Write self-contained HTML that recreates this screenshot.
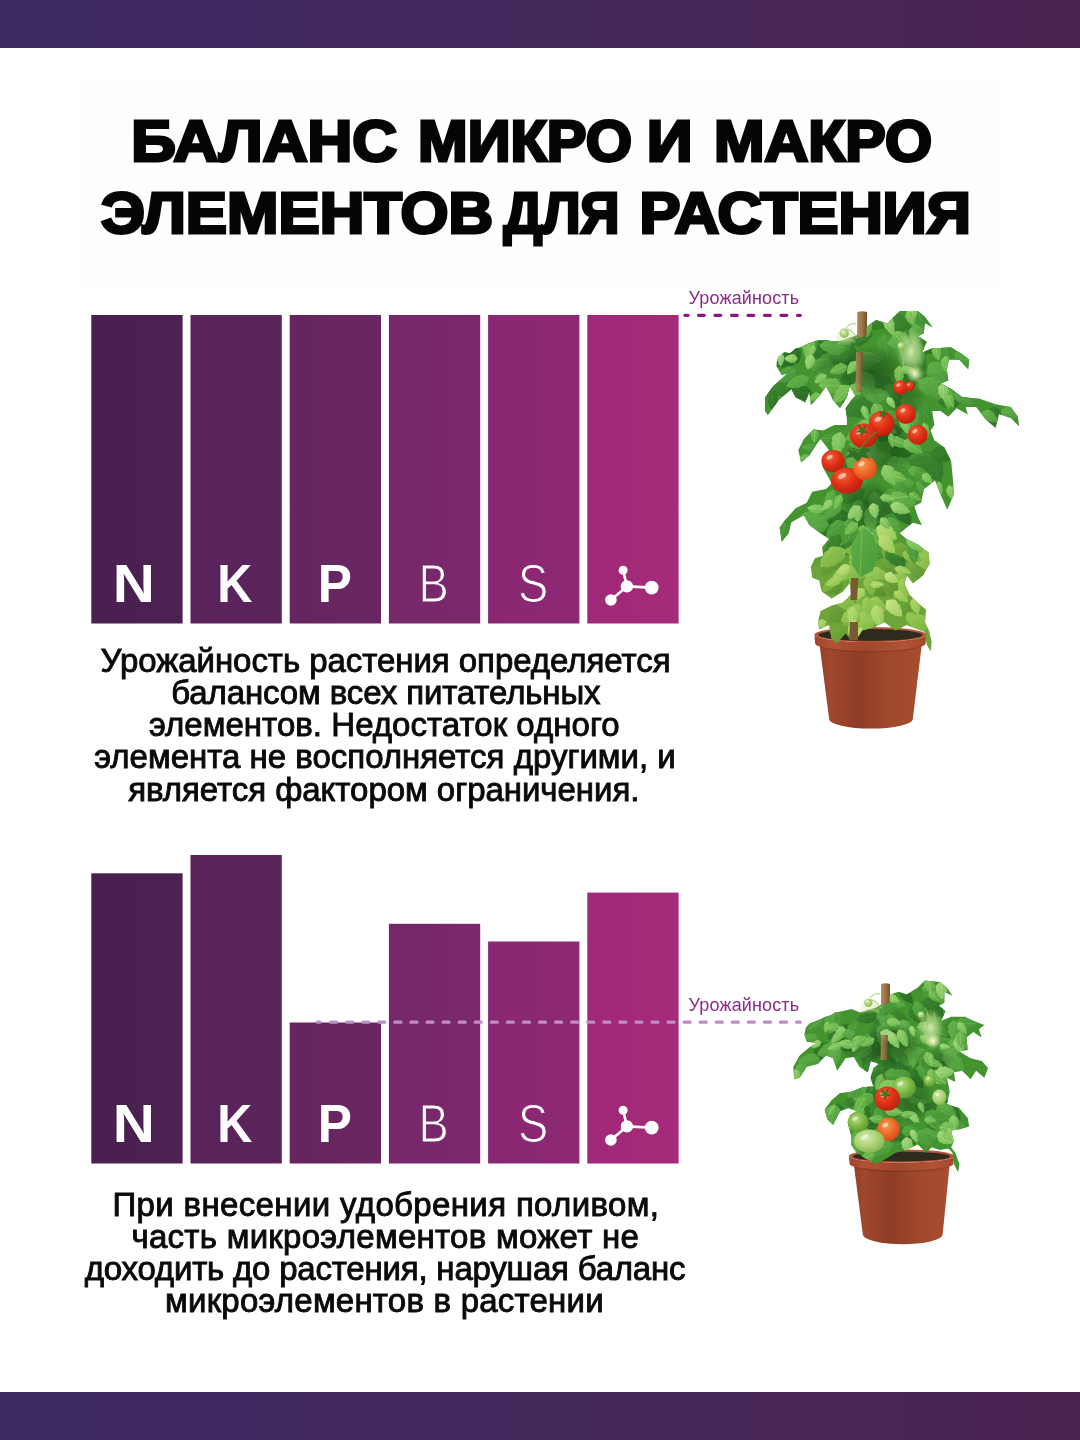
<!DOCTYPE html>
<html lang="ru"><head><meta charset="utf-8"><title>Баланс микро и макро элементов для растения</title>
<style>
html,body{margin:0;padding:0;background:#fff}
body{width:1080px;height:1440px;overflow:hidden;position:relative;font-family:"Liberation Sans",sans-serif}
svg{position:absolute;left:0;top:0;display:block}
text{font-family:"Liberation Sans",sans-serif}
.ttl{font-weight:700;font-size:57px;fill:#050505;stroke:#050505;stroke-width:3px;stroke-linejoin:miter}
.p{font-size:33px;fill:#0a0a0a;stroke:#0a0a0a;stroke-width:.9px;text-anchor:middle}
.lb{font-weight:700;font-size:54px;fill:#fff;text-anchor:middle}
.lt{font-size:54px;fill:#fff;text-anchor:middle;stroke-width:1.2px}
.cap{font-size:18px;fill:#8c2a8c}
</style></head>
<body>
<svg width="1080" height="1440" viewBox="0 0 1080 1440">
<defs>
<linearGradient id="hb" x1="0" x2="1" y1="0" y2="0"><stop offset="0" stop-color="#3d2a63"/><stop offset="0.5" stop-color="#44285c"/><stop offset="1" stop-color="#4a2350"/></linearGradient>
<linearGradient id="ag0" x1="0" x2="1" y1="0" y2="0"><stop offset="0" stop-color="#49204f"/><stop offset="1" stop-color="#4b2151"/></linearGradient><linearGradient id="ag1" x1="0" x2="1" y1="0" y2="0"><stop offset="0" stop-color="#59235a"/><stop offset="1" stop-color="#5c245c"/></linearGradient><linearGradient id="ag2" x1="0" x2="1" y1="0" y2="0"><stop offset="0" stop-color="#66255f"/><stop offset="1" stop-color="#6a2662"/></linearGradient><linearGradient id="ag3" x1="0" x2="1" y1="0" y2="0"><stop offset="0" stop-color="#76286a"/><stop offset="1" stop-color="#7a286b"/></linearGradient><linearGradient id="ag4" x1="0" x2="1" y1="0" y2="0"><stop offset="0" stop-color="#892872"/><stop offset="1" stop-color="#8e2874"/></linearGradient><linearGradient id="ag5" x1="0" x2="1" y1="0" y2="0"><stop offset="0" stop-color="#a02878"/><stop offset="1" stop-color="#a52a7a"/></linearGradient>
</defs>
<rect x="0" y="0" width="1080" height="48" fill="url(#hb)"/>
<rect x="0" y="1392" width="1080" height="48" fill="url(#hb)"/>
<rect x="80" y="78" width="920" height="208" fill="#fefefd"/>
<g id="title">
<text x="0" y="161.4" class="ttl" letter-spacing="0.06" transform="translate(131.2 0) scale(1.088 1)">БАЛАНС</text>
<text x="0" y="161.4" class="ttl" letter-spacing="0.03" transform="translate(418 0) scale(1.045 1)">МИКРО</text>
<text x="0" y="161.4" class="ttl" letter-spacing="0.0" transform="translate(646.7 0) scale(1.119 1)">И</text>
<text x="0" y="161.4" class="ttl" letter-spacing="-0.03" transform="translate(714.1 0) scale(1.064 1)">МАКРО</text>
<text x="0" y="233.4" class="ttl" letter-spacing="0.06" transform="translate(100.9 0) scale(1.082 1)">ЭЛЕМЕНТОВ</text>
<text x="0" y="233.4" class="ttl" letter-spacing="-0.15" transform="translate(503.5 0) scale(0.956 1)">ДЛЯ</text>
<text x="0" y="233.4" class="ttl" letter-spacing="-0.1" transform="translate(639.4 0) scale(1.077 1)">РАСТЕНИЯ</text>
</g>
<g id="chart1">
<rect x="91.3" y="315" width="91.3" height="308.5" fill="url(#ag0)"/>
<rect x="190.5" y="315" width="91.3" height="308.5" fill="url(#ag1)"/>
<rect x="289.7" y="315" width="91.3" height="308.5" fill="url(#ag2)"/>
<rect x="388.9" y="315" width="91.3" height="308.5" fill="url(#ag3)"/>
<rect x="488.1" y="315" width="91.3" height="308.5" fill="url(#ag4)"/>
<rect x="587.3" y="315" width="91.3" height="308.5" fill="url(#ag5)"/>
<text x="0" y="602" class="lb" transform="translate(133.8 0) scale(1.08 1)">N</text>
<text x="0" y="602" class="lb" transform="translate(234.8 0) scale(0.9 1)">K</text>
<text x="0" y="602" class="lb" transform="translate(334.9 0) scale(0.95 1)">P</text>
<text x="0" y="602" class="lt" stroke="#76286a" transform="translate(433.7 0) scale(.84 1)">B</text>
<text x="0" y="602" class="lt" stroke="#892872" transform="translate(533.0 0) scale(.84 1)">S</text>
<g transform="translate(0,0)" stroke="#fff" stroke-width="2.6" fill="#fff" stroke-linecap="round">
<line x1="623.1" y1="570.2" x2="626.9" y2="586.4"/><line x1="626.9" y1="586.4" x2="651.7" y2="587.6"/><line x1="626.9" y1="586.4" x2="610.9" y2="600"/>
<g stroke="none"><circle cx="623.1" cy="570.2" r="4.5"/><circle cx="626.9" cy="586.4" r="6.2"/><circle cx="651.7" cy="587.6" r="6.9"/><circle cx="610.9" cy="600" r="5.8"/></g></g>
<path d="M684.9 315.3h3.2M698.5 315.3H800.3" stroke="#8a168a" stroke-width="3.2" stroke-linecap="round" stroke-dasharray="5.8 10.7" fill="none"/>
<text x="688.6" y="304.4" class="cap" textLength="110.5" lengthAdjust="spacing">Урожайность</text>
</g>
<g id="para1">
<text x="385.5" y="672.3" class="p" letter-spacing="-0.044">Урожайность растения определяется</text>
<text x="385.9" y="704.2" class="p" letter-spacing="-0.112">балансом всех питательных</text>
<text x="384.3" y="736.4" class="p" letter-spacing="0.037">элементов. Недостаток одного</text>
<text x="385.0" y="768.4" class="p" letter-spacing="0.0">элемента не восполняется другими, и</text>
<text x="383.8" y="800.6" class="p" letter-spacing="-0.034">является фактором ограничения.</text>
</g>
<g id="chart2">
<rect x="91.3" y="873.3" width="91.3" height="290.2" fill="url(#ag0)"/>
<rect x="190.5" y="855" width="91.3" height="308.5" fill="url(#ag1)"/>
<rect x="289.7" y="1022.5" width="91.3" height="141.0" fill="url(#ag2)"/>
<rect x="388.9" y="923.8" width="91.3" height="239.7" fill="url(#ag3)"/>
<rect x="488.1" y="941.5" width="91.3" height="222.0" fill="url(#ag4)"/>
<rect x="587.3" y="892.6" width="91.3" height="270.9" fill="url(#ag5)"/>
<text x="0" y="1142" class="lb" transform="translate(133.8 0) scale(1.08 1)">N</text>
<text x="0" y="1142" class="lb" transform="translate(234.8 0) scale(0.9 1)">K</text>
<text x="0" y="1142" class="lb" transform="translate(334.9 0) scale(0.95 1)">P</text>
<text x="0" y="1142" class="lt" stroke="#76286a" transform="translate(433.7 0) scale(.84 1)">B</text>
<text x="0" y="1142" class="lt" stroke="#892872" transform="translate(533.0 0) scale(.84 1)">S</text>
<g transform="translate(0,540)" stroke="#fff" stroke-width="2.6" fill="#fff" stroke-linecap="round">
<line x1="623.1" y1="570.2" x2="626.9" y2="586.4"/><line x1="626.9" y1="586.4" x2="651.7" y2="587.6"/><line x1="626.9" y1="586.4" x2="610.9" y2="600"/>
<g stroke="none"><circle cx="623.1" cy="570.2" r="4.5"/><circle cx="626.9" cy="586.4" r="6.2"/><circle cx="651.7" cy="587.6" r="6.9"/><circle cx="610.9" cy="600" r="5.8"/></g></g>
<path d="M317.3 1022.2h2.6M330.6 1022.2H800.2" stroke="#be8dc5" stroke-width="3.3" stroke-linecap="round" stroke-dasharray="6 10.07" fill="none"/>
<text x="688.6" y="1011.2" class="cap" textLength="110.5" lengthAdjust="spacing">Урожайность</text>
</g>
<g id="para2">
<text x="385.9" y="1216" class="p" letter-spacing="0.357">При внесении удобрения поливом,</text>
<text x="385.3" y="1248.2" class="p" letter-spacing="0.286">часть микроэлементов может не</text>
<text x="385.0" y="1280.4" class="p" letter-spacing="-0.2">доходить до растения, нарушая баланс</text>
<text x="384.5" y="1312.4" class="p" letter-spacing="0.225">микроэлементов в растении</text>
</g>
<defs>
<radialGradient id="tr" cx=".38" cy=".32" r=".75"><stop offset="0" stop-color="#f4643a"/><stop offset=".45" stop-color="#e23418"/><stop offset="1" stop-color="#b81c0c"/></radialGradient>
<radialGradient id="to" cx=".4" cy=".35" r=".75"><stop offset="0" stop-color="#f59a52"/><stop offset=".5" stop-color="#ec6a28"/><stop offset="1" stop-color="#d4401a"/></radialGradient>
<radialGradient id="tg" cx=".4" cy=".35" r=".75"><stop offset="0" stop-color="#b8de7c"/><stop offset=".5" stop-color="#7cb844"/><stop offset="1" stop-color="#55902c"/></radialGradient>
<radialGradient id="tl" cx=".4" cy=".35" r=".75"><stop offset="0" stop-color="#d4ecae"/><stop offset=".55" stop-color="#a6cf72"/><stop offset="1" stop-color="#7cae48"/></radialGradient>
<linearGradient id="potb" x1="0" x2="1" y1="0" y2="0"><stop offset="0" stop-color="#93402a"/><stop offset=".1" stop-color="#a1472c"/><stop offset=".38" stop-color="#8f3d27"/><stop offset=".7" stop-color="#a1492d"/><stop offset="1" stop-color="#a84d2e"/></linearGradient>
<linearGradient id="potr" x1="0" x2="1" y1="0" y2="0"><stop offset="0" stop-color="#9c432a"/><stop offset=".15" stop-color="#b15236"/><stop offset=".45" stop-color="#a2462c"/><stop offset=".8" stop-color="#b05234"/><stop offset="1" stop-color="#a3482c"/></linearGradient>
<linearGradient id="stk" x1="0" x2="1" y1="0" y2="0"><stop offset="0" stop-color="#b08a58"/><stop offset=".5" stop-color="#9a7444"/><stop offset="1" stop-color="#6e4e2a"/></linearGradient>
<radialGradient id="shd"><stop offset="0" stop-color="#123c10" stop-opacity="1"/><stop offset=".6" stop-color="#123c10" stop-opacity=".6"/><stop offset="1" stop-color="#123c10" stop-opacity="0"/></radialGradient>
<radialGradient id="pale"><stop offset="0" stop-color="#e4f4c4" stop-opacity=".85"/><stop offset=".55" stop-color="#cfe8a4" stop-opacity=".5"/><stop offset="1" stop-color="#b8dc88" stop-opacity="0"/></radialGradient>
<radialGradient id="glow"><stop offset="0" stop-color="#ffffe8" stop-opacity=".95"/><stop offset=".5" stop-color="#e8f4b0" stop-opacity=".55"/><stop offset="1" stop-color="#cfe890" stop-opacity="0"/></radialGradient>
</defs>
<defs><linearGradient id="ld0" x1="0" y1="0" x2="1" y2="1"><stop offset="0" stop-color="#3a8630"/><stop offset="1" stop-color="#2c6e24"/></linearGradient><linearGradient id="ld1" x1="0" y1="0" x2="1" y2="1"><stop offset="0" stop-color="#34802a"/><stop offset="1" stop-color="#286822"/></linearGradient><linearGradient id="ld2" x1="0" y1="0" x2="1" y2="1"><stop offset="0" stop-color="#408c32"/><stop offset="1" stop-color="#30762a"/></linearGradient><linearGradient id="lm0" x1="0" y1="0" x2="1" y2="1"><stop offset="0" stop-color="#5aaa42"/><stop offset="1" stop-color="#43923a"/></linearGradient><linearGradient id="lm1" x1="0" y1="0" x2="1" y2="1"><stop offset="0" stop-color="#62b048"/><stop offset="1" stop-color="#48983c"/></linearGradient><linearGradient id="lm2" x1="0" y1="0" x2="1" y2="1"><stop offset="0" stop-color="#52a23c"/><stop offset="1" stop-color="#3c8a32"/></linearGradient><linearGradient id="lm3" x1="0" y1="0" x2="1" y2="1"><stop offset="0" stop-color="#6ab64c"/><stop offset="1" stop-color="#4c9c40"/></linearGradient><linearGradient id="ll0" x1="0" y1="0" x2="1" y2="1"><stop offset="0" stop-color="#88ca60"/><stop offset="1" stop-color="#5cac42"/></linearGradient><linearGradient id="ll1" x1="0" y1="0" x2="1" y2="1"><stop offset="0" stop-color="#7cc256"/><stop offset="1" stop-color="#54a43c"/></linearGradient><linearGradient id="ll2" x1="0" y1="0" x2="1" y2="1"><stop offset="0" stop-color="#98d26e"/><stop offset="1" stop-color="#66b44a"/></linearGradient><linearGradient id="ll3" x1="0" y1="0" x2="1" y2="1"><stop offset="0" stop-color="#acdc84"/><stop offset="1" stop-color="#70ba50"/></linearGradient><linearGradient id="lyd0" x1="0" y1="0" x2="1" y2="1"><stop offset="0" stop-color="#7fb244"/><stop offset="1" stop-color="#5a9430"/></linearGradient><linearGradient id="lyd1" x1="0" y1="0" x2="1" y2="1"><stop offset="0" stop-color="#74aa3e"/><stop offset="1" stop-color="#558e2e"/></linearGradient><linearGradient id="lym0" x1="0" y1="0" x2="1" y2="1"><stop offset="0" stop-color="#9ccb55"/><stop offset="1" stop-color="#74ad3e"/></linearGradient><linearGradient id="lym1" x1="0" y1="0" x2="1" y2="1"><stop offset="0" stop-color="#a8d35f"/><stop offset="1" stop-color="#7fb644"/></linearGradient><linearGradient id="lym2" x1="0" y1="0" x2="1" y2="1"><stop offset="0" stop-color="#90c34c"/><stop offset="1" stop-color="#6aa538"/></linearGradient><linearGradient id="lyl0" x1="0" y1="0" x2="1" y2="1"><stop offset="0" stop-color="#bfe07a"/><stop offset="1" stop-color="#92c650"/></linearGradient><linearGradient id="lyl1" x1="0" y1="0" x2="1" y2="1"><stop offset="0" stop-color="#b4d96c"/><stop offset="1" stop-color="#88bf48"/></linearGradient><linearGradient id="lyl2" x1="0" y1="0" x2="1" y2="1"><stop offset="0" stop-color="#cbe88c"/><stop offset="1" stop-color="#9ccc58"/></linearGradient></defs>
<g id="plant1">
<path d="M857.5 312L867 312L864 640L853 640z" fill="url(#stk)"/>
<path d="M819.4 643.5L829.2 719.3A41.8 9.3 0 0 0 912.8 719.3L921.9 643.5z" fill="url(#potb)"/><path d="M819.4 643.5A52.0 7.5 0 0 0 921.9 643.5L921.6 646.5A52.0 7.5 0 0 1 819.7 646.5z" fill="#6e2a14" opacity=".35"/><path d="M814.4 634.5L815.2 643.5A55.2 7.5 0 0 0 925.6 643.5L926.4 634.5A56.0 7.5 0 0 1 814.4 634.5z" fill="url(#potr)"/><ellipse cx="870.4" cy="634.5" rx="56.0" ry="7.5" fill="#b4553a"/><ellipse cx="870.4" cy="635.0" rx="52.0" ry="5.9" fill="#2e2a1d"/>
<clipPath id="c1"><path d="M862.2 334.7L866.9 326.4L876.1 320.0L887.2 323.6L899.7 311.1L917.8 311.1L924.7 316.7L933.1 327.8L924.7 322.8L923.9 333.3L917.8 336.1L926.7 341.7L921.9 352.8L931.7 348.6L951.1 347.2L962.2 354.2L969.2 359.7L968.3 369.4L959.4 359.7L948.9 359.7L946.9 369.4L948.3 380.6L940.6 383.3L951.1 388.9L962.2 397.2L978.9 398.6L995.6 404.2L1010.8 406.9L1017.8 416.7L1019.2 426.4L1010.8 418.1L998.9 413.9L995.6 427.8L985.8 419.4L976.1 406.9L965.6 406.9L967.8 414.4L956.7 408.3L948.3 416.7L940.6 411.1L932.2 411.1L934.4 425.0L930.6 430.6L934.4 440.3L944.2 447.2L951.1 461.1L952.8 477.8L953.9 494.4L947.2 509.7L940.6 494.4L935.0 480.6L923.9 488.9L921.1 502.8L914.4 506.1L917.8 516.7L921.9 525.0L912.8 522.8L899.7 533.3L906.7 538.9L917.8 544.4L928.9 552.8L929.4 563.9L923.3 575.0L912.8 583.3L907.2 575.6L904.4 583.3L909.4 594.4L917.8 602.8L926.1 609.7L925.0 622.2L928.9 630.6L931.7 641.7L930.6 651.4L926.7 644.4L924.7 631.9L917.8 629.2L906.7 625.0L895.6 630.6L884.4 622.2L873.3 627.8L862.2 630.6L856.7 638.9L849.7 638.9L845.6 633.3L837.2 643.1L831.7 638.9L828.9 625.0L819.2 629.2L817.8 622.2L820.6 611.1L831.7 605.6L842.8 602.8L851.1 594.4L849.7 583.3L842.8 591.7L831.7 598.6L821.9 591.7L819.2 580.6L812.2 577.8L810.8 566.7L815.0 558.3L823.3 555.6L821.9 547.2L828.9 538.9L820.6 533.3L809.4 525.0L803.9 515.3L791.4 522.2L788.6 533.3L781.7 541.7L779.7 527.8L784.4 520.8L795.6 508.3L806.7 502.8L812.2 491.7L826.1 488.9L831.7 483.3L822.5 466.7L823.3 455.6L828.9 450.0L820.6 438.9L816.4 444.4L809.4 455.6L801.1 462.5L798.3 450.0L803.9 438.9L813.6 429.2L823.3 430.6L834.4 425.0L846.9 425.0L846.9 419.4L845.6 408.3L851.1 400.0L855.3 395.8L849.7 386.1L846.9 397.2L840.0 408.3L833.1 400.0L826.1 386.1L820.6 394.4L810.8 405.6L809.4 391.7L805.3 402.8L795.6 397.2L791.4 388.9L778.9 400.0L767.8 415.3L765.0 411.1L765.0 397.2L773.3 386.1L787.2 373.6L781.7 375.0L776.7 366.7L776.7 361.7L778.1 356.9L784.4 352.2L790.0 353.3L795.6 348.6L801.7 346.7L807.2 343.9L818.3 340.3L826.7 340.3L835.0 341.7L843.3 340.3L850.3 337.5L857.2 335.6z"/></clipPath>
<g clip-path="url(#c1)">
<linearGradient id="c1bg" gradientUnits="userSpaceOnUse" x1="0" x2="0" y1="523" y2="573"><stop offset="0" stop-color="#43932f"/><stop offset="1" stop-color="#6da53a"/></linearGradient>
<rect x="763" y="309" width="258" height="344" fill="url(#c1bg)"/>
<path fill="url(#ld1)" d="M867.9 497.2Q869.4 495.2 872.6 493.1Q875.7 490.9 877.4 492.5Q879.1 494.0 880.9 493.4Q882.6 492.8 884.2 494.8Q885.8 496.8 887.2 496.9Q888.6 497.0 889.9 499.0Q891.2 500.9 892.4 502.5Q893.5 504.0 893.5 504.0Q893.5 504.0 891.9 505.0Q890.3 506.0 888.4 507.4Q886.5 508.8 885.2 508.5Q883.8 508.1 881.7 509.5Q879.5 510.8 878.0 509.6Q876.5 508.5 874.4 509.3Q872.3 510.1 870.1 507.1Q867.9 504.0 867.2 501.6Q866.5 499.2 866.5 499.2Q866.5 499.2 867.9 497.2z"/>
<path fill="url(#ld0)" d="M917.7 364.2Q919.8 364.2 922.8 365.2Q925.8 366.2 925.7 368.1Q925.6 370.0 926.9 370.8Q928.2 371.7 927.7 373.8Q927.2 375.9 927.8 376.9Q928.5 377.8 927.9 379.7Q927.3 381.6 926.9 383.1Q926.5 384.6 926.5 384.6Q926.5 384.6 925.0 384.1Q923.5 383.6 921.6 383.1Q919.7 382.5 919.3 381.4Q918.8 380.4 916.8 379.6Q914.8 378.8 914.8 377.3Q914.8 375.7 913.2 374.7Q911.5 373.8 912.4 370.7Q913.2 367.7 914.4 366.0Q915.6 364.3 915.6 364.3Q915.6 364.3 917.7 364.2z"/>
<path fill="url(#ld2)" d="M921.2 354.2Q922.7 354.8 924.6 356.8Q926.5 358.8 926.0 360.5Q925.6 362.2 926.3 363.5Q927.1 364.7 926.3 366.5Q925.5 368.2 925.8 369.3Q926.0 370.4 925.2 371.9Q924.4 373.5 923.8 374.7Q923.2 375.9 923.2 375.9Q923.2 375.9 922.3 374.9Q921.3 373.9 920.1 372.7Q918.9 371.6 918.8 370.4Q918.6 369.3 917.4 367.9Q916.1 366.5 916.5 365.0Q916.8 363.6 915.8 362.1Q914.9 360.7 916.1 358.2Q917.3 355.7 918.5 354.6Q919.7 353.5 919.7 353.5Q919.7 353.5 921.2 354.2z"/>
<path fill="url(#lyd0)" d="M909.2 565.6Q911.4 564.8 915.2 564.8Q919.0 564.8 919.7 567.0Q920.4 569.1 922.3 569.6Q924.1 570.1 924.5 572.7Q924.9 575.2 926.0 576.1Q927.1 576.9 927.3 579.3Q927.5 581.6 927.7 583.5Q927.9 585.3 927.9 585.3Q927.9 585.3 926.0 585.3Q924.1 585.3 921.8 585.3Q919.5 585.4 918.5 584.4Q917.5 583.4 914.9 583.3Q912.4 583.1 911.7 581.4Q911.0 579.6 908.8 579.1Q906.6 578.7 906.1 574.9Q905.7 571.1 906.3 568.8Q906.9 566.4 906.9 566.4Q906.9 566.4 909.2 565.6z"/>
<path fill="url(#ld2)" d="M928.8 451.5Q931.9 451.5 936.3 453.1Q940.8 454.7 940.5 457.5Q940.3 460.2 942.2 461.6Q944.1 462.9 943.3 466.0Q942.5 469.0 943.3 470.5Q944.2 471.9 943.2 474.7Q942.3 477.4 941.6 479.7Q941.0 481.9 941.0 481.9Q941.0 481.9 938.8 481.1Q936.6 480.3 933.8 479.4Q931.1 478.5 930.4 476.9Q929.8 475.4 926.8 474.2Q923.9 473.0 924.0 470.7Q924.1 468.4 921.7 466.9Q919.3 465.4 920.7 460.9Q922.1 456.4 923.9 454.0Q925.8 451.6 925.8 451.6Q925.8 451.6 928.8 451.5z"/>
<path fill="url(#ld0)" d="M848.6 376.4Q850.2 377.8 851.9 380.9Q853.6 384.0 852.4 385.9Q851.2 387.7 851.7 389.5Q852.1 391.4 850.6 393.2Q849.0 395.0 848.9 396.4Q848.7 397.9 847.2 399.4Q845.6 400.9 844.4 402.2Q843.2 403.5 843.2 403.5Q843.2 403.5 842.4 402.0Q841.6 400.4 840.5 398.5Q839.4 396.6 839.7 395.2Q839.9 393.8 838.9 391.6Q837.8 389.5 838.8 387.8Q839.7 386.2 839.0 384.1Q838.3 382.0 840.8 379.4Q843.2 376.8 845.1 375.9Q847.0 375.0 847.0 375.0Q847.0 375.0 848.6 376.4z"/>
<path fill="url(#ld0)" d="M930.7 452.0Q932.0 450.0 935.1 447.5Q938.2 445.0 940.4 446.1Q942.6 447.2 944.5 446.4Q946.3 445.5 948.6 447.0Q950.8 448.6 952.3 448.5Q953.9 448.4 955.8 449.9Q957.7 451.4 959.3 452.6Q960.8 453.8 960.8 453.8Q960.8 453.8 959.3 455.0Q957.7 456.2 955.9 457.8Q954.0 459.4 952.4 459.3Q950.9 459.2 948.7 460.8Q946.5 462.4 944.6 461.6Q942.7 460.8 940.6 461.9Q938.4 463.0 935.2 460.6Q932.1 458.2 930.8 456.2Q929.5 454.1 929.5 454.1Q929.5 454.1 930.7 452.0z"/>
<path fill="url(#ld1)" d="M836.4 338.5Q837.1 340.4 837.0 343.6Q836.9 346.8 835.1 347.4Q833.2 348.0 832.8 349.6Q832.3 351.1 830.2 351.5Q828.1 351.8 827.3 352.7Q826.5 353.7 824.6 353.8Q822.6 354.0 821.0 354.2Q819.5 354.4 819.5 354.4Q819.5 354.4 819.5 352.8Q819.6 351.2 819.6 349.2Q819.6 347.3 820.4 346.4Q821.3 345.6 821.5 343.4Q821.6 341.3 823.1 340.7Q824.6 340.1 825.1 338.2Q825.5 336.4 828.7 336.0Q831.9 335.6 833.8 336.1Q835.8 336.6 835.8 336.6Q835.8 336.6 836.4 338.5z"/>
<path fill="url(#lyd1)" d="M856.7 605.6Q857.0 608.4 855.8 612.8Q854.7 617.2 852.0 617.4Q849.2 617.6 848.1 619.6Q847.0 621.6 843.9 621.3Q840.9 621.1 839.6 622.1Q838.2 623.1 835.5 622.7Q832.7 622.2 830.5 622.0Q828.2 621.7 828.2 621.7Q828.2 621.7 828.8 619.6Q829.4 617.4 830.0 614.7Q830.6 611.9 832.1 611.1Q833.6 610.2 834.5 607.3Q835.4 604.4 837.6 604.1Q839.9 603.8 841.1 601.3Q842.3 598.9 846.8 599.4Q851.3 600.0 853.8 601.4Q856.4 602.7 856.4 602.7Q856.4 602.7 856.7 605.6z"/>
<path fill="url(#ld2)" d="M871.2 328.0Q872.2 329.9 872.6 333.2Q872.9 336.5 871.1 337.4Q869.3 338.2 869.1 339.9Q868.8 341.5 866.7 342.2Q864.5 342.8 863.9 343.9Q863.3 344.9 861.2 345.4Q859.2 345.8 857.6 346.2Q856.0 346.6 856.0 346.6Q856.0 346.6 855.9 345.0Q855.7 343.3 855.4 341.3Q855.1 339.3 855.9 338.3Q856.7 337.3 856.5 335.1Q856.3 332.9 857.8 332.1Q859.3 331.3 859.4 329.3Q859.6 327.3 862.8 326.5Q866.1 325.7 868.2 325.9Q870.3 326.2 870.3 326.2Q870.3 326.2 871.2 328.0z"/>
<path fill="url(#ld0)" d="M875.2 501.4Q876.9 499.8 880.3 498.3Q883.7 496.7 885.5 498.2Q887.2 499.8 889.1 499.4Q891.0 499.1 892.7 501.0Q894.3 503.0 895.8 503.2Q897.2 503.5 898.6 505.4Q900.0 507.3 901.1 508.7Q902.3 510.2 902.3 510.2Q902.3 510.2 900.6 510.9Q898.9 511.7 896.8 512.7Q894.7 513.7 893.3 513.3Q891.9 512.8 889.5 513.8Q887.1 514.7 885.6 513.6Q884.1 512.4 881.8 512.9Q879.6 513.4 877.3 510.4Q875.0 507.5 874.3 505.3Q873.6 503.1 873.6 503.1Q873.6 503.1 875.2 501.4z"/>
<path fill="url(#lyd0)" d="M910.9 547.4Q913.1 546.6 917.0 546.6Q920.9 546.7 921.8 548.9Q922.7 551.1 924.7 551.7Q926.6 552.2 927.2 554.8Q927.8 557.3 929.0 558.3Q930.2 559.2 930.6 561.5Q931.0 563.9 931.3 565.8Q931.7 567.7 931.7 567.7Q931.7 567.7 929.8 567.6Q927.8 567.6 925.4 567.6Q923.0 567.7 921.9 566.6Q920.8 565.6 918.2 565.4Q915.6 565.2 914.7 563.4Q913.9 561.6 911.5 561.1Q909.2 560.6 908.5 556.8Q907.8 552.9 908.2 550.6Q908.6 548.2 908.6 548.2Q908.6 548.2 910.9 547.4z"/>
<path fill="url(#lyd1)" d="M838.6 550.8Q840.1 553.0 841.2 557.1Q842.3 561.2 840.1 562.7Q838.0 564.1 838.0 566.2Q838.0 568.4 835.4 569.6Q832.8 570.7 832.1 572.2Q831.5 573.7 829.0 574.6Q826.6 575.5 824.6 576.3Q822.7 577.1 822.7 577.1Q822.7 577.1 822.2 575.1Q821.7 573.0 820.9 570.5Q820.2 568.0 821.0 566.6Q821.8 565.2 821.2 562.4Q820.6 559.6 822.3 558.3Q824.0 557.1 823.9 554.5Q823.8 551.9 827.7 550.3Q831.6 548.8 834.3 548.7Q837.0 548.6 837.0 548.6Q837.0 548.6 838.6 550.8z"/>
<path fill="url(#ld2)" d="M796.0 391.0Q794.7 392.9 791.8 395.2Q788.8 397.4 786.7 396.3Q784.7 395.3 782.9 396.0Q781.2 396.7 779.1 395.2Q777.1 393.7 775.6 393.8Q774.2 393.9 772.4 392.4Q770.7 390.9 769.2 389.7Q767.8 388.6 767.8 388.6Q767.8 388.6 769.3 387.5Q770.8 386.4 772.6 384.9Q774.4 383.5 775.8 383.6Q777.3 383.7 779.4 382.3Q781.5 380.9 783.2 381.7Q784.9 382.5 787.0 381.5Q789.1 380.5 792.0 382.8Q794.9 385.2 796.0 387.1Q797.2 389.1 797.2 389.1Q797.2 389.1 796.0 391.0z"/>
<path fill="url(#ld0)" d="M844.8 466.0Q843.6 467.7 840.8 469.6Q838.0 471.4 836.4 470.2Q834.7 469.1 833.1 469.6Q831.5 470.2 829.9 468.6Q828.3 467.0 827.0 466.9Q825.8 466.8 824.4 465.3Q823.1 463.7 822.0 462.5Q820.8 461.3 820.8 461.3Q820.8 461.3 822.2 460.4Q823.6 459.5 825.3 458.2Q826.9 457.0 828.2 457.3Q829.4 457.5 831.4 456.3Q833.3 455.1 834.7 456.1Q836.2 457.0 838.0 456.2Q839.9 455.4 842.2 457.9Q844.4 460.4 845.2 462.3Q846.0 464.3 846.0 464.3Q846.0 464.3 844.8 466.0z"/>
<path fill="url(#ld1)" d="M801.2 352.6Q801.5 355.2 800.4 359.1Q799.4 363.0 797.0 363.1Q794.6 363.2 793.6 365.0Q792.6 366.7 789.9 366.4Q787.2 366.1 786.0 367.0Q784.8 367.9 782.4 367.5Q779.9 367.0 777.9 366.7Q775.9 366.4 775.9 366.4Q775.9 366.4 776.5 364.5Q777.0 362.5 777.5 360.1Q778.1 357.7 779.4 356.9Q780.7 356.2 781.5 353.6Q782.3 351.0 784.3 350.8Q786.3 350.6 787.3 348.4Q788.4 346.2 792.4 346.8Q796.4 347.5 798.7 348.7Q800.9 350.0 800.9 350.0Q800.9 350.0 801.2 352.6z"/>
<path fill="url(#lyd0)" d="M884.9 549.4Q886.8 549.5 889.5 550.8Q892.3 552.1 892.1 554.0Q891.9 555.8 893.1 556.8Q894.2 557.8 893.7 559.8Q893.2 561.7 893.7 562.8Q894.2 563.8 893.6 565.5Q893.0 567.3 892.6 568.7Q892.1 570.2 892.1 570.2Q892.1 570.2 890.8 569.5Q889.5 568.9 887.7 568.1Q886.0 567.3 885.6 566.3Q885.3 565.2 883.5 564.2Q881.6 563.3 881.7 561.7Q881.8 560.2 880.3 559.1Q878.9 558.0 879.8 555.1Q880.6 552.2 881.8 550.7Q883.0 549.2 883.0 549.2Q883.0 549.2 884.9 549.4z"/>
<path fill="url(#ld0)" d="M867.6 500.2Q868.6 501.6 869.2 504.3Q869.9 507.1 868.5 508.3Q867.2 509.5 867.2 511.0Q867.2 512.5 865.6 513.6Q863.9 514.6 863.5 515.7Q863.1 516.8 861.6 517.7Q860.1 518.5 858.9 519.3Q857.7 520.0 857.7 520.0Q857.7 520.0 857.4 518.6Q857.1 517.2 856.6 515.5Q856.2 513.9 856.7 512.8Q857.2 511.8 856.8 509.9Q856.5 508.0 857.5 506.9Q858.6 505.9 858.5 504.1Q858.5 502.3 860.9 500.8Q863.3 499.3 865.0 499.1Q866.7 498.8 866.7 498.8Q866.7 498.8 867.6 500.2z"/>
<path fill="url(#ld2)" d="M869.8 410.0Q872.0 410.7 875.0 413.0Q878.0 415.2 877.4 417.5Q876.8 419.7 878.0 421.2Q879.2 422.7 878.1 425.0Q877.1 427.3 877.5 428.7Q877.9 430.1 876.8 432.2Q875.7 434.2 874.9 435.9Q874.1 437.6 874.1 437.6Q874.1 437.6 872.6 436.4Q871.1 435.3 869.2 433.9Q867.3 432.6 867.1 431.2Q866.9 429.7 864.9 428.1Q862.9 426.5 863.3 424.6Q863.7 422.7 862.2 421.0Q860.7 419.3 862.4 415.9Q864.1 412.5 865.8 410.9Q867.5 409.3 867.5 409.3Q867.5 409.3 869.8 410.0z"/>
<path fill="url(#ld1)" d="M877.8 378.2Q880.4 377.2 884.6 377.1Q888.8 377.0 889.6 379.4Q890.5 381.8 892.5 382.3Q894.6 382.8 895.1 385.6Q895.5 388.4 896.8 389.4Q898.1 390.3 898.3 392.9Q898.6 395.5 898.9 397.6Q899.2 399.6 899.2 399.6Q899.2 399.6 897.1 399.7Q895.0 399.7 892.4 399.9Q889.8 400.0 888.6 398.9Q887.5 397.8 884.7 397.8Q881.8 397.7 881.0 395.7Q880.2 393.8 877.7 393.3Q875.2 392.9 874.7 388.7Q874.1 384.5 874.7 381.9Q875.3 379.3 875.3 379.3Q875.3 379.3 877.8 378.2z"/>
<path fill="url(#lyd1)" d="M886.8 559.2Q888.7 558.3 892.3 557.9Q895.8 557.6 896.9 559.5Q898.0 561.3 899.9 561.6Q901.7 561.9 902.6 564.1Q903.5 566.3 904.7 567.0Q906.0 567.7 906.7 569.7Q907.4 571.8 908.0 573.4Q908.6 575.1 908.6 575.1Q908.6 575.1 906.9 575.2Q905.1 575.3 903.0 575.6Q900.8 575.9 899.7 575.1Q898.5 574.3 896.1 574.4Q893.7 574.5 892.7 573.0Q891.7 571.5 889.5 571.3Q887.3 571.0 886.1 567.7Q884.9 564.4 884.9 562.3Q884.9 560.2 884.9 560.2Q884.9 560.2 886.8 559.2z"/>
<path fill="url(#ld0)" d="M842.4 520.5Q842.6 523.1 841.3 527.1Q840.1 531.1 837.5 531.4Q834.9 531.6 833.8 533.5Q832.7 535.3 829.8 535.1Q827.0 535.0 825.7 535.9Q824.4 536.9 821.8 536.6Q819.2 536.2 817.2 536.1Q815.1 535.9 815.1 535.9Q815.1 535.9 815.7 533.9Q816.4 531.9 817.1 529.4Q817.8 526.9 819.2 526.1Q820.6 525.3 821.6 522.6Q822.6 520.0 824.7 519.6Q826.8 519.3 828.0 517.1Q829.3 514.8 833.5 515.2Q837.6 515.6 840.0 516.8Q842.3 517.9 842.3 517.9Q842.3 517.9 842.4 520.5z"/>
<path fill="url(#ld0)" d="M853.7 345.8Q855.5 348.0 857.0 352.0Q858.4 356.1 856.3 357.4Q854.1 358.8 854.3 360.9Q854.4 363.0 851.8 364.1Q849.1 365.2 848.6 366.7Q848.0 368.1 845.5 368.9Q843.0 369.8 841.0 370.5Q839.0 371.3 839.0 371.3Q839.0 371.3 838.3 369.3Q837.6 367.3 836.6 364.8Q835.6 362.3 836.4 361.0Q837.1 359.6 836.3 356.9Q835.4 354.1 837.1 352.9Q838.8 351.7 838.5 349.1Q838.1 346.6 842.2 345.1Q846.2 343.7 849.0 343.6Q851.9 343.6 851.9 343.6Q851.9 343.6 853.7 345.8z"/>
<path fill="url(#ld2)" d="M847.9 381.6Q847.6 384.0 845.8 387.4Q844.0 390.7 841.7 390.3Q839.5 389.9 838.2 391.3Q836.9 392.7 834.4 391.8Q832.0 390.9 830.7 391.5Q829.4 392.1 827.3 391.1Q825.1 390.1 823.4 389.4Q821.6 388.7 821.6 388.7Q821.6 388.7 822.6 387.1Q823.5 385.4 824.5 383.3Q825.5 381.2 826.9 380.8Q828.3 380.4 829.6 378.2Q830.9 376.0 832.8 376.2Q834.7 376.5 836.1 374.7Q837.6 373.0 841.1 374.4Q844.6 375.9 846.4 377.5Q848.2 379.2 848.2 379.2Q848.2 379.2 847.9 381.6z"/>
<path fill="url(#ld1)" d="M849.1 517.0Q848.3 519.1 846.0 521.9Q843.6 524.8 841.4 524.2Q839.3 523.6 837.7 524.7Q836.2 525.8 833.9 524.8Q831.6 523.8 830.2 524.2Q828.8 524.5 826.9 523.5Q824.9 522.4 823.2 521.6Q821.6 520.8 821.6 520.8Q821.6 520.8 822.8 519.4Q823.9 518.1 825.3 516.3Q826.7 514.5 828.2 514.3Q829.6 514.1 831.3 512.2Q832.9 510.4 834.8 510.8Q836.6 511.2 838.4 509.7Q840.2 508.3 843.5 509.9Q846.7 511.6 848.3 513.2Q849.8 514.9 849.8 514.9Q849.8 514.9 849.1 517.0z"/>
<path fill="url(#ld2)" d="M911.2 461.4Q912.3 459.3 915.2 456.8Q918.2 454.4 920.3 455.4Q922.4 456.4 924.1 455.6Q925.9 454.7 928.0 456.2Q930.1 457.7 931.6 457.5Q933.1 457.4 934.9 458.9Q936.7 460.4 938.2 461.5Q939.8 462.6 939.8 462.6Q939.8 462.6 938.3 463.9Q936.8 465.1 935.1 466.6Q933.4 468.2 931.9 468.2Q930.4 468.1 928.4 469.7Q926.3 471.3 924.5 470.5Q922.7 469.8 920.7 470.9Q918.6 472.1 915.6 469.7Q912.6 467.4 911.3 465.4Q910.1 463.4 910.1 463.4Q910.1 463.4 911.2 461.4z"/>
<path fill="url(#ld2)" d="M837.7 542.2Q838.9 544.1 839.7 547.8Q840.5 551.5 838.7 553.0Q836.9 554.6 836.8 556.6Q836.8 558.5 834.6 559.9Q832.3 561.2 831.8 562.6Q831.2 564.1 829.1 565.1Q827.0 566.2 825.4 567.1Q823.7 568.1 823.7 568.1Q823.7 568.1 823.3 566.2Q823.0 564.3 822.4 562.1Q821.8 559.8 822.5 558.4Q823.3 557.1 822.8 554.5Q822.4 552.0 823.8 550.6Q825.3 549.3 825.2 546.9Q825.2 544.5 828.5 542.7Q831.9 540.9 834.2 540.5Q836.4 540.2 836.4 540.2Q836.4 540.2 837.7 542.2z"/>
<path fill="url(#ld2)" d="M868.6 548.9Q867.5 551.1 864.4 554.0Q861.3 556.8 858.8 556.0Q856.3 555.1 854.4 556.1Q852.4 557.2 849.9 555.9Q847.4 554.5 845.7 554.8Q844.0 555.0 841.8 553.7Q839.6 552.3 837.8 551.2Q836.0 550.2 836.0 550.2Q836.0 550.2 837.5 548.8Q839.1 547.4 841.0 545.5Q842.8 543.7 844.5 543.6Q846.2 543.6 848.4 541.7Q850.6 539.9 852.7 540.5Q854.8 541.1 857.1 539.7Q859.3 538.4 863.0 540.5Q866.6 542.7 868.2 544.6Q869.8 546.6 869.8 546.6Q869.8 546.6 868.6 548.9z"/>
<path fill="url(#ld2)" d="M931.2 383.2Q932.6 381.5 935.6 379.8Q938.6 378.2 940.3 379.5Q941.9 380.8 943.6 380.4Q945.3 379.9 946.9 381.7Q948.5 383.4 949.8 383.6Q951.1 383.8 952.4 385.5Q953.7 387.2 954.9 388.5Q956.0 389.8 956.0 389.8Q956.0 389.8 954.4 390.6Q952.9 391.4 951.1 392.5Q949.3 393.6 948.0 393.3Q946.7 393.0 944.6 394.0Q942.5 395.1 941.0 394.0Q939.6 393.0 937.6 393.6Q935.6 394.3 933.4 391.6Q931.2 388.9 930.5 386.9Q929.8 384.8 929.8 384.8Q929.8 384.8 931.2 383.2z"/>
<path fill="url(#lyd1)" d="M888.7 576.7Q890.9 577.0 894.2 578.7Q897.5 580.5 897.5 582.8Q897.4 585.1 898.9 586.4Q900.3 587.7 899.9 590.2Q899.5 592.7 900.2 594.0Q900.9 595.3 900.4 597.6Q899.8 599.8 899.5 601.6Q899.1 603.4 899.1 603.4Q899.1 603.4 897.5 602.6Q895.8 601.7 893.8 600.7Q891.7 599.7 891.1 598.3Q890.6 596.9 888.4 595.6Q886.2 594.3 886.1 592.4Q886.1 590.5 884.3 589.0Q882.4 587.5 883.2 583.9Q884.0 580.2 885.2 578.3Q886.4 576.5 886.4 576.5Q886.4 576.5 888.7 576.7z"/>
<path fill="url(#ld2)" d="M866.0 341.3Q864.9 343.1 862.1 345.1Q859.4 347.2 857.5 346.2Q855.6 345.2 854.0 345.9Q852.3 346.5 850.5 345.2Q848.6 343.8 847.3 343.8Q845.9 343.9 844.3 342.5Q842.7 341.1 841.4 340.0Q840.1 339.0 840.1 339.0Q840.1 339.0 841.4 338.0Q842.8 337.0 844.5 335.7Q846.1 334.3 847.5 334.5Q848.8 334.6 850.7 333.3Q852.7 332.0 854.3 332.7Q855.9 333.5 857.8 332.6Q859.7 331.6 862.4 333.8Q865.0 336.0 866.1 337.8Q867.1 339.6 867.1 339.6Q867.1 339.6 866.0 341.3z"/>
<path fill="url(#ld2)" d="M859.8 319.7Q861.3 317.8 864.6 315.9Q868.0 313.9 870.1 315.1Q872.2 316.4 874.1 315.8Q876.1 315.2 878.1 316.9Q880.2 318.6 881.7 318.7Q883.3 318.7 885.0 320.4Q886.8 322.1 888.2 323.3Q889.7 324.6 889.7 324.6Q889.7 324.6 888.0 325.6Q886.3 326.6 884.3 327.9Q882.3 329.1 880.7 328.9Q879.1 328.6 876.8 329.9Q874.5 331.2 872.7 330.2Q870.9 329.2 868.6 330.0Q866.3 330.9 863.4 328.2Q860.5 325.6 859.4 323.6Q858.4 321.5 858.4 321.5Q858.4 321.5 859.8 319.7z"/>
<path fill="url(#ld2)" d="M890.0 546.3Q892.4 545.7 896.2 546.1Q899.9 546.5 900.2 548.7Q900.5 550.9 902.3 551.6Q904.0 552.3 903.9 554.8Q903.9 557.4 904.8 558.4Q905.8 559.4 905.5 561.7Q905.3 564.0 905.1 565.9Q905.0 567.8 905.0 567.8Q905.0 567.8 903.2 567.6Q901.3 567.4 898.9 567.2Q896.6 567.0 895.8 565.9Q895.0 564.8 892.5 564.4Q889.9 564.0 889.6 562.2Q889.2 560.4 887.1 559.7Q884.9 559.0 885.2 555.2Q885.5 551.4 886.5 549.1Q887.5 546.9 887.5 546.9Q887.5 546.9 890.0 546.3z"/>
<path fill="url(#ld2)" d="M875.8 487.5Q878.2 488.2 881.3 490.5Q884.4 492.8 883.8 495.1Q883.1 497.4 884.3 498.9Q885.5 500.5 884.4 502.9Q883.3 505.3 883.7 506.7Q884.1 508.1 882.9 510.2Q881.7 512.3 880.8 514.0Q879.9 515.7 879.9 515.7Q879.9 515.7 878.4 514.6Q876.8 513.4 874.9 512.0Q872.9 510.6 872.7 509.1Q872.4 507.7 870.4 506.0Q868.3 504.3 868.8 502.4Q869.3 500.5 867.7 498.7Q866.1 496.9 867.9 493.5Q869.8 490.0 871.6 488.4Q873.5 486.8 873.5 486.8Q873.5 486.8 875.8 487.5z"/>
<path fill="url(#ld2)" d="M909.4 405.9Q911.4 406.9 913.7 409.4Q916.0 411.8 915.0 413.5Q913.9 415.2 914.7 416.7Q915.5 418.2 914.0 419.9Q912.4 421.6 912.5 422.8Q912.6 424.1 911.1 425.5Q909.6 427.0 908.4 428.2Q907.3 429.4 907.3 429.4Q907.3 429.4 906.1 428.2Q905.0 427.0 903.5 425.5Q902.0 424.0 902.1 422.8Q902.2 421.6 900.7 419.8Q899.2 418.1 900.0 416.6Q900.8 415.2 899.7 413.5Q898.7 411.7 901.0 409.3Q903.4 406.9 905.4 405.9Q907.4 404.9 907.4 404.9Q907.4 404.9 909.4 405.9z"/>
<path fill="url(#ld2)" d="M889.5 499.6Q891.0 498.9 893.9 498.6Q896.7 498.4 897.7 499.8Q898.8 501.2 900.3 501.4Q901.8 501.7 902.7 503.4Q903.6 505.1 904.7 505.6Q905.7 506.1 906.5 507.7Q907.2 509.3 907.8 510.5Q908.4 511.8 908.4 511.8Q908.4 511.8 907.0 511.9Q905.6 512.0 903.9 512.3Q902.2 512.5 901.2 511.9Q900.2 511.2 898.2 511.3Q896.3 511.4 895.4 510.3Q894.4 509.1 892.6 508.9Q890.8 508.8 889.6 506.2Q888.3 503.7 888.2 502.0Q888.1 500.4 888.1 500.4Q888.1 500.4 889.5 499.6z"/>
<path fill="url(#ld2)" d="M892.4 314.8Q894.9 313.8 899.1 313.8Q903.2 313.8 904.1 316.2Q904.9 318.6 907.0 319.2Q909.0 319.7 909.5 322.5Q910.1 325.3 911.3 326.2Q912.6 327.2 912.9 329.8Q913.1 332.3 913.4 334.4Q913.7 336.5 913.7 336.5Q913.7 336.5 911.7 336.4Q909.6 336.4 907.0 336.5Q904.4 336.6 903.3 335.4Q902.2 334.3 899.3 334.2Q896.5 334.1 895.7 332.1Q894.9 330.2 892.4 329.7Q889.9 329.1 889.3 325.0Q888.8 320.9 889.3 318.3Q889.9 315.7 889.9 315.7Q889.9 315.7 892.4 314.8z"/>
<path fill="url(#ld1)" d="M890.4 449.4Q891.6 447.7 894.2 445.7Q896.9 443.8 898.6 444.8Q900.3 445.9 901.8 445.3Q903.4 444.6 905.1 446.1Q906.7 447.6 908.0 447.6Q909.3 447.6 910.7 449.0Q912.1 450.5 913.3 451.6Q914.5 452.7 914.5 452.7Q914.5 452.7 913.2 453.6Q911.9 454.6 910.3 455.9Q908.7 457.1 907.4 457.0Q906.2 456.8 904.3 458.1Q902.5 459.3 901.0 458.5Q899.5 457.7 897.7 458.5Q895.9 459.4 893.5 457.1Q891.1 454.8 890.2 453.0Q889.3 451.1 889.3 451.1Q889.3 451.1 890.4 449.4z"/>
<path fill="url(#lyd1)" d="M865.4 580.0Q867.3 579.2 870.8 579.1Q874.2 578.9 875.4 580.8Q876.5 582.7 878.3 583.0Q880.1 583.4 881.0 585.6Q882.0 587.8 883.2 588.5Q884.4 589.2 885.1 591.3Q885.8 593.3 886.4 594.9Q887.0 596.5 887.0 596.5Q887.0 596.5 885.3 596.6Q883.5 596.6 881.4 596.8Q879.2 596.9 878.1 596.1Q877.0 595.2 874.6 595.2Q872.2 595.2 871.2 593.7Q870.2 592.2 868.0 591.9Q865.8 591.5 864.6 588.3Q863.4 585.0 863.4 582.9Q863.5 580.8 863.5 580.8Q863.5 580.8 865.4 580.0z"/>
<path fill="url(#ld0)" d="M773.5 389.3Q774.9 390.1 776.6 392.3Q778.4 394.5 777.7 396.1Q777.0 397.7 777.6 399.0Q778.3 400.3 777.3 401.9Q776.3 403.5 776.4 404.7Q776.5 405.8 775.5 407.2Q774.5 408.6 773.7 409.7Q772.9 410.9 772.9 410.9Q772.9 410.9 772.1 409.8Q771.2 408.7 770.1 407.4Q769.0 406.1 769.0 405.0Q769.0 403.8 767.9 402.3Q766.8 400.8 767.3 399.4Q767.8 398.1 767.0 396.5Q766.2 395.0 767.7 392.7Q769.3 390.4 770.7 389.4Q772.0 388.5 772.0 388.5Q772.0 388.5 773.5 389.3z"/>
<path fill="url(#lyd1)" d="M840.7 547.1Q842.3 548.3 844.1 550.9Q845.8 553.5 844.6 555.0Q843.4 556.4 843.9 557.9Q844.4 559.4 842.8 560.8Q841.2 562.2 841.1 563.4Q841.0 564.5 839.4 565.7Q837.8 566.9 836.6 567.8Q835.4 568.8 835.4 568.8Q835.4 568.8 834.5 567.5Q833.7 566.2 832.5 564.6Q831.4 563.0 831.6 561.9Q831.9 560.7 830.8 558.9Q829.7 557.1 830.6 555.8Q831.6 554.6 830.9 552.8Q830.2 551.0 832.7 549.1Q835.2 547.1 837.1 546.5Q839.0 545.9 839.0 545.9Q839.0 545.9 840.7 547.1z"/>
<path fill="url(#ld2)" d="M887.9 382.9Q890.2 382.9 893.9 384.3Q897.6 385.7 898.1 388.2Q898.5 390.7 900.2 391.8Q902.0 393.0 902.1 395.7Q902.1 398.4 903.1 399.7Q904.1 401.0 904.0 403.4Q903.9 405.9 903.9 407.8Q903.9 409.8 903.9 409.8Q903.9 409.8 902.1 409.1Q900.2 408.4 897.9 407.6Q895.6 406.8 894.8 405.4Q893.9 404.0 891.5 402.9Q889.0 401.9 888.5 399.8Q888.0 397.8 885.9 396.5Q883.8 395.2 883.8 391.2Q883.9 387.2 884.7 385.1Q885.6 382.9 885.6 382.9Q885.6 382.9 887.9 382.9z"/>
<path fill="url(#lyd0)" d="M895.9 593.2Q898.4 592.7 902.3 593.4Q906.2 594.1 906.4 596.4Q906.5 598.7 908.3 599.5Q910.1 600.3 909.8 603.0Q909.6 605.6 910.5 606.7Q911.5 607.8 911.1 610.2Q910.7 612.6 910.4 614.5Q910.2 616.5 910.2 616.5Q910.2 616.5 908.3 616.1Q906.4 615.8 904.0 615.4Q901.6 615.1 900.8 613.9Q900.0 612.7 897.5 612.1Q894.9 611.6 894.6 609.7Q894.3 607.8 892.2 606.9Q890.0 606.0 890.5 602.1Q891.0 598.2 892.2 595.9Q893.4 593.7 893.4 593.7Q893.4 593.7 895.9 593.2z"/>
<path fill="url(#ld0)" d="M994.9 407.1Q997.1 407.8 999.9 409.9Q1002.7 412.0 1001.9 413.8Q1001.0 415.7 1002.0 417.0Q1003.1 418.4 1001.8 420.3Q1000.4 422.2 1000.7 423.4Q1000.9 424.6 999.6 426.3Q998.2 428.0 997.2 429.4Q996.2 430.8 996.2 430.8Q996.2 430.8 994.8 429.7Q993.4 428.7 991.6 427.4Q989.8 426.2 989.8 425.0Q989.7 423.7 987.9 422.3Q986.1 420.8 986.7 419.2Q987.3 417.6 986.0 416.1Q984.6 414.5 986.7 411.7Q988.8 408.9 990.8 407.7Q992.7 406.4 992.7 406.4Q992.7 406.4 994.9 407.1z"/>
<path fill="url(#ld1)" d="M811.2 395.2Q810.0 397.0 807.2 399.0Q804.4 401.1 802.6 399.9Q800.8 398.8 799.1 399.5Q797.5 400.1 795.7 398.6Q794.0 397.1 792.6 397.1Q791.3 397.1 789.8 395.6Q788.3 394.1 787.0 392.9Q785.7 391.7 785.7 391.7Q785.7 391.7 787.1 390.7Q788.5 389.7 790.2 388.4Q791.9 387.1 793.2 387.3Q794.5 387.4 796.5 386.1Q798.4 384.8 800.0 385.7Q801.5 386.5 803.5 385.7Q805.4 384.8 807.9 387.1Q810.4 389.5 811.4 391.4Q812.3 393.4 812.3 393.4Q812.3 393.4 811.2 395.2z"/>
<path fill="url(#lyd0)" d="M894.4 544.5Q896.0 543.5 899.0 542.7Q902.0 542.0 903.0 543.5Q904.0 545.1 905.6 545.1Q907.1 545.2 908.0 547.1Q908.8 548.9 909.9 549.4Q910.9 549.9 911.6 551.7Q912.2 553.4 912.8 554.9Q913.4 556.3 913.4 556.3Q913.4 556.3 911.9 556.6Q910.4 557.0 908.6 557.5Q906.8 558.0 905.8 557.4Q904.8 556.8 902.7 557.2Q900.7 557.6 899.8 556.3Q898.9 555.1 897.0 555.2Q895.1 555.2 894.0 552.4Q892.9 549.5 892.8 547.6Q892.8 545.6 892.8 545.6Q892.8 545.6 894.4 544.5z"/>
<path fill="url(#ld0)" d="M817.7 335.0Q820.4 336.7 823.3 340.4Q826.2 344.2 824.5 346.4Q822.7 348.5 823.6 350.7Q824.5 352.8 822.2 355.0Q819.8 357.1 819.7 358.8Q819.6 360.5 817.3 362.3Q815.0 364.1 813.1 365.6Q811.3 367.1 811.3 367.1Q811.3 367.1 809.9 365.2Q808.5 363.3 806.5 361.1Q804.6 358.8 805.0 357.2Q805.3 355.5 803.4 352.9Q801.5 350.3 802.9 348.4Q804.2 346.5 803.0 344.0Q801.7 341.5 805.4 338.5Q809.1 335.5 812.1 334.4Q815.0 333.4 815.0 333.4Q815.0 333.4 817.7 335.0z"/>
<path fill="url(#lyd1)" d="M870.6 566.9Q872.1 565.3 875.2 563.8Q878.3 562.2 879.9 563.6Q881.6 564.9 883.3 564.6Q885.1 564.2 886.6 565.9Q888.2 567.7 889.6 567.9Q890.9 568.1 892.2 569.8Q893.5 571.5 894.6 572.8Q895.7 574.2 895.7 574.2Q895.7 574.2 894.2 574.9Q892.6 575.7 890.7 576.7Q888.8 577.7 887.5 577.4Q886.2 577.0 884.1 578.0Q881.9 578.9 880.5 577.9Q879.1 576.8 877.0 577.4Q874.9 577.9 872.7 575.2Q870.5 572.6 869.9 570.5Q869.2 568.5 869.2 568.5Q869.2 568.5 870.6 566.9z"/>
<path fill="url(#ld0)" d="M871.0 525.2Q870.6 527.1 868.8 529.7Q867.1 532.4 865.3 532.0Q863.4 531.6 862.2 532.7Q861.0 533.8 859.0 533.1Q857.0 532.4 855.9 532.8Q854.7 533.2 853.0 532.4Q851.2 531.6 849.8 531.0Q848.3 530.4 848.3 530.4Q848.3 530.4 849.2 529.1Q850.0 527.8 851.0 526.2Q852.0 524.5 853.2 524.2Q854.4 523.9 855.6 522.2Q856.8 520.5 858.4 520.7Q860.0 520.9 861.4 519.5Q862.7 518.2 865.6 519.4Q868.5 520.6 870.0 521.9Q871.4 523.3 871.4 523.3Q871.4 523.3 871.0 525.2z"/>
<path fill="url(#ld2)" d="M853.5 375.6Q854.7 373.5 857.8 370.9Q860.9 368.4 863.2 369.5Q865.4 370.6 867.3 369.7Q869.1 368.8 871.4 370.4Q873.6 372.0 875.2 371.8Q876.8 371.7 878.7 373.3Q880.6 374.9 882.2 376.1Q883.8 377.3 883.8 377.3Q883.8 377.3 882.2 378.5Q880.7 379.8 878.8 381.4Q876.9 383.0 875.3 383.0Q873.8 382.9 871.6 384.5Q869.4 386.2 867.5 385.3Q865.6 384.5 863.4 385.7Q861.2 386.8 858.0 384.4Q854.8 381.9 853.6 379.8Q852.3 377.7 852.3 377.7Q852.3 377.7 853.5 375.6z"/>
<path fill="url(#ld1)" d="M910.4 361.4Q912.6 362.4 915.4 365.4Q918.1 368.3 917.2 370.6Q916.3 372.9 917.3 374.7Q918.4 376.5 917.0 378.9Q915.7 381.2 915.9 382.8Q916.2 384.4 914.8 386.4Q913.4 388.5 912.4 390.1Q911.3 391.8 911.3 391.8Q911.3 391.8 910.0 390.4Q908.6 388.9 906.9 387.2Q905.2 385.4 905.1 383.9Q905.0 382.3 903.3 380.2Q901.5 378.2 902.1 376.2Q902.8 374.2 901.4 372.1Q900.1 370.0 902.3 366.6Q904.4 363.3 906.3 361.8Q908.3 360.3 908.3 360.3Q908.3 360.3 910.4 361.4z"/>
<path fill="url(#ld1)" d="M855.1 455.1Q857.9 456.6 861.1 460.1Q864.3 463.5 862.7 465.9Q861.2 468.2 862.2 470.3Q863.3 472.3 861.1 474.6Q858.9 476.9 859.0 478.6Q859.1 480.3 856.9 482.3Q854.7 484.3 853.1 485.9Q851.4 487.6 851.4 487.6Q851.4 487.6 849.8 485.8Q848.2 484.1 846.2 482.0Q844.1 479.9 844.3 478.2Q844.5 476.5 842.4 474.1Q840.3 471.7 841.5 469.7Q842.7 467.7 841.3 465.3Q839.8 462.9 843.2 459.6Q846.6 456.3 849.5 455.0Q852.3 453.7 852.3 453.7Q852.3 453.7 855.1 455.1z"/>
<path fill="url(#lyd0)" d="M846.5 631.4Q847.0 633.9 846.2 637.8Q845.5 641.7 843.2 642.1Q840.8 642.5 839.9 644.3Q839.1 646.1 836.4 646.1Q833.7 646.1 832.6 647.1Q831.5 648.1 829.1 647.9Q826.6 647.7 824.7 647.7Q822.7 647.6 822.7 647.6Q822.7 647.6 823.1 645.7Q823.4 643.7 823.8 641.3Q824.2 638.9 825.4 638.0Q826.6 637.2 827.2 634.6Q827.8 631.9 829.8 631.5Q831.7 631.1 832.6 628.9Q833.5 626.6 837.5 626.8Q841.4 627.0 843.8 628.0Q846.1 628.9 846.1 628.9Q846.1 628.9 846.5 631.4z"/>
<path fill="url(#ld0)" d="M938.3 398.2Q939.1 395.7 941.8 392.5Q944.5 389.3 946.8 390.2Q949.2 391.1 950.9 389.9Q952.6 388.7 955.0 390.1Q957.4 391.6 958.9 391.2Q960.5 390.9 962.6 392.4Q964.7 393.9 966.4 395.0Q968.2 396.1 968.2 396.1Q968.2 396.1 966.8 397.7Q965.5 399.3 963.9 401.4Q962.3 403.4 960.8 403.5Q959.2 403.6 957.3 405.7Q955.4 407.8 953.4 407.2Q951.5 406.5 949.5 408.1Q947.5 409.6 944.0 407.3Q940.5 405.0 939.0 402.9Q937.4 400.7 937.4 400.7Q937.4 400.7 938.3 398.2z"/>
<path fill="url(#ld2)" d="M864.5 491.0Q864.6 493.7 863.4 497.7Q862.2 501.6 859.8 501.3Q857.4 501.1 856.4 502.8Q855.3 504.5 852.6 503.8Q850.0 503.1 848.8 503.8Q847.5 504.6 845.2 503.7Q842.8 502.9 840.8 502.3Q838.9 501.7 838.9 501.7Q838.9 501.7 839.5 499.8Q840.1 497.9 840.8 495.4Q841.4 493.0 842.8 492.4Q844.1 491.8 845.0 489.2Q845.9 486.7 847.9 486.7Q849.9 486.8 851.1 484.7Q852.3 482.6 856.2 483.8Q860.1 485.0 862.2 486.7Q864.4 488.3 864.4 488.3Q864.4 488.3 864.5 491.0z"/>
<path fill="url(#lyd0)" d="M916.7 557.0Q919.1 557.6 922.2 559.7Q925.4 561.8 924.5 563.9Q923.7 565.9 924.9 567.3Q926.1 568.7 924.8 570.9Q923.5 573.0 923.9 574.3Q924.2 575.6 922.9 577.5Q921.5 579.4 920.5 581.0Q919.5 582.5 919.5 582.5Q919.5 582.5 918.0 581.5Q916.4 580.4 914.4 579.2Q912.4 578.0 912.3 576.6Q912.1 575.3 910.1 573.8Q908.0 572.3 908.6 570.6Q909.2 568.8 907.6 567.2Q906.1 565.7 908.2 562.5Q910.3 559.4 912.3 557.9Q914.3 556.4 914.3 556.4Q914.3 556.4 916.7 557.0z"/>
<path fill="url(#ld1)" d="M896.7 503.1Q898.9 502.7 902.4 503.4Q905.8 504.1 906.2 506.3Q906.5 508.4 908.1 509.2Q909.8 510.0 909.7 512.4Q909.7 514.8 910.6 515.8Q911.5 516.9 911.4 519.1Q911.2 521.2 911.1 523.0Q911.1 524.8 911.1 524.8Q911.1 524.8 909.3 524.4Q907.6 524.0 905.4 523.7Q903.3 523.3 902.5 522.2Q901.7 521.1 899.4 520.5Q897.1 519.9 896.7 518.1Q896.3 516.4 894.3 515.5Q892.3 514.7 892.5 511.1Q892.7 507.6 893.5 505.5Q894.4 503.4 894.4 503.4Q894.4 503.4 896.7 503.1z"/>
<path fill="url(#ld2)" d="M873.3 406.5Q872.7 409.3 870.4 413.1Q868.0 416.9 865.4 416.2Q862.8 415.6 861.2 417.1Q859.6 418.7 856.8 417.5Q854.0 416.3 852.5 416.9Q850.9 417.5 848.5 416.2Q846.0 414.9 844.0 414.0Q842.0 413.0 842.0 413.0Q842.0 413.0 843.2 411.2Q844.4 409.3 845.7 406.9Q847.1 404.5 848.7 404.1Q850.3 403.8 852.0 401.3Q853.7 398.8 855.9 399.2Q858.1 399.6 859.9 397.7Q861.8 395.7 865.8 397.6Q869.8 399.5 871.8 401.6Q873.8 403.7 873.8 403.7Q873.8 403.7 873.3 406.5z"/>
<path fill="url(#lyd1)" d="M871.4 529.8Q873.2 531.1 875.2 534.3Q877.3 537.5 876.2 539.6Q875.1 541.8 875.8 543.6Q876.4 545.5 874.9 547.6Q873.4 549.7 873.5 551.3Q873.5 552.8 872.0 554.6Q870.5 556.4 869.4 557.9Q868.3 559.4 868.3 559.4Q868.3 559.4 867.3 557.9Q866.2 556.3 864.9 554.3Q863.6 552.4 863.7 550.9Q863.9 549.3 862.6 547.1Q861.3 544.9 862.1 543.1Q862.9 541.2 862.0 539.0Q861.1 536.8 863.4 533.8Q865.7 530.8 867.6 529.7Q869.6 528.5 869.6 528.5Q869.6 528.5 871.4 529.8z"/>
<path fill="url(#ld2)" d="M870.0 377.9Q871.1 376.3 873.7 374.6Q876.2 372.9 877.8 373.9Q879.4 374.9 880.9 374.4Q882.3 373.9 883.9 375.2Q885.5 376.6 886.6 376.6Q887.8 376.6 889.2 378.0Q890.5 379.3 891.6 380.4Q892.7 381.4 892.7 381.4Q892.7 381.4 891.4 382.3Q890.2 383.1 888.6 384.2Q887.1 385.3 885.9 385.1Q884.7 385.0 883.0 386.0Q881.2 387.1 879.8 386.4Q878.5 385.6 876.7 386.3Q875.0 387.0 872.8 384.9Q870.6 382.8 869.7 381.1Q868.9 379.4 868.9 379.4Q868.9 379.4 870.0 377.9z"/>
<path fill="url(#ld2)" d="M863.7 505.3Q866.0 504.6 869.7 504.7Q873.4 504.8 873.9 507.0Q874.5 509.1 876.2 509.7Q878.0 510.2 878.2 512.7Q878.3 515.2 879.4 516.1Q880.4 517.0 880.4 519.3Q880.4 521.6 880.4 523.4Q880.5 525.2 880.5 525.2Q880.5 525.2 878.7 525.1Q876.8 525.1 874.5 525.0Q872.3 525.0 871.4 524.0Q870.5 523.0 868.0 522.8Q865.5 522.6 865.0 520.8Q864.4 519.1 862.3 518.6Q860.1 518.0 860.0 514.3Q859.9 510.6 860.7 508.3Q861.4 506.1 861.4 506.1Q861.4 506.1 863.7 505.3z"/>
<path fill="url(#ld1)" d="M939.9 383.5Q942.1 382.0 946.2 380.9Q950.3 379.9 951.6 382.0Q953.0 384.2 955.1 384.2Q957.2 384.2 958.3 386.8Q959.5 389.4 960.9 390.1Q962.3 390.7 963.2 393.1Q964.0 395.6 964.8 397.5Q965.6 399.5 965.6 399.5Q965.6 399.5 963.5 400.0Q961.5 400.5 959.0 401.2Q956.5 401.9 955.2 401.1Q953.8 400.3 951.1 400.8Q948.3 401.4 947.0 399.7Q945.8 398.0 943.3 398.1Q940.7 398.2 939.2 394.3Q937.7 390.4 937.7 387.7Q937.7 385.0 937.7 385.0Q937.7 385.0 939.9 383.5z"/>
<path fill="url(#ld2)" d="M839.5 534.4Q840.7 535.9 841.6 538.8Q842.4 541.8 841.0 543.0Q839.6 544.3 839.7 545.9Q839.8 547.5 838.0 548.6Q836.3 549.8 835.9 550.9Q835.5 552.1 833.9 553.0Q832.2 553.9 830.9 554.7Q829.6 555.5 829.6 555.5Q829.6 555.5 829.2 554.1Q828.8 552.6 828.2 550.8Q827.6 549.0 828.1 547.9Q828.6 546.8 828.1 544.8Q827.5 542.8 828.7 541.6Q829.8 540.5 829.6 538.6Q829.4 536.7 832.1 535.1Q834.7 533.5 836.5 533.2Q838.4 532.9 838.4 532.9Q838.4 532.9 839.5 534.4z"/>
<path fill="url(#ld2)" d="M923.2 370.7Q924.8 369.9 927.6 369.8Q930.5 369.6 931.4 371.2Q932.2 372.7 933.7 373.0Q935.2 373.3 935.8 375.1Q936.5 376.9 937.5 377.5Q938.5 378.1 939.0 379.8Q939.4 381.5 939.9 382.8Q940.3 384.2 940.3 384.2Q940.3 384.2 938.9 384.3Q937.5 384.3 935.7 384.5Q934.0 384.7 933.1 384.0Q932.2 383.3 930.2 383.3Q928.3 383.4 927.5 382.1Q926.7 380.8 924.9 380.6Q923.2 380.4 922.3 377.6Q921.4 374.9 921.5 373.1Q921.6 371.4 921.6 371.4Q921.6 371.4 923.2 370.7z"/>
<path fill="url(#ld0)" d="M909.6 341.7Q911.1 339.3 914.6 336.6Q918.0 334.0 920.0 335.6Q922.0 337.2 924.0 336.4Q926.0 335.6 927.9 337.8Q929.8 340.1 931.4 340.1Q932.9 340.2 934.5 342.4Q936.1 344.5 937.5 346.2Q938.9 347.9 938.9 347.9Q938.9 347.9 937.1 349.2Q935.4 350.5 933.3 352.2Q931.2 353.9 929.7 353.6Q928.2 353.3 925.8 354.9Q923.4 356.6 921.7 355.4Q919.9 354.1 917.6 355.2Q915.3 356.3 912.6 352.9Q909.9 349.5 908.9 346.8Q908.0 344.1 908.0 344.1Q908.0 344.1 909.6 341.7z"/>
<path fill="url(#ld1)" d="M873.7 429.6Q874.9 427.0 877.9 424.0Q880.9 420.9 883.1 422.2Q885.3 423.4 887.1 422.4Q888.9 421.3 891.1 423.1Q893.4 425.0 894.9 424.8Q896.5 424.6 898.4 426.5Q900.3 428.3 901.9 429.7Q903.5 431.1 903.5 431.1Q903.5 431.1 902.0 432.6Q900.5 434.1 898.7 436.0Q896.9 438.0 895.4 437.9Q893.8 437.9 891.7 439.9Q889.6 441.8 887.7 440.9Q885.8 439.9 883.7 441.3Q881.6 442.8 878.4 439.9Q875.2 437.1 873.9 434.6Q872.6 432.1 872.6 432.1Q872.6 432.1 873.7 429.6z"/>
<path fill="url(#lyd1)" d="M842.5 587.0Q841.8 589.1 839.6 591.8Q837.4 594.6 835.5 593.8Q833.6 593.0 832.2 594.0Q830.8 595.0 828.8 593.7Q826.8 592.5 825.6 592.8Q824.3 593.0 822.6 591.8Q820.8 590.5 819.4 589.5Q818.0 588.5 818.0 588.5Q818.0 588.5 819.1 587.2Q820.2 585.9 821.5 584.1Q822.8 582.4 824.0 582.3Q825.3 582.2 826.8 580.5Q828.4 578.7 830.0 579.3Q831.6 579.8 833.3 578.5Q834.9 577.2 837.7 579.2Q840.6 581.2 841.9 583.0Q843.2 584.8 843.2 584.8Q843.2 584.8 842.5 587.0z"/>
<path fill="url(#ld2)" d="M905.6 460.2Q907.4 459.5 910.5 459.5Q913.5 459.4 914.1 461.2Q914.8 462.9 916.3 463.3Q917.8 463.6 918.2 465.7Q918.6 467.7 919.5 468.4Q920.4 469.1 920.6 470.9Q920.8 472.8 921.1 474.3Q921.3 475.8 921.3 475.8Q921.3 475.8 919.8 475.8Q918.3 475.8 916.4 475.9Q914.5 475.9 913.7 475.1Q912.9 474.3 910.8 474.3Q908.8 474.2 908.2 472.8Q907.5 471.4 905.7 471.0Q903.9 470.7 903.5 467.7Q903.0 464.6 903.4 462.8Q903.8 460.9 903.8 460.9Q903.8 460.9 905.6 460.2z"/>
<path fill="url(#ld2)" d="M844.7 350.5Q846.0 352.4 847.0 355.9Q847.9 359.4 846.0 360.4Q844.1 361.4 844.1 363.2Q844.0 365.0 841.7 365.8Q839.4 366.5 838.9 367.7Q838.3 368.9 836.1 369.4Q833.9 370.0 832.2 370.5Q830.5 371.0 830.5 371.0Q830.5 371.0 830.0 369.3Q829.6 367.5 829.0 365.4Q828.3 363.2 829.1 362.1Q829.8 361.0 829.3 358.7Q828.8 356.3 830.3 355.4Q831.8 354.4 831.7 352.3Q831.6 350.1 835.1 349.2Q838.6 348.2 840.9 348.3Q843.3 348.5 843.3 348.5Q843.3 348.5 844.7 350.5z"/>
<path fill="url(#ld2)" d="M874.9 498.3Q877.5 498.9 881.1 501.3Q884.7 503.6 884.1 506.2Q883.6 508.8 885.1 510.4Q886.5 512.0 885.5 514.7Q884.5 517.5 885.1 519.0Q885.7 520.6 884.6 523.0Q883.4 525.3 882.6 527.3Q881.8 529.3 881.8 529.3Q881.8 529.3 880.1 528.1Q878.3 526.9 876.1 525.5Q873.8 524.1 873.4 522.5Q873.1 520.9 870.7 519.2Q868.4 517.5 868.7 515.3Q869.0 513.2 867.2 511.3Q865.3 509.5 867.0 505.5Q868.7 501.6 870.5 499.6Q872.3 497.7 872.3 497.7Q872.3 497.7 874.9 498.3z"/>
<path d="M866.5 499.2L892.1 503.7M915.6 364.3L925.9 383.6M919.7 353.5L923.0 374.8M906.9 566.4L926.8 584.4M925.8 451.6L940.2 480.4M847.0 375.0L843.4 402.1M929.5 454.1L959.3 453.8M835.8 336.6L820.3 353.5M856.4 602.7L829.6 620.8M870.3 326.2L856.8 345.6M873.6 503.1L900.8 509.8M908.6 548.2L930.6 566.7M837.0 548.6L823.4 575.7M797.2 389.1L769.3 388.6M846.0 464.3L822.1 461.4M800.9 350.0L777.2 365.6M883.0 549.2L891.7 569.1M866.7 498.8L858.1 518.9M867.5 409.3L873.8 436.2M875.3 379.3L898.0 398.6M884.9 560.2L907.4 574.3M842.3 517.9L816.5 535.0M851.9 343.6L839.6 369.9M848.2 379.2L823.0 388.2M849.8 514.9L823.0 520.5M910.1 463.4L938.3 462.7M836.4 540.2L824.4 566.7M869.8 546.6L837.7 550.0M929.8 384.8L954.6 389.5M886.4 576.5L898.5 602.1M867.1 339.6L841.4 339.0M858.4 321.5L888.1 324.5M887.5 546.9L904.2 566.7M873.5 486.8L879.6 514.3M907.4 404.9L907.3 428.2M888.1 500.4L907.4 511.2M889.9 315.7L912.5 335.4M889.3 451.1L913.3 452.6M863.5 580.8L885.8 595.7M772.0 388.5L772.9 409.7M839.0 545.9L835.5 567.7M885.6 382.9L903.0 408.5M893.4 593.7L909.4 615.3M992.7 406.4L996.0 429.6M812.3 393.4L787.1 391.8M892.8 545.6L912.3 555.7M815.0 333.4L811.5 365.4M869.2 568.5L894.4 573.9M871.4 523.3L849.5 530.1M852.3 377.7L882.2 377.3M908.3 360.3L911.2 390.3M852.3 453.7L851.4 485.9M846.1 628.9L823.9 646.7M937.4 400.7L966.6 396.4M864.4 488.3L840.2 501.1M914.3 556.4L919.2 581.2M894.4 503.4L910.2 523.7M873.8 403.7L843.6 412.6M869.6 528.5L868.3 557.9M868.9 379.4L891.5 381.3M861.4 506.1L879.6 524.3M937.7 385.0L964.2 398.8M838.4 532.9L830.1 554.4M921.6 371.4L939.4 383.6M908.0 344.1L937.3 347.7M872.6 432.1L901.9 431.1M843.2 584.8L819.2 588.4M903.8 460.9L920.4 475.0M843.3 348.5L831.1 369.9M872.3 497.7L881.4 527.7" stroke="#4e9a3c" stroke-width=".6" opacity=".55" fill="none"/>
<path fill="url(#lm3)" d="M868.5 434.0Q868.2 436.2 866.5 439.2Q864.8 442.2 862.8 441.7Q860.8 441.2 859.6 442.4Q858.4 443.6 856.3 442.7Q854.2 441.8 853.0 442.2Q851.8 442.7 850.0 441.7Q848.1 440.7 846.5 440.0Q845.0 439.2 845.0 439.2Q845.0 439.2 845.8 437.8Q846.7 436.3 847.7 434.4Q848.7 432.5 849.9 432.2Q851.1 431.9 852.3 430.0Q853.5 428.0 855.2 428.3Q856.9 428.6 858.2 427.1Q859.6 425.5 862.7 427.0Q865.8 428.5 867.3 430.2Q868.9 431.8 868.9 431.8Q868.9 431.8 868.5 434.0z"/>
<path fill="url(#lm1)" d="M867.9 445.1Q867.2 446.7 865.3 448.6Q863.3 450.6 861.9 449.8Q860.5 449.0 859.3 449.7Q858.1 450.4 856.6 449.3Q855.2 448.2 854.2 448.3Q853.2 448.4 851.9 447.3Q850.6 446.1 849.6 445.2Q848.5 444.4 848.5 444.4Q848.5 444.4 849.5 443.4Q850.5 442.4 851.6 441.2Q852.8 439.9 853.8 440.0Q854.8 440.0 856.1 438.7Q857.5 437.5 858.7 438.0Q860.0 438.6 861.3 437.7Q862.7 436.8 864.8 438.6Q866.9 440.3 867.8 441.9Q868.6 443.4 868.6 443.4Q868.6 443.4 867.9 445.1z"/>
<path fill="url(#lm0)" d="M884.1 494.8Q885.0 492.7 887.5 490.1Q889.9 487.6 891.8 488.6Q893.6 489.6 895.1 488.7Q896.7 487.8 898.5 489.2Q900.4 490.7 901.7 490.5Q903.0 490.4 904.6 491.9Q906.2 493.3 907.6 494.5Q908.9 495.6 908.9 495.6Q908.9 495.6 907.7 496.9Q906.5 498.1 905.0 499.8Q903.6 501.4 902.3 501.4Q901.0 501.4 899.3 503.0Q897.5 504.7 895.9 503.9Q894.3 503.2 892.6 504.4Q890.9 505.6 888.2 503.3Q885.4 501.0 884.3 499.0Q883.2 496.9 883.2 496.9Q883.2 496.9 884.1 494.8z"/>
<path fill="url(#lym0)" d="M895.5 574.3Q896.8 573.4 899.3 572.8Q901.9 572.2 903.0 573.4Q904.1 574.7 905.5 574.7Q906.8 574.7 907.8 576.2Q908.8 577.7 909.8 578.0Q910.8 578.4 911.6 579.8Q912.4 581.2 913.1 582.3Q913.8 583.4 913.8 583.4Q913.8 583.4 912.5 583.7Q911.2 584.0 909.7 584.4Q908.1 584.8 907.2 584.3Q906.2 583.9 904.5 584.2Q902.7 584.5 901.7 583.5Q900.7 582.6 899.1 582.6Q897.5 582.7 896.1 580.5Q894.7 578.2 894.5 576.7Q894.2 575.2 894.2 575.2Q894.2 575.2 895.5 574.3z"/>
<path fill="url(#lym2)" d="M863.9 547.5Q865.4 546.5 868.2 545.9Q871.0 545.2 872.0 546.6Q873.0 548.1 874.5 548.1Q875.9 548.1 876.8 549.9Q877.6 551.6 878.6 552.1Q879.7 552.5 880.3 554.1Q881.0 555.8 881.6 557.1Q882.1 558.4 882.1 558.4Q882.1 558.4 880.7 558.7Q879.4 559.0 877.6 559.5Q875.9 559.9 875.0 559.4Q874.0 558.8 872.1 559.2Q870.2 559.6 869.3 558.4Q868.4 557.3 866.6 557.3Q864.9 557.4 863.7 554.7Q862.6 552.1 862.5 550.3Q862.4 548.5 862.4 548.5Q862.4 548.5 863.9 547.5z"/>
<path fill="url(#lm2)" d="M921.3 313.7Q923.7 314.3 927.0 316.4Q930.3 318.5 929.5 320.7Q928.8 322.9 930.1 324.3Q931.4 325.8 930.2 328.1Q929.0 330.4 929.4 331.8Q929.8 333.1 928.6 335.2Q927.3 337.2 926.4 338.9Q925.4 340.6 925.4 340.6Q925.4 340.6 923.8 339.5Q922.2 338.4 920.2 337.2Q918.1 336.0 917.9 334.6Q917.6 333.2 915.5 331.6Q913.4 330.1 913.9 328.3Q914.3 326.4 912.7 324.8Q911.1 323.1 913.0 319.8Q914.9 316.4 916.9 314.8Q918.8 313.1 918.8 313.1Q918.8 313.1 921.3 313.7z"/>
<path fill="url(#lm1)" d="M858.8 450.3Q860.3 448.4 863.6 446.4Q866.8 444.4 868.8 445.8Q870.7 447.2 872.6 446.6Q874.5 446.0 876.3 447.8Q878.2 449.7 879.7 449.8Q881.2 449.9 882.8 451.7Q884.3 453.4 885.6 454.8Q887.0 456.2 887.0 456.2Q887.0 456.2 885.3 457.2Q883.7 458.1 881.7 459.4Q879.7 460.7 878.3 460.4Q876.8 460.1 874.5 461.4Q872.2 462.7 870.6 461.6Q868.9 460.5 866.7 461.4Q864.4 462.2 861.8 459.4Q859.2 456.6 858.3 454.4Q857.3 452.2 857.3 452.2Q857.3 452.2 858.8 450.3z"/>
<path fill="url(#lym0)" d="M908.6 612.4Q910.2 612.1 912.8 612.7Q915.3 613.2 915.7 614.8Q916.0 616.4 917.2 617.0Q918.4 617.6 918.5 619.4Q918.5 621.1 919.2 621.9Q919.9 622.6 919.9 624.2Q919.8 625.9 919.8 627.2Q919.8 628.5 919.8 628.5Q919.8 628.5 918.6 628.2Q917.3 627.9 915.7 627.6Q914.1 627.3 913.6 626.5Q913.0 625.6 911.3 625.2Q909.5 624.7 909.2 623.4Q908.9 622.1 907.4 621.5Q905.9 620.8 905.9 618.2Q905.9 615.6 906.5 614.1Q907.1 612.6 907.1 612.6Q907.1 612.6 908.6 612.4z"/>
<path fill="url(#lm3)" d="M908.5 469.0Q909.5 467.8 911.7 466.6Q913.9 465.3 915.2 466.2Q916.5 467.1 917.8 466.8Q919.1 466.4 920.3 467.6Q921.6 468.8 922.6 468.9Q923.6 469.0 924.7 470.1Q925.7 471.3 926.6 472.2Q927.5 473.1 927.5 473.1Q927.5 473.1 926.4 473.8Q925.3 474.4 923.9 475.2Q922.6 476.0 921.6 475.8Q920.6 475.6 919.1 476.4Q917.5 477.2 916.4 476.5Q915.3 475.8 913.8 476.3Q912.3 476.8 910.5 475.0Q908.7 473.1 908.1 471.7Q907.5 470.2 907.5 470.2Q907.5 470.2 908.5 469.0z"/>
<path fill="url(#lym1)" d="M905.8 578.2Q907.5 579.1 909.5 581.4Q911.4 583.8 910.6 585.5Q909.7 587.2 910.4 588.6Q911.1 590.0 909.9 591.7Q908.7 593.4 908.8 594.6Q908.9 595.8 907.6 597.2Q906.4 598.7 905.5 599.9Q904.6 601.1 904.6 601.1Q904.6 601.1 903.6 599.9Q902.6 598.7 901.3 597.3Q900.1 595.9 900.1 594.7Q900.2 593.5 898.9 591.9Q897.6 590.2 898.2 588.8Q898.9 587.4 898.0 585.7Q897.1 584.1 899.0 581.6Q900.9 579.2 902.5 578.2Q904.1 577.3 904.1 577.3Q904.1 577.3 905.8 578.2z"/>
<path fill="url(#lm3)" d="M864.1 371.4Q866.8 371.7 870.4 373.6Q874.1 375.4 873.6 377.8Q873.1 380.2 874.6 381.6Q876.1 382.9 875.1 385.5Q874.1 388.1 874.7 389.4Q875.3 390.8 874.2 393.1Q873.1 395.4 872.3 397.2Q871.5 399.1 871.5 399.1Q871.5 399.1 869.7 398.1Q868.0 397.2 865.7 396.1Q863.4 395.1 863.0 393.6Q862.6 392.2 860.2 390.8Q857.8 389.5 858.1 387.5Q858.4 385.5 856.5 384.0Q854.6 382.4 856.2 378.7Q857.8 375.0 859.7 373.0Q861.5 371.1 861.5 371.1Q861.5 371.1 864.1 371.4z"/>
<path fill="url(#lm1)" d="M869.0 392.2Q870.1 390.5 872.6 388.6Q875.1 386.6 876.6 387.7Q878.1 388.9 879.5 388.3Q881.0 387.7 882.5 389.2Q883.9 390.7 885.1 390.7Q886.2 390.8 887.5 392.3Q888.7 393.8 889.8 394.9Q890.8 396.1 890.8 396.1Q890.8 396.1 889.6 397.0Q888.3 398.0 886.8 399.2Q885.3 400.5 884.2 400.3Q883.1 400.1 881.3 401.3Q879.6 402.5 878.3 401.7Q877.0 400.8 875.3 401.6Q873.6 402.4 871.5 400.1Q869.4 397.7 868.7 395.8Q867.9 393.9 867.9 393.9Q867.9 393.9 869.0 392.2z"/>
<path fill="url(#lm1)" d="M922.1 478.3Q923.7 478.7 925.7 480.1Q927.8 481.5 927.3 482.8Q926.8 484.2 927.6 485.2Q928.4 486.1 927.6 487.6Q926.8 489.0 927.1 489.9Q927.3 490.8 926.5 492.1Q925.6 493.4 925.0 494.4Q924.4 495.5 924.4 495.5Q924.4 495.5 923.4 494.8Q922.4 494.1 921.0 493.2Q919.7 492.4 919.6 491.5Q919.5 490.6 918.1 489.6Q916.8 488.6 917.1 487.5Q917.5 486.3 916.5 485.2Q915.4 484.2 916.7 482.0Q918.0 479.9 919.3 478.9Q920.5 477.9 920.5 477.9Q920.5 477.9 922.1 478.3z"/>
<path fill="url(#lym1)" d="M845.7 553.1Q845.1 554.9 843.1 557.4Q841.1 560.0 839.1 559.7Q837.1 559.4 835.8 560.4Q834.4 561.5 832.3 560.9Q830.2 560.2 829.0 560.7Q827.7 561.1 825.9 560.4Q824.0 559.7 822.5 559.1Q821.0 558.6 821.0 558.6Q821.0 558.6 822.0 557.4Q823.0 556.1 824.2 554.5Q825.3 552.9 826.6 552.6Q827.9 552.3 829.3 550.6Q830.8 549.0 832.4 549.1Q834.1 549.3 835.7 548.0Q837.2 546.6 840.3 547.7Q843.3 548.7 844.8 550.0Q846.2 551.2 846.2 551.2Q846.2 551.2 845.7 553.1z"/>
<path fill="url(#lm1)" d="M892.5 481.4Q893.4 479.5 895.7 477.2Q898.0 475.0 899.6 476.0Q901.3 477.0 902.6 476.2Q904.0 475.4 905.6 476.9Q907.2 478.3 908.4 478.2Q909.5 478.2 910.9 479.6Q912.3 481.0 913.5 482.1Q914.6 483.2 914.6 483.2Q914.6 483.2 913.5 484.4Q912.3 485.5 911.0 486.9Q909.6 488.4 908.4 488.3Q907.3 488.2 905.7 489.7Q904.1 491.1 902.7 490.3Q901.3 489.6 899.7 490.6Q898.1 491.6 895.8 489.4Q893.5 487.1 892.5 485.2Q891.6 483.3 891.6 483.3Q891.6 483.3 892.5 481.4z"/>
<path fill="url(#lm2)" d="M897.5 481.5Q899.2 481.2 902.0 481.6Q904.8 482.0 905.2 483.7Q905.6 485.4 907.0 485.9Q908.3 486.5 908.5 488.4Q908.6 490.3 909.4 491.0Q910.2 491.8 910.2 493.5Q910.3 495.3 910.3 496.7Q910.4 498.1 910.4 498.1Q910.4 498.1 909.0 497.8Q907.7 497.6 905.9 497.4Q904.2 497.2 903.5 496.4Q902.9 495.5 901.0 495.2Q899.1 494.8 898.7 493.4Q898.2 492.0 896.6 491.4Q895.0 490.9 894.9 488.0Q894.7 485.2 895.3 483.6Q895.8 481.9 895.8 481.9Q895.8 481.9 897.5 481.5z"/>
<path fill="url(#lym1)" d="M871.5 597.9Q873.1 597.2 875.9 597.1Q878.6 596.9 879.3 598.4Q880.0 600.0 881.3 600.3Q882.7 600.5 883.1 602.3Q883.6 604.2 884.4 604.7Q885.3 605.3 885.6 607.0Q885.9 608.7 886.2 610.0Q886.4 611.4 886.4 611.4Q886.4 611.4 885.1 611.4Q883.7 611.5 882.0 611.7Q880.3 611.8 879.5 611.1Q878.7 610.4 876.9 610.5Q875.0 610.5 874.4 609.2Q873.8 608.0 872.1 607.7Q870.5 607.5 869.9 604.8Q869.4 602.1 869.7 600.4Q869.9 598.6 869.9 598.6Q869.9 598.6 871.5 597.9z"/>
<path fill="url(#lm2)" d="M914.2 398.3Q916.7 397.6 920.7 398.0Q924.7 398.3 925.2 400.7Q925.7 403.0 927.5 403.7Q929.4 404.4 929.5 407.1Q929.6 409.8 930.6 410.8Q931.7 411.9 931.6 414.3Q931.5 416.8 931.5 418.8Q931.5 420.8 931.5 420.8Q931.5 420.8 929.5 420.6Q927.5 420.4 925.0 420.3Q922.5 420.2 921.6 419.0Q920.7 417.9 918.0 417.5Q915.3 417.2 914.8 415.3Q914.3 413.3 912.0 412.6Q909.7 411.9 909.8 407.9Q909.8 403.9 910.8 401.5Q911.7 399.0 911.7 399.0Q911.7 399.0 914.2 398.3z"/>
<path fill="url(#lm0)" d="M796.4 370.9Q796.7 373.0 796.2 376.0Q795.7 379.0 793.9 379.1Q792.0 379.2 791.4 380.6Q790.8 382.0 788.7 381.7Q786.6 381.5 785.8 382.2Q784.9 382.9 783.1 382.5Q781.2 382.1 779.7 381.9Q778.2 381.7 778.2 381.7Q778.2 381.7 778.4 380.2Q778.7 378.7 779.0 376.8Q779.2 374.9 780.2 374.3Q781.1 373.7 781.6 371.7Q782.0 369.7 783.5 369.5Q785.0 369.3 785.7 367.7Q786.4 366.0 789.4 366.5Q792.5 366.9 794.2 367.9Q796.0 368.9 796.0 368.9Q796.0 368.9 796.4 370.9z"/>
<path fill="url(#lm0)" d="M819.3 450.4Q818.4 451.4 816.3 452.5Q814.2 453.5 812.9 452.7Q811.7 451.9 810.5 452.2Q809.3 452.5 808.1 451.5Q806.9 450.4 805.9 450.3Q805.0 450.2 803.9 449.2Q802.9 448.2 802.1 447.4Q801.2 446.6 801.2 446.6Q801.2 446.6 802.3 446.1Q803.3 445.6 804.6 444.9Q805.8 444.2 806.8 444.4Q807.7 444.6 809.2 443.9Q810.6 443.3 811.7 443.9Q812.8 444.5 814.2 444.1Q815.6 443.7 817.3 445.3Q819.0 446.9 819.6 448.1Q820.2 449.4 820.2 449.4Q820.2 449.4 819.3 450.4z"/>
<path fill="url(#lym1)" d="M862.5 569.1Q864.0 567.5 867.3 566.0Q870.6 564.5 872.4 565.9Q874.2 567.2 876.0 566.9Q877.9 566.5 879.6 568.3Q881.3 570.0 882.8 570.2Q884.2 570.4 885.7 572.1Q887.1 573.8 888.3 575.1Q889.5 576.5 889.5 576.5Q889.5 576.5 887.9 577.2Q886.3 577.9 884.3 578.9Q882.3 579.9 880.9 579.5Q879.5 579.2 877.2 580.1Q874.9 581.0 873.3 580.0Q871.8 578.9 869.6 579.4Q867.4 580.0 865.0 577.3Q862.6 574.6 861.8 572.6Q861.0 570.6 861.0 570.6Q861.0 570.6 862.5 569.1z"/>
<path fill="url(#lym1)" d="M918.2 545.5Q920.9 545.3 924.8 546.4Q928.8 547.5 928.8 549.9Q928.8 552.4 930.5 553.4Q932.3 554.4 931.8 557.1Q931.4 559.8 932.2 561.1Q933.1 562.3 932.5 564.7Q931.9 567.2 931.5 569.2Q931.1 571.2 931.1 571.2Q931.1 571.2 929.2 570.6Q927.2 570.1 924.8 569.5Q922.3 568.9 921.6 567.6Q920.9 566.2 918.3 565.4Q915.7 564.6 915.6 562.5Q915.4 560.5 913.3 559.4Q911.1 558.3 911.9 554.3Q912.8 550.3 914.2 548.0Q915.6 545.8 915.6 545.8Q915.6 545.8 918.2 545.5z"/>
<path fill="url(#lm2)" d="M914.1 309.0Q915.8 308.6 918.6 309.0Q921.4 309.4 921.8 311.1Q922.2 312.8 923.6 313.3Q924.9 313.9 925.1 315.8Q925.2 317.7 926.0 318.4Q926.8 319.2 926.8 320.9Q926.8 322.7 926.9 324.1Q927.0 325.5 927.0 325.5Q927.0 325.5 925.6 325.2Q924.2 325.0 922.5 324.8Q920.7 324.7 920.1 323.8Q919.4 323.0 917.5 322.6Q915.6 322.2 915.2 320.9Q914.8 319.5 913.2 318.9Q911.6 318.3 911.4 315.5Q911.3 312.7 911.9 311.0Q912.4 309.4 912.4 309.4Q912.4 309.4 914.1 309.0z"/>
<path fill="url(#lm2)" d="M850.9 340.3Q851.4 342.8 850.9 346.5Q850.3 350.3 848.0 350.5Q845.8 350.7 845.0 352.4Q844.3 354.1 841.7 353.8Q839.2 353.6 838.2 354.5Q837.1 355.4 834.8 355.1Q832.5 354.7 830.6 354.5Q828.7 354.2 828.7 354.2Q828.7 354.2 829.0 352.4Q829.3 350.5 829.6 348.2Q829.9 345.8 831.0 345.1Q832.2 344.4 832.7 341.8Q833.2 339.3 835.0 339.1Q836.9 338.8 837.7 336.7Q838.5 334.6 842.2 335.1Q846.0 335.6 848.2 336.7Q850.5 337.9 850.5 337.9Q850.5 337.9 850.9 340.3z"/>
<path fill="url(#lm1)" d="M868.3 478.8Q867.9 481.2 865.9 484.6Q864.0 488.0 861.6 487.7Q859.3 487.3 857.9 488.7Q856.5 490.1 854.0 489.3Q851.4 488.5 850.1 489.0Q848.7 489.6 846.5 488.7Q844.2 487.8 842.4 487.1Q840.6 486.4 840.6 486.4Q840.6 486.4 841.5 484.8Q842.5 483.1 843.7 480.9Q844.8 478.8 846.2 478.4Q847.7 478.0 849.1 475.7Q850.5 473.5 852.5 473.7Q854.5 473.9 856.0 472.1Q857.6 470.3 861.3 471.7Q864.9 473.1 866.8 474.7Q868.7 476.3 868.7 476.3Q868.7 476.3 868.3 478.8z"/>
<path fill="url(#lm2)" d="M832.2 499.9Q833.3 501.2 834.2 503.7Q835.1 506.2 833.8 507.1Q832.5 508.0 832.6 509.3Q832.7 510.6 831.1 511.3Q829.5 512.1 829.1 513.0Q828.8 513.9 827.3 514.4Q825.7 515.0 824.5 515.5Q823.3 516.0 823.3 516.0Q823.3 516.0 822.9 514.8Q822.4 513.5 821.8 512.0Q821.2 510.5 821.6 509.6Q822.1 508.8 821.5 507.1Q821.0 505.4 822.0 504.6Q823.1 503.8 822.9 502.2Q822.6 500.7 825.1 499.7Q827.6 498.7 829.3 498.6Q831.0 498.5 831.0 498.5Q831.0 498.5 832.2 499.9z"/>
<path fill="url(#lm0)" d="M951.0 380.8Q952.7 381.7 954.8 383.9Q957.0 386.2 956.3 388.0Q955.6 389.8 956.4 391.2Q957.2 392.6 956.1 394.5Q955.1 396.3 955.3 397.5Q955.5 398.8 954.4 400.4Q953.4 402.0 952.5 403.3Q951.7 404.6 951.7 404.6Q951.7 404.6 950.7 403.5Q949.6 402.3 948.2 401.0Q946.9 399.6 946.8 398.4Q946.8 397.2 945.4 395.6Q944.0 394.0 944.5 392.4Q945.0 390.9 943.9 389.2Q942.9 387.6 944.6 385.0Q946.2 382.3 947.7 381.2Q949.2 380.0 949.2 380.0Q949.2 380.0 951.0 380.8z"/>
<path fill="url(#lm2)" d="M915.2 341.0Q917.2 341.3 920.1 343.0Q923.0 344.6 922.8 346.7Q922.6 348.7 923.8 350.0Q925.1 351.2 924.5 353.4Q923.9 355.6 924.5 356.8Q925.0 357.9 924.3 359.9Q923.6 361.9 923.1 363.5Q922.7 365.1 922.7 365.1Q922.7 365.1 921.2 364.2Q919.8 363.4 917.9 362.4Q916.1 361.4 915.7 360.2Q915.3 358.9 913.4 357.7Q911.4 356.5 911.5 354.8Q911.6 353.0 910.1 351.7Q908.5 350.3 909.5 347.1Q910.5 343.9 911.8 342.3Q913.1 340.6 913.1 340.6Q913.1 340.6 915.2 341.0z"/>
<path fill="url(#lm0)" d="M868.2 366.7Q867.6 368.5 865.8 370.9Q863.9 373.3 862.1 372.8Q860.3 372.4 859.1 373.3Q857.9 374.3 856.0 373.4Q854.1 372.6 853.0 372.9Q851.8 373.2 850.2 372.4Q848.6 371.5 847.2 370.8Q845.9 370.2 845.9 370.2Q845.9 370.2 846.8 369.0Q847.7 367.8 848.8 366.3Q849.9 364.8 851.1 364.6Q852.2 364.4 853.6 362.8Q854.9 361.3 856.4 361.6Q857.9 361.9 859.3 360.7Q860.7 359.5 863.5 360.8Q866.2 362.2 867.4 363.6Q868.7 365.0 868.7 365.0Q868.7 365.0 868.2 366.7z"/>
<path fill="url(#lm2)" d="M893.1 341.9Q894.9 341.6 897.9 342.2Q900.9 342.8 901.4 344.6Q901.8 346.5 903.3 347.1Q904.7 347.8 904.9 349.9Q905.1 352.0 906.0 352.8Q906.8 353.7 906.9 355.6Q906.9 357.5 907.0 359.0Q907.1 360.5 907.1 360.5Q907.1 360.5 905.6 360.2Q904.1 359.9 902.3 359.6Q900.4 359.3 899.7 358.3Q898.9 357.3 896.9 356.8Q894.9 356.4 894.4 354.8Q893.9 353.3 892.2 352.6Q890.4 351.9 890.3 348.8Q890.1 345.8 890.6 344.0Q891.2 342.2 891.2 342.2Q891.2 342.2 893.1 341.9z"/>
<path fill="url(#lm1)" d="M852.3 519.2Q853.8 520.4 855.5 522.9Q857.1 525.4 856.1 526.8Q855.0 528.3 855.5 529.8Q856.0 531.2 854.5 532.6Q853.1 534.1 853.0 535.2Q853.0 536.4 851.6 537.6Q850.2 538.8 849.1 539.8Q848.0 540.8 848.0 540.8Q848.0 540.8 847.2 539.6Q846.4 538.3 845.3 536.8Q844.3 535.3 844.5 534.2Q844.7 533.0 843.7 531.3Q842.6 529.6 843.4 528.3Q844.3 527.0 843.6 525.3Q842.9 523.6 845.1 521.6Q847.3 519.5 849.1 518.8Q850.8 518.1 850.8 518.1Q850.8 518.1 852.3 519.2z"/>
<path fill="url(#lym2)" d="M863.3 609.2Q864.0 611.5 863.8 615.2Q863.5 618.9 861.4 619.4Q859.2 619.8 858.6 621.6Q858.0 623.3 855.5 623.5Q853.0 623.6 852.1 624.6Q851.2 625.6 848.9 625.5Q846.6 625.5 844.8 625.5Q843.0 625.6 843.0 625.6Q843.0 625.6 843.1 623.7Q843.2 621.9 843.3 619.6Q843.4 617.3 844.4 616.5Q845.5 615.6 845.7 613.1Q846.0 610.6 847.8 610.1Q849.5 609.6 850.1 607.5Q850.7 605.4 854.4 605.3Q858.1 605.3 860.4 606.1Q862.6 606.9 862.6 606.9Q862.6 606.9 863.3 609.2z"/>
<path fill="url(#lm2)" d="M875.8 492.4Q877.6 493.2 879.8 495.4Q882.1 497.6 881.4 499.4Q880.7 501.1 881.5 502.5Q882.3 503.9 881.2 505.7Q880.1 507.6 880.4 508.8Q880.6 510.0 879.4 511.6Q878.3 513.1 877.5 514.5Q876.6 515.8 876.6 515.8Q876.6 515.8 875.5 514.7Q874.4 513.6 873.0 512.3Q871.5 511.0 871.5 509.7Q871.4 508.5 869.9 507.0Q868.5 505.4 869.0 503.9Q869.5 502.4 868.4 500.8Q867.3 499.2 869.1 496.6Q870.8 493.9 872.4 492.8Q874.0 491.6 874.0 491.6Q874.0 491.6 875.8 492.4z"/>
<path fill="url(#lm3)" d="M917.7 325.3Q919.4 326.1 921.4 328.2Q923.4 330.4 922.4 331.8Q921.5 333.3 922.2 334.5Q922.8 335.8 921.5 337.2Q920.2 338.7 920.3 339.7Q920.3 340.8 919.0 342.0Q917.7 343.3 916.7 344.3Q915.7 345.3 915.7 345.3Q915.7 345.3 914.7 344.3Q913.7 343.2 912.5 341.9Q911.2 340.7 911.3 339.6Q911.4 338.6 910.1 337.1Q908.8 335.6 909.5 334.4Q910.2 333.1 909.3 331.6Q908.4 330.2 910.5 328.1Q912.5 326.0 914.2 325.2Q916.0 324.4 916.0 324.4Q916.0 324.4 917.7 325.3z"/>
<path fill="url(#lm2)" d="M886.2 334.9Q888.5 335.6 891.5 337.7Q894.4 339.9 893.5 341.9Q892.6 343.8 893.7 345.2Q894.8 346.6 893.5 348.7Q892.2 350.7 892.5 352.0Q892.7 353.2 891.4 355.0Q890.0 356.8 888.9 358.3Q887.9 359.8 887.9 359.8Q887.9 359.8 886.5 358.7Q885.0 357.6 883.2 356.3Q881.3 355.0 881.2 353.7Q881.1 352.4 879.2 350.9Q877.3 349.4 877.9 347.7Q878.5 346.0 877.1 344.4Q875.7 342.8 877.8 339.8Q879.9 336.9 881.9 335.5Q883.9 334.2 883.9 334.2Q883.9 334.2 886.2 334.9z"/>
<path fill="url(#lm3)" d="M892.4 500.8Q893.4 498.8 895.9 496.4Q898.5 494.0 900.2 495.1Q901.9 496.2 903.4 495.4Q904.9 494.6 906.6 496.2Q908.3 497.8 909.6 497.7Q910.8 497.6 912.3 499.2Q913.8 500.7 915.0 501.9Q916.2 503.1 916.2 503.1Q916.2 503.1 915.0 504.3Q913.7 505.5 912.2 507.0Q910.7 508.6 909.5 508.5Q908.2 508.4 906.5 509.9Q904.7 511.4 903.2 510.6Q901.8 509.8 900.0 510.8Q898.3 511.9 895.8 509.5Q893.4 507.0 892.4 505.0Q891.4 502.9 891.4 502.9Q891.4 502.9 892.4 500.8z"/>
<path fill="url(#lm0)" d="M862.4 501.8Q863.2 503.4 863.7 506.3Q864.1 509.3 862.6 510.3Q861.0 511.3 860.9 512.8Q860.7 514.4 858.9 515.2Q857.0 516.0 856.5 517.1Q856.0 518.1 854.2 518.8Q852.5 519.4 851.1 520.0Q849.8 520.5 849.8 520.5Q849.8 520.5 849.6 519.0Q849.4 517.6 849.0 515.8Q848.7 514.0 849.3 513.0Q850.0 512.0 849.8 510.0Q849.6 508.0 850.8 507.1Q852.1 506.1 852.2 504.3Q852.3 502.5 855.0 501.4Q857.8 500.2 859.6 500.2Q861.5 500.2 861.5 500.2Q861.5 500.2 862.4 501.8z"/>
<path fill="url(#lym0)" d="M854.1 606.6Q853.1 608.1 850.8 609.7Q848.5 611.3 847.3 610.2Q846.0 609.1 844.7 609.5Q843.4 610.0 842.2 608.6Q841.0 607.1 840.0 607.0Q839.0 606.9 838.1 605.5Q837.1 604.1 836.2 603.0Q835.4 601.9 835.4 601.9Q835.4 601.9 836.5 601.1Q837.7 600.3 839.0 599.3Q840.4 598.2 841.4 598.5Q842.4 598.7 844.0 597.7Q845.6 596.7 846.6 597.5Q847.7 598.4 849.3 597.7Q850.8 597.1 852.5 599.3Q854.1 601.5 854.7 603.3Q855.2 605.1 855.2 605.1Q855.2 605.1 854.1 606.6z"/>
<path fill="url(#lm0)" d="M828.3 526.1Q827.6 528.0 825.4 530.4Q823.1 532.8 821.2 532.2Q819.3 531.6 817.9 532.5Q816.5 533.4 814.5 532.4Q812.5 531.4 811.2 531.7Q809.9 532.0 808.2 531.0Q806.5 529.9 805.0 529.1Q803.6 528.4 803.6 528.4Q803.6 528.4 804.7 527.2Q805.8 526.0 807.2 524.5Q808.5 522.9 809.8 522.8Q811.0 522.7 812.6 521.1Q814.2 519.5 815.8 519.9Q817.5 520.4 819.1 519.2Q820.7 518.0 823.6 519.6Q826.5 521.2 827.8 522.7Q829.1 524.2 829.1 524.2Q829.1 524.2 828.3 526.1z"/>
<path fill="url(#lym1)" d="M871.3 599.6Q872.9 600.2 875.0 602.1Q877.1 604.1 876.6 605.8Q876.2 607.5 877.0 608.8Q877.8 610.0 877.1 611.8Q876.3 613.6 876.6 614.7Q876.8 615.8 876.0 617.4Q875.2 618.9 874.6 620.2Q874.0 621.5 874.0 621.5Q874.0 621.5 872.9 620.5Q871.9 619.6 870.6 618.4Q869.2 617.3 869.1 616.1Q868.9 615.0 867.6 613.6Q866.2 612.2 866.5 610.8Q866.8 609.3 865.8 607.9Q864.7 606.4 865.9 603.8Q867.2 601.3 868.4 600.1Q869.7 598.9 869.7 598.9Q869.7 598.9 871.3 599.6z"/>
<path fill="url(#lym1)" d="M845.6 552.5Q845.4 554.6 843.9 557.8Q842.3 561.0 840.2 560.9Q838.0 560.8 836.8 562.2Q835.7 563.6 833.3 563.1Q831.0 562.7 829.8 563.3Q828.5 564.0 826.4 563.4Q824.3 562.8 822.6 562.4Q820.9 562.0 820.9 562.0Q820.9 562.0 821.7 560.5Q822.5 558.9 823.4 556.9Q824.3 554.9 825.5 554.4Q826.8 553.9 827.9 551.8Q829.1 549.7 830.9 549.6Q832.7 549.6 834.0 547.9Q835.3 546.2 838.8 547.0Q842.2 547.8 844.0 549.1Q845.8 550.3 845.8 550.3Q845.8 550.3 845.6 552.5z"/>
<path fill="url(#lm0)" d="M844.8 523.5Q845.1 525.4 844.5 528.4Q844.0 531.4 842.1 531.7Q840.3 532.0 839.6 533.4Q839.0 534.8 836.9 534.9Q834.8 534.9 834.0 535.7Q833.1 536.5 831.2 536.3Q829.3 536.2 827.8 536.2Q826.3 536.2 826.3 536.2Q826.3 536.2 826.6 534.7Q826.9 533.2 827.2 531.3Q827.5 529.4 828.4 528.8Q829.4 528.1 829.8 526.1Q830.3 524.1 831.8 523.7Q833.3 523.4 834.0 521.6Q834.7 519.9 837.8 520.0Q840.9 520.1 842.6 520.8Q844.4 521.6 844.4 521.6Q844.4 521.6 844.8 523.5z"/>
<path fill="url(#lm0)" d="M841.5 388.1Q842.9 389.4 844.3 391.8Q845.7 394.3 844.4 395.4Q843.1 396.5 843.5 397.8Q843.8 399.2 842.2 400.2Q840.5 401.2 840.3 402.1Q840.1 403.1 838.6 403.9Q837.0 404.7 835.8 405.4Q834.6 406.1 834.6 406.1Q834.6 406.1 833.9 404.9Q833.2 403.6 832.3 402.1Q831.4 400.6 831.8 399.7Q832.1 398.7 831.3 397.0Q830.4 395.3 831.4 394.4Q832.4 393.4 831.9 391.8Q831.4 390.2 833.9 388.9Q836.4 387.5 838.2 387.2Q840.1 386.9 840.1 386.9Q840.1 386.9 841.5 388.1z"/>
<path fill="url(#lym0)" d="M910.2 618.8Q911.6 616.9 914.9 614.9Q918.2 612.9 920.0 614.3Q921.8 615.8 923.7 615.2Q925.6 614.7 927.3 616.5Q929.1 618.4 930.6 618.6Q932.0 618.7 933.5 620.5Q935.0 622.4 936.2 623.8Q937.5 625.2 937.5 625.2Q937.5 625.2 935.8 626.2Q934.2 627.2 932.2 628.5Q930.3 629.7 928.8 629.4Q927.4 629.1 925.1 630.4Q922.9 631.6 921.3 630.5Q919.7 629.4 917.5 630.2Q915.3 631.0 912.8 628.1Q910.3 625.2 909.5 622.9Q908.7 620.7 908.7 620.7Q908.7 620.7 910.2 618.8z"/>
<path fill="url(#lm2)" d="M867.4 532.6Q867.2 534.8 865.9 537.8Q864.6 540.9 862.6 540.6Q860.7 540.3 859.7 541.6Q858.6 542.8 856.5 542.1Q854.4 541.4 853.3 542.0Q852.2 542.5 850.3 541.7Q848.4 540.9 846.9 540.4Q845.3 539.8 845.3 539.8Q845.3 539.8 846.0 538.3Q846.7 536.8 847.4 534.9Q848.2 532.9 849.3 532.5Q850.4 532.2 851.4 530.1Q852.4 528.1 854.0 528.3Q855.7 528.4 856.8 526.8Q857.9 525.2 861.1 526.4Q864.2 527.6 865.8 529.0Q867.5 530.4 867.5 530.4Q867.5 530.4 867.4 532.6z"/>
<path fill="url(#lm3)" d="M818.2 515.7Q817.8 517.6 816.1 520.2Q814.4 522.8 812.5 522.6Q810.6 522.3 809.4 523.4Q808.3 524.5 806.2 524.0Q804.2 523.4 803.1 523.9Q801.9 524.4 800.2 523.7Q798.4 523.1 796.9 522.6Q795.4 522.2 795.4 522.2Q795.4 522.2 796.3 520.9Q797.1 519.6 798.1 518.0Q799.1 516.3 800.2 516.0Q801.4 515.6 802.6 513.9Q803.8 512.2 805.4 512.3Q807.1 512.4 808.4 511.0Q809.7 509.6 812.7 510.6Q815.6 511.5 817.1 512.7Q818.5 513.9 818.5 513.9Q818.5 513.9 818.2 515.7z"/>
<path fill="url(#lm3)" d="M949.8 389.8Q951.2 390.6 952.8 392.8Q954.3 394.9 953.6 396.4Q952.9 397.8 953.4 399.1Q953.9 400.4 952.9 401.8Q951.8 403.3 951.9 404.4Q952.0 405.4 950.9 406.7Q949.9 407.9 949.1 409.0Q948.3 410.0 948.3 410.0Q948.3 410.0 947.5 409.0Q946.8 407.9 945.8 406.6Q944.7 405.4 944.8 404.3Q944.9 403.2 943.9 401.8Q942.9 400.3 943.4 399.0Q944.0 397.7 943.3 396.3Q942.6 394.8 944.2 392.7Q945.8 390.6 947.1 389.7Q948.5 388.9 948.5 388.9Q948.5 388.9 949.8 389.8z"/>
<path fill="url(#lym0)" d="M903.6 551.8Q904.9 550.9 907.5 550.4Q910.1 549.8 911.2 551.0Q912.3 552.3 913.7 552.3Q915.1 552.3 916.2 553.8Q917.2 555.3 918.2 555.7Q919.2 556.0 920.1 557.4Q920.9 558.9 921.6 560.0Q922.3 561.1 922.3 561.1Q922.3 561.1 921.0 561.3Q919.7 561.6 918.1 562.0Q916.6 562.4 915.6 561.9Q914.6 561.5 912.8 561.8Q911.0 562.1 910.0 561.1Q909.0 560.1 907.4 560.2Q905.7 560.2 904.3 558.0Q902.9 555.7 902.6 554.2Q902.3 552.6 902.3 552.6Q902.3 552.6 903.6 551.8z"/>
<path fill="url(#lm1)" d="M840.9 505.5Q841.3 507.2 840.8 510.0Q840.3 512.8 838.6 513.3Q836.9 513.8 836.3 515.1Q835.7 516.5 833.7 516.7Q831.8 517.0 831.0 517.8Q830.3 518.6 828.5 518.7Q826.8 518.8 825.4 518.9Q823.9 519.0 823.9 519.0Q823.9 519.0 824.2 517.6Q824.5 516.2 824.7 514.5Q825.0 512.8 825.9 512.1Q826.7 511.4 827.2 509.5Q827.6 507.6 829.0 507.1Q830.4 506.6 831.0 505.0Q831.6 503.4 834.5 503.1Q837.3 502.9 839.0 503.4Q840.6 503.8 840.6 503.8Q840.6 503.8 840.9 505.5z"/>
<path fill="url(#lm1)" d="M868.5 415.6Q869.7 413.4 872.5 411.0Q875.3 408.5 877.1 409.8Q878.9 411.1 880.5 410.3Q882.2 409.5 883.9 411.3Q885.6 413.1 887.0 413.1Q888.3 413.1 889.8 414.9Q891.2 416.7 892.5 418.0Q893.7 419.4 893.7 419.4Q893.7 419.4 892.3 420.6Q890.9 421.8 889.2 423.4Q887.5 425.0 886.2 424.8Q884.9 424.6 883.0 426.2Q881.0 427.7 879.5 426.7Q877.9 425.8 876.0 426.8Q874.1 427.9 871.6 425.1Q869.2 422.3 868.2 420.0Q867.3 417.7 867.3 417.7Q867.3 417.7 868.5 415.6z"/>
<path fill="url(#lm3)" d="M887.9 341.9Q888.6 340.5 890.8 338.6Q892.9 336.7 894.6 337.3Q896.3 337.8 897.6 337.1Q898.9 336.4 900.6 337.3Q902.3 338.2 903.5 338.0Q904.6 337.8 906.1 338.7Q907.6 339.6 908.8 340.3Q910.1 341.0 910.1 341.0Q910.1 341.0 909.0 341.9Q907.9 342.9 906.7 344.1Q905.4 345.2 904.3 345.3Q903.1 345.4 901.6 346.6Q900.1 347.8 898.7 347.4Q897.2 347.0 895.7 347.9Q894.2 348.8 891.7 347.4Q889.2 346.0 888.2 344.7Q887.1 343.4 887.1 343.4Q887.1 343.4 887.9 341.9z"/>
<path fill="url(#lm3)" d="M834.6 491.8Q835.3 493.0 835.7 495.4Q836.1 497.8 834.9 498.6Q833.6 499.5 833.5 500.7Q833.4 502.0 832.0 502.7Q830.5 503.4 830.1 504.3Q829.7 505.2 828.4 505.7Q827.0 506.3 825.9 506.8Q824.8 507.3 824.8 507.3Q824.8 507.3 824.7 506.1Q824.5 504.9 824.2 503.5Q823.9 502.0 824.4 501.2Q824.9 500.4 824.8 498.8Q824.6 497.2 825.5 496.4Q826.5 495.6 826.6 494.2Q826.6 492.7 828.8 491.7Q831.0 490.7 832.4 490.6Q833.9 490.5 833.9 490.5Q833.9 490.5 834.6 491.8z"/>
<path fill="url(#lm0)" d="M832.8 367.8Q831.7 369.8 829.0 372.1Q826.3 374.4 824.5 373.3Q822.6 372.2 821.0 373.0Q819.3 373.8 817.5 372.3Q815.6 370.8 814.3 370.8Q812.9 370.9 811.3 369.4Q809.7 367.9 808.4 366.7Q807.1 365.6 807.1 365.6Q807.1 365.6 808.4 364.4Q809.8 363.3 811.4 361.8Q813.0 360.3 814.4 360.4Q815.7 360.5 817.6 359.1Q819.5 357.6 821.1 358.4Q822.7 359.2 824.6 358.2Q826.5 357.1 829.1 359.5Q831.8 361.8 832.9 363.8Q833.9 365.8 833.9 365.8Q833.9 365.8 832.8 367.8z"/>
<path fill="url(#lm1)" d="M865.9 385.4Q867.8 385.1 870.7 385.8Q873.7 386.4 874.1 388.3Q874.4 390.1 875.8 390.8Q877.2 391.6 877.3 393.6Q877.3 395.7 878.1 396.6Q878.9 397.5 878.8 399.4Q878.7 401.3 878.7 402.8Q878.7 404.3 878.7 404.3Q878.7 404.3 877.2 404.0Q875.8 403.6 873.9 403.3Q872.0 402.9 871.4 402.0Q870.7 401.0 868.7 400.4Q866.7 399.9 866.3 398.4Q865.9 396.9 864.2 396.1Q862.5 395.3 862.5 392.3Q862.6 389.2 863.3 387.4Q864.0 385.7 864.0 385.7Q864.0 385.7 865.9 385.4z"/>
<path fill="url(#lm3)" d="M880.1 523.3Q880.9 521.8 882.9 520.1Q884.9 518.4 886.3 519.1Q887.8 519.8 889.0 519.2Q890.2 518.6 891.7 519.6Q893.1 520.6 894.2 520.5Q895.2 520.4 896.4 521.4Q897.7 522.4 898.8 523.2Q899.8 524.0 899.8 524.0Q899.8 524.0 898.8 524.8Q897.8 525.7 896.6 526.8Q895.5 527.9 894.4 527.9Q893.4 527.8 892.0 529.0Q890.6 530.1 889.4 529.6Q888.1 529.0 886.7 529.8Q885.3 530.6 883.2 529.1Q881.1 527.5 880.2 526.1Q879.4 524.7 879.4 524.7Q879.4 524.7 880.1 523.3z"/>
<path fill="url(#lym1)" d="M873.6 623.7Q873.3 625.0 871.9 626.9Q870.5 628.8 869.0 628.7Q867.5 628.5 866.6 629.3Q865.6 630.1 864.1 629.7Q862.5 629.3 861.6 629.7Q860.7 630.0 859.4 629.5Q858.0 629.1 856.9 628.8Q855.8 628.4 855.8 628.4Q855.8 628.4 856.5 627.5Q857.2 626.6 858.0 625.4Q858.8 624.2 859.7 623.9Q860.6 623.7 861.6 622.4Q862.7 621.1 863.9 621.2Q865.1 621.3 866.2 620.3Q867.3 619.3 869.6 619.9Q871.8 620.6 872.9 621.5Q874.0 622.3 874.0 622.3Q874.0 622.3 873.6 623.7z"/>
<path fill="url(#lm0)" d="M955.8 352.5Q957.0 351.8 959.4 351.5Q961.7 351.1 962.4 352.3Q963.2 353.5 964.4 353.7Q965.6 353.8 966.2 355.2Q966.9 356.7 967.7 357.1Q968.5 357.5 969.0 358.8Q969.5 360.2 969.9 361.3Q970.3 362.3 970.3 362.3Q970.3 362.3 969.2 362.5Q968.1 362.6 966.6 362.9Q965.2 363.1 964.5 362.6Q963.7 362.1 962.1 362.3Q960.6 362.5 959.9 361.5Q959.2 360.5 957.7 360.4Q956.3 360.4 955.4 358.2Q954.6 356.0 954.6 354.6Q954.6 353.2 954.6 353.2Q954.6 353.2 955.8 352.5z"/>
<path fill="url(#lym0)" d="M856.0 567.7Q856.5 569.5 856.2 572.4Q856.0 575.3 854.3 575.7Q852.6 576.1 852.1 577.4Q851.6 578.8 849.6 578.9Q847.7 579.1 846.9 579.9Q846.2 580.7 844.4 580.7Q842.6 580.7 841.2 580.7Q839.8 580.8 839.8 580.8Q839.8 580.8 839.9 579.3Q840.1 577.9 840.2 576.1Q840.3 574.4 841.1 573.7Q842.0 573.0 842.2 571.1Q842.5 569.1 843.9 568.7Q845.3 568.3 845.8 566.6Q846.3 565.0 849.2 564.9Q852.1 564.8 853.8 565.4Q855.6 566.0 855.6 566.0Q855.6 566.0 856.0 567.7z"/>
<path fill="url(#lm3)" d="M808.5 379.5Q808.2 381.3 806.5 383.8Q804.8 386.4 802.9 386.2Q801.0 386.1 799.9 387.2Q798.7 388.2 796.7 387.8Q794.7 387.3 793.6 387.8Q792.5 388.3 790.7 387.7Q788.9 387.2 787.4 386.8Q786.0 386.4 786.0 386.4Q786.0 386.4 786.8 385.1Q787.6 383.9 788.6 382.3Q789.6 380.7 790.8 380.3Q791.9 379.9 793.1 378.3Q794.3 376.6 795.9 376.6Q797.5 376.7 798.8 375.3Q800.1 373.9 803.1 374.8Q806.0 375.6 807.5 376.7Q808.9 377.7 808.9 377.7Q808.9 377.7 808.5 379.5z"/>
<path fill="url(#lym0)" d="M842.9 551.6Q843.5 554.2 842.9 558.1Q842.4 562.0 840.0 562.3Q837.7 562.5 836.9 564.3Q836.2 566.1 833.5 566.0Q830.9 565.8 829.8 566.8Q828.7 567.8 826.3 567.5Q823.9 567.2 821.9 567.0Q820.0 566.8 820.0 566.8Q820.0 566.8 820.3 564.9Q820.6 563.0 820.8 560.5Q821.1 558.1 822.3 557.3Q823.4 556.5 823.9 553.9Q824.4 551.3 826.3 550.9Q828.2 550.6 829.0 548.4Q829.8 546.2 833.8 546.5Q837.7 546.9 840.0 548.0Q842.4 549.1 842.4 549.1Q842.4 549.1 842.9 551.6z"/>
<path fill="url(#lm2)" d="M871.3 352.2Q872.6 351.3 875.2 350.8Q877.7 350.2 878.7 351.5Q879.7 352.8 881.1 352.9Q882.4 352.9 883.3 354.5Q884.1 356.1 885.1 356.5Q886.0 356.9 886.7 358.3Q887.4 359.8 887.9 361.0Q888.5 362.2 888.5 362.2Q888.5 362.2 887.2 362.4Q886.0 362.7 884.4 363.1Q882.8 363.5 881.9 363.0Q881.0 362.4 879.3 362.7Q877.5 363.0 876.6 362.0Q875.7 361.0 874.1 361.0Q872.5 361.0 871.3 358.6Q870.2 356.3 870.0 354.7Q869.9 353.1 869.9 353.1Q869.9 353.1 871.3 352.2z"/>
<path fill="url(#lm1)" d="M1001.7 410.3Q1002.8 408.6 1005.4 406.8Q1007.9 405.0 1009.6 405.9Q1011.3 406.9 1012.8 406.3Q1014.3 405.7 1016.0 407.1Q1017.6 408.5 1018.9 408.4Q1020.1 408.4 1021.5 409.8Q1022.9 411.1 1024.1 412.2Q1025.3 413.2 1025.3 413.2Q1025.3 413.2 1024.0 414.1Q1022.7 415.0 1021.2 416.2Q1019.6 417.4 1018.4 417.2Q1017.2 417.1 1015.4 418.3Q1013.6 419.5 1012.1 418.7Q1010.7 418.0 1008.9 418.8Q1007.2 419.6 1004.8 417.5Q1002.4 415.4 1001.5 413.6Q1000.6 411.9 1000.6 411.9Q1000.6 411.9 1001.7 410.3z"/>
<path fill="url(#lm0)" d="M955.7 393.0Q957.2 392.3 960.0 392.1Q962.7 391.8 963.7 393.2Q964.8 394.6 966.2 394.9Q967.7 395.1 968.5 396.7Q969.4 398.4 970.4 398.9Q971.4 399.5 972.1 401.0Q972.7 402.6 973.3 403.9Q973.9 405.1 973.9 405.1Q973.9 405.1 972.6 405.2Q971.2 405.3 969.5 405.6Q967.8 405.8 966.8 405.2Q965.9 404.5 964.0 404.6Q962.1 404.7 961.2 403.6Q960.3 402.4 958.5 402.3Q956.8 402.1 955.6 399.6Q954.5 397.0 954.4 395.4Q954.3 393.8 954.3 393.8Q954.3 393.8 955.7 393.0z"/>
<path fill="url(#lm1)" d="M861.8 478.8Q861.2 480.9 858.9 483.7Q856.6 486.5 854.4 486.1Q852.2 485.6 850.7 486.8Q849.2 487.9 846.8 487.1Q844.5 486.2 843.1 486.7Q841.7 487.1 839.7 486.2Q837.7 485.2 836.0 484.5Q834.3 483.9 834.3 483.9Q834.3 483.9 835.5 482.5Q836.6 481.1 837.9 479.3Q839.3 477.5 840.7 477.2Q842.2 476.9 843.8 475.0Q845.4 473.2 847.3 473.5Q849.2 473.8 850.9 472.3Q852.6 470.8 856.0 472.2Q859.3 473.6 860.9 475.2Q862.5 476.7 862.5 476.7Q862.5 476.7 861.8 478.8z"/>
<path fill="url(#lym2)" d="M857.8 543.9Q859.1 545.1 860.4 547.6Q861.7 550.1 860.6 551.5Q859.5 552.8 859.8 554.2Q860.1 555.7 858.7 556.9Q857.2 558.2 857.0 559.3Q856.9 560.4 855.5 561.5Q854.0 562.5 852.9 563.4Q851.8 564.3 851.8 564.3Q851.8 564.3 851.2 563.0Q850.6 561.8 849.7 560.2Q848.8 558.7 849.1 557.6Q849.4 556.6 848.6 554.8Q847.8 553.0 848.7 551.9Q849.5 550.7 849.1 549.0Q848.6 547.3 850.8 545.6Q853.0 543.8 854.7 543.2Q856.4 542.7 856.4 542.7Q856.4 542.7 857.8 543.9z"/>
<path fill="url(#lm0)" d="M913.5 536.4Q915.4 537.4 917.8 540.0Q920.2 542.7 919.4 544.8Q918.7 546.9 919.6 548.5Q920.4 550.2 919.3 552.3Q918.2 554.5 918.4 555.9Q918.6 557.3 917.5 559.2Q916.3 561.0 915.4 562.6Q914.5 564.1 914.5 564.1Q914.5 564.1 913.4 562.8Q912.2 561.5 910.7 559.9Q909.2 558.3 909.1 556.8Q909.0 555.4 907.5 553.5Q906.0 551.7 906.5 549.9Q907.0 548.1 905.9 546.2Q904.7 544.2 906.5 541.2Q908.3 538.1 910.0 536.8Q911.6 535.4 911.6 535.4Q911.6 535.4 913.5 536.4z"/>
<path fill="url(#lym2)" d="M862.1 589.2Q863.5 590.0 865.3 592.2Q867.0 594.3 866.3 595.9Q865.5 597.4 866.1 598.7Q866.7 600.0 865.7 601.6Q864.6 603.1 864.7 604.2Q864.8 605.3 863.7 606.6Q862.7 608.0 861.9 609.1Q861.1 610.2 861.1 610.2Q861.1 610.2 860.2 609.1Q859.4 608.1 858.3 606.8Q857.2 605.5 857.2 604.4Q857.3 603.3 856.1 601.8Q855.0 600.2 855.6 598.9Q856.1 597.6 855.3 596.1Q854.5 594.6 856.2 592.3Q857.8 590.1 859.2 589.2Q860.7 588.3 860.7 588.3Q860.7 588.3 862.1 589.2z"/>
<path fill="url(#lym1)" d="M865.6 610.7Q865.7 613.3 864.5 616.9Q863.2 620.6 860.9 620.4Q858.6 620.2 857.6 621.8Q856.5 623.4 854.0 622.7Q851.5 622.1 850.3 622.8Q849.1 623.6 846.8 622.8Q844.6 622.0 842.7 621.5Q840.9 620.9 840.9 620.9Q840.9 620.9 841.5 619.1Q842.1 617.3 842.8 615.0Q843.5 612.7 844.8 612.2Q846.1 611.6 847.0 609.2Q847.9 606.7 849.8 606.8Q851.7 606.8 852.9 604.9Q854.1 602.9 857.8 604.0Q861.5 605.1 863.5 606.7Q865.6 608.2 865.6 608.2Q865.6 608.2 865.6 610.7z"/>
<path fill="url(#lm0)" d="M874.3 426.6Q873.9 428.8 872.0 431.8Q870.2 434.8 868.3 434.1Q866.3 433.5 865.1 434.7Q863.8 435.8 861.7 434.7Q859.7 433.6 858.5 434.0Q857.3 434.4 855.5 433.2Q853.6 432.0 852.1 431.2Q850.6 430.3 850.6 430.3Q850.6 430.3 851.5 428.8Q852.5 427.4 853.5 425.5Q854.6 423.6 855.8 423.4Q857.1 423.1 858.4 421.2Q859.7 419.2 861.3 419.7Q863.0 420.1 864.4 418.6Q865.8 417.1 868.8 418.9Q871.8 420.7 873.3 422.5Q874.8 424.3 874.8 424.3Q874.8 424.3 874.3 426.6z"/>
<path fill="url(#lm3)" d="M870.1 439.3Q872.2 440.2 874.7 442.8Q877.3 445.4 876.5 447.5Q875.7 449.6 876.6 451.2Q877.6 452.8 876.3 455.0Q875.0 457.1 875.2 458.5Q875.5 459.9 874.2 461.8Q872.9 463.7 871.9 465.2Q870.9 466.7 870.9 466.7Q870.9 466.7 869.6 465.4Q868.3 464.1 866.7 462.6Q865.0 461.0 865.0 459.6Q864.9 458.1 863.3 456.3Q861.6 454.5 862.2 452.7Q862.8 450.9 861.5 449.0Q860.3 447.1 862.3 444.1Q864.3 441.0 866.2 439.6Q868.0 438.3 868.0 438.3Q868.0 438.3 870.1 439.3z"/>
<path fill="url(#lm0)" d="M885.3 412.7Q886.4 411.7 888.7 410.7Q891.0 409.7 892.2 410.7Q893.3 411.7 894.6 411.5Q895.9 411.3 897.0 412.6Q898.1 413.8 899.1 414.0Q900.1 414.2 901.0 415.4Q901.9 416.6 902.7 417.6Q903.5 418.5 903.5 418.5Q903.5 418.5 902.4 419.0Q901.2 419.5 899.8 420.1Q898.4 420.7 897.5 420.4Q896.6 420.1 895.0 420.7Q893.4 421.3 892.4 420.5Q891.3 419.8 889.8 420.1Q888.3 420.4 886.8 418.5Q885.2 416.6 884.7 415.1Q884.3 413.7 884.3 413.7Q884.3 413.7 885.3 412.7z"/>
<path fill="url(#lm3)" d="M937.4 382.5Q938.9 383.0 940.8 384.4Q942.7 385.8 942.3 387.2Q941.8 388.6 942.6 389.6Q943.3 390.5 942.6 391.9Q941.9 393.4 942.1 394.3Q942.4 395.1 941.6 396.4Q940.9 397.7 940.3 398.7Q939.8 399.7 939.8 399.7Q939.8 399.7 938.8 399.0Q937.9 398.3 936.7 397.4Q935.5 396.6 935.4 395.7Q935.2 394.8 934.0 393.8Q932.7 392.8 933.0 391.6Q933.3 390.4 932.4 389.3Q931.4 388.2 932.6 386.2Q933.7 384.1 934.9 383.1Q936.0 382.1 936.0 382.1Q936.0 382.1 937.4 382.5z"/>
<path fill="url(#lm1)" d="M844.0 349.7Q842.7 351.6 839.8 353.7Q837.0 355.8 835.3 354.6Q833.5 353.3 831.9 354.0Q830.2 354.6 828.5 352.9Q826.9 351.2 825.5 351.1Q824.2 351.1 822.8 349.4Q821.4 347.7 820.2 346.4Q819.0 345.1 819.0 345.1Q819.0 345.1 820.4 344.1Q821.9 343.1 823.6 341.7Q825.3 340.3 826.6 340.6Q827.9 340.8 829.9 339.4Q831.9 338.1 833.4 339.1Q834.9 340.0 836.8 339.2Q838.8 338.3 841.2 340.9Q843.5 343.6 844.4 345.7Q845.2 347.8 845.2 347.8Q845.2 347.8 844.0 349.7z"/>
<path fill="url(#lm2)" d="M919.0 468.2Q920.8 468.2 923.5 469.2Q926.3 470.2 926.4 472.0Q926.5 473.9 927.7 474.7Q929.0 475.6 928.8 477.6Q928.6 479.6 929.2 480.5Q929.9 481.5 929.6 483.3Q929.2 485.0 929.1 486.5Q928.9 488.0 928.9 488.0Q928.9 488.0 927.5 487.4Q926.1 486.9 924.4 486.3Q922.7 485.7 922.1 484.7Q921.6 483.7 919.8 482.9Q917.9 482.1 917.8 480.6Q917.6 479.1 916.1 478.2Q914.5 477.2 914.9 474.3Q915.4 471.4 916.2 469.8Q917.1 468.2 917.1 468.2Q917.1 468.2 919.0 468.2z"/>
<path fill="url(#lm1)" d="M891.8 517.5Q894.2 518.3 897.3 520.7Q900.4 523.2 899.6 525.3Q898.7 527.5 899.9 529.1Q901.0 530.7 899.7 533.0Q898.3 535.2 898.6 536.7Q898.9 538.1 897.5 540.1Q896.1 542.1 895.0 543.7Q894.0 545.3 894.0 545.3Q894.0 545.3 892.4 544.1Q890.9 542.9 888.9 541.4Q887.0 540.0 886.8 538.5Q886.7 537.1 884.7 535.4Q882.7 533.6 883.3 531.8Q883.9 529.9 882.4 528.1Q880.9 526.3 883.1 523.0Q885.3 519.7 887.3 518.2Q889.4 516.7 889.4 516.7Q889.4 516.7 891.8 517.5z"/>
<path fill="url(#lm3)" d="M983.7 410.9Q985.1 410.1 987.5 409.7Q990.0 409.4 990.7 410.7Q991.3 412.0 992.6 412.1Q993.8 412.3 994.3 413.9Q994.8 415.5 995.6 415.9Q996.5 416.4 996.8 417.8Q997.2 419.3 997.5 420.5Q997.8 421.7 997.8 421.7Q997.8 421.7 996.6 421.9Q995.4 422.0 993.9 422.3Q992.4 422.6 991.7 422.0Q990.9 421.5 989.3 421.7Q987.6 421.8 987.0 420.8Q986.4 419.7 984.9 419.6Q983.4 419.5 982.7 417.1Q982.1 414.8 982.2 413.2Q982.3 411.6 982.3 411.6Q982.3 411.6 983.7 410.9z"/>
<path fill="url(#lm3)" d="M879.7 422.4Q881.2 421.4 884.0 420.7Q886.7 420.1 887.6 421.5Q888.5 423.0 889.9 423.0Q891.3 423.1 892.1 424.8Q892.8 426.6 893.7 427.0Q894.7 427.4 895.2 429.1Q895.8 430.8 896.3 432.1Q896.8 433.4 896.8 433.4Q896.8 433.4 895.4 433.7Q894.0 434.0 892.4 434.5Q890.7 434.9 889.8 434.4Q888.9 433.8 887.0 434.2Q885.2 434.5 884.3 433.4Q883.5 432.2 881.8 432.2Q880.1 432.3 879.2 429.6Q878.2 427.0 878.2 425.2Q878.2 423.4 878.2 423.4Q878.2 423.4 879.7 422.4z"/>
<path fill="url(#lm1)" d="M931.8 362.3Q934.2 361.7 938.1 362.1Q942.0 362.4 942.3 364.7Q942.7 367.0 944.5 367.6Q946.3 368.3 946.3 370.9Q946.3 373.5 947.3 374.5Q948.3 375.5 948.1 377.9Q947.9 380.3 947.9 382.3Q947.8 384.2 947.8 384.2Q947.8 384.2 945.9 384.0Q944.0 383.8 941.6 383.6Q939.2 383.5 938.3 382.4Q937.5 381.2 934.9 380.9Q932.3 380.5 931.9 378.7Q931.4 376.8 929.2 376.1Q927.0 375.4 927.2 371.5Q927.4 367.7 928.3 365.3Q929.3 363.0 929.3 363.0Q929.3 363.0 931.8 362.3z"/>
<path fill="url(#lm2)" d="M861.7 544.0Q863.5 543.0 866.9 542.6Q870.2 542.2 871.5 543.9Q872.7 545.7 874.5 545.9Q876.3 546.1 877.3 548.2Q878.4 550.3 879.6 550.9Q880.9 551.5 881.7 553.4Q882.5 555.3 883.2 556.9Q883.9 558.4 883.9 558.4Q883.9 558.4 882.3 558.6Q880.6 558.8 878.5 559.1Q876.4 559.4 875.2 558.7Q874.1 557.9 871.8 558.1Q869.4 558.3 868.3 556.9Q867.2 555.5 865.1 555.3Q863.0 555.2 861.5 552.1Q860.1 549.0 860.0 546.9Q859.9 544.9 859.9 544.9Q859.9 544.9 861.7 544.0z"/>
<path fill="url(#lm0)" d="M933.5 378.8Q935.5 379.1 938.3 380.7Q941.1 382.3 940.7 384.2Q940.3 386.1 941.4 387.2Q942.5 388.3 941.7 390.3Q940.9 392.3 941.4 393.4Q941.8 394.5 940.9 396.3Q940.1 398.1 939.4 399.5Q938.8 401.0 938.8 401.0Q938.8 401.0 937.4 400.2Q936.0 399.4 934.3 398.5Q932.5 397.5 932.3 396.4Q932.0 395.2 930.1 394.1Q928.3 392.9 928.6 391.4Q928.8 389.8 927.4 388.5Q925.9 387.2 927.3 384.3Q928.6 381.4 930.0 379.9Q931.5 378.5 931.5 378.5Q931.5 378.5 933.5 378.8z"/>
<path fill="url(#lm3)" d="M836.7 383.5Q839.2 384.7 842.0 387.7Q844.9 390.7 843.5 392.7Q842.1 394.7 843.1 396.5Q844.0 398.3 842.1 400.3Q840.2 402.3 840.3 403.7Q840.3 405.2 838.4 406.9Q836.5 408.6 835.0 410.0Q833.5 411.4 833.5 411.4Q833.5 411.4 832.1 410.0Q830.7 408.5 828.9 406.7Q827.1 404.9 827.2 403.4Q827.4 401.9 825.5 399.9Q823.7 397.8 824.7 396.0Q825.8 394.3 824.5 392.2Q823.2 390.2 826.2 387.3Q829.2 384.5 831.8 383.4Q834.3 382.3 834.3 382.3Q834.3 382.3 836.7 383.5z"/>
<path fill="url(#lm2)" d="M944.9 341.1Q946.7 341.5 949.2 343.1Q951.6 344.6 951.3 346.4Q950.9 348.1 951.9 349.2Q952.9 350.3 952.2 352.2Q951.5 354.0 951.9 355.1Q952.3 356.1 951.5 357.7Q950.7 359.4 950.1 360.7Q949.5 362.1 949.5 362.1Q949.5 362.1 948.3 361.3Q947.1 360.5 945.5 359.5Q944.0 358.6 943.7 357.5Q943.4 356.5 941.8 355.3Q940.2 354.2 940.4 352.7Q940.6 351.2 939.4 350.0Q938.1 348.8 939.3 346.1Q940.5 343.4 941.8 342.1Q943.0 340.7 943.0 340.7Q943.0 340.7 944.9 341.1z"/>
<path fill="url(#lym1)" d="M861.0 612.6Q862.4 612.1 864.9 612.1Q867.3 612.1 868.1 613.5Q868.8 614.8 870.1 615.1Q871.4 615.4 872.0 617.0Q872.6 618.5 873.4 619.1Q874.3 619.6 874.7 621.1Q875.2 622.5 875.6 623.7Q876.0 624.8 876.0 624.8Q876.0 624.8 874.8 624.8Q873.5 624.8 872.0 624.8Q870.5 624.9 869.7 624.2Q868.9 623.6 867.3 623.5Q865.6 623.5 864.9 622.4Q864.2 621.3 862.7 621.0Q861.2 620.7 860.4 618.4Q859.6 616.0 859.6 614.6Q859.7 613.1 859.7 613.1Q859.7 613.1 861.0 612.6z"/>
<path fill="url(#lm1)" d="M857.7 356.4Q858.9 354.5 861.5 352.4Q864.2 350.4 865.8 351.6Q867.4 352.8 869.0 352.2Q870.5 351.5 872.1 353.2Q873.6 354.8 874.9 354.8Q876.1 354.9 877.4 356.5Q878.7 358.1 879.9 359.4Q881.0 360.6 881.0 360.6Q881.0 360.6 879.6 361.6Q878.3 362.6 876.7 364.0Q875.1 365.3 873.9 365.1Q872.7 364.9 870.8 366.2Q868.9 367.5 867.6 366.6Q866.2 365.7 864.4 366.6Q862.5 367.4 860.3 364.9Q858.1 362.3 857.3 360.3Q856.5 358.2 856.5 358.2Q856.5 358.2 857.7 356.4z"/>
<path fill="url(#lm2)" d="M814.2 335.1Q815.9 336.7 817.6 340.0Q819.4 343.2 817.9 345.0Q816.4 346.7 816.9 348.6Q817.3 350.4 815.4 352.0Q813.5 353.7 813.3 355.1Q813.0 356.5 811.2 357.9Q809.4 359.2 807.9 360.4Q806.5 361.5 806.5 361.5Q806.5 361.5 805.7 359.9Q804.8 358.2 803.7 356.3Q802.6 354.3 803.0 352.9Q803.4 351.5 802.3 349.2Q801.2 347.0 802.4 345.5Q803.5 343.9 802.9 341.8Q802.3 339.6 805.2 337.3Q808.1 335.0 810.3 334.3Q812.5 333.6 812.5 333.6Q812.5 333.6 814.2 335.1z"/>
<path fill="url(#lm2)" d="M901.9 398.5Q903.3 397.5 906.0 397.0Q908.6 396.4 909.5 397.8Q910.4 399.2 911.8 399.3Q913.2 399.3 913.9 401.0Q914.7 402.7 915.6 403.1Q916.6 403.5 917.1 405.1Q917.7 406.7 918.2 407.9Q918.7 409.2 918.7 409.2Q918.7 409.2 917.4 409.4Q916.1 409.7 914.5 410.1Q912.8 410.5 911.9 409.9Q911.1 409.4 909.3 409.7Q907.4 410.0 906.6 408.9Q905.8 407.8 904.2 407.8Q902.5 407.8 901.5 405.3Q900.5 402.8 900.5 401.1Q900.4 399.4 900.4 399.4Q900.4 399.4 901.9 398.5z"/>
<path fill="url(#lym0)" d="M869.5 576.2Q871.2 576.6 873.5 578.1Q875.8 579.7 875.3 581.3Q874.9 582.9 875.8 583.9Q876.7 585.0 875.9 586.6Q875.1 588.3 875.5 589.3Q875.8 590.3 875.0 591.8Q874.1 593.3 873.5 594.5Q872.9 595.7 872.9 595.7Q872.9 595.7 871.8 594.9Q870.7 594.1 869.2 593.2Q867.8 592.3 867.6 591.3Q867.4 590.3 865.9 589.2Q864.4 588.1 864.7 586.7Q865.0 585.4 863.9 584.2Q862.7 583.0 864.0 580.5Q865.2 578.1 866.5 576.9Q867.8 575.7 867.8 575.7Q867.8 575.7 869.5 576.2z"/>
<path fill="url(#lm1)" d="M843.1 375.6Q842.2 377.8 839.5 380.7Q836.9 383.5 834.7 382.7Q832.4 381.9 830.8 382.9Q829.1 384.0 826.8 382.7Q824.5 381.4 823.1 381.7Q821.6 382.0 819.6 380.6Q817.6 379.3 816.0 378.3Q814.3 377.3 814.3 377.3Q814.3 377.3 815.6 375.9Q817.0 374.5 818.5 372.6Q820.1 370.8 821.6 370.7Q823.1 370.6 825.0 368.8Q826.8 366.9 828.7 367.5Q830.6 368.1 832.5 366.7Q834.5 365.3 837.8 367.4Q841.1 369.5 842.5 371.4Q844.0 373.3 844.0 373.3Q844.0 373.3 843.1 375.6z"/>
<path fill="url(#lym2)" d="M858.7 556.8Q860.6 557.8 862.8 560.3Q865.0 562.8 863.8 564.4Q862.7 566.0 863.4 567.4Q864.1 568.9 862.6 570.5Q861.0 572.0 861.0 573.2Q861.1 574.4 859.5 575.7Q858.0 577.1 856.8 578.2Q855.6 579.3 855.6 579.3Q855.6 579.3 854.5 578.1Q853.5 576.8 852.1 575.3Q850.7 573.9 850.8 572.7Q851.0 571.5 849.6 569.8Q848.2 568.1 849.1 566.7Q849.9 565.3 849.0 563.6Q848.0 561.9 850.5 559.7Q852.9 557.4 854.9 556.6Q856.8 555.8 856.8 555.8Q856.8 555.8 858.7 556.8z"/>
<path fill="url(#lym0)" d="M867.1 563.4Q868.1 565.5 868.4 569.3Q868.8 573.0 866.7 573.8Q864.6 574.6 864.3 576.5Q864.0 578.3 861.5 578.8Q859.0 579.4 858.3 580.5Q857.5 581.7 855.2 582.0Q852.9 582.3 851.1 582.6Q849.3 582.9 849.3 582.9Q849.3 582.9 849.1 581.1Q849.0 579.3 848.7 576.9Q848.4 574.6 849.3 573.6Q850.2 572.6 850.1 570.1Q850.0 567.5 851.7 566.8Q853.4 566.0 853.6 563.8Q853.9 561.5 857.6 560.9Q861.3 560.3 863.7 560.7Q866.0 561.2 866.0 561.2Q866.0 561.2 867.1 563.4z"/>
<path fill="url(#lym2)" d="M859.4 547.8Q860.4 546.6 862.6 545.5Q864.7 544.4 865.8 545.4Q866.9 546.4 868.1 546.2Q869.3 545.9 870.3 547.2Q871.3 548.5 872.2 548.7Q873.1 548.8 873.9 550.1Q874.7 551.3 875.4 552.3Q876.1 553.3 876.1 553.3Q876.1 553.3 875.0 553.8Q874.0 554.4 872.7 555.1Q871.3 555.8 870.5 555.6Q869.6 555.3 868.1 556.0Q866.6 556.6 865.7 555.9Q864.8 555.1 863.3 555.5Q861.9 555.9 860.5 553.9Q859.1 551.9 858.8 550.4Q858.4 548.9 858.4 548.9Q858.4 548.9 859.4 547.8z"/>
<path fill="url(#lm2)" d="M870.9 427.3Q872.0 429.1 872.7 432.4Q873.3 435.6 871.6 436.7Q869.9 437.8 869.8 439.5Q869.7 441.2 867.6 442.1Q865.6 443.0 865.1 444.2Q864.5 445.4 862.6 446.0Q860.7 446.7 859.1 447.4Q857.6 448.0 857.6 448.0Q857.6 448.0 857.3 446.4Q857.0 444.7 856.5 442.7Q856.1 440.7 856.8 439.7Q857.4 438.6 857.1 436.4Q856.8 434.1 858.1 433.1Q859.5 432.1 859.5 430.1Q859.5 428.1 862.6 426.9Q865.7 425.6 867.8 425.6Q869.8 425.6 869.8 425.6Q869.8 425.6 870.9 427.3z"/>
<path fill="url(#lm2)" d="M786.8 524.3Q788.1 525.7 789.4 528.5Q790.6 531.2 789.3 532.4Q787.9 533.5 788.1 535.0Q788.4 536.5 786.7 537.5Q784.9 538.6 784.7 539.7Q784.4 540.7 782.7 541.6Q781.1 542.4 779.8 543.1Q778.5 543.9 778.5 543.9Q778.5 543.9 777.9 542.5Q777.3 541.2 776.5 539.5Q775.6 537.8 776.1 536.8Q776.5 535.8 775.7 533.9Q775.0 532.0 776.0 531.0Q777.1 530.0 776.7 528.2Q776.3 526.5 778.9 525.0Q781.6 523.6 783.5 523.3Q785.4 523.0 785.4 523.0Q785.4 523.0 786.8 524.3z"/>
<path fill="url(#lm1)" d="M927.5 371.3Q928.2 369.8 930.2 367.9Q932.2 365.9 933.9 366.5Q935.5 367.0 936.8 366.3Q938.0 365.5 939.7 366.4Q941.4 367.3 942.5 367.1Q943.6 366.9 945.1 367.8Q946.6 368.7 947.8 369.3Q949.0 370.0 949.0 370.0Q949.0 370.0 948.0 371.0Q947.0 371.9 945.8 373.2Q944.6 374.4 943.5 374.5Q942.4 374.6 940.9 375.8Q939.5 377.1 938.1 376.7Q936.7 376.3 935.2 377.3Q933.8 378.2 931.3 376.8Q928.9 375.5 927.8 374.2Q926.7 372.9 926.7 372.9Q926.7 372.9 927.5 371.3z"/>
<path fill="url(#lm1)" d="M912.5 409.3Q914.5 410.0 917.0 412.1Q919.6 414.1 918.8 415.9Q918.1 417.7 919.0 419.1Q920.0 420.4 918.8 422.2Q917.6 424.1 917.8 425.3Q918.1 426.5 916.9 428.1Q915.6 429.7 914.7 431.1Q913.8 432.4 913.8 432.4Q913.8 432.4 912.5 431.4Q911.3 430.3 909.6 429.1Q908.0 427.9 907.9 426.7Q907.8 425.5 906.2 424.0Q904.5 422.6 905.1 421.0Q905.6 419.5 904.4 418.0Q903.1 416.5 905.0 413.8Q906.9 411.1 908.7 409.9Q910.4 408.6 910.4 408.6Q910.4 408.6 912.5 409.3z"/>
<path fill="url(#lym1)" d="M875.2 622.3Q874.7 624.0 873.0 626.3Q871.2 628.7 869.3 628.5Q867.5 628.3 866.3 629.3Q865.1 630.3 863.1 629.8Q861.2 629.3 860.0 629.8Q858.9 630.2 857.2 629.6Q855.4 629.1 854.0 628.7Q852.6 628.3 852.6 628.3Q852.6 628.3 853.5 627.1Q854.4 625.9 855.5 624.5Q856.5 623.0 857.7 622.7Q858.8 622.3 860.1 620.8Q861.4 619.2 863.0 619.3Q864.5 619.4 865.9 618.1Q867.3 616.9 870.1 617.7Q873.0 618.6 874.3 619.6Q875.7 620.7 875.7 620.7Q875.7 620.7 875.2 622.3z"/>
<path fill="url(#lm3)" d="M855.9 450.0Q857.5 451.2 859.3 453.8Q861.0 456.5 859.8 458.0Q858.6 459.6 859.1 461.1Q859.6 462.6 858.1 464.1Q856.5 465.6 856.4 466.8Q856.3 468.0 854.8 469.2Q853.2 470.5 852.1 471.5Q850.9 472.6 850.9 472.6Q850.9 472.6 850.0 471.2Q849.2 469.9 848.1 468.3Q846.9 466.6 847.2 465.5Q847.4 464.3 846.3 462.4Q845.3 460.6 846.2 459.2Q847.1 457.9 846.4 456.1Q845.7 454.3 848.1 452.2Q850.5 450.1 852.4 449.4Q854.3 448.7 854.3 448.7Q854.3 448.7 855.9 450.0z"/>
<path fill="url(#lm3)" d="M873.7 528.4Q875.6 528.0 878.7 528.4Q881.7 528.8 882.3 530.6Q882.8 532.4 884.3 533.0Q885.7 533.6 886.0 535.7Q886.3 537.7 887.1 538.5Q888.0 539.4 888.1 541.3Q888.2 543.2 888.4 544.7Q888.5 546.2 888.5 546.2Q888.5 546.2 887.0 546.0Q885.5 545.8 883.6 545.6Q881.7 545.4 880.9 544.5Q880.1 543.6 878.1 543.3Q876.0 542.9 875.5 541.4Q874.9 539.9 873.1 539.3Q871.4 538.7 871.1 535.6Q870.8 532.5 871.4 530.7Q871.9 528.9 871.9 528.9Q871.9 528.9 873.7 528.4z"/>
<path fill="url(#lm0)" d="M888.0 461.5Q889.2 459.5 892.0 457.3Q894.7 455.1 896.4 456.4Q898.0 457.7 899.6 457.0Q901.2 456.4 902.7 458.1Q904.3 459.9 905.6 459.9Q906.8 460.0 908.2 461.7Q909.5 463.5 910.6 464.8Q911.8 466.1 911.8 466.1Q911.8 466.1 910.4 467.2Q909.0 468.3 907.3 469.7Q905.7 471.1 904.4 470.9Q903.2 470.7 901.3 472.1Q899.3 473.5 897.9 472.5Q896.5 471.5 894.7 472.4Q892.8 473.3 890.5 470.6Q888.3 467.9 887.5 465.7Q886.8 463.5 886.8 463.5Q886.8 463.5 888.0 461.5z"/>
<path fill="url(#lym1)" d="M867.8 597.3Q869.0 598.0 870.6 599.8Q872.2 601.7 871.7 603.0Q871.1 604.4 871.7 605.6Q872.3 606.7 871.4 608.1Q870.6 609.5 870.7 610.5Q870.9 611.4 870.0 612.7Q869.2 613.9 868.6 614.9Q867.9 615.9 867.9 615.9Q867.9 615.9 867.1 615.0Q866.4 614.1 865.4 613.0Q864.3 611.9 864.3 611.0Q864.3 610.0 863.3 608.7Q862.2 607.4 862.7 606.2Q863.1 605.1 862.3 603.8Q861.5 602.5 862.8 600.4Q864.1 598.4 865.3 597.5Q866.5 596.7 866.5 596.7Q866.5 596.7 867.8 597.3z"/>
<path fill="url(#lm0)" d="M954.6 358.1Q955.4 355.9 957.7 353.4Q960.0 350.9 961.8 351.9Q963.5 352.9 964.9 352.0Q966.3 351.1 968.1 352.6Q969.8 354.0 971.0 353.9Q972.2 353.7 973.8 355.2Q975.3 356.7 976.6 357.8Q977.8 358.9 977.8 358.9Q977.8 358.9 976.7 360.2Q975.5 361.4 974.2 363.1Q972.8 364.7 971.6 364.7Q970.4 364.6 968.8 366.3Q967.2 367.9 965.7 367.2Q964.2 366.4 962.6 367.6Q960.9 368.8 958.4 366.5Q955.9 364.2 954.8 362.2Q953.7 360.2 953.7 360.2Q953.7 360.2 954.6 358.1z"/>
<path fill="url(#lym2)" d="M835.7 581.0Q836.0 582.4 835.7 584.8Q835.4 587.1 834.0 587.5Q832.6 587.8 832.2 589.0Q831.7 590.1 830.2 590.2Q828.6 590.4 828.0 591.1Q827.3 591.7 825.9 591.8Q824.4 591.8 823.3 591.9Q822.1 592.0 822.1 592.0Q822.1 592.0 822.3 590.8Q822.4 589.7 822.5 588.2Q822.7 586.8 823.4 586.2Q824.1 585.6 824.4 584.0Q824.6 582.5 825.8 582.1Q826.9 581.7 827.4 580.4Q827.9 579.0 830.2 578.8Q832.6 578.7 834.0 579.1Q835.4 579.6 835.4 579.6Q835.4 579.6 835.7 581.0z"/>
<path fill="url(#lm3)" d="M873.0 507.0Q874.7 508.2 876.6 511.2Q878.6 514.1 877.6 516.1Q876.6 518.1 877.2 519.9Q877.8 521.6 876.4 523.6Q875.0 525.5 875.0 527.0Q875.1 528.4 873.7 530.1Q872.3 531.8 871.2 533.2Q870.2 534.6 870.2 534.6Q870.2 534.6 869.2 533.1Q868.3 531.6 867.0 529.8Q865.8 528.0 865.9 526.6Q866.0 525.2 864.8 523.1Q863.6 521.0 864.3 519.3Q865.1 517.6 864.3 515.6Q863.4 513.5 865.6 510.7Q867.7 507.9 869.5 506.9Q871.3 505.8 871.3 505.8Q871.3 505.8 873.0 507.0z"/>
<path fill="url(#lm1)" d="M825.9 517.2Q827.0 519.2 827.6 522.7Q828.2 526.1 826.3 526.9Q824.3 527.6 824.2 529.3Q824.0 531.0 821.7 531.5Q819.4 532.0 818.8 533.1Q818.1 534.1 816.0 534.4Q813.8 534.7 812.1 535.0Q810.4 535.3 810.4 535.3Q810.4 535.3 810.1 533.6Q809.8 531.9 809.4 529.7Q808.9 527.6 809.7 526.6Q810.5 525.7 810.2 523.4Q809.9 521.0 811.5 520.3Q813.0 519.6 813.1 517.5Q813.2 515.5 816.7 514.9Q820.1 514.3 822.4 514.7Q824.7 515.1 824.7 515.1Q824.7 515.1 825.9 517.2z"/>
<path fill="url(#lm1)" d="M923.0 381.5Q923.6 379.9 925.5 378.0Q927.3 376.0 928.8 376.7Q930.3 377.4 931.4 376.7Q932.5 376.0 934.1 376.9Q935.6 377.9 936.5 377.8Q937.5 377.6 938.8 378.6Q940.1 379.6 941.2 380.4Q942.3 381.2 942.3 381.2Q942.3 381.2 941.4 382.1Q940.5 383.1 939.4 384.3Q938.3 385.5 937.3 385.5Q936.3 385.6 935.0 386.8Q933.7 388.1 932.4 387.6Q931.2 387.1 929.8 388.0Q928.5 388.9 926.4 387.4Q924.2 385.8 923.3 384.4Q922.3 383.0 922.3 383.0Q922.3 383.0 923.0 381.5z"/>
<path fill="url(#lm2)" d="M837.6 389.2Q838.8 390.2 840.2 392.4Q841.6 394.7 840.8 396.2Q840.0 397.6 840.4 399.0Q840.9 400.3 839.8 401.7Q838.8 403.2 838.7 404.3Q838.7 405.4 837.7 406.6Q836.6 407.9 835.8 408.9Q835.0 409.9 835.0 409.9Q835.0 409.9 834.4 408.8Q833.7 407.7 832.8 406.3Q832.0 405.0 832.1 403.9Q832.2 402.8 831.3 401.2Q830.5 399.6 831.1 398.4Q831.6 397.1 831.1 395.6Q830.5 394.0 832.1 391.9Q833.7 389.9 835.1 389.1Q836.4 388.3 836.4 388.3Q836.4 388.3 837.6 389.2z"/>
<path fill="url(#lm2)" d="M843.2 440.9Q842.2 442.6 839.7 444.4Q837.3 446.3 835.7 445.3Q834.1 444.3 832.6 444.9Q831.2 445.4 829.6 444.1Q828.1 442.7 826.9 442.7Q825.7 442.7 824.4 441.3Q823.1 440.0 822.0 438.9Q820.8 437.9 820.8 437.9Q820.8 437.9 822.1 437.0Q823.3 436.0 824.8 434.9Q826.3 433.7 827.5 433.8Q828.6 434.0 830.3 432.8Q832.1 431.6 833.4 432.4Q834.8 433.1 836.5 432.3Q838.2 431.5 840.4 433.7Q842.6 435.8 843.5 437.6Q844.3 439.3 844.3 439.3Q844.3 439.3 843.2 440.9z"/>
<path fill="url(#lym2)" d="M862.0 551.2Q861.3 552.5 859.4 554.0Q857.6 555.5 856.2 555.0Q854.8 554.4 853.7 554.9Q852.5 555.5 851.1 554.6Q849.7 553.8 848.7 553.9Q847.8 554.0 846.6 553.2Q845.4 552.3 844.3 551.7Q843.3 551.1 843.3 551.1Q843.3 551.1 844.3 550.3Q845.2 549.6 846.3 548.6Q847.4 547.6 848.4 547.6Q849.4 547.6 850.7 546.7Q852.0 545.7 853.2 546.1Q854.4 546.5 855.7 545.8Q857.0 545.1 859.0 546.4Q861.0 547.7 861.9 548.9Q862.7 550.0 862.7 550.0Q862.7 550.0 862.0 551.2z"/>
<path fill="url(#lm1)" d="M921.1 378.9Q923.1 377.9 926.7 377.6Q930.3 377.3 931.1 379.3Q932.0 381.3 933.8 381.6Q935.6 381.9 936.2 384.3Q936.8 386.6 937.9 387.4Q939.0 388.1 939.4 390.3Q939.8 392.5 940.2 394.2Q940.6 395.9 940.6 395.9Q940.6 395.9 938.8 396.1Q937.0 396.2 934.8 396.4Q932.6 396.7 931.6 395.8Q930.6 394.9 928.2 395.0Q925.7 395.1 924.9 393.5Q924.1 391.9 922.0 391.6Q919.8 391.4 919.1 387.9Q918.3 384.4 918.7 382.1Q919.0 379.9 919.0 379.9Q919.0 379.9 921.1 378.9z"/>
<path fill="url(#lm2)" d="M847.5 456.4Q847.4 458.2 846.1 461.1Q844.8 464.0 842.8 464.2Q840.8 464.4 839.8 465.7Q838.8 467.0 836.6 467.0Q834.5 466.9 833.4 467.6Q832.3 468.3 830.4 468.1Q828.5 467.9 826.9 467.8Q825.3 467.7 825.3 467.7Q825.3 467.7 826.0 466.3Q826.7 464.9 827.4 463.1Q828.2 461.3 829.3 460.7Q830.5 460.1 831.5 458.2Q832.4 456.3 834.1 456.0Q835.7 455.8 836.9 454.1Q838.0 452.5 841.2 452.7Q844.3 453.0 846.0 453.8Q847.7 454.5 847.7 454.5Q847.7 454.5 847.5 456.4z"/>
<path d="M868.9 431.8L846.2 438.9M868.6 443.4L849.6 444.3M883.2 496.9L907.7 495.7M894.2 575.2L912.8 583.0M862.4 548.5L881.1 557.9M918.8 313.1L925.1 339.2M857.3 452.2L885.5 456.0M907.1 612.6L919.2 627.7M907.5 470.2L926.5 473.0M904.1 577.3L904.5 599.9M861.5 371.1L871.0 397.7M867.9 393.9L889.7 396.0M920.5 477.9L924.2 494.6M846.2 551.2L822.2 558.3M891.6 483.3L913.5 483.2M895.8 481.9L909.7 497.3M869.9 598.6L885.6 610.7M911.7 399.0L930.5 419.7M796.0 368.9L779.1 381.0M820.2 449.4L802.2 446.8M861.0 570.6L888.1 576.2M915.6 545.8L930.4 569.9M912.4 309.4L926.2 324.7M850.5 337.9L829.8 353.4M868.7 476.3L842.0 485.9M831.0 498.5L823.7 515.1M949.2 380.0L951.6 403.4M913.1 340.6L922.2 363.8M868.7 365.0L847.0 369.9M891.2 342.2L906.3 359.6M850.8 518.1L848.2 539.7M862.6 606.9L843.9 624.6M874.0 491.6L876.5 514.6M916.0 324.4L915.7 344.3M883.9 334.2L887.7 358.5M891.4 502.9L915.0 503.1M861.5 500.2L850.3 519.5M855.2 605.1L836.4 602.0M829.1 524.2L804.9 528.2M869.7 598.9L873.8 620.4M845.8 550.3L822.2 561.4M844.4 521.6L827.2 535.4M840.1 386.9L834.8 405.1M908.7 620.7L936.0 625.0M867.5 530.4L846.4 539.3M818.5 513.9L796.6 521.8M948.5 388.9L948.3 409.0M902.3 552.6L921.3 560.7M840.6 503.8L824.8 518.3M867.3 417.7L892.4 419.3M887.1 343.4L908.9 341.1M833.9 490.5L825.3 506.4M833.9 365.8L808.4 365.6M864.0 385.7L878.0 403.4M879.4 524.7L898.8 524.0M874.0 622.3L856.7 628.1M954.6 353.2L969.6 361.9M855.6 566.0L840.6 580.0M808.9 377.7L787.1 386.0M842.4 549.1L821.1 566.0M869.9 353.1L887.6 361.7M1000.6 411.9L1024.1 413.1M954.3 393.8L972.9 404.5M862.5 476.7L835.7 483.5M856.4 542.7L852.1 563.2M911.6 535.4L914.4 562.7M860.7 588.3L861.1 609.1M865.6 608.2L842.1 620.3M874.8 424.3L851.8 430.0M868.0 438.3L870.7 465.3M884.3 413.7L902.5 418.3M936.0 382.1L939.6 398.9M845.2 347.8L820.3 345.3M917.1 468.2L928.3 487.0M889.4 516.7L893.7 543.9M982.3 411.6L997.1 421.2M878.2 423.4L895.8 432.9M929.3 363.0L946.9 383.1M859.9 544.9L882.7 557.7M931.5 378.5L938.4 399.9M834.3 382.3L833.6 410.0M943.0 340.7L949.2 361.0M859.7 613.1L875.2 624.2M856.5 358.2L879.7 360.5M812.5 333.6L806.8 360.1M900.4 399.4L917.8 408.7M867.8 575.7L872.7 594.7M844.0 373.3L815.8 377.1M856.8 555.8L855.7 578.1M866.0 561.2L850.1 581.9M858.4 548.9L875.2 553.1M869.8 425.6L858.2 446.9M785.4 523.0L778.8 542.8M926.7 372.9L947.9 370.2M910.4 408.6L913.6 431.2M875.7 620.7L853.8 627.9M854.3 448.7L851.0 471.4M871.9 528.9L887.7 545.4M886.8 463.5L910.5 466.0M866.5 596.7L867.9 615.0M953.7 360.2L976.6 359.0M835.4 579.6L822.8 591.4M871.3 505.8L870.2 533.1M824.7 515.1L811.1 534.3M922.3 383.0L941.3 381.3M836.4 388.3L835.1 408.8M844.3 439.3L822.0 437.9M862.7 550.0L844.3 551.0M919.0 379.9L939.5 395.1M847.7 454.5L826.4 467.1" stroke="#7cc05c" stroke-width=".6" opacity=".55" fill="none"/>
<ellipse cx="872" cy="372" rx="34" ry="26" fill="url(#shd)" opacity="0.6"/>
<ellipse cx="885" cy="445" rx="30" ry="34" fill="url(#shd)" opacity="0.5"/>
<ellipse cx="868" cy="505" rx="28" ry="26" fill="url(#shd)" opacity="0.4"/>
<ellipse cx="905" cy="400" rx="22" ry="18" fill="url(#shd)" opacity="0.4"/>
<ellipse cx="835" cy="370" rx="22" ry="14" fill="url(#shd)" opacity="0.35"/>
<path fill="url(#lyl1)" d="M915.5 598.0Q917.0 598.4 918.9 599.7Q920.8 601.1 920.3 602.3Q919.9 603.6 920.6 604.5Q921.3 605.4 920.6 606.7Q919.8 608.1 920.1 608.9Q920.3 609.7 919.5 610.9Q918.7 612.1 918.1 613.1Q917.5 614.1 917.5 614.1Q917.5 614.1 916.6 613.4Q915.6 612.8 914.4 612.0Q913.2 611.2 913.1 610.4Q913.0 609.5 911.8 608.6Q910.5 607.7 910.8 606.6Q911.2 605.5 910.2 604.5Q909.3 603.5 910.5 601.5Q911.7 599.5 912.9 598.6Q914.1 597.7 914.1 597.7Q914.1 597.7 915.5 598.0z"/>
<path fill="url(#ll1)" d="M910.0 492.9Q910.9 492.4 912.7 492.1Q914.5 491.8 915.1 492.7Q915.7 493.6 916.6 493.7Q917.5 493.7 918.0 494.8Q918.5 495.9 919.2 496.2Q919.8 496.6 920.2 497.6Q920.6 498.6 920.9 499.4Q921.2 500.3 921.2 500.3Q921.2 500.3 920.4 500.4Q919.5 500.6 918.4 500.8Q917.3 501.0 916.7 500.6Q916.1 500.2 914.9 500.4Q913.7 500.6 913.2 499.8Q912.6 499.1 911.5 499.0Q910.4 499.0 909.8 497.4Q909.1 495.7 909.1 494.6Q909.0 493.5 909.0 493.5Q909.0 493.5 910.0 492.9z"/>
<path fill="url(#lyl0)" d="M854.3 607.4Q855.5 608.3 856.9 610.4Q858.3 612.6 857.5 613.9Q856.7 615.3 857.1 616.6Q857.5 617.8 856.5 619.2Q855.4 620.5 855.4 621.5Q855.4 622.6 854.4 623.7Q853.3 624.9 852.5 625.8Q851.7 626.8 851.7 626.8Q851.7 626.8 851.0 625.7Q850.4 624.7 849.5 623.4Q848.6 622.1 848.7 621.1Q848.9 620.1 848.0 618.6Q847.1 617.1 847.7 615.9Q848.3 614.7 847.7 613.3Q847.2 611.8 848.8 609.9Q850.4 607.9 851.8 607.2Q853.1 606.5 853.1 606.5Q853.1 606.5 854.3 607.4z"/>
<path fill="url(#lyl0)" d="M878.6 525.6Q880.5 524.3 883.7 523.5Q887.0 522.7 887.9 524.5Q888.7 526.3 890.4 526.3Q892.0 526.4 892.6 528.5Q893.3 530.7 894.3 531.2Q895.4 531.8 895.8 533.8Q896.2 535.9 896.7 537.5Q897.1 539.1 897.1 539.1Q897.1 539.1 895.4 539.5Q893.8 539.9 891.8 540.4Q889.8 541.0 888.8 540.3Q887.9 539.6 885.6 540.1Q883.4 540.5 882.6 539.1Q881.8 537.7 879.9 537.7Q877.9 537.8 877.1 534.5Q876.3 531.2 876.5 529.0Q876.8 526.8 876.8 526.8Q876.8 526.8 878.6 525.6z"/>
<path fill="url(#ll1)" d="M861.9 527.4Q863.4 526.8 866.0 526.8Q868.5 526.8 868.9 528.3Q869.3 529.8 870.5 530.1Q871.7 530.4 871.9 532.1Q872.1 533.9 872.8 534.4Q873.5 535.0 873.5 536.6Q873.5 538.2 873.6 539.5Q873.7 540.7 873.7 540.7Q873.7 540.7 872.4 540.7Q871.2 540.7 869.6 540.8Q868.0 540.8 867.4 540.1Q866.7 539.4 865.0 539.4Q863.3 539.3 862.9 538.1Q862.5 536.9 861.0 536.6Q859.6 536.3 859.4 533.7Q859.3 531.2 859.8 529.6Q860.3 528.0 860.3 528.0Q860.3 528.0 861.9 527.4z"/>
<path fill="url(#lyl0)" d="M864.9 590.5Q865.1 591.8 864.7 594.0Q864.3 596.2 863.0 596.4Q861.6 596.6 861.2 597.7Q860.7 598.7 859.2 598.7Q857.7 598.7 857.0 599.3Q856.4 599.8 855.0 599.7Q853.7 599.6 852.6 599.6Q851.5 599.6 851.5 599.6Q851.5 599.6 851.7 598.5Q851.9 597.4 852.1 596.0Q852.3 594.7 853.0 594.2Q853.7 593.7 854.1 592.3Q854.4 590.8 855.5 590.6Q856.6 590.3 857.1 589.1Q857.6 587.8 859.9 587.9Q862.1 588.0 863.4 588.5Q864.7 589.1 864.7 589.1Q864.7 589.1 864.9 590.5z"/>
<path fill="url(#ll1)" d="M847.2 480.1Q847.4 481.1 847.0 482.8Q846.5 484.6 845.5 484.9Q844.4 485.2 844.0 486.0Q843.6 486.8 842.4 487.0Q841.2 487.2 840.6 487.7Q840.1 488.2 839.0 488.2Q837.9 488.3 837.1 488.4Q836.2 488.4 836.2 488.4Q836.2 488.4 836.4 487.6Q836.6 486.7 836.8 485.7Q837.1 484.6 837.6 484.2Q838.2 483.7 838.5 482.6Q838.9 481.4 839.8 481.1Q840.6 480.8 841.1 479.8Q841.6 478.8 843.3 478.6Q845.1 478.5 846.1 478.7Q847.1 479.0 847.1 479.0Q847.1 479.0 847.2 480.1z"/>
<path fill="url(#lyl1)" d="M847.6 572.4Q847.8 574.1 847.3 576.7Q846.7 579.2 845.2 579.2Q843.7 579.2 843.1 580.3Q842.5 581.4 840.8 581.1Q839.1 580.8 838.4 581.3Q837.7 581.9 836.1 581.5Q834.6 581.1 833.3 580.8Q832.1 580.6 832.1 580.6Q832.1 580.6 832.4 579.3Q832.7 578.1 832.9 576.5Q833.2 575.0 834.0 574.5Q834.8 574.1 835.3 572.4Q835.7 570.8 836.9 570.7Q838.2 570.6 838.8 569.2Q839.4 567.9 841.9 568.4Q844.4 568.9 845.9 569.9Q847.3 570.8 847.3 570.8Q847.3 570.8 847.6 572.4z"/>
<path fill="url(#ll0)" d="M811.8 337.1Q813.2 338.3 814.6 340.8Q815.9 343.3 814.8 344.6Q813.7 346.0 814.1 347.4Q814.4 348.8 812.9 350.1Q811.5 351.3 811.3 352.4Q811.2 353.5 809.8 354.6Q808.3 355.6 807.2 356.5Q806.1 357.4 806.1 357.4Q806.1 357.4 805.4 356.2Q804.8 354.9 803.8 353.4Q802.9 351.9 803.2 350.8Q803.5 349.7 802.6 348.0Q801.8 346.3 802.6 345.1Q803.5 343.9 803.0 342.3Q802.5 340.6 804.7 338.8Q807.0 337.0 808.7 336.5Q810.4 335.9 810.4 335.9Q810.4 335.9 811.8 337.1z"/>
<path fill="url(#ll0)" d="M900.5 368.3Q901.3 367.3 903.2 366.3Q905.1 365.3 906.3 366.0Q907.4 366.7 908.5 366.4Q909.6 366.1 910.7 367.0Q911.9 367.9 912.7 367.9Q913.6 368.0 914.6 368.9Q915.5 369.8 916.3 370.5Q917.2 371.2 917.2 371.2Q917.2 371.2 916.2 371.7Q915.3 372.1 914.2 372.8Q913.0 373.5 912.2 373.3Q911.3 373.2 910.0 373.8Q908.7 374.5 907.7 373.9Q906.7 373.4 905.4 373.8Q904.1 374.2 902.5 372.8Q900.9 371.4 900.3 370.3Q899.7 369.2 899.7 369.2Q899.7 369.2 900.5 368.3z"/>
<path fill="url(#ll0)" d="M946.6 356.3Q947.9 356.8 949.6 358.4Q951.2 360.0 950.6 361.3Q950.1 362.6 950.7 363.6Q951.3 364.6 950.5 365.9Q949.6 367.2 949.8 368.1Q949.9 368.9 949.1 370.1Q948.2 371.2 947.6 372.1Q947.0 373.1 947.0 373.1Q947.0 373.1 946.2 372.3Q945.4 371.5 944.3 370.5Q943.3 369.6 943.2 368.7Q943.2 367.8 942.1 366.7Q941.1 365.6 941.5 364.5Q941.9 363.4 941.1 362.2Q940.3 361.1 941.6 359.2Q942.9 357.3 944.1 356.5Q945.3 355.7 945.3 355.7Q945.3 355.7 946.6 356.3z"/>
<path fill="url(#lyl1)" d="M895.7 567.2Q896.6 566.3 898.7 565.7Q900.7 565.0 901.8 565.9Q902.8 566.8 903.9 566.7Q905.0 566.6 906.0 567.8Q906.9 568.9 907.8 569.1Q908.6 569.3 909.4 570.4Q910.1 571.5 910.8 572.3Q911.4 573.2 911.4 573.2Q911.4 573.2 910.4 573.5Q909.4 573.8 908.2 574.3Q906.9 574.8 906.1 574.4Q905.3 574.1 903.8 574.5Q902.4 574.9 901.6 574.2Q900.7 573.5 899.3 573.7Q898.0 573.9 896.7 572.1Q895.4 570.4 895.0 569.2Q894.7 568.0 894.7 568.0Q894.7 568.0 895.7 567.2z"/>
<path fill="url(#ll1)" d="M857.4 478.8Q856.7 480.2 854.8 481.9Q852.8 483.5 851.5 482.8Q850.1 482.1 849.0 482.6Q847.8 483.2 846.5 482.1Q845.1 481.1 844.2 481.2Q843.2 481.2 842.0 480.2Q840.9 479.2 839.9 478.4Q838.9 477.6 838.9 477.6Q838.9 477.6 839.9 476.8Q840.9 475.9 842.0 474.9Q843.2 473.8 844.1 473.9Q845.1 474.0 846.4 472.9Q847.8 471.8 848.9 472.4Q850.1 472.9 851.4 472.2Q852.8 471.4 854.7 473.1Q856.6 474.7 857.4 476.1Q858.2 477.4 858.2 477.4Q858.2 477.4 857.4 478.8z"/>
<path fill="url(#ll2)" d="M864.0 405.9Q865.0 406.2 866.6 407.4Q868.1 408.5 868.0 409.7Q867.8 410.8 868.4 411.6Q869.1 412.4 868.8 413.6Q868.4 414.9 868.7 415.6Q869.0 416.3 868.6 417.4Q868.2 418.5 867.9 419.4Q867.6 420.3 867.6 420.3Q867.6 420.3 866.9 419.7Q866.1 419.2 865.2 418.5Q864.2 417.9 864.0 417.1Q863.8 416.4 862.8 415.5Q861.8 414.7 861.9 413.7Q861.9 412.7 861.1 411.9Q860.3 411.0 860.9 409.2Q861.5 407.4 862.2 406.5Q862.9 405.6 862.9 405.6Q862.9 405.6 864.0 405.9z"/>
<path fill="url(#ll0)" d="M864.2 525.7Q865.2 526.3 866.5 527.7Q867.7 529.1 867.1 530.0Q866.4 531.0 866.8 531.8Q867.2 532.6 866.3 533.5Q865.5 534.4 865.5 535.1Q865.5 535.8 864.6 536.6Q863.8 537.3 863.1 538.0Q862.4 538.6 862.4 538.6Q862.4 538.6 861.8 537.9Q861.2 537.2 860.4 536.4Q859.7 535.5 859.7 534.8Q859.8 534.2 859.0 533.2Q858.3 532.2 858.7 531.4Q859.2 530.6 858.7 529.6Q858.1 528.6 859.5 527.4Q860.9 526.1 862.0 525.6Q863.1 525.1 863.1 525.1Q863.1 525.1 864.2 525.7z"/>
<path fill="url(#ll1)" d="M889.7 496.9Q890.3 495.2 892.1 493.1Q893.9 491.0 895.5 491.7Q897.0 492.4 898.1 491.6Q899.3 490.9 900.8 491.9Q902.4 493.0 903.4 492.8Q904.4 492.6 905.7 493.7Q907.1 494.7 908.2 495.5Q909.3 496.3 909.3 496.3Q909.3 496.3 908.4 497.3Q907.5 498.4 906.4 499.7Q905.3 501.0 904.3 501.1Q903.3 501.1 902.0 502.4Q900.7 503.8 899.4 503.3Q898.1 502.8 896.8 503.8Q895.5 504.8 893.2 503.2Q891.0 501.5 890.0 500.0Q889.0 498.5 889.0 498.5Q889.0 498.5 889.7 496.9z"/>
<path fill="url(#lyl2)" d="M862.5 628.8Q862.9 630.0 862.7 632.2Q862.6 634.5 861.3 635.1Q860.1 635.8 859.7 636.9Q859.4 638.0 858.0 638.5Q856.5 639.0 856.0 639.8Q855.5 640.5 854.1 640.9Q852.8 641.2 851.8 641.6Q850.7 641.9 850.7 641.9Q850.7 641.9 850.8 640.8Q850.9 639.7 850.9 638.3Q851.0 637.0 851.6 636.3Q852.2 635.6 852.3 634.1Q852.5 632.5 853.5 631.9Q854.5 631.4 854.9 630.0Q855.2 628.6 857.4 628.0Q859.5 627.3 860.8 627.4Q862.1 627.5 862.1 627.5Q862.1 627.5 862.5 628.8z"/>
<path fill="url(#ll2)" d="M859.4 507.6Q860.6 508.3 862.0 509.9Q863.3 511.5 862.6 512.5Q862.0 513.5 862.4 514.5Q862.9 515.4 861.9 516.5Q860.9 517.5 861.0 518.3Q861.0 519.0 860.0 519.9Q859.1 520.8 858.4 521.5Q857.6 522.3 857.6 522.3Q857.6 522.3 857.0 521.5Q856.3 520.7 855.4 519.7Q854.5 518.8 854.6 518.0Q854.7 517.2 853.8 516.1Q853.0 515.0 853.5 514.1Q854.0 513.2 853.4 512.1Q852.8 511.0 854.3 509.6Q855.8 508.1 857.0 507.5Q858.2 507.0 858.2 507.0Q858.2 507.0 859.4 507.6z"/>
<path fill="url(#ll2)" d="M814.8 345.8Q815.4 346.6 815.8 348.2Q816.2 349.8 815.4 350.6Q814.6 351.3 814.6 352.1Q814.6 353.0 813.7 353.7Q812.7 354.3 812.5 354.9Q812.3 355.6 811.4 356.1Q810.5 356.6 809.8 357.1Q809.1 357.5 809.1 357.5Q809.1 357.5 808.9 356.7Q808.7 355.9 808.5 354.9Q808.2 353.9 808.5 353.3Q808.8 352.7 808.6 351.6Q808.4 350.4 809.0 349.8Q809.6 349.2 809.5 348.1Q809.5 347.1 810.9 346.2Q812.3 345.3 813.3 345.1Q814.3 345.0 814.3 345.0Q814.3 345.0 814.8 345.8z"/>
<path fill="url(#lyl1)" d="M841.5 579.7Q841.3 581.1 840.2 583.0Q839.2 584.9 837.8 584.9Q836.4 584.8 835.7 585.6Q834.9 586.5 833.4 586.1Q832.0 585.8 831.2 586.2Q830.4 586.6 829.1 586.2Q827.8 585.8 826.7 585.6Q825.7 585.3 825.7 585.3Q825.7 585.3 826.2 584.4Q826.7 583.4 827.3 582.2Q828.0 581.0 828.8 580.7Q829.6 580.4 830.4 579.1Q831.1 577.8 832.3 577.8Q833.4 577.8 834.3 576.8Q835.2 575.7 837.3 576.3Q839.5 576.8 840.6 577.6Q841.6 578.4 841.6 578.4Q841.6 578.4 841.5 579.7z"/>
<path fill="url(#ll3)" d="M912.9 305.2Q914.2 305.8 915.9 307.3Q917.5 308.8 916.9 310.1Q916.4 311.3 917.0 312.2Q917.6 313.2 916.7 314.4Q915.9 315.7 916.0 316.5Q916.2 317.3 915.3 318.4Q914.4 319.5 913.8 320.4Q913.2 321.3 913.2 321.3Q913.2 321.3 912.4 320.6Q911.6 319.8 910.5 318.9Q909.5 318.0 909.4 317.1Q909.4 316.3 908.4 315.2Q907.3 314.2 907.7 313.1Q908.1 312.1 907.4 311.0Q906.6 309.9 907.9 308.1Q909.2 306.3 910.4 305.5Q911.6 304.7 911.6 304.7Q911.6 304.7 912.9 305.2z"/>
<path fill="url(#lyl0)" d="M877.1 605.5Q878.9 606.1 881.3 607.9Q883.6 609.7 883.2 611.5Q882.8 613.4 883.7 614.6Q884.7 615.8 883.9 617.7Q883.1 619.6 883.5 620.7Q883.8 621.8 883.0 623.5Q882.1 625.1 881.5 626.5Q880.9 627.9 880.9 627.9Q880.9 627.9 879.7 626.9Q878.6 626.0 877.0 624.9Q875.5 623.9 875.3 622.7Q875.1 621.5 873.5 620.2Q872.0 618.9 872.3 617.4Q872.5 615.9 871.3 614.5Q870.1 613.1 871.4 610.3Q872.6 607.6 874.0 606.3Q875.3 605.0 875.3 605.0Q875.3 605.0 877.1 605.5z"/>
<path fill="url(#ll0)" d="M857.9 539.1Q859.4 538.4 862.3 538.2Q865.2 538.0 866.2 539.6Q867.1 541.1 868.6 541.4Q870.0 541.6 870.8 543.5Q871.5 545.3 872.5 545.9Q873.5 546.5 874.1 548.2Q874.6 549.9 875.1 551.2Q875.6 552.6 875.6 552.6Q875.6 552.6 874.2 552.6Q872.8 552.7 871.0 552.9Q869.2 553.1 868.3 552.4Q867.3 551.7 865.4 551.8Q863.4 551.8 862.6 550.6Q861.7 549.3 859.9 549.1Q858.1 548.8 857.2 546.1Q856.2 543.4 856.2 541.6Q856.3 539.9 856.3 539.9Q856.3 539.9 857.9 539.1z"/>
<path fill="url(#lyl1)" d="M895.1 591.0Q896.3 590.5 898.5 590.5Q900.7 590.5 901.4 591.7Q902.2 592.9 903.3 593.2Q904.4 593.5 905.0 594.9Q905.6 596.3 906.4 596.8Q907.1 597.3 907.6 598.5Q908.0 599.8 908.4 600.9Q908.8 601.9 908.8 601.9Q908.8 601.9 907.7 601.9Q906.6 601.9 905.2 601.9Q903.8 602.0 903.1 601.4Q902.4 600.9 900.9 600.8Q899.4 600.7 898.7 599.7Q898.1 598.8 896.7 598.5Q895.3 598.3 894.6 596.2Q893.8 594.1 893.8 592.8Q893.9 591.5 893.9 591.5Q893.9 591.5 895.1 591.0z"/>
<path fill="url(#ll3)" d="M868.1 536.3Q868.5 537.9 868.2 540.3Q868.0 542.7 866.5 543.0Q865.1 543.2 864.7 544.3Q864.2 545.5 862.6 545.5Q860.9 545.5 860.3 546.1Q859.7 546.7 858.2 546.6Q856.6 546.5 855.4 546.4Q854.2 546.4 854.2 546.4Q854.2 546.4 854.4 545.2Q854.5 544.0 854.6 542.5Q854.7 541.0 855.4 540.4Q856.1 539.9 856.4 538.3Q856.6 536.6 857.8 536.4Q859.0 536.1 859.4 534.7Q859.9 533.3 862.3 533.4Q864.8 533.5 866.2 534.2Q867.7 534.8 867.7 534.8Q867.7 534.8 868.1 536.3z"/>
<path fill="url(#ll2)" d="M880.6 496.2Q881.4 495.2 883.0 494.2Q884.7 493.2 885.7 493.9Q886.7 494.6 887.6 494.3Q888.6 494.0 889.5 494.9Q890.5 495.8 891.3 495.9Q892.0 495.9 892.8 496.8Q893.6 497.7 894.3 498.4Q895.0 499.1 895.0 499.1Q895.0 499.1 894.2 499.6Q893.3 500.1 892.3 500.7Q891.3 501.4 890.6 501.2Q889.8 501.1 888.7 501.7Q887.5 502.4 886.6 501.8Q885.8 501.3 884.7 501.7Q883.5 502.1 882.2 500.7Q880.8 499.3 880.4 498.2Q879.9 497.1 879.9 497.1Q879.9 497.1 880.6 496.2z"/>
<path fill="url(#ll3)" d="M860.6 507.3Q861.1 508.8 861.0 511.2Q860.8 513.6 859.4 514.0Q858.1 514.4 857.7 515.5Q857.3 516.7 855.7 516.9Q854.1 517.1 853.5 517.8Q853.0 518.5 851.5 518.5Q850.0 518.6 848.8 518.7Q847.6 518.8 847.6 518.8Q847.6 518.8 847.7 517.6Q847.8 516.4 847.8 515.0Q847.8 513.5 848.5 512.9Q849.2 512.3 849.3 510.7Q849.5 509.1 850.6 508.7Q851.7 508.3 852.1 506.9Q852.5 505.5 854.8 505.3Q857.2 505.1 858.7 505.5Q860.2 505.9 860.2 505.9Q860.2 505.9 860.6 507.3z"/>
<path fill="url(#ll0)" d="M924.8 423.2Q925.9 423.6 927.4 424.8Q928.9 426.1 928.7 427.3Q928.4 428.5 929.1 429.3Q929.7 430.1 929.2 431.4Q928.8 432.7 929.1 433.4Q929.3 434.2 928.8 435.3Q928.4 436.4 928.0 437.3Q927.7 438.2 927.7 438.2Q927.7 438.2 927.0 437.5Q926.3 436.9 925.3 436.2Q924.4 435.4 924.2 434.7Q924.1 433.9 923.1 433.0Q922.1 432.1 922.2 431.1Q922.4 430.1 921.6 429.1Q920.8 428.2 921.5 426.4Q922.2 424.6 923.0 423.7Q923.7 422.8 923.7 422.8Q923.7 422.8 924.8 423.2z"/>
<path fill="url(#lyl2)" d="M865.6 550.6Q865.9 551.5 865.9 553.2Q865.8 555.0 864.8 555.4Q863.9 555.9 863.6 556.7Q863.4 557.6 862.3 557.9Q861.1 558.2 860.7 558.8Q860.3 559.4 859.3 559.6Q858.3 559.8 857.5 560.0Q856.6 560.2 856.6 560.2Q856.6 560.2 856.7 559.4Q856.7 558.5 856.7 557.5Q856.7 556.4 857.2 555.9Q857.7 555.4 857.8 554.3Q857.9 553.1 858.7 552.7Q859.4 552.3 859.7 551.2Q859.9 550.2 861.6 549.8Q863.3 549.3 864.3 549.5Q865.3 549.6 865.3 549.6Q865.3 549.6 865.6 550.6z"/>
<path fill="url(#ll1)" d="M891.4 437.8Q892.7 436.9 895.2 436.3Q897.8 435.7 898.9 436.9Q900.0 438.1 901.4 438.1Q902.8 438.1 903.8 439.6Q904.8 441.0 905.8 441.4Q906.8 441.7 907.6 443.1Q908.4 444.5 909.1 445.6Q909.8 446.7 909.8 446.7Q909.8 446.7 908.6 447.0Q907.3 447.3 905.7 447.7Q904.2 448.2 903.2 447.7Q902.3 447.3 900.5 447.6Q898.8 448.0 897.8 447.0Q896.8 446.0 895.1 446.1Q893.5 446.2 892.1 444.0Q890.7 441.8 890.4 440.2Q890.1 438.7 890.1 438.7Q890.1 438.7 891.4 437.8z"/>
<path fill="url(#ll2)" d="M903.2 414.5Q904.8 414.9 907.0 416.4Q909.1 418.0 909.0 419.7Q908.8 421.4 909.7 422.4Q910.6 423.5 910.2 425.3Q909.7 427.1 910.1 428.1Q910.5 429.1 910.0 430.7Q909.4 432.2 909.1 433.5Q908.7 434.8 908.7 434.8Q908.7 434.8 907.6 434.0Q906.5 433.2 905.1 432.3Q903.8 431.4 903.5 430.3Q903.2 429.3 901.7 428.1Q900.3 427.0 900.4 425.6Q900.4 424.2 899.3 423.0Q898.1 421.7 898.9 419.2Q899.7 416.6 900.7 415.3Q901.7 414.1 901.7 414.1Q901.7 414.1 903.2 414.5z"/>
<path fill="url(#ll2)" d="M826.7 376.2Q826.8 377.5 826.3 379.4Q825.9 381.3 824.7 381.3Q823.5 381.4 823.1 382.2Q822.6 383.1 821.3 382.9Q820.0 382.8 819.4 383.2Q818.9 383.7 817.7 383.4Q816.5 383.2 815.5 383.0Q814.6 382.9 814.6 382.9Q814.6 382.9 814.8 381.9Q815.0 381.0 815.3 379.8Q815.5 378.6 816.1 378.3Q816.8 377.9 817.1 376.6Q817.5 375.4 818.5 375.3Q819.4 375.2 819.9 374.1Q820.4 373.1 822.4 373.4Q824.3 373.7 825.4 374.3Q826.5 375.0 826.5 375.0Q826.5 375.0 826.7 376.2z"/>
<path fill="url(#ll0)" d="M947.3 394.7Q948.7 394.6 950.7 395.1Q952.7 395.6 952.6 396.9Q952.6 398.1 953.5 398.6Q954.4 399.1 954.1 400.5Q953.8 401.9 954.3 402.5Q954.7 403.1 954.4 404.3Q954.0 405.6 953.8 406.6Q953.6 407.6 953.6 407.6Q953.6 407.6 952.6 407.3Q951.6 407.0 950.3 406.7Q949.1 406.4 948.7 405.8Q948.4 405.1 947.1 404.7Q945.7 404.3 945.7 403.2Q945.7 402.2 944.6 401.7Q943.5 401.1 944.0 399.1Q944.4 397.1 945.2 395.9Q945.9 394.8 945.9 394.8Q945.9 394.8 947.3 394.7z"/>
<path fill="url(#ll0)" d="M841.9 495.7Q842.6 496.7 843.0 498.7Q843.5 500.7 842.5 501.5Q841.5 502.3 841.5 503.3Q841.5 504.4 840.3 505.0Q839.1 505.7 838.8 506.4Q838.5 507.2 837.3 507.7Q836.2 508.3 835.3 508.7Q834.4 509.2 834.4 509.2Q834.4 509.2 834.2 508.2Q834.0 507.2 833.7 506.0Q833.4 504.8 833.7 504.1Q834.1 503.4 833.9 502.0Q833.6 500.7 834.4 500.0Q835.2 499.3 835.2 498.0Q835.1 496.8 836.9 495.9Q838.7 495.0 840.0 494.8Q841.2 494.7 841.2 494.7Q841.2 494.7 841.9 495.7z"/>
<path fill="url(#lyl2)" d="M888.5 599.8Q890.4 599.3 893.4 599.6Q896.3 599.8 896.8 601.6Q897.2 603.3 898.6 603.9Q900.0 604.4 900.2 606.4Q900.3 608.4 901.2 609.2Q902.0 609.9 902.0 611.8Q902.0 613.6 902.1 615.1Q902.1 616.6 902.1 616.6Q902.1 616.6 900.7 616.4Q899.2 616.3 897.3 616.2Q895.5 616.1 894.8 615.2Q894.1 614.4 892.1 614.1Q890.1 613.8 889.6 612.4Q889.2 611.0 887.5 610.4Q885.7 609.9 885.6 606.9Q885.5 603.9 886.1 602.1Q886.7 600.3 886.7 600.3Q886.7 600.3 888.5 599.8z"/>
<path fill="url(#ll2)" d="M950.2 485.5Q951.4 485.8 953.3 486.9Q955.1 488.0 954.9 489.3Q954.7 490.5 955.4 491.3Q956.2 492.1 955.7 493.5Q955.3 494.8 955.6 495.6Q955.9 496.3 955.4 497.5Q954.9 498.8 954.6 499.8Q954.2 500.7 954.2 500.7Q954.2 500.7 953.3 500.2Q952.4 499.6 951.3 499.0Q950.2 498.3 949.9 497.6Q949.7 496.8 948.5 496.0Q947.3 495.2 947.4 494.1Q947.5 493.0 946.6 492.1Q945.6 491.2 946.4 489.3Q947.1 487.3 948.0 486.3Q948.9 485.3 948.9 485.3Q948.9 485.3 950.2 485.5z"/>
<path fill="url(#lyl0)" d="M881.4 535.4Q883.3 535.0 886.4 535.5Q889.4 535.9 889.8 537.7Q890.2 539.5 891.6 540.2Q893.1 540.8 893.2 542.8Q893.3 544.9 894.1 545.7Q895.0 546.6 894.9 548.5Q894.9 550.4 894.9 551.9Q895.0 553.4 895.0 553.4Q895.0 553.4 893.5 553.2Q892.0 552.9 890.1 552.7Q888.2 552.5 887.5 551.6Q886.8 550.6 884.7 550.3Q882.7 549.9 882.3 548.4Q881.9 546.9 880.1 546.2Q878.3 545.6 878.3 542.5Q878.3 539.4 878.9 537.6Q879.6 535.8 879.6 535.8Q879.6 535.8 881.4 535.4z"/>
<path fill="url(#ll0)" d="M862.6 389.1Q862.3 390.8 861.1 393.2Q859.8 395.6 858.2 395.2Q856.7 394.7 855.7 395.7Q854.8 396.7 853.2 395.9Q851.5 395.1 850.6 395.5Q849.7 395.8 848.3 395.0Q846.8 394.2 845.6 393.5Q844.4 392.9 844.4 392.9Q844.4 392.9 845.1 391.8Q845.7 390.6 846.5 389.1Q847.2 387.6 848.2 387.4Q849.1 387.2 850.0 385.6Q851.0 384.0 852.3 384.3Q853.6 384.6 854.6 383.4Q855.7 382.2 858.1 383.4Q860.5 384.7 861.7 386.0Q862.9 387.3 862.9 387.3Q862.9 387.3 862.6 389.1z"/>
<path fill="url(#ll1)" d="M816.1 429.9Q817.1 430.5 818.2 432.0Q819.4 433.4 818.8 434.3Q818.1 435.3 818.5 436.1Q818.9 436.9 818.0 437.8Q817.2 438.8 817.2 439.4Q817.2 440.1 816.4 440.9Q815.5 441.7 814.9 442.3Q814.2 443.0 814.2 443.0Q814.2 443.0 813.7 442.2Q813.1 441.5 812.4 440.7Q811.6 439.8 811.7 439.1Q811.8 438.4 811.1 437.4Q810.3 436.4 810.8 435.6Q811.3 434.8 810.8 433.8Q810.3 432.9 811.6 431.6Q812.9 430.3 814.0 429.8Q815.0 429.3 815.0 429.3Q815.0 429.3 816.1 429.9z"/>
<path fill="url(#ll1)" d="M894.5 331.6Q895.7 331.4 897.6 331.8Q899.4 332.1 899.5 333.3Q899.7 334.4 900.5 334.8Q901.3 335.2 901.3 336.5Q901.2 337.8 901.6 338.3Q902.1 338.8 901.9 340.0Q901.8 341.1 901.7 342.1Q901.6 343.0 901.6 343.0Q901.6 343.0 900.7 342.8Q899.8 342.6 898.6 342.4Q897.5 342.2 897.1 341.6Q896.7 341.0 895.5 340.7Q894.3 340.4 894.1 339.5Q894.0 338.6 892.9 338.1Q891.9 337.7 892.1 335.8Q892.3 333.9 892.8 332.9Q893.3 331.8 893.3 331.8Q893.3 331.8 894.5 331.6z"/>
<path fill="url(#ll3)" d="M797.0 359.6Q796.5 360.7 795.2 362.1Q793.9 363.4 792.9 362.8Q792.0 362.2 791.2 362.7Q790.4 363.2 789.5 362.3Q788.5 361.5 787.8 361.6Q787.2 361.6 786.4 360.8Q785.5 360.0 784.9 359.3Q784.2 358.7 784.2 358.7Q784.2 358.7 784.9 358.0Q785.5 357.4 786.3 356.5Q787.1 355.7 787.7 355.7Q788.4 355.7 789.3 354.9Q790.3 354.0 791.1 354.5Q791.9 354.9 792.8 354.3Q793.7 353.7 795.1 355.0Q796.4 356.3 797.0 357.4Q797.5 358.5 797.5 358.5Q797.5 358.5 797.0 359.6z"/>
<path fill="url(#ll1)" d="M840.9 388.1Q839.9 390.1 837.5 392.4Q835.0 394.6 833.4 393.5Q831.8 392.4 830.3 393.2Q828.9 393.9 827.3 392.3Q825.6 390.8 824.5 390.8Q823.3 390.9 821.9 389.3Q820.5 387.8 819.4 386.6Q818.2 385.4 818.2 385.4Q818.2 385.4 819.4 384.3Q820.7 383.2 822.1 381.7Q823.6 380.2 824.8 380.4Q826.0 380.5 827.7 379.0Q829.4 377.6 830.8 378.4Q832.2 379.3 833.9 378.3Q835.6 377.2 837.9 379.7Q840.2 382.1 841.1 384.1Q841.9 386.2 841.9 386.2Q841.9 386.2 840.9 388.1z"/>
<path fill="url(#ll2)" d="M908.4 536.0Q910.1 535.6 912.9 536.0Q915.7 536.5 916.4 538.1Q917.0 539.8 918.4 540.4Q919.8 540.9 920.2 542.8Q920.7 544.7 921.6 545.5Q922.4 546.3 922.7 548.0Q923.0 549.7 923.2 551.1Q923.5 552.5 923.5 552.5Q923.5 552.5 922.1 552.3Q920.7 552.1 918.9 551.9Q917.2 551.7 916.4 550.8Q915.6 550.0 913.7 549.6Q911.8 549.3 911.2 547.9Q910.6 546.5 908.9 545.9Q907.2 545.3 906.6 542.5Q906.1 539.7 906.4 538.0Q906.8 536.4 906.8 536.4Q906.8 536.4 908.4 536.0z"/>
<path fill="url(#ll0)" d="M938.9 482.0Q939.8 482.3 941.1 483.3Q942.4 484.2 942.3 485.2Q942.1 486.2 942.7 486.8Q943.2 487.5 942.9 488.5Q942.6 489.6 942.9 490.2Q943.1 490.8 942.8 491.7Q942.4 492.7 942.2 493.4Q942.0 494.2 942.0 494.2Q942.0 494.2 941.3 493.7Q940.7 493.2 939.9 492.6Q939.1 492.1 938.9 491.5Q938.8 490.8 937.9 490.1Q937.1 489.4 937.1 488.6Q937.2 487.8 936.5 487.0Q935.9 486.3 936.3 484.8Q936.8 483.2 937.4 482.5Q938.0 481.8 938.0 481.8Q938.0 481.8 938.9 482.0z"/>
<path fill="url(#ll0)" d="M858.0 424.7Q858.8 423.1 860.9 421.2Q863.1 419.2 864.7 419.9Q866.4 420.6 867.7 419.9Q869.0 419.1 870.7 420.1Q872.4 421.1 873.5 421.0Q874.7 420.8 876.1 421.8Q877.6 422.8 878.8 423.6Q880.0 424.4 880.0 424.4Q880.0 424.4 878.9 425.3Q877.9 426.3 876.6 427.5Q875.3 428.7 874.2 428.8Q873.0 428.8 871.5 430.0Q870.0 431.3 868.6 430.8Q867.2 430.3 865.6 431.2Q864.1 432.2 861.7 430.6Q859.3 429.0 858.2 427.6Q857.2 426.2 857.2 426.2Q857.2 426.2 858.0 424.7z"/>
<path fill="url(#lyl1)" d="M867.3 557.9Q866.6 559.1 864.9 560.5Q863.2 562.0 861.9 561.4Q860.6 560.9 859.5 561.4Q858.5 561.9 857.2 561.1Q855.9 560.2 855.0 560.3Q854.1 560.4 852.9 559.6Q851.8 558.8 850.9 558.1Q850.0 557.5 850.0 557.5Q850.0 557.5 850.8 556.8Q851.7 556.1 852.7 555.1Q853.8 554.2 854.7 554.2Q855.6 554.2 856.8 553.3Q858.0 552.4 859.1 552.8Q860.2 553.2 861.5 552.5Q862.7 551.8 864.6 553.1Q866.4 554.4 867.2 555.5Q868.0 556.7 868.0 556.7Q868.0 556.7 867.3 557.9z"/>
<path fill="url(#ll3)" d="M812.8 355.6Q813.9 356.6 814.9 358.5Q816.0 360.4 815.0 361.2Q814.1 362.1 814.3 363.1Q814.6 364.1 813.3 364.9Q812.1 365.7 812.0 366.5Q811.8 367.2 810.6 367.9Q809.4 368.5 808.5 369.0Q807.6 369.6 807.6 369.6Q807.6 369.6 807.1 368.6Q806.6 367.7 805.9 366.5Q805.2 365.4 805.5 364.7Q805.7 363.9 805.1 362.6Q804.4 361.3 805.2 360.6Q805.9 359.8 805.5 358.6Q805.2 357.4 807.0 356.3Q808.9 355.2 810.3 355.0Q811.7 354.7 811.7 354.7Q811.7 354.7 812.8 355.6z"/>
<path fill="url(#ll0)" d="M908.6 311.4Q909.9 311.6 911.7 312.5Q913.6 313.5 913.5 314.7Q913.5 316.0 914.3 316.7Q915.1 317.4 914.8 318.8Q914.5 320.2 914.9 320.9Q915.3 321.6 915.0 322.9Q914.6 324.1 914.4 325.1Q914.1 326.1 914.1 326.1Q914.1 326.1 913.2 325.7Q912.3 325.2 911.1 324.6Q910.0 324.1 909.7 323.3Q909.4 322.6 908.2 321.9Q906.9 321.2 906.9 320.1Q906.9 319.0 905.9 318.2Q904.9 317.5 905.4 315.4Q905.9 313.4 906.6 312.4Q907.3 311.3 907.3 311.3Q907.3 311.3 908.6 311.4z"/>
<path fill="url(#ll1)" d="M897.6 331.0Q898.8 330.9 901.0 331.3Q903.1 331.8 903.5 333.1Q903.9 334.4 904.9 334.9Q906.0 335.5 906.2 336.9Q906.5 338.4 907.1 339.0Q907.7 339.6 907.9 341.0Q908.0 342.3 908.1 343.4Q908.3 344.5 908.3 344.5Q908.3 344.5 907.2 344.2Q906.1 344.0 904.8 343.7Q903.5 343.5 903.0 342.8Q902.4 342.1 901.0 341.7Q899.5 341.3 899.1 340.2Q898.7 339.1 897.5 338.6Q896.2 338.0 895.9 335.9Q895.7 333.7 896.0 332.5Q896.3 331.2 896.3 331.2Q896.3 331.2 897.6 331.0z"/>
<path fill="url(#lyl0)" d="M867.5 532.4Q868.8 532.2 870.9 532.7Q873.1 533.2 873.3 534.5Q873.6 535.9 874.6 536.4Q875.6 536.9 875.7 538.4Q875.7 539.9 876.3 540.5Q876.9 541.1 876.9 542.5Q876.8 543.8 876.8 544.9Q876.9 546.0 876.9 546.0Q876.9 546.0 875.8 545.7Q874.8 545.5 873.4 545.2Q872.1 544.9 871.6 544.2Q871.1 543.5 869.7 543.1Q868.3 542.7 868.0 541.6Q867.7 540.5 866.5 539.9Q865.3 539.4 865.3 537.2Q865.3 535.0 865.7 533.8Q866.2 532.5 866.2 532.5Q866.2 532.5 867.5 532.4z"/>
<path fill="url(#ll1)" d="M891.7 433.8Q892.7 434.2 894.0 435.5Q895.3 436.7 895.0 437.8Q894.7 438.9 895.2 439.7Q895.7 440.5 895.1 441.6Q894.6 442.8 894.8 443.5Q894.9 444.2 894.4 445.2Q893.8 446.1 893.4 446.9Q893.0 447.8 893.0 447.8Q893.0 447.8 892.3 447.1Q891.7 446.5 890.8 445.7Q890.0 445.0 889.9 444.2Q889.9 443.5 889.0 442.6Q888.1 441.7 888.4 440.8Q888.6 439.9 888.0 439.0Q887.3 438.0 888.2 436.4Q889.0 434.8 889.8 434.1Q890.7 433.4 890.7 433.4Q890.7 433.4 891.7 433.8z"/>
<path fill="url(#lyl2)" d="M855.5 621.1Q856.2 622.0 856.7 624.0Q857.2 626.0 856.3 626.8Q855.4 627.7 855.4 628.8Q855.4 629.9 854.3 630.7Q853.2 631.5 853.0 632.3Q852.7 633.1 851.7 633.7Q850.6 634.4 849.8 635.0Q849.0 635.5 849.0 635.5Q849.0 635.5 848.7 634.6Q848.5 633.6 848.1 632.4Q847.8 631.2 848.1 630.4Q848.5 629.7 848.2 628.3Q847.9 627.0 848.6 626.2Q849.3 625.4 849.3 624.2Q849.2 622.9 850.9 621.8Q852.5 620.6 853.7 620.4Q854.9 620.1 854.9 620.1Q854.9 620.1 855.5 621.1z"/>
<path fill="url(#ll3)" d="M944.1 383.8Q945.5 384.4 947.1 386.0Q948.8 387.6 948.2 388.8Q947.6 390.1 948.2 391.0Q948.8 392.0 947.9 393.3Q947.0 394.6 947.1 395.4Q947.2 396.2 946.3 397.3Q945.4 398.4 944.7 399.3Q944.0 400.2 944.0 400.2Q944.0 400.2 943.1 399.5Q942.3 398.7 941.2 397.7Q940.2 396.8 940.1 395.9Q940.1 395.1 939.0 394.0Q938.0 392.8 938.4 391.8Q938.9 390.7 938.1 389.6Q937.3 388.4 938.7 386.6Q940.1 384.8 941.4 384.0Q942.7 383.3 942.7 383.3Q942.7 383.3 944.1 383.8z"/>
<path fill="url(#ll0)" d="M936.1 345.6Q937.4 345.9 939.1 347.1Q940.8 348.3 940.5 349.5Q940.3 350.8 941.0 351.6Q941.7 352.4 941.1 353.7Q940.6 355.0 940.8 355.8Q941.1 356.5 940.5 357.7Q939.9 358.8 939.5 359.8Q939.0 360.7 939.0 360.7Q939.0 360.7 938.2 360.1Q937.3 359.5 936.2 358.8Q935.1 358.2 934.9 357.4Q934.8 356.6 933.6 355.7Q932.5 354.9 932.7 353.8Q932.9 352.8 932.0 351.9Q931.1 351.0 932.0 349.1Q932.9 347.1 933.8 346.2Q934.8 345.3 934.8 345.3Q934.8 345.3 936.1 345.6z"/>
<path fill="url(#lyl0)" d="M871.0 583.8Q871.6 582.9 872.9 581.8Q874.3 580.7 875.3 581.2Q876.3 581.6 877.1 581.2Q877.9 580.8 878.9 581.5Q879.9 582.1 880.6 582.1Q881.3 582.0 882.1 582.7Q883.0 583.3 883.7 583.8Q884.4 584.3 884.4 584.3Q884.4 584.3 883.7 584.9Q883.0 585.4 882.2 586.1Q881.4 586.8 880.7 586.8Q880.0 586.8 879.1 587.5Q878.1 588.2 877.3 587.8Q876.4 587.5 875.5 588.0Q874.5 588.5 873.1 587.5Q871.7 586.5 871.1 585.6Q870.5 584.7 870.5 584.7Q870.5 584.7 871.0 583.8z"/>
<path fill="url(#lyl2)" d="M850.4 567.9Q850.4 569.3 849.8 571.3Q849.1 573.3 847.9 573.2Q846.7 573.1 846.1 574.0Q845.5 574.8 844.1 574.5Q842.8 574.1 842.1 574.5Q841.5 574.9 840.2 574.5Q839.0 574.1 838.0 573.8Q837.0 573.5 837.0 573.5Q837.0 573.5 837.3 572.5Q837.6 571.5 838.0 570.2Q838.3 568.9 839.0 568.6Q839.7 568.3 840.2 567.0Q840.7 565.6 841.7 565.7Q842.8 565.7 843.4 564.6Q844.0 563.5 846.0 564.1Q848.1 564.8 849.2 565.6Q850.3 566.5 850.3 566.5Q850.3 566.5 850.4 567.9z"/>
<path fill="url(#ll3)" d="M886.6 313.7Q888.2 314.1 890.6 315.7Q893.0 317.3 892.9 319.1Q892.8 321.0 893.8 322.1Q894.9 323.2 894.5 325.2Q894.1 327.1 894.5 328.2Q895.0 329.3 894.5 331.0Q894.1 332.7 893.7 334.1Q893.4 335.5 893.4 335.5Q893.4 335.5 892.2 334.7Q891.0 333.8 889.5 332.9Q888.0 331.9 887.7 330.8Q887.3 329.7 885.7 328.5Q884.1 327.3 884.1 325.8Q884.2 324.3 882.9 323.0Q881.6 321.7 882.3 318.9Q883.0 316.1 883.9 314.7Q884.9 313.3 884.9 313.3Q884.9 313.3 886.6 313.7z"/>
<path fill="url(#ll1)" d="M868.1 320.7Q869.6 321.4 871.2 323.2Q872.9 324.9 872.2 326.1Q871.4 327.3 872.0 328.4Q872.6 329.4 871.5 330.6Q870.4 331.9 870.5 332.7Q870.6 333.6 869.5 334.7Q868.5 335.7 867.7 336.6Q866.9 337.5 866.9 337.5Q866.9 337.5 866.1 336.6Q865.2 335.7 864.2 334.7Q863.1 333.7 863.1 332.8Q863.2 331.9 862.1 330.7Q861.1 329.5 861.6 328.5Q862.2 327.4 861.4 326.2Q860.7 325.0 862.3 323.2Q863.9 321.5 865.3 320.8Q866.7 320.1 866.7 320.1Q866.7 320.1 868.1 320.7z"/>
<path fill="url(#ll2)" d="M857.1 362.4Q857.7 363.6 857.9 365.7Q858.2 367.8 857.0 368.3Q855.9 368.9 855.7 369.9Q855.6 371.0 854.2 371.4Q852.8 371.8 852.4 372.5Q852.0 373.2 850.7 373.4Q849.5 373.7 848.4 374.0Q847.4 374.2 847.4 374.2Q847.4 374.2 847.3 373.2Q847.2 372.2 847.0 370.9Q846.8 369.6 847.3 368.9Q847.8 368.3 847.7 366.9Q847.6 365.5 848.5 365.0Q849.4 364.4 849.5 363.2Q849.6 361.9 851.7 361.4Q853.7 360.9 855.1 361.0Q856.4 361.2 856.4 361.2Q856.4 361.2 857.1 362.4z"/>
<path fill="url(#ll2)" d="M882.1 517.4Q883.3 517.2 885.2 517.6Q887.1 518.0 887.2 519.2Q887.4 520.4 888.2 520.8Q889.1 521.3 889.1 522.6Q889.0 523.9 889.5 524.4Q889.9 525.0 889.8 526.2Q889.7 527.4 889.6 528.3Q889.5 529.3 889.5 529.3Q889.5 529.3 888.6 529.1Q887.7 528.8 886.5 528.6Q885.3 528.4 884.9 527.8Q884.5 527.2 883.3 526.8Q882.0 526.5 881.8 525.5Q881.7 524.6 880.6 524.1Q879.5 523.6 879.7 521.7Q879.8 519.8 880.4 518.7Q880.9 517.5 880.9 517.5Q880.9 517.5 882.1 517.4z"/>
<path fill="url(#ll3)" d="M874.0 503.5Q875.4 503.9 877.3 505.1Q879.1 506.3 878.6 507.5Q878.1 508.7 878.8 509.5Q879.5 510.4 878.8 511.6Q878.1 512.9 878.3 513.6Q878.5 514.4 877.7 515.5Q876.9 516.6 876.3 517.5Q875.8 518.4 875.8 518.4Q875.8 518.4 874.9 517.8Q874.0 517.2 872.8 516.5Q871.7 515.8 871.6 515.0Q871.5 514.2 870.3 513.4Q869.1 512.5 869.4 511.5Q869.7 510.5 868.8 509.5Q867.9 508.6 869.1 506.8Q870.3 504.9 871.5 504.1Q872.6 503.2 872.6 503.2Q872.6 503.2 874.0 503.5z"/>
<path fill="url(#ll1)" d="M847.0 367.4Q846.8 368.9 845.6 371.0Q844.4 373.2 842.9 373.0Q841.4 372.8 840.5 373.7Q839.6 374.6 838.0 374.2Q836.4 373.7 835.5 374.1Q834.7 374.5 833.2 374.0Q831.8 373.5 830.6 373.1Q829.5 372.7 829.5 372.7Q829.5 372.7 830.1 371.7Q830.7 370.6 831.4 369.3Q832.1 367.9 833.0 367.6Q833.9 367.3 834.8 365.9Q835.7 364.5 837.0 364.6Q838.2 364.7 839.2 363.5Q840.2 362.4 842.5 363.2Q844.9 363.9 846.1 364.9Q847.3 365.8 847.3 365.8Q847.3 365.8 847.0 367.4z"/>
<path fill="url(#ll0)" d="M857.9 524.2Q858.2 525.6 858.0 527.8Q857.7 530.0 856.4 530.3Q855.1 530.6 854.7 531.7Q854.3 532.7 852.8 532.8Q851.3 532.9 850.7 533.5Q850.1 534.1 848.7 534.1Q847.3 534.1 846.2 534.1Q845.1 534.2 845.1 534.2Q845.1 534.2 845.3 533.1Q845.4 532.0 845.5 530.6Q845.6 529.2 846.3 528.7Q847.0 528.2 847.2 526.7Q847.4 525.2 848.5 524.9Q849.6 524.6 850.0 523.3Q850.5 522.0 852.7 522.0Q854.9 521.9 856.2 522.4Q857.6 522.9 857.6 522.9Q857.6 522.9 857.9 524.2z"/>
<path fill="url(#ll3)" d="M888.5 397.0Q889.5 396.9 891.2 397.4Q892.8 398.0 893.0 399.0Q893.1 400.1 893.8 400.6Q894.6 401.1 894.6 402.2Q894.5 403.4 894.9 404.0Q895.3 404.5 895.2 405.6Q895.1 406.6 895.0 407.5Q895.0 408.3 895.0 408.3Q895.0 408.3 894.2 408.1Q893.3 407.8 892.3 407.5Q891.3 407.2 890.9 406.6Q890.6 406.0 889.5 405.6Q888.4 405.2 888.2 404.3Q888.1 403.4 887.2 402.9Q886.2 402.4 886.4 400.7Q886.5 398.9 887.0 398.0Q887.4 397.0 887.4 397.0Q887.4 397.0 888.5 397.0z"/>
<path fill="url(#ll3)" d="M781.8 353.6Q782.6 354.1 783.7 355.5Q784.7 356.9 784.2 357.8Q783.7 358.8 784.0 359.6Q784.3 360.4 783.6 361.4Q782.9 362.3 783.0 363.0Q783.0 363.6 782.3 364.4Q781.6 365.2 781.0 365.9Q780.5 366.6 780.5 366.6Q780.5 366.6 780.0 365.9Q779.5 365.2 778.8 364.3Q778.2 363.5 778.3 362.8Q778.3 362.2 777.7 361.2Q777.0 360.2 777.4 359.4Q777.8 358.6 777.3 357.6Q776.9 356.7 778.0 355.4Q779.1 354.0 780.0 353.5Q780.9 353.0 780.9 353.0Q780.9 353.0 781.8 353.6z"/>
<path fill="url(#ll1)" d="M905.5 439.4Q907.2 438.6 910.1 438.3Q913.1 438.0 914.0 439.6Q914.8 441.2 916.3 441.5Q917.8 441.7 918.4 443.6Q919.1 445.6 920.0 446.1Q921.0 446.7 921.5 448.5Q921.9 450.3 922.3 451.8Q922.7 453.2 922.7 453.2Q922.7 453.2 921.2 453.4Q919.7 453.5 917.9 453.8Q916.0 454.0 915.1 453.3Q914.2 452.6 912.2 452.7Q910.2 452.8 909.4 451.5Q908.7 450.2 906.8 450.0Q905.0 449.8 904.2 446.9Q903.4 444.0 903.6 442.2Q903.8 440.3 903.8 440.3Q903.8 440.3 905.5 439.4z"/>
<path fill="url(#ll2)" d="M886.0 465.0Q888.0 465.0 890.9 466.0Q893.8 467.1 893.8 468.9Q893.7 470.8 895.0 471.7Q896.3 472.6 895.9 474.6Q895.5 476.7 896.1 477.7Q896.7 478.7 896.2 480.5Q895.7 482.4 895.4 483.9Q895.0 485.4 895.0 485.4Q895.0 485.4 893.6 484.9Q892.1 484.3 890.3 483.7Q888.5 483.1 888.0 482.1Q887.5 481.0 885.6 480.2Q883.6 479.4 883.6 477.9Q883.5 476.3 881.9 475.3Q880.3 474.4 881.1 471.3Q881.8 468.3 882.9 466.7Q884.0 465.0 884.0 465.0Q884.0 465.0 886.0 465.0z"/>
<path fill="url(#ll1)" d="M875.7 403.6Q877.5 403.6 880.2 404.6Q882.8 405.6 882.7 407.2Q882.5 408.9 883.6 409.7Q884.8 410.6 884.3 412.4Q883.8 414.2 884.3 415.1Q884.9 416.0 884.3 417.7Q883.7 419.3 883.3 420.7Q882.9 422.0 882.9 422.0Q882.9 422.0 881.6 421.5Q880.3 421.0 878.6 420.4Q877.0 419.9 876.6 418.9Q876.2 418.0 874.5 417.2Q872.7 416.5 872.8 415.1Q872.8 413.7 871.4 412.8Q870.0 411.9 870.8 409.2Q871.6 406.5 872.7 405.0Q873.9 403.6 873.9 403.6Q873.9 403.6 875.7 403.6z"/>
<path fill="url(#ll0)" d="M851.0 387.8Q851.6 389.7 851.4 392.9Q851.3 396.0 849.4 396.5Q847.6 397.0 847.1 398.5Q846.6 400.0 844.5 400.2Q842.4 400.4 841.6 401.3Q840.8 402.2 838.9 402.2Q836.9 402.3 835.3 402.4Q833.8 402.5 833.8 402.5Q833.8 402.5 833.9 400.9Q834.0 399.4 834.0 397.4Q834.0 395.4 834.9 394.7Q835.8 393.9 836.0 391.8Q836.2 389.6 837.7 389.2Q839.2 388.7 839.7 386.8Q840.2 385.0 843.4 384.8Q846.5 384.6 848.5 385.3Q850.4 385.9 850.4 385.9Q850.4 385.9 851.0 387.8z"/>
<path fill="url(#ll2)" d="M841.8 433.3Q843.4 434.5 845.1 437.2Q846.8 439.9 845.6 441.4Q844.3 442.9 844.8 444.4Q845.3 445.9 843.7 447.4Q842.1 448.8 842.0 450.0Q841.9 451.2 840.3 452.4Q838.7 453.5 837.5 454.6Q836.3 455.6 836.3 455.6Q836.3 455.6 835.4 454.2Q834.6 452.9 833.5 451.2Q832.4 449.6 832.7 448.4Q832.9 447.3 831.9 445.4Q830.8 443.5 831.8 442.3Q832.7 441.0 832.0 439.2Q831.4 437.4 833.8 435.3Q836.3 433.3 838.2 432.7Q840.2 432.0 840.2 432.0Q840.2 432.0 841.8 433.3z"/>
<path fill="url(#ll2)" d="M923.6 473.5Q924.7 473.1 926.6 473.0Q928.5 472.9 928.8 474.0Q929.1 475.1 930.0 475.3Q930.9 475.5 931.0 476.8Q931.1 478.0 931.7 478.4Q932.2 478.8 932.3 480.0Q932.3 481.1 932.4 482.1Q932.4 483.0 932.4 483.0Q932.4 483.0 931.5 483.0Q930.6 483.0 929.4 483.1Q928.3 483.2 927.8 482.7Q927.3 482.2 926.1 482.2Q924.8 482.2 924.5 481.4Q924.2 480.5 923.1 480.3Q922.0 480.1 921.9 478.2Q921.8 476.4 922.1 475.2Q922.5 474.0 922.5 474.0Q922.5 474.0 923.6 473.5z"/>
<path fill="url(#ll1)" d="M810.1 457.2Q809.8 458.2 808.8 459.5Q807.7 460.9 806.7 460.6Q805.7 460.4 805.0 460.9Q804.3 461.5 803.2 461.1Q802.2 460.6 801.5 460.8Q800.9 461.0 800.0 460.6Q799.0 460.1 798.3 459.8Q797.5 459.5 797.5 459.5Q797.5 459.5 798.0 458.8Q798.6 458.2 799.2 457.3Q799.8 456.5 800.4 456.4Q801.1 456.3 801.8 455.4Q802.6 454.5 803.4 454.7Q804.3 454.8 805.1 454.2Q805.9 453.5 807.4 454.2Q809.0 454.8 809.7 455.5Q810.4 456.3 810.4 456.3Q810.4 456.3 810.1 457.2z"/>
<path fill="url(#ll3)" d="M891.6 504.1Q892.9 503.0 895.5 502.1Q898.0 501.2 899.2 502.4Q900.4 503.6 901.8 503.5Q903.2 503.4 904.3 504.9Q905.3 506.4 906.4 506.7Q907.4 507.0 908.3 508.5Q909.1 510.0 909.9 511.1Q910.6 512.2 910.6 512.2Q910.6 512.2 909.3 512.7Q908.0 513.1 906.4 513.7Q904.8 514.3 903.9 513.9Q902.9 513.5 901.1 514.1Q899.3 514.6 898.3 513.6Q897.2 512.6 895.6 512.9Q893.9 513.1 892.4 510.8Q890.9 508.5 890.6 506.8Q890.3 505.2 890.3 505.2Q890.3 505.2 891.6 504.1z"/>
<path fill="url(#ll0)" d="M890.2 473.4Q891.3 472.2 893.5 471.1Q895.7 470.0 896.7 471.1Q897.7 472.2 898.9 471.9Q900.1 471.7 901.1 473.1Q902.0 474.5 902.9 474.7Q903.8 474.9 904.5 476.2Q905.3 477.6 905.9 478.6Q906.6 479.7 906.6 479.7Q906.6 479.7 905.5 480.2Q904.3 480.7 903.0 481.5Q901.6 482.2 900.8 481.9Q899.9 481.6 898.4 482.3Q896.9 482.9 896.0 482.1Q895.1 481.2 893.7 481.6Q892.2 482.0 891.0 479.9Q889.7 477.7 889.4 476.2Q889.1 474.6 889.1 474.6Q889.1 474.6 890.2 473.4z"/>
<path fill="url(#ll2)" d="M823.5 510.7Q822.7 511.8 820.8 513.0Q819.0 514.2 817.8 513.5Q816.7 512.7 815.6 513.1Q814.5 513.5 813.4 512.5Q812.2 511.5 811.4 511.4Q810.5 511.4 809.5 510.4Q808.6 509.4 807.8 508.7Q807.0 507.9 807.0 507.9Q807.0 507.9 807.9 507.3Q808.8 506.7 810.0 506.0Q811.1 505.2 811.9 505.3Q812.8 505.4 814.1 504.7Q815.4 503.9 816.4 504.5Q817.4 505.0 818.7 504.5Q819.9 504.0 821.5 505.5Q823.1 507.1 823.7 508.3Q824.3 509.5 824.3 509.5Q824.3 509.5 823.5 510.7z"/>
<path fill="url(#lyl0)" d="M826.2 622.6Q826.1 623.7 825.2 625.4Q824.4 627.0 823.2 626.9Q822.1 626.8 821.5 627.5Q820.8 628.2 819.6 627.9Q818.4 627.6 817.7 627.9Q817.1 628.2 816.0 627.9Q814.9 627.5 814.0 627.2Q813.2 627.0 813.2 627.0Q813.2 627.0 813.6 626.2Q814.0 625.4 814.5 624.3Q815.0 623.3 815.7 623.1Q816.4 622.8 817.0 621.7Q817.6 620.6 818.6 620.7Q819.5 620.7 820.3 619.8Q821.0 618.9 822.8 619.5Q824.5 620.0 825.5 620.7Q826.4 621.4 826.4 621.4Q826.4 621.4 826.2 622.6z"/>
<path fill="url(#ll0)" d="M900.4 366.5Q901.7 367.3 903.2 369.2Q904.6 371.2 903.9 372.6Q903.3 374.0 903.8 375.2Q904.3 376.4 903.3 377.8Q902.3 379.1 902.4 380.1Q902.4 381.1 901.5 382.3Q900.5 383.5 899.8 384.4Q899.1 385.4 899.1 385.4Q899.1 385.4 898.3 384.4Q897.6 383.4 896.7 382.3Q895.8 381.1 895.8 380.1Q895.9 379.1 894.9 377.7Q894.0 376.3 894.5 375.1Q895.0 373.9 894.4 372.6Q893.7 371.2 895.2 369.2Q896.7 367.2 897.9 366.4Q899.2 365.7 899.2 365.7Q899.2 365.7 900.4 366.5z"/>
<path fill="url(#ll0)" d="M819.9 394.9Q819.9 395.9 819.3 397.5Q818.8 399.1 817.7 399.2Q816.7 399.2 816.2 399.9Q815.7 400.6 814.6 400.5Q813.4 400.3 812.9 400.7Q812.4 401.0 811.3 400.8Q810.3 400.6 809.5 400.5Q808.6 400.3 808.6 400.3Q808.6 400.3 808.9 399.6Q809.2 398.8 809.6 397.8Q809.9 396.8 810.5 396.5Q811.0 396.2 811.5 395.1Q811.9 394.1 812.8 394.0Q813.6 393.9 814.2 393.0Q814.7 392.2 816.4 392.4Q818.1 392.7 819.0 393.3Q819.9 393.8 819.9 393.8Q819.9 393.8 819.9 394.9z"/>
<path fill="url(#lyl2)" d="M886.3 573.2Q887.5 572.4 889.6 572.0Q891.7 571.6 892.3 572.7Q892.8 573.9 893.9 574.0Q895.0 574.1 895.4 575.5Q895.8 576.9 896.5 577.2Q897.2 577.6 897.4 578.9Q897.7 580.3 898.0 581.3Q898.2 582.3 898.2 582.3Q898.2 582.3 897.2 582.5Q896.1 582.7 894.8 583.1Q893.5 583.4 892.9 582.9Q892.2 582.4 890.8 582.6Q889.3 582.9 888.8 581.9Q888.3 581.0 887.0 581.0Q885.7 581.0 885.2 578.9Q884.7 576.7 884.9 575.3Q885.0 573.9 885.0 573.9Q885.0 573.9 886.3 573.2z"/>
<path fill="url(#ll3)" d="M832.5 501.3Q832.8 502.4 832.6 504.2Q832.4 505.9 831.4 506.3Q830.3 506.6 830.0 507.5Q829.7 508.3 828.5 508.5Q827.3 508.7 826.9 509.2Q826.4 509.7 825.3 509.8Q824.2 509.9 823.3 510.0Q822.5 510.1 822.5 510.1Q822.5 510.1 822.6 509.2Q822.7 508.3 822.7 507.2Q822.8 506.1 823.3 505.7Q823.8 505.2 824.0 504.0Q824.2 502.8 825.0 502.5Q825.9 502.2 826.2 501.1Q826.5 500.1 828.3 499.9Q830.1 499.7 831.1 500.0Q832.2 500.3 832.2 500.3Q832.2 500.3 832.5 501.3z"/>
<path d="M914.1 597.7L917.4 613.2M909.0 493.5L920.6 499.9M853.1 606.5L851.8 625.8M876.8 526.8L896.0 538.5M860.3 528.0L873.0 540.1M864.7 589.1L852.1 599.0M847.1 479.0L836.7 488.0M847.3 570.8L832.9 580.1M810.4 335.9L806.3 356.3M899.7 369.2L916.3 371.1M945.3 355.7L946.9 372.2M894.7 568.0L910.6 572.9M858.2 477.4L839.9 477.6M862.9 405.6L867.4 419.6M863.1 525.1L862.5 537.9M889.0 498.5L908.3 496.4M862.1 627.5L851.3 641.2M858.2 507.0L857.7 521.5M814.3 345.0L809.4 356.9M841.6 578.4L826.5 585.0M911.6 304.7L913.1 320.5M875.3 605.0L880.6 626.7M856.3 539.9L874.7 551.9M893.9 591.5L908.0 601.4M867.7 534.8L854.9 545.8M879.9 497.1L894.2 499.0M860.2 505.9L848.3 518.2M923.7 422.8L927.5 437.4M865.3 549.6L857.1 559.7M890.1 438.7L908.8 446.3M901.7 414.1L908.3 433.8M826.5 375.0L815.2 382.5M945.9 394.8L953.2 407.0M841.2 494.7L834.8 508.5M886.7 600.3L901.4 615.8M948.9 485.3L954.0 500.0M879.6 535.8L894.2 552.5M862.9 387.3L845.3 392.7M815.0 429.3L814.3 442.3M893.3 331.8L901.2 342.4M797.5 358.5L784.9 358.7M841.9 386.2L819.4 385.4M906.8 536.4L922.7 551.7M938.0 481.8L941.8 493.6M857.2 426.2L878.9 424.5M868.0 556.7L850.9 557.5M811.7 354.7L807.8 368.8M907.3 311.3L913.8 325.4M896.3 331.2L907.7 343.8M866.2 532.5L876.3 545.3M890.7 433.4L892.9 447.0M854.9 620.1L849.2 634.8M942.7 383.3L943.9 399.4M934.8 345.3L938.8 360.0M870.5 584.7L883.7 584.3M850.3 566.5L837.6 573.1M884.9 313.3L893.0 334.4M866.7 320.1L866.9 336.6M856.4 361.2L847.9 373.6M880.9 517.5L889.1 528.7M872.6 503.2L875.6 517.7M847.3 365.8L830.3 372.4M857.6 522.9L845.7 533.6M887.4 397.0L894.6 407.8M780.9 353.0L780.5 365.9M903.8 440.3L921.8 452.6M884.0 465.0L894.5 484.4M873.9 403.6L882.5 421.1M850.4 385.9L834.6 401.7M840.2 432.0L836.5 454.4M922.5 474.0L931.9 482.5M810.4 456.3L798.2 459.3M890.3 505.2L909.6 511.9M889.1 474.6L905.7 479.4M824.3 509.5L807.9 508.0M826.4 621.4L813.8 626.7M899.2 365.7L899.1 384.4M819.9 393.8L809.2 400.0M885.0 573.9L897.6 581.9M832.2 500.3L823.0 509.6" stroke="#c4e8a0" stroke-width=".6" opacity=".55" fill="none"/>
</g>
<path d="M857.5 312Q862 310.5 867 312L866.5 336L858 338z" fill="url(#stk)"/>
<path d="M856 352L863 352L862 392L855.5 392z" fill="url(#stk)" opacity=".85"/>
<path d="M851 578L858.5 578L857 600L850.5 600z" fill="#7a5a30"/>
<path d="M850 622L858 622L858 640L849 640z" fill="#7a5a30"/>
<ellipse cx="911" cy="352" rx="15" ry="24" fill="url(#pale)"/>
<ellipse cx="846" cy="337" rx="12" ry="9" fill="url(#pale)" opacity=".8"/>
<path d="M857 338Q850 326 843 330M855 342Q846 336 838 344M846 328Q850 322 856 324M904 332Q910 340 906 352M914 338Q918 350 912 362M900 350Q906 360 902 372" fill="none" stroke="#9fcb6a" stroke-width="1" stroke-linecap="round"/>
<path d="M862.2 526.4L873.9 535.6L879.4 552.8L872.8 570.8L860.0 577.2L852.2 564.4L850.6 545.8z" fill="url(#lm1)"/>
<path d="M862.2 526.4L860.0 577.2" stroke="#7fc052" stroke-width=".8" fill="none"/>
<circle cx="915" cy="374" r="9" fill="url(#glow)"/>
<ellipse cx="900.6" cy="387.5" rx="7.5" ry="7.2" fill="url(#tr)"/><ellipse cx="898.3" cy="385.0" rx="2.1" ry="1.3" fill="#fff" opacity=".55" transform="rotate(-30 898.3 385.0)"/>
<ellipse cx="910.0" cy="386.1" rx="4.7" ry="4.7" fill="url(#tr)"/><ellipse cx="908.6" cy="384.5" rx="1.3" ry="0.8" fill="#fff" opacity=".55" transform="rotate(-30 908.6 384.5)"/>
<ellipse cx="905.8" cy="413.9" rx="10.3" ry="10.0" fill="url(#tr)"/><ellipse cx="902.8" cy="410.4" rx="2.9" ry="1.8" fill="#fff" opacity=".55" transform="rotate(-30 902.8 410.4)"/>
<ellipse cx="917.8" cy="434.7" rx="10.0" ry="10.0" fill="url(#tr)"/><ellipse cx="914.8" cy="431.2" rx="2.8" ry="1.8" fill="#fff" opacity=".55" transform="rotate(-30 914.8 431.2)"/>
<ellipse cx="881.7" cy="423.6" rx="12.8" ry="12.5" fill="url(#tr)"/><ellipse cx="877.8" cy="419.2" rx="3.6" ry="2.2" fill="#fff" opacity=".55" transform="rotate(-30 877.8 419.2)"/>
<ellipse cx="863.6" cy="435.6" rx="13.9" ry="12.2" fill="url(#tr)"/><ellipse cx="859.4" cy="431.3" rx="3.9" ry="2.2" fill="#fff" opacity=".55" transform="rotate(-30 859.4 431.3)"/>
<ellipse cx="833.1" cy="461.1" rx="11.7" ry="11.1" fill="url(#tr)"/><ellipse cx="829.6" cy="457.2" rx="3.3" ry="2.0" fill="#fff" opacity=".55" transform="rotate(-30 829.6 457.2)"/>
<ellipse cx="846.9" cy="480.6" rx="16.1" ry="12.8" fill="url(#tr)"/><ellipse cx="842.1" cy="476.1" rx="4.5" ry="2.3" fill="#fff" opacity=".55" transform="rotate(-30 842.1 476.1)"/>
<ellipse cx="865.0" cy="468.1" rx="11.9" ry="11.9" fill="url(#to)"/><ellipse cx="861.4" cy="463.9" rx="3.3" ry="2.1" fill="#fff" opacity=".55" transform="rotate(-30 861.4 463.9)"/>
<ellipse cx="844.2" cy="333.3" rx="4.7" ry="4.7" fill="url(#tl)"/><ellipse cx="842.8" cy="331.7" rx="1.3" ry="0.8" fill="#fff" opacity=".55" transform="rotate(-30 842.8 331.7)"/>
<ellipse cx="901.1" cy="345.8" rx="3.6" ry="3.6" fill="url(#tl)"/><ellipse cx="900.0" cy="344.6" rx="1.0" ry="0.7" fill="#fff" opacity=".55" transform="rotate(-30 900.0 344.6)"/>
<path d="M868.1 432.7L863.2 432.2L861.8 437.0L860.7 432.1L855.8 432.3L860.0 429.8L858.4 425.1L862.1 428.4L866.0 425.4L864.0 429.9z" fill="#3d7a28" stroke="#2c5e1e" stroke-width=".5"/>
<path d="M887.5 414.0L884.2 414.8L884.4 418.3L882.6 415.4L879.4 416.6L881.6 414.0L879.4 411.4L882.6 412.6L884.4 409.7L884.2 413.2z" fill="#3d7a28" stroke="#2c5e1e" stroke-width=".5"/>
<path d="M846 449Q852 446 858 450Q864 446 871 449L866 454L870 459L862 457L858 462L853 457L845 458L850 453z" fill="#356e26"/>
<path d="M858 452Q866 440 876 432M858 452Q850 446 842 452" stroke="#4d8a32" stroke-width="1.3" fill="none"/>
</g>
<g id="plant2">
<path d="M881.2 984L890 984L888 1160L880 1160z" fill="url(#stk)"/>
<path d="M853.8 1163.9L862.9 1235.0A39.9 9.7 0 0 0 942.6 1235.0L949.7 1163.9z" fill="url(#potb)"/><path d="M853.8 1163.9A48.6 6.6 0 0 0 949.7 1163.9L949.4 1166.9A48.6 6.6 0 0 1 854.1 1166.9z" fill="#6e2a14" opacity=".35"/><path d="M848.9 1156.0L849.7 1163.9A51.8 6.6 0 0 0 953.3 1163.9L954.1 1156.0A52.6 6.6 0 0 1 848.9 1156.0z" fill="url(#potr)"/><ellipse cx="901.5" cy="1156.0" rx="52.6" ry="6.6" fill="#b4553a"/><ellipse cx="901.5" cy="1156.5" rx="48.6" ry="5.0" fill="#2e2a1d"/>
<clipPath id="c2"><path d="M885.6 1005.0L890.0 994.4L898.3 991.7L906.7 994.4L917.8 987.5L924.7 980.6L940.0 981.9L946.9 987.5L952.5 995.8L944.2 991.7L944.2 1002.8L938.6 1005.6L945.6 1011.1L941.4 1020.8L951.1 1016.7L965.0 1016.7L973.3 1020.8L984.4 1025.0L978.9 1029.2L981.7 1037.5L973.3 1031.9L966.4 1037.5L967.8 1050.0L959.4 1051.4L970.6 1058.3L981.7 1061.1L988.1 1068.1L984.4 1077.8L976.1 1070.8L970.6 1079.2L962.2 1070.8L953.9 1072.2L955.3 1081.9L946.9 1077.8L949.7 1091.7L946.9 1104.2L959.4 1108.3L967.8 1118.1L969.2 1126.4L959.4 1129.2L951.1 1130.6L953.9 1141.7L951.1 1147.2L955.3 1152.8L959.4 1163.9L958.1 1172.2L953.9 1163.9L952.5 1152.8L948.3 1148.6L940.0 1150.0L931.7 1147.2L926.1 1152.8L917.8 1144.4L906.7 1150.0L895.6 1152.8L884.4 1159.7L876.1 1163.9L865.0 1158.3L856.7 1152.8L851.1 1144.4L851.1 1136.1L848.3 1125.0L849.7 1115.3L856.7 1111.1L848.3 1108.3L840.0 1111.1L833.1 1125.0L827.5 1119.4L824.7 1109.7L831.7 1100.0L840.0 1093.1L851.1 1091.7L862.2 1087.5L873.3 1086.1L870.6 1077.8L873.3 1068.1L878.9 1063.9L870.6 1061.1L867.8 1072.2L859.4 1066.7L853.9 1056.9L845.6 1058.3L837.2 1070.8L833.1 1058.3L826.1 1055.6L817.8 1063.9L806.7 1066.7L799.7 1077.8L794.2 1079.2L793.3 1066.7L799.7 1055.6L809.4 1047.2L816.4 1043.1L806.7 1041.7L804.4 1034.7L805.8 1027.8L809.4 1023.6L814.2 1021.7L819.7 1019.4L825.3 1016.7L830.8 1015.3L835.0 1012.5L843.3 1011.1L851.7 1008.9L860.0 1012.5L868.3 1009.7L875.3 1007.8L880.8 1005.0z"/></clipPath>
<g clip-path="url(#c2)">
<rect x="791" y="979" width="199" height="196" fill="#43932f"/>
<path fill="url(#ld2)" d="M899.4 1056.9Q900.8 1055.6 903.5 1054.3Q906.3 1053.0 907.5 1054.4Q908.7 1055.8 910.2 1055.5Q911.7 1055.3 912.8 1057.0Q913.8 1058.7 914.9 1059.0Q916.0 1059.3 916.9 1060.9Q917.7 1062.6 918.5 1063.9Q919.2 1065.2 919.2 1065.2Q919.2 1065.2 917.9 1065.8Q916.5 1066.5 914.8 1067.3Q913.1 1068.1 912.1 1067.7Q911.1 1067.3 909.2 1068.1Q907.3 1068.8 906.2 1067.8Q905.1 1066.7 903.4 1067.1Q901.6 1067.5 900.1 1064.8Q898.6 1062.2 898.3 1060.3Q898.0 1058.3 898.0 1058.3Q898.0 1058.3 899.4 1056.9z"/>
<path fill="url(#ld0)" d="M889.2 1124.8Q889.1 1127.0 887.7 1130.3Q886.4 1133.5 884.2 1133.4Q882.1 1133.2 881.0 1134.7Q879.9 1136.1 877.5 1135.5Q875.2 1135.0 874.0 1135.6Q872.9 1136.3 870.8 1135.6Q868.7 1135.0 867.0 1134.5Q865.3 1134.1 865.3 1134.1Q865.3 1134.1 866.0 1132.5Q866.7 1130.8 867.5 1128.8Q868.3 1126.8 869.5 1126.3Q870.8 1125.8 871.8 1123.6Q872.8 1121.4 874.6 1121.5Q876.4 1121.5 877.6 1119.7Q878.9 1117.9 882.3 1118.9Q885.7 1119.8 887.5 1121.2Q889.3 1122.5 889.3 1122.5Q889.3 1122.5 889.2 1124.8z"/>
<path fill="url(#ld1)" d="M876.8 1129.6Q875.4 1131.4 872.3 1133.2Q869.2 1135.1 867.4 1133.9Q865.5 1132.6 863.7 1133.2Q861.9 1133.7 860.1 1132.1Q858.3 1130.4 856.9 1130.3Q855.4 1130.2 853.9 1128.6Q852.4 1127.0 851.1 1125.7Q849.8 1124.4 849.8 1124.4Q849.8 1124.4 851.3 1123.5Q852.9 1122.6 854.8 1121.4Q856.6 1120.2 858.1 1120.5Q859.5 1120.7 861.6 1119.6Q863.8 1118.4 865.4 1119.3Q867.0 1120.3 869.1 1119.5Q871.2 1118.8 873.8 1121.3Q876.3 1123.9 877.3 1125.9Q878.2 1127.9 878.2 1127.9Q878.2 1127.9 876.8 1129.6z"/>
<path fill="url(#ld0)" d="M896.4 1127.9Q898.4 1127.0 901.9 1126.7Q905.3 1126.4 906.2 1128.4Q907.0 1130.3 908.7 1130.6Q910.5 1130.9 911.1 1133.1Q911.6 1135.4 912.7 1136.1Q913.8 1136.8 914.2 1138.9Q914.6 1141.0 915.0 1142.7Q915.4 1144.4 915.4 1144.4Q915.4 1144.4 913.6 1144.5Q911.9 1144.6 909.8 1144.9Q907.7 1145.1 906.7 1144.3Q905.7 1143.4 903.4 1143.5Q901.0 1143.6 900.2 1142.1Q899.4 1140.5 897.4 1140.2Q895.3 1140.0 894.6 1136.6Q893.8 1133.2 894.1 1131.0Q894.5 1128.9 894.5 1128.9Q894.5 1128.9 896.4 1127.9z"/>
<path fill="url(#ld0)" d="M911.7 1006.4Q913.7 1005.7 917.0 1005.8Q920.2 1006.0 920.7 1007.8Q921.3 1009.7 922.8 1010.2Q924.4 1010.7 924.6 1012.9Q924.9 1015.0 925.8 1015.8Q926.7 1016.6 926.8 1018.6Q926.8 1020.6 927.0 1022.2Q927.1 1023.8 927.1 1023.8Q927.1 1023.8 925.5 1023.8Q923.9 1023.7 921.9 1023.7Q919.8 1023.7 919.0 1022.8Q918.2 1021.9 916.0 1021.7Q913.8 1021.6 913.3 1020.0Q912.8 1018.5 910.9 1018.0Q909.0 1017.5 908.8 1014.3Q908.6 1011.1 909.2 1009.1Q909.7 1007.1 909.7 1007.1Q909.7 1007.1 911.7 1006.4z"/>
<path fill="url(#ld1)" d="M902.0 988.8Q903.4 988.6 905.8 989.1Q908.2 989.6 908.5 991.0Q908.9 992.5 910.0 993.0Q911.1 993.6 911.3 995.2Q911.4 996.8 912.1 997.5Q912.7 998.2 912.8 999.7Q912.8 1001.2 912.9 1002.4Q912.9 1003.6 912.9 1003.6Q912.9 1003.6 911.7 1003.3Q910.6 1003.1 909.1 1002.8Q907.6 1002.6 907.1 1001.8Q906.5 1001.1 904.9 1000.7Q903.3 1000.3 902.9 999.1Q902.6 997.9 901.2 997.3Q899.8 996.7 899.7 994.3Q899.6 991.9 900.1 990.5Q900.5 989.1 900.5 989.1Q900.5 989.1 902.0 988.8z"/>
<path fill="url(#ld1)" d="M953.5 1031.0Q955.7 1031.8 958.4 1034.3Q961.2 1036.7 960.3 1038.8Q959.5 1040.9 960.5 1042.4Q961.5 1044.0 960.3 1046.1Q959.0 1048.3 959.3 1049.6Q959.5 1051.0 958.2 1052.9Q956.9 1054.7 955.9 1056.3Q954.9 1057.8 954.9 1057.8Q954.9 1057.8 953.6 1056.6Q952.2 1055.3 950.5 1053.9Q948.7 1052.4 948.6 1051.0Q948.6 1049.6 946.8 1047.9Q945.0 1046.1 945.6 1044.4Q946.2 1042.6 944.9 1040.8Q943.5 1039.0 945.6 1035.9Q947.6 1032.9 949.5 1031.5Q951.4 1030.1 951.4 1030.1Q951.4 1030.1 953.5 1031.0z"/>
<path fill="url(#ld0)" d="M891.0 1020.7Q890.8 1022.4 889.6 1024.9Q888.4 1027.3 886.8 1027.0Q885.2 1026.7 884.3 1027.7Q883.4 1028.7 881.7 1028.1Q880.0 1027.5 879.1 1027.9Q878.2 1028.3 876.6 1027.6Q875.1 1026.9 873.9 1026.4Q872.6 1025.9 872.6 1025.9Q872.6 1025.9 873.2 1024.7Q873.8 1023.5 874.5 1021.9Q875.2 1020.4 876.2 1020.1Q877.1 1019.8 878.0 1018.2Q878.9 1016.6 880.2 1016.8Q881.5 1017.0 882.5 1015.7Q883.5 1014.4 886.0 1015.5Q888.5 1016.5 889.8 1017.7Q891.1 1018.9 891.1 1018.9Q891.1 1018.9 891.0 1020.7z"/>
<path fill="url(#ld2)" d="M945.4 1024.5Q946.3 1022.9 948.3 1021.1Q950.3 1019.2 951.7 1020.1Q953.1 1020.9 954.3 1020.3Q955.6 1019.7 957.0 1020.9Q958.4 1022.1 959.4 1022.1Q960.4 1022.0 961.6 1023.2Q962.8 1024.5 963.8 1025.4Q964.7 1026.3 964.7 1026.3Q964.7 1026.3 963.7 1027.2Q962.7 1028.1 961.5 1029.3Q960.3 1030.5 959.3 1030.4Q958.2 1030.3 956.8 1031.5Q955.4 1032.7 954.2 1032.0Q953.0 1031.4 951.6 1032.2Q950.1 1033.0 948.2 1031.1Q946.2 1029.2 945.4 1027.6Q944.6 1026.0 944.6 1026.0Q944.6 1026.0 945.4 1024.5z"/>
<path fill="url(#ld0)" d="M869.1 1057.8Q870.4 1058.5 872.1 1060.4Q873.7 1062.3 873.0 1063.7Q872.3 1065.0 872.9 1066.2Q873.4 1067.3 872.4 1068.7Q871.5 1070.1 871.5 1071.0Q871.6 1072.0 870.6 1073.2Q869.6 1074.3 868.9 1075.3Q868.1 1076.3 868.1 1076.3Q868.1 1076.3 867.3 1075.4Q866.5 1074.4 865.5 1073.3Q864.4 1072.1 864.5 1071.2Q864.5 1070.2 863.5 1068.9Q862.4 1067.6 863.0 1066.4Q863.5 1065.2 862.7 1063.9Q862.0 1062.6 863.5 1060.6Q865.1 1058.6 866.4 1057.8Q867.7 1057.0 867.7 1057.0Q867.7 1057.0 869.1 1057.8z"/>
<path fill="url(#ld0)" d="M944.0 1101.8Q946.4 1101.0 950.2 1101.1Q953.9 1101.2 954.4 1103.4Q954.8 1105.5 956.6 1106.1Q958.4 1106.6 958.5 1109.2Q958.5 1111.7 959.5 1112.6Q960.6 1113.5 960.4 1115.8Q960.3 1118.2 960.3 1120.1Q960.3 1121.9 960.3 1121.9Q960.3 1121.9 958.5 1121.9Q956.6 1121.8 954.2 1121.9Q951.9 1121.9 951.0 1120.8Q950.1 1119.8 947.6 1119.6Q945.1 1119.5 944.6 1117.7Q944.1 1115.9 941.9 1115.4Q939.8 1114.9 939.8 1111.1Q939.9 1107.3 940.7 1104.9Q941.6 1102.6 941.6 1102.6Q941.6 1102.6 944.0 1101.8z"/>
<path fill="url(#ld0)" d="M876.6 1016.5Q876.2 1018.2 874.7 1020.6Q873.1 1022.9 871.5 1022.5Q869.8 1022.1 868.7 1023.1Q867.7 1024.0 865.9 1023.3Q864.1 1022.5 863.1 1022.9Q862.1 1023.3 860.6 1022.5Q859.0 1021.7 857.7 1021.1Q856.4 1020.5 856.4 1020.5Q856.4 1020.5 857.2 1019.3Q858.0 1018.2 858.9 1016.7Q859.8 1015.2 860.9 1015.0Q861.9 1014.8 863.1 1013.2Q864.2 1011.7 865.6 1011.9Q867.0 1012.2 868.2 1011.0Q869.4 1009.8 872.0 1011.0Q874.5 1012.2 875.8 1013.4Q877.0 1014.7 877.0 1014.7Q877.0 1014.7 876.6 1016.5z"/>
<path fill="url(#ld0)" d="M886.3 1028.7Q887.5 1029.9 888.7 1032.2Q889.8 1034.5 888.8 1035.7Q887.7 1036.8 888.0 1038.1Q888.2 1039.4 886.8 1040.5Q885.4 1041.6 885.3 1042.5Q885.1 1043.5 883.8 1044.4Q882.4 1045.3 881.4 1046.0Q880.3 1046.8 880.3 1046.8Q880.3 1046.8 879.8 1045.6Q879.2 1044.5 878.4 1043.1Q877.7 1041.7 878.0 1040.7Q878.3 1039.8 877.5 1038.2Q876.8 1036.6 877.7 1035.6Q878.5 1034.5 878.1 1033.0Q877.7 1031.5 879.8 1030.0Q881.9 1028.5 883.5 1028.1Q885.1 1027.6 885.1 1027.6Q885.1 1027.6 886.3 1028.7z"/>
<path fill="url(#ld1)" d="M890.0 1136.4Q890.6 1135.1 892.4 1133.4Q894.1 1131.6 895.6 1132.1Q897.0 1132.5 898.1 1131.9Q899.2 1131.2 900.7 1131.9Q902.2 1132.7 903.2 1132.5Q904.2 1132.3 905.5 1133.0Q906.8 1133.8 907.9 1134.3Q908.9 1134.9 908.9 1134.9Q908.9 1134.9 908.1 1135.8Q907.2 1136.6 906.2 1137.7Q905.1 1138.8 904.2 1138.9Q903.2 1139.0 901.9 1140.1Q900.7 1141.3 899.5 1140.9Q898.2 1140.6 897.0 1141.5Q895.7 1142.3 893.5 1141.2Q891.4 1140.0 890.4 1138.9Q889.4 1137.8 889.4 1137.8Q889.4 1137.8 890.0 1136.4z"/>
<path fill="url(#ld1)" d="M937.7 1094.4Q940.2 1094.3 943.8 1095.4Q947.4 1096.5 947.2 1098.8Q947.1 1101.0 948.7 1102.0Q950.2 1103.0 949.7 1105.4Q949.1 1107.9 949.8 1109.0Q950.5 1110.2 949.8 1112.4Q949.1 1114.6 948.7 1116.4Q948.2 1118.2 948.2 1118.2Q948.2 1118.2 946.4 1117.7Q944.6 1117.1 942.4 1116.5Q940.1 1115.9 939.5 1114.7Q939.0 1113.4 936.6 1112.6Q934.2 1111.7 934.2 1109.9Q934.2 1108.0 932.3 1106.9Q930.3 1105.9 931.3 1102.2Q932.3 1098.6 933.8 1096.6Q935.2 1094.6 935.2 1094.6Q935.2 1094.6 937.7 1094.4z"/>
<path fill="url(#ld2)" d="M883.0 1105.4Q883.8 1107.4 883.8 1110.9Q883.8 1114.4 881.8 1115.1Q879.9 1115.9 879.4 1117.6Q879.0 1119.3 876.7 1119.7Q874.4 1120.2 873.6 1121.3Q872.8 1122.3 870.7 1122.6Q868.6 1122.9 866.9 1123.1Q865.2 1123.4 865.2 1123.4Q865.2 1123.4 865.2 1121.7Q865.2 1120.0 865.1 1117.8Q865.0 1115.7 865.9 1114.7Q866.8 1113.8 866.9 1111.4Q867.0 1109.1 868.6 1108.4Q870.2 1107.7 870.6 1105.6Q871.0 1103.5 874.5 1103.0Q877.9 1102.5 880.0 1102.9Q882.2 1103.4 882.2 1103.4Q882.2 1103.4 883.0 1105.4z"/>
<path fill="url(#ld0)" d="M927.8 1052.1Q929.9 1051.9 933.3 1052.6Q936.7 1053.4 937.3 1055.5Q938.0 1057.6 939.6 1058.4Q941.3 1059.2 941.6 1061.6Q941.9 1063.9 943.0 1064.9Q944.0 1066.0 944.1 1068.1Q944.3 1070.2 944.5 1072.0Q944.7 1073.7 944.7 1073.7Q944.7 1073.7 943.0 1073.3Q941.3 1072.9 939.2 1072.5Q937.1 1072.1 936.2 1070.9Q935.3 1069.8 933.0 1069.2Q930.7 1068.6 930.1 1066.9Q929.5 1065.1 927.5 1064.2Q925.5 1063.4 925.1 1059.9Q924.7 1056.4 925.3 1054.4Q925.8 1052.4 925.8 1052.4Q925.8 1052.4 927.8 1052.1z"/>
<path fill="url(#ld2)" d="M901.7 1012.6Q903.9 1013.9 906.4 1016.8Q909.0 1019.8 907.7 1021.7Q906.4 1023.6 907.3 1025.4Q908.1 1027.1 906.3 1029.1Q904.5 1031.0 904.5 1032.4Q904.6 1033.8 902.8 1035.5Q901.0 1037.1 899.6 1038.5Q898.3 1039.8 898.3 1039.8Q898.3 1039.8 897.0 1038.4Q895.7 1036.9 894.1 1035.1Q892.4 1033.3 892.6 1031.9Q892.8 1030.5 891.1 1028.4Q889.5 1026.4 890.5 1024.7Q891.4 1023.0 890.3 1021.0Q889.2 1018.9 892.0 1016.2Q894.8 1013.5 897.1 1012.4Q899.4 1011.4 899.4 1011.4Q899.4 1011.4 901.7 1012.6z"/>
<path fill="url(#ld0)" d="M858.7 1046.2Q857.7 1047.9 855.2 1050.0Q852.7 1052.2 850.8 1051.4Q848.8 1050.7 847.3 1051.5Q845.7 1052.2 843.8 1051.1Q841.8 1050.0 840.5 1050.2Q839.2 1050.3 837.5 1049.2Q835.8 1048.1 834.4 1047.2Q833.0 1046.3 833.0 1046.3Q833.0 1046.3 834.3 1045.3Q835.5 1044.2 837.0 1042.8Q838.5 1041.5 839.9 1041.5Q841.2 1041.4 843.0 1040.0Q844.8 1038.7 846.4 1039.2Q848.1 1039.8 849.9 1038.7Q851.7 1037.7 854.5 1039.5Q857.3 1041.2 858.5 1042.8Q859.6 1044.4 859.6 1044.4Q859.6 1044.4 858.7 1046.2z"/>
<path fill="url(#ld0)" d="M844.4 1114.1Q843.3 1116.0 840.5 1118.1Q837.8 1120.2 836.1 1119.0Q834.4 1117.8 832.9 1118.5Q831.3 1119.1 829.6 1117.5Q828.0 1115.8 826.7 1115.8Q825.4 1115.8 824.1 1114.2Q822.7 1112.5 821.5 1111.3Q820.3 1110.0 820.3 1110.0Q820.3 1110.0 821.7 1109.0Q823.1 1107.9 824.7 1106.6Q826.4 1105.2 827.6 1105.4Q828.9 1105.6 830.8 1104.2Q832.7 1102.9 834.1 1103.8Q835.6 1104.7 837.4 1103.8Q839.3 1102.9 841.6 1105.5Q843.9 1108.0 844.8 1110.1Q845.6 1112.2 845.6 1112.2Q845.6 1112.2 844.4 1114.1z"/>
<path fill="url(#ld2)" d="M885.8 1028.2Q886.0 1030.3 885.3 1033.7Q884.5 1037.0 882.5 1037.2Q880.4 1037.5 879.6 1039.0Q878.8 1040.5 876.5 1040.4Q874.2 1040.3 873.2 1041.2Q872.3 1042.0 870.2 1041.8Q868.1 1041.5 866.4 1041.4Q864.7 1041.3 864.7 1041.3Q864.7 1041.3 865.1 1039.7Q865.5 1038.0 865.9 1036.0Q866.3 1033.9 867.4 1033.2Q868.5 1032.5 869.1 1030.3Q869.7 1028.1 871.4 1027.8Q873.1 1027.5 874.0 1025.6Q874.8 1023.7 878.2 1024.0Q881.6 1024.3 883.5 1025.2Q885.5 1026.1 885.5 1026.1Q885.5 1026.1 885.8 1028.2z"/>
<path fill="url(#ld0)" d="M895.7 1027.9Q897.1 1028.5 898.9 1030.4Q900.6 1032.3 900.1 1033.9Q899.7 1035.4 900.3 1036.6Q901.0 1037.8 900.3 1039.4Q899.5 1040.9 899.7 1042.0Q899.9 1043.0 899.1 1044.4Q898.4 1045.8 897.8 1046.9Q897.2 1048.0 897.2 1048.0Q897.2 1048.0 896.3 1047.1Q895.5 1046.2 894.4 1045.0Q893.2 1043.9 893.2 1042.9Q893.1 1041.8 891.9 1040.5Q890.8 1039.2 891.1 1037.8Q891.4 1036.5 890.6 1035.2Q889.7 1033.8 890.9 1031.5Q892.1 1029.2 893.2 1028.2Q894.4 1027.2 894.4 1027.2Q894.4 1027.2 895.7 1027.9z"/>
<path fill="url(#ld2)" d="M888.3 1051.2Q889.2 1052.7 889.7 1055.5Q890.3 1058.2 888.9 1059.2Q887.5 1060.2 887.4 1061.7Q887.3 1063.1 885.6 1063.9Q883.9 1064.8 883.4 1065.8Q883.0 1066.8 881.4 1067.4Q879.7 1068.1 878.5 1068.7Q877.2 1069.2 877.2 1069.2Q877.2 1069.2 876.9 1067.9Q876.7 1066.5 876.3 1064.8Q875.9 1063.1 876.5 1062.2Q877.0 1061.2 876.8 1059.3Q876.5 1057.4 877.6 1056.6Q878.8 1055.7 878.8 1053.9Q878.8 1052.2 881.3 1051.1Q883.9 1049.9 885.6 1049.9Q887.4 1049.8 887.4 1049.8Q887.4 1049.8 888.3 1051.2z"/>
<path fill="url(#ld2)" d="M874.6 1051.6Q875.8 1053.2 876.8 1056.1Q877.8 1059.1 876.3 1060.3Q874.8 1061.4 874.9 1063.0Q875.0 1064.6 873.1 1065.6Q871.3 1066.6 870.9 1067.7Q870.5 1068.8 868.7 1069.6Q867.0 1070.4 865.6 1071.1Q864.2 1071.8 864.2 1071.8Q864.2 1071.8 863.8 1070.4Q863.3 1068.9 862.6 1067.1Q862.0 1065.3 862.5 1064.2Q863.0 1063.2 862.5 1061.1Q861.9 1059.1 863.1 1058.1Q864.3 1057.0 864.1 1055.1Q863.9 1053.3 866.6 1051.9Q869.4 1050.5 871.4 1050.3Q873.4 1050.1 873.4 1050.1Q873.4 1050.1 874.6 1051.6z"/>
<path fill="url(#ld0)" d="M844.3 1024.3Q844.7 1026.0 844.3 1028.9Q843.9 1031.8 842.1 1032.5Q840.4 1033.1 839.8 1034.6Q839.3 1036.0 837.3 1036.4Q835.4 1036.8 834.6 1037.7Q833.8 1038.6 832.0 1038.9Q830.2 1039.1 828.8 1039.4Q827.3 1039.7 827.3 1039.7Q827.3 1039.7 827.6 1038.2Q827.8 1036.8 828.0 1035.0Q828.2 1033.2 829.1 1032.4Q829.9 1031.6 830.3 1029.6Q830.7 1027.6 832.1 1027.0Q833.5 1026.4 834.1 1024.7Q834.7 1022.9 837.6 1022.4Q840.5 1021.9 842.2 1022.3Q843.9 1022.6 843.9 1022.6Q843.9 1022.6 844.3 1024.3z"/>
<path fill="url(#ld1)" d="M891.7 1143.5Q891.1 1145.3 889.0 1147.9Q886.9 1150.5 884.9 1150.1Q882.9 1149.7 881.5 1150.8Q880.1 1151.8 878.0 1151.1Q875.9 1150.4 874.6 1150.8Q873.3 1151.2 871.5 1150.4Q869.6 1149.6 868.1 1149.1Q866.5 1148.5 866.5 1148.5Q866.5 1148.5 867.6 1147.2Q868.6 1146.0 869.9 1144.4Q871.1 1142.8 872.4 1142.5Q873.7 1142.2 875.2 1140.5Q876.7 1138.9 878.4 1139.1Q880.1 1139.3 881.7 1138.0Q883.3 1136.6 886.3 1137.8Q889.4 1139.0 890.9 1140.3Q892.3 1141.6 892.3 1141.6Q892.3 1141.6 891.7 1143.5z"/>
<path fill="url(#ld1)" d="M893.0 1063.2Q894.8 1062.1 898.1 1061.5Q901.5 1060.9 902.7 1062.7Q904.0 1064.4 905.7 1064.5Q907.5 1064.6 908.5 1066.7Q909.6 1068.7 910.8 1069.3Q912.0 1069.9 912.8 1071.8Q913.6 1073.7 914.3 1075.3Q915.1 1076.8 915.1 1076.8Q915.1 1076.8 913.4 1077.1Q911.7 1077.4 909.7 1077.8Q907.6 1078.2 906.4 1077.5Q905.3 1076.9 903.0 1077.2Q900.7 1077.5 899.6 1076.1Q898.5 1074.7 896.4 1074.7Q894.3 1074.6 892.9 1071.5Q891.5 1068.4 891.3 1066.3Q891.2 1064.3 891.2 1064.3Q891.2 1064.3 893.0 1063.2z"/>
<path fill="url(#ld1)" d="M883.5 1107.9Q883.2 1110.3 881.5 1113.8Q879.8 1117.2 877.5 1116.9Q875.2 1116.6 873.9 1118.0Q872.6 1119.4 870.1 1118.7Q867.6 1117.9 866.3 1118.5Q865.0 1119.1 862.8 1118.3Q860.6 1117.4 858.8 1116.7Q857.0 1116.1 857.0 1116.1Q857.0 1116.1 857.9 1114.4Q858.8 1112.7 859.8 1110.6Q860.8 1108.4 862.1 1108.0Q863.5 1107.5 864.8 1105.2Q866.0 1103.0 868.0 1103.1Q869.9 1103.3 871.3 1101.5Q872.8 1099.7 876.4 1101.0Q880.0 1102.3 881.9 1103.9Q883.7 1105.5 883.7 1105.5Q883.7 1105.5 883.5 1107.9z"/>
<path fill="url(#ld0)" d="M940.7 990.9Q942.1 991.4 943.9 993.1Q945.7 994.8 945.3 996.3Q944.9 997.8 945.6 998.9Q946.4 1000.0 945.7 1001.6Q945.1 1003.1 945.3 1004.1Q945.6 1005.1 944.9 1006.4Q944.2 1007.8 943.7 1008.9Q943.2 1010.0 943.2 1010.0Q943.2 1010.0 942.4 1009.2Q941.5 1008.3 940.3 1007.3Q939.2 1006.3 939.0 1005.3Q938.9 1004.3 937.7 1003.1Q936.5 1001.9 936.8 1000.7Q937.0 999.4 936.1 998.1Q935.2 996.9 936.2 994.6Q937.3 992.4 938.3 991.4Q939.3 990.3 939.3 990.3Q939.3 990.3 940.7 990.9z"/>
<path fill="url(#ld2)" d="M866.2 1096.4Q866.2 1098.7 865.0 1101.9Q863.8 1105.2 861.7 1104.9Q859.7 1104.6 858.7 1106.0Q857.7 1107.4 855.5 1106.7Q853.3 1106.0 852.2 1106.6Q851.1 1107.3 849.1 1106.5Q847.1 1105.7 845.5 1105.1Q843.8 1104.6 843.8 1104.6Q843.8 1104.6 844.4 1103.0Q845.1 1101.3 845.7 1099.3Q846.4 1097.3 847.6 1096.8Q848.7 1096.4 849.6 1094.2Q850.5 1092.1 852.2 1092.2Q853.9 1092.3 855.0 1090.6Q856.1 1088.9 859.4 1090.0Q862.6 1091.2 864.4 1092.6Q866.2 1094.1 866.2 1094.1Q866.2 1094.1 866.2 1096.4z"/>
<path fill="url(#ld2)" d="M896.9 1009.5Q898.9 1010.4 901.5 1012.8Q904.1 1015.3 903.4 1017.4Q902.7 1019.5 903.7 1021.1Q904.6 1022.6 903.5 1024.8Q902.4 1026.9 902.7 1028.3Q902.9 1029.7 901.8 1031.6Q900.6 1033.4 899.7 1035.0Q898.9 1036.5 898.9 1036.5Q898.9 1036.5 897.6 1035.3Q896.3 1034.1 894.7 1032.6Q893.0 1031.1 892.9 1029.7Q892.8 1028.3 891.1 1026.6Q889.4 1024.8 889.9 1023.0Q890.4 1021.3 889.1 1019.5Q887.9 1017.6 889.7 1014.5Q891.5 1011.4 893.2 1010.1Q894.9 1008.7 894.9 1008.7Q894.9 1008.7 896.9 1009.5z"/>
<path fill="url(#ld1)" d="M827.3 1044.4Q828.0 1046.3 827.8 1049.6Q827.7 1052.9 825.9 1053.9Q824.0 1054.9 823.6 1056.6Q823.1 1058.3 821.0 1059.1Q818.9 1059.8 818.1 1061.0Q817.3 1062.1 815.4 1062.6Q813.4 1063.2 811.8 1063.7Q810.3 1064.2 810.3 1064.2Q810.3 1064.2 810.4 1062.6Q810.4 1060.9 810.4 1058.9Q810.5 1056.9 811.3 1055.8Q812.2 1054.8 812.4 1052.5Q812.6 1050.3 814.1 1049.4Q815.6 1048.5 816.0 1046.4Q816.5 1044.4 819.6 1043.4Q822.8 1042.4 824.8 1042.5Q826.7 1042.6 826.7 1042.6Q826.7 1042.6 827.3 1044.4z"/>
<path fill="url(#ld2)" d="M927.3 1119.5Q928.8 1118.8 931.4 1118.7Q934.0 1118.5 934.7 1119.9Q935.5 1121.3 936.8 1121.5Q938.1 1121.7 938.7 1123.4Q939.3 1125.0 940.2 1125.5Q941.1 1126.1 941.5 1127.6Q942.0 1129.1 942.4 1130.4Q942.8 1131.6 942.8 1131.6Q942.8 1131.6 941.5 1131.7Q940.2 1131.8 938.6 1131.9Q937.0 1132.1 936.2 1131.5Q935.4 1130.9 933.7 1130.9Q931.9 1131.0 931.2 1129.8Q930.5 1128.7 928.9 1128.5Q927.3 1128.3 926.5 1125.8Q925.7 1123.4 925.8 1121.8Q925.9 1120.2 925.9 1120.2Q925.9 1120.2 927.3 1119.5z"/>
<path fill="url(#ld1)" d="M887.2 1001.0Q889.1 1001.9 891.4 1004.1Q893.6 1006.3 892.6 1007.9Q891.6 1009.5 892.3 1010.8Q893.1 1012.2 891.6 1013.8Q890.2 1015.3 890.3 1016.4Q890.4 1017.6 889.0 1018.9Q887.5 1020.3 886.4 1021.4Q885.3 1022.5 885.3 1022.5Q885.3 1022.5 884.2 1021.4Q883.1 1020.3 881.7 1018.9Q880.3 1017.6 880.4 1016.4Q880.5 1015.3 879.0 1013.7Q877.6 1012.2 878.4 1010.8Q879.1 1009.5 878.1 1007.9Q877.1 1006.3 879.3 1004.1Q881.6 1001.8 883.5 1001.0Q885.4 1000.1 885.4 1000.1Q885.4 1000.1 887.2 1001.0z"/>
<path fill="url(#ld1)" d="M883.5 1046.4Q883.5 1048.7 882.2 1052.3Q880.9 1055.8 878.6 1055.8Q876.3 1055.8 875.2 1057.4Q874.2 1059.0 871.6 1058.6Q869.1 1058.2 867.9 1058.9Q866.7 1059.7 864.5 1059.2Q862.2 1058.7 860.4 1058.3Q858.5 1058.0 858.5 1058.0Q858.5 1058.0 859.2 1056.2Q859.8 1054.5 860.6 1052.2Q861.3 1050.0 862.6 1049.4Q863.9 1048.8 864.8 1046.4Q865.8 1044.1 867.7 1044.0Q869.6 1043.9 870.8 1041.9Q872.0 1040.0 875.7 1040.7Q879.4 1041.5 881.4 1042.7Q883.4 1044.0 883.4 1044.0Q883.4 1044.0 883.5 1046.4z"/>
<path fill="url(#ld1)" d="M886.9 1088.6Q887.8 1090.9 887.9 1094.7Q888.0 1098.6 885.8 1099.4Q883.6 1100.1 883.1 1102.0Q882.6 1103.9 880.1 1104.3Q877.5 1104.7 876.6 1105.9Q875.8 1107.0 873.4 1107.3Q871.0 1107.5 869.1 1107.7Q867.2 1108.0 867.2 1108.0Q867.2 1108.0 867.2 1106.1Q867.2 1104.2 867.1 1101.8Q866.9 1099.4 867.9 1098.4Q869.0 1097.4 869.0 1094.8Q869.1 1092.2 870.9 1091.4Q872.7 1090.7 873.1 1088.4Q873.5 1086.1 877.3 1085.6Q881.2 1085.2 883.6 1085.7Q886.0 1086.3 886.0 1086.3Q886.0 1086.3 886.9 1088.6z"/>
<path fill="url(#ld0)" d="M877.6 1044.7Q878.6 1046.6 879.0 1049.9Q879.4 1053.3 877.6 1054.3Q875.8 1055.3 875.5 1057.1Q875.3 1058.8 873.1 1059.6Q871.0 1060.4 870.4 1061.5Q869.7 1062.7 867.7 1063.3Q865.7 1063.8 864.1 1064.4Q862.5 1064.9 862.5 1064.9Q862.5 1064.9 862.3 1063.2Q862.1 1061.6 861.8 1059.5Q861.5 1057.4 862.3 1056.4Q863.0 1055.3 862.9 1053.0Q862.7 1050.7 864.1 1049.8Q865.6 1048.8 865.8 1046.8Q865.9 1044.7 869.2 1043.7Q872.4 1042.6 874.5 1042.7Q876.6 1042.8 876.6 1042.8Q876.6 1042.8 877.6 1044.7z"/>
<path fill="url(#ld0)" d="M925.2 998.9Q927.3 997.9 930.9 997.6Q934.6 997.2 935.3 999.3Q936.0 1001.3 937.8 1001.6Q939.6 1001.9 940.0 1004.3Q940.5 1006.7 941.6 1007.5Q942.7 1008.2 942.9 1010.5Q943.2 1012.7 943.4 1014.5Q943.7 1016.2 943.7 1016.2Q943.7 1016.2 941.9 1016.4Q940.1 1016.5 937.9 1016.8Q935.7 1017.1 934.7 1016.2Q933.7 1015.3 931.3 1015.4Q928.8 1015.5 928.1 1013.9Q927.4 1012.2 925.3 1012.0Q923.1 1011.7 922.6 1008.1Q922.1 1004.5 922.5 1002.2Q923.0 999.9 923.0 999.9Q923.0 999.9 925.2 998.9z"/>
<path fill="url(#ld2)" d="M877.1 1099.7Q878.8 1100.8 880.8 1103.4Q882.8 1106.0 882.0 1107.9Q881.2 1109.8 881.9 1111.4Q882.6 1113.0 881.4 1114.9Q880.2 1116.8 880.3 1118.2Q880.4 1119.5 879.2 1121.2Q878.0 1122.8 877.1 1124.2Q876.2 1125.5 876.2 1125.5Q876.2 1125.5 875.2 1124.2Q874.2 1122.9 872.9 1121.4Q871.6 1119.8 871.6 1118.4Q871.7 1117.1 870.4 1115.3Q869.1 1113.4 869.7 1111.8Q870.3 1110.1 869.4 1108.3Q868.4 1106.4 870.3 1103.7Q872.1 1101.0 873.8 1099.8Q875.4 1098.7 875.4 1098.7Q875.4 1098.7 877.1 1099.7z"/>
<path fill="url(#ld2)" d="M896.2 1011.0Q897.6 1011.9 899.2 1014.0Q900.8 1016.1 900.1 1017.5Q899.3 1019.0 899.8 1020.2Q900.3 1021.5 899.3 1022.9Q898.2 1024.3 898.2 1025.4Q898.2 1026.4 897.1 1027.6Q896.1 1028.9 895.2 1029.9Q894.4 1030.9 894.4 1030.9Q894.4 1030.9 893.6 1029.8Q892.8 1028.8 891.8 1027.5Q890.7 1026.2 890.8 1025.2Q890.9 1024.2 889.9 1022.7Q888.9 1021.2 889.4 1020.0Q890.0 1018.8 889.3 1017.3Q888.6 1015.8 890.3 1013.8Q892.0 1011.8 893.4 1011.0Q894.9 1010.2 894.9 1010.2Q894.9 1010.2 896.2 1011.0z"/>
<path fill="url(#ld1)" d="M857.3 1029.0Q857.8 1031.6 857.3 1035.5Q856.8 1039.4 854.4 1039.6Q852.1 1039.8 851.4 1041.6Q850.6 1043.3 848.0 1043.1Q845.3 1042.9 844.3 1043.9Q843.2 1044.8 840.8 1044.4Q838.4 1044.0 836.5 1043.8Q834.5 1043.6 834.5 1043.6Q834.5 1043.6 834.8 1041.7Q835.1 1039.7 835.4 1037.3Q835.6 1034.9 836.8 1034.1Q837.9 1033.3 838.4 1030.7Q838.9 1028.1 840.8 1027.9Q842.7 1027.6 843.5 1025.4Q844.3 1023.2 848.2 1023.7Q852.1 1024.1 854.4 1025.3Q856.7 1026.5 856.7 1026.5Q856.7 1026.5 857.3 1029.0z"/>
<path fill="url(#ld0)" d="M871.5 1124.0Q870.5 1126.0 867.8 1128.4Q865.2 1130.7 863.3 1129.7Q861.4 1128.7 859.8 1129.5Q858.2 1130.3 856.3 1128.8Q854.4 1127.3 853.1 1127.4Q851.7 1127.5 850.1 1126.1Q848.5 1124.6 847.2 1123.5Q845.8 1122.3 845.8 1122.3Q845.8 1122.3 847.1 1121.2Q848.5 1120.0 850.0 1118.5Q851.6 1117.0 853.0 1117.1Q854.3 1117.2 856.2 1115.6Q858.0 1114.1 859.6 1114.9Q861.3 1115.7 863.1 1114.6Q865.0 1113.5 867.7 1115.8Q870.4 1118.1 871.5 1120.1Q872.6 1122.1 872.6 1122.1Q872.6 1122.1 871.5 1124.0z"/>
<path fill="url(#ld1)" d="M911.5 1068.4Q913.5 1068.3 916.5 1069.2Q919.5 1070.1 919.7 1072.0Q919.9 1073.9 921.3 1074.7Q922.7 1075.6 922.6 1077.7Q922.4 1079.8 923.2 1080.8Q923.9 1081.7 923.7 1083.6Q923.4 1085.6 923.3 1087.1Q923.2 1088.7 923.2 1088.7Q923.2 1088.7 921.7 1088.2Q920.2 1087.8 918.3 1087.3Q916.4 1086.8 915.8 1085.7Q915.2 1084.7 913.2 1084.0Q911.2 1083.3 910.9 1081.7Q910.7 1080.1 909.0 1079.2Q907.3 1078.3 907.6 1075.2Q907.9 1072.1 908.7 1070.3Q909.6 1068.6 909.6 1068.6Q909.6 1068.6 911.5 1068.4z"/>
<path fill="url(#ld0)" d="M915.7 1105.7Q916.5 1104.3 918.4 1102.7Q920.4 1101.0 921.9 1101.6Q923.3 1102.2 924.5 1101.6Q925.7 1101.0 927.2 1102.0Q928.7 1102.9 929.7 1102.8Q930.7 1102.6 932.0 1103.6Q933.3 1104.5 934.4 1105.2Q935.4 1105.9 935.4 1105.9Q935.4 1105.9 934.5 1106.7Q933.5 1107.5 932.3 1108.6Q931.1 1109.7 930.1 1109.7Q929.1 1109.7 927.7 1110.7Q926.3 1111.8 925.1 1111.4Q923.8 1110.9 922.4 1111.7Q921.0 1112.5 918.9 1111.0Q916.8 1109.6 915.9 1108.3Q915.0 1107.1 915.0 1107.1Q915.0 1107.1 915.7 1105.7z"/>
<path fill="url(#ld0)" d="M910.8 1007.1Q911.7 1005.3 914.0 1003.1Q916.3 1000.9 918.1 1001.6Q919.9 1002.4 921.3 1001.6Q922.8 1000.8 924.6 1001.9Q926.4 1003.1 927.7 1002.9Q928.9 1002.7 930.5 1003.9Q932.1 1005.0 933.4 1005.9Q934.7 1006.8 934.7 1006.8Q934.7 1006.8 933.6 1007.9Q932.4 1009.0 931.1 1010.4Q929.7 1011.8 928.4 1011.8Q927.2 1011.8 925.6 1013.3Q924.0 1014.7 922.4 1014.2Q920.9 1013.6 919.2 1014.7Q917.6 1015.7 914.9 1013.9Q912.3 1012.1 911.1 1010.5Q910.0 1008.9 910.0 1008.9Q910.0 1008.9 910.8 1007.1z"/>
<path fill="url(#ld0)" d="M939.0 1049.8Q940.8 1050.3 943.3 1052.1Q945.9 1054.0 945.6 1055.9Q945.3 1057.8 946.4 1059.1Q947.4 1060.3 946.8 1062.4Q946.2 1064.4 946.7 1065.6Q947.1 1066.8 946.4 1068.6Q945.7 1070.4 945.3 1071.8Q944.8 1073.3 944.8 1073.3Q944.8 1073.3 943.5 1072.4Q942.3 1071.5 940.7 1070.4Q939.1 1069.3 938.8 1068.1Q938.5 1066.8 936.8 1065.5Q935.2 1064.2 935.3 1062.5Q935.5 1060.9 934.1 1059.5Q932.8 1058.1 933.8 1055.1Q934.8 1052.1 936.0 1050.7Q937.2 1049.3 937.2 1049.3Q937.2 1049.3 939.0 1049.8z"/>
<path fill="url(#ld2)" d="M863.8 1081.1Q865.9 1082.0 868.4 1084.3Q871.0 1086.7 870.0 1088.4Q868.9 1090.2 869.8 1091.6Q870.7 1093.0 869.3 1094.8Q867.8 1096.6 867.9 1097.8Q868.1 1099.0 866.6 1100.5Q865.1 1102.1 864.0 1103.4Q862.8 1104.6 862.8 1104.6Q862.8 1104.6 861.6 1103.5Q860.3 1102.3 858.7 1100.9Q857.0 1099.5 857.1 1098.3Q857.1 1097.1 855.5 1095.4Q853.8 1093.8 854.6 1092.3Q855.4 1090.8 854.2 1089.2Q853.0 1087.5 855.3 1085.0Q857.6 1082.4 859.6 1081.3Q861.7 1080.3 861.7 1080.3Q861.7 1080.3 863.8 1081.1z"/>
<path fill="url(#ld1)" d="M889.1 1056.2Q891.2 1056.7 894.0 1058.7Q896.8 1060.6 896.2 1062.6Q895.7 1064.6 896.8 1065.9Q897.9 1067.2 896.9 1069.3Q895.9 1071.3 896.3 1072.6Q896.7 1073.8 895.7 1075.6Q894.6 1077.4 893.8 1079.0Q893.1 1080.5 893.1 1080.5Q893.1 1080.5 891.7 1079.5Q890.3 1078.5 888.5 1077.4Q886.8 1076.2 886.6 1074.9Q886.3 1073.7 884.5 1072.3Q882.7 1070.9 883.1 1069.2Q883.4 1067.6 882.0 1066.1Q880.6 1064.6 882.2 1061.6Q883.8 1058.5 885.4 1057.1Q887.0 1055.6 887.0 1055.6Q887.0 1055.6 889.1 1056.2z"/>
<path fill="url(#ld0)" d="M886.9 1073.3Q887.1 1075.3 886.1 1078.3Q885.2 1081.3 883.3 1081.4Q881.4 1081.5 880.5 1082.9Q879.7 1084.3 877.6 1084.1Q875.4 1083.8 874.5 1084.5Q873.5 1085.3 871.6 1084.9Q869.6 1084.6 868.1 1084.3Q866.5 1084.1 866.5 1084.1Q866.5 1084.1 867.0 1082.6Q867.5 1081.1 868.0 1079.2Q868.5 1077.4 869.5 1076.8Q870.6 1076.2 871.3 1074.2Q872.0 1072.2 873.6 1072.0Q875.2 1071.8 876.1 1070.1Q877.0 1068.4 880.2 1068.9Q883.3 1069.3 885.1 1070.3Q886.8 1071.3 886.8 1071.3Q886.8 1071.3 886.9 1073.3z"/>
<path fill="url(#ld2)" d="M955.6 1022.5Q957.2 1022.8 959.4 1024.2Q961.6 1025.6 961.3 1027.2Q960.9 1028.7 961.8 1029.7Q962.7 1030.7 962.0 1032.3Q961.4 1033.9 961.7 1034.9Q962.0 1035.8 961.3 1037.2Q960.6 1038.7 960.0 1039.9Q959.5 1041.0 959.5 1041.0Q959.5 1041.0 958.4 1040.3Q957.3 1039.6 955.9 1038.8Q954.5 1038.0 954.3 1037.0Q954.1 1036.0 952.7 1035.0Q951.2 1034.0 951.4 1032.7Q951.7 1031.4 950.5 1030.3Q949.4 1029.2 950.5 1026.8Q951.6 1024.5 952.8 1023.3Q954.0 1022.1 954.0 1022.1Q954.0 1022.1 955.6 1022.5z"/>
<path d="M898.0 1058.3L918.2 1064.9M889.3 1122.5L866.5 1133.5M878.2 1127.9L851.2 1124.6M894.5 1128.9L914.3 1143.6M909.7 1007.1L926.2 1023.0M900.5 989.1L912.3 1002.9M951.4 1030.1L954.7 1056.4M891.1 1018.9L873.5 1025.5M944.6 1026.0L963.7 1026.3M867.7 1057.0L868.1 1075.3M941.6 1102.6L959.4 1121.0M877.0 1014.7L857.5 1020.2M885.1 1027.6L880.6 1045.8M889.4 1137.8L908.0 1135.1M935.2 1094.6L947.5 1117.1M882.2 1103.4L866.0 1122.4M925.8 1052.4L943.7 1072.6M899.4 1011.4L898.3 1038.4M859.6 1044.4L834.3 1046.2M845.6 1112.2L821.6 1110.1M885.5 1026.1L865.8 1040.5M894.4 1027.2L897.1 1047.0M887.4 1049.8L877.7 1068.3M873.4 1050.1L864.7 1070.8M843.9 1022.6L828.2 1038.8M892.3 1141.6L867.8 1148.2M891.2 1064.3L913.9 1076.2M883.7 1105.5L858.4 1115.6M939.3 990.3L943.0 1009.0M866.2 1094.1L845.0 1104.0M894.9 1008.7L898.7 1035.1M826.7 1042.6L811.1 1063.2M925.9 1120.2L941.9 1131.0M885.4 1000.1L885.3 1021.4M883.4 1044.0L859.8 1057.3M886.0 1086.3L868.2 1106.9M876.6 1042.8L863.2 1063.8M923.0 999.9L942.7 1015.4M875.4 1098.7L876.2 1124.2M894.9 1010.2L894.4 1029.9M856.7 1026.5L835.7 1042.8M872.6 1122.1L847.1 1122.3M909.6 1068.6L922.5 1087.7M915.0 1107.1L934.4 1106.0M910.0 1008.9L933.5 1006.9M937.2 1049.3L944.4 1072.1M861.7 1080.3L862.8 1103.4M887.0 1055.6L892.8 1079.2M886.8 1071.3L867.5 1083.5M954.0 1022.1L959.2 1040.1" stroke="#4e9a3c" stroke-width=".6" opacity=".55" fill="none"/>
<path fill="url(#lm0)" d="M947.4 1121.6Q948.5 1120.4 950.8 1119.2Q953.2 1118.0 954.4 1119.0Q955.7 1120.0 957.0 1119.7Q958.3 1119.4 959.5 1120.8Q960.7 1122.1 961.7 1122.2Q962.7 1122.4 963.7 1123.7Q964.7 1124.9 965.6 1125.9Q966.4 1126.9 966.4 1126.9Q966.4 1126.9 965.2 1127.5Q964.1 1128.1 962.7 1128.9Q961.2 1129.7 960.3 1129.4Q959.3 1129.1 957.6 1129.9Q956.0 1130.6 954.9 1129.8Q953.8 1129.0 952.3 1129.5Q950.7 1129.9 949.1 1127.9Q947.4 1125.9 946.9 1124.3Q946.3 1122.8 946.3 1122.8Q946.3 1122.8 947.4 1121.6z"/>
<path fill="url(#lm1)" d="M937.3 994.2Q938.5 993.5 940.8 993.2Q943.0 992.9 943.6 994.1Q944.2 995.3 945.3 995.5Q946.4 995.6 946.8 997.1Q947.3 998.6 948.0 999.0Q948.7 999.4 949.0 1000.8Q949.3 1002.1 949.6 1003.2Q949.9 1004.3 949.9 1004.3Q949.9 1004.3 948.8 1004.4Q947.7 1004.6 946.3 1004.8Q944.9 1005.0 944.3 1004.5Q943.6 1004.0 942.1 1004.1Q940.6 1004.2 940.0 1003.2Q939.5 1002.2 938.1 1002.1Q936.8 1002.0 936.2 999.9Q935.7 997.7 935.8 996.3Q936.0 994.8 936.0 994.8Q936.0 994.8 937.3 994.2z"/>
<path fill="url(#lm0)" d="M937.4 1041.9Q938.5 1040.2 941.0 1038.3Q943.6 1036.4 945.1 1037.5Q946.6 1038.7 948.0 1038.1Q949.5 1037.5 951.0 1039.1Q952.4 1040.6 953.6 1040.7Q954.8 1040.7 956.0 1042.2Q957.2 1043.7 958.3 1044.9Q959.3 1046.1 959.3 1046.1Q959.3 1046.1 958.1 1047.0Q956.8 1047.9 955.3 1049.1Q953.7 1050.3 952.6 1050.1Q951.4 1049.9 949.7 1051.1Q947.9 1052.3 946.6 1051.4Q945.3 1050.6 943.6 1051.4Q941.9 1052.2 939.8 1049.8Q937.7 1047.4 937.0 1045.5Q936.2 1043.6 936.2 1043.6Q936.2 1043.6 937.4 1041.9z"/>
<path fill="url(#lm0)" d="M903.3 1093.4Q904.5 1094.2 906.1 1096.0Q907.6 1097.9 907.0 1099.4Q906.5 1100.8 907.1 1101.9Q907.6 1103.1 906.8 1104.5Q906.0 1106.0 906.1 1107.0Q906.3 1108.0 905.4 1109.2Q904.6 1110.5 904.0 1111.5Q903.4 1112.5 903.4 1112.5Q903.4 1112.5 902.6 1111.6Q901.9 1110.7 900.9 1109.5Q899.9 1108.4 899.9 1107.4Q899.9 1106.4 898.9 1105.1Q897.9 1103.8 898.3 1102.5Q898.7 1101.3 898.0 1100.0Q897.2 1098.6 898.5 1096.6Q899.8 1094.5 900.9 1093.6Q902.0 1092.7 902.0 1092.7Q902.0 1092.7 903.3 1093.4z"/>
<path fill="url(#lm2)" d="M892.2 1131.4Q891.4 1132.9 889.6 1134.6Q887.7 1136.3 886.4 1135.5Q885.2 1134.8 884.1 1135.3Q883.0 1135.9 881.7 1134.8Q880.4 1133.7 879.5 1133.7Q878.6 1133.8 877.5 1132.7Q876.4 1131.6 875.5 1130.7Q874.5 1129.8 874.5 1129.8Q874.5 1129.8 875.5 1129.0Q876.4 1128.2 877.5 1127.0Q878.6 1125.9 879.5 1126.0Q880.4 1126.1 881.7 1125.0Q883.0 1123.9 884.1 1124.5Q885.2 1125.1 886.5 1124.3Q887.8 1123.5 889.6 1125.3Q891.5 1127.0 892.2 1128.5Q892.9 1130.0 892.9 1130.0Q892.9 1130.0 892.2 1131.4z"/>
<path fill="url(#lm0)" d="M898.0 1045.1Q899.4 1045.7 901.2 1047.3Q902.9 1049.0 902.2 1050.2Q901.5 1051.4 902.1 1052.4Q902.7 1053.4 901.7 1054.7Q900.7 1055.9 900.7 1056.7Q900.8 1057.6 899.8 1058.7Q898.8 1059.7 898.0 1060.6Q897.2 1061.5 897.2 1061.5Q897.2 1061.5 896.4 1060.7Q895.6 1059.8 894.5 1058.9Q893.4 1057.9 893.4 1057.0Q893.4 1056.2 892.3 1055.0Q891.2 1053.9 891.7 1052.8Q892.2 1051.8 891.5 1050.6Q890.7 1049.4 892.2 1047.7Q893.8 1045.9 895.2 1045.2Q896.6 1044.4 896.6 1044.4Q896.6 1044.4 898.0 1045.1z"/>
<path fill="url(#lm0)" d="M940.5 1103.1Q942.6 1102.9 945.7 1103.8Q948.8 1104.7 948.9 1106.6Q948.9 1108.5 950.3 1109.4Q951.7 1110.2 951.4 1112.4Q951.1 1114.5 951.8 1115.5Q952.6 1116.5 952.1 1118.4Q951.7 1120.4 951.5 1122.0Q951.2 1123.5 951.2 1123.5Q951.2 1123.5 949.7 1123.1Q948.1 1122.6 946.2 1122.2Q944.3 1121.7 943.7 1120.6Q943.1 1119.6 941.1 1118.9Q939.0 1118.2 938.8 1116.6Q938.7 1115.0 937.0 1114.1Q935.3 1113.2 935.8 1110.0Q936.4 1106.8 937.4 1105.0Q938.5 1103.2 938.5 1103.2Q938.5 1103.2 940.5 1103.1z"/>
<path fill="url(#lm3)" d="M948.9 1042.1Q950.0 1040.4 952.3 1038.5Q954.7 1036.6 956.1 1037.7Q957.5 1038.8 958.9 1038.2Q960.3 1037.6 961.7 1039.1Q963.0 1040.6 964.1 1040.6Q965.2 1040.6 966.4 1042.1Q967.6 1043.6 968.6 1044.7Q969.6 1045.9 969.6 1045.9Q969.6 1045.9 968.4 1046.8Q967.2 1047.8 965.8 1049.0Q964.3 1050.2 963.3 1050.1Q962.2 1049.9 960.6 1051.1Q958.9 1052.3 957.7 1051.5Q956.4 1050.7 954.8 1051.5Q953.2 1052.3 951.3 1050.0Q949.3 1047.6 948.6 1045.8Q947.9 1043.9 947.9 1043.9Q947.9 1043.9 948.9 1042.1z"/>
<path fill="url(#lm3)" d="M907.9 1095.1Q909.2 1094.1 911.8 1093.2Q914.4 1092.3 915.7 1093.5Q916.9 1094.7 918.4 1094.6Q919.8 1094.5 920.9 1096.0Q922.1 1097.4 923.2 1097.7Q924.2 1098.0 925.2 1099.4Q926.1 1100.9 926.9 1102.0Q927.7 1103.1 927.7 1103.1Q927.7 1103.1 926.4 1103.5Q925.1 1103.9 923.5 1104.5Q921.9 1105.1 920.9 1104.7Q919.8 1104.3 918.0 1104.8Q916.2 1105.4 915.1 1104.4Q914.0 1103.5 912.3 1103.7Q910.6 1103.9 909.0 1101.7Q907.4 1099.4 907.0 1097.8Q906.6 1096.2 906.6 1096.2Q906.6 1096.2 907.9 1095.1z"/>
<path fill="url(#lm0)" d="M928.3 1110.4Q930.4 1109.7 933.7 1110.0Q937.1 1110.2 937.5 1112.1Q937.9 1114.1 939.4 1114.6Q941.0 1115.2 941.1 1117.4Q941.2 1119.7 942.1 1120.5Q943.0 1121.3 942.9 1123.4Q942.8 1125.5 942.8 1127.2Q942.8 1128.8 942.8 1128.8Q942.8 1128.8 941.2 1128.7Q939.5 1128.6 937.5 1128.5Q935.4 1128.4 934.6 1127.5Q933.8 1126.5 931.6 1126.3Q929.4 1126.0 928.9 1124.4Q928.5 1122.8 926.6 1122.3Q924.7 1121.7 924.7 1118.4Q924.7 1115.0 925.4 1113.0Q926.2 1111.0 926.2 1111.0Q926.2 1111.0 928.3 1110.4z"/>
<path fill="url(#lm3)" d="M923.7 986.0Q925.1 984.6 927.9 983.3Q930.7 982.0 931.8 983.4Q933.0 984.8 934.5 984.6Q936.0 984.3 937.0 986.1Q938.0 987.9 939.1 988.2Q940.2 988.5 941.0 990.2Q941.8 991.9 942.5 993.2Q943.2 994.6 943.2 994.6Q943.2 994.6 941.8 995.2Q940.5 995.8 938.8 996.7Q937.1 997.5 936.1 997.1Q935.0 996.7 933.1 997.5Q931.2 998.2 930.2 997.1Q929.2 996.0 927.4 996.4Q925.6 996.9 924.2 994.1Q922.8 991.4 922.6 989.4Q922.3 987.5 922.3 987.5Q922.3 987.5 923.7 986.0z"/>
<path fill="url(#lm1)" d="M884.8 1145.4Q885.2 1147.3 884.9 1150.3Q884.5 1153.2 882.8 1153.4Q881.0 1153.7 880.5 1155.0Q879.9 1156.4 877.9 1156.3Q875.9 1156.3 875.2 1157.0Q874.4 1157.8 872.6 1157.6Q870.7 1157.4 869.3 1157.3Q867.8 1157.2 867.8 1157.2Q867.8 1157.2 868.0 1155.8Q868.2 1154.3 868.4 1152.5Q868.5 1150.7 869.4 1150.0Q870.3 1149.4 870.6 1147.5Q870.9 1145.5 872.4 1145.2Q873.8 1144.9 874.4 1143.3Q874.9 1141.6 877.9 1141.8Q880.8 1142.0 882.6 1142.8Q884.4 1143.6 884.4 1143.6Q884.4 1143.6 884.8 1145.4z"/>
<path fill="url(#lm1)" d="M836.9 1010.6Q838.8 1012.0 840.8 1015.0Q842.8 1018.0 841.3 1019.5Q839.8 1021.0 840.3 1022.7Q840.9 1024.3 838.9 1025.7Q837.0 1027.1 836.8 1028.4Q836.6 1029.7 834.7 1030.8Q832.8 1032.0 831.4 1033.0Q829.9 1033.9 829.9 1033.9Q829.9 1033.9 828.9 1032.4Q828.0 1031.0 826.7 1029.1Q825.4 1027.3 825.7 1026.1Q826.1 1024.9 824.9 1022.8Q823.6 1020.8 824.8 1019.4Q825.9 1018.1 825.2 1016.2Q824.4 1014.2 827.4 1012.2Q830.4 1010.3 832.7 1009.7Q835.0 1009.2 835.0 1009.2Q835.0 1009.2 836.9 1010.6z"/>
<path fill="url(#lm3)" d="M931.2 1116.0Q932.7 1115.7 935.2 1116.1Q937.6 1116.6 937.9 1118.0Q938.1 1119.5 939.3 1120.1Q940.4 1120.6 940.4 1122.3Q940.4 1123.9 941.1 1124.6Q941.7 1125.3 941.6 1126.8Q941.5 1128.4 941.5 1129.6Q941.4 1130.8 941.4 1130.8Q941.4 1130.8 940.2 1130.6Q939.0 1130.4 937.5 1130.1Q936.0 1129.9 935.5 1129.2Q934.9 1128.4 933.3 1128.0Q931.7 1127.6 931.4 1126.4Q931.1 1125.2 929.7 1124.6Q928.3 1124.1 928.4 1121.6Q928.5 1119.1 929.1 1117.7Q929.7 1116.2 929.7 1116.2Q929.7 1116.2 931.2 1116.0z"/>
<path fill="url(#lm0)" d="M869.3 1034.1Q870.1 1035.0 870.8 1036.8Q871.5 1038.7 870.7 1039.6Q869.9 1040.5 870.0 1041.6Q870.1 1042.6 869.1 1043.5Q868.1 1044.4 867.9 1045.1Q867.7 1045.9 866.8 1046.6Q865.8 1047.4 865.0 1048.0Q864.3 1048.6 864.3 1048.6Q864.3 1048.6 863.9 1047.7Q863.6 1046.8 863.1 1045.6Q862.7 1044.5 862.9 1043.8Q863.2 1043.0 862.8 1041.7Q862.3 1040.4 863.0 1039.6Q863.6 1038.8 863.4 1037.6Q863.2 1036.4 864.7 1035.1Q866.3 1033.9 867.4 1033.6Q868.5 1033.2 868.5 1033.2Q868.5 1033.2 869.3 1034.1z"/>
<path fill="url(#lm1)" d="M958.9 1026.9Q960.3 1027.0 962.4 1027.9Q964.6 1028.9 964.7 1030.3Q964.8 1031.8 965.8 1032.5Q966.8 1033.3 966.7 1034.8Q966.6 1036.4 967.1 1037.2Q967.7 1038.0 967.5 1039.4Q967.3 1040.8 967.2 1042.0Q967.1 1043.2 967.1 1043.2Q967.1 1043.2 966.1 1042.7Q965.0 1042.2 963.7 1041.7Q962.3 1041.1 961.9 1040.3Q961.5 1039.5 960.0 1038.8Q958.6 1038.1 958.4 1036.8Q958.3 1035.6 957.1 1034.8Q955.9 1034.0 956.1 1031.7Q956.3 1029.3 956.9 1028.1Q957.5 1026.8 957.5 1026.8Q957.5 1026.8 958.9 1026.9z"/>
<path fill="url(#lm3)" d="M863.6 1079.9Q865.3 1081.4 866.9 1084.5Q868.5 1087.6 866.9 1088.9Q865.3 1090.3 865.7 1091.9Q866.0 1093.6 864.0 1094.7Q861.9 1095.9 861.7 1097.1Q861.4 1098.3 859.4 1099.2Q857.4 1100.2 855.9 1101.0Q854.4 1101.8 854.4 1101.8Q854.4 1101.8 853.6 1100.2Q852.8 1098.7 851.7 1096.8Q850.7 1094.9 851.1 1093.8Q851.6 1092.6 850.6 1090.5Q849.6 1088.4 850.9 1087.2Q852.1 1086.0 851.6 1084.1Q851.0 1082.1 854.1 1080.5Q857.2 1078.9 859.5 1078.6Q861.8 1078.3 861.8 1078.3Q861.8 1078.3 863.6 1079.9z"/>
<path fill="url(#lm2)" d="M898.5 1045.9Q900.3 1046.0 903.1 1047.2Q906.0 1048.4 906.3 1050.3Q906.5 1052.2 907.8 1053.2Q909.2 1054.2 909.1 1056.3Q909.1 1058.4 909.9 1059.4Q910.6 1060.5 910.4 1062.4Q910.3 1064.3 910.2 1065.8Q910.1 1067.4 910.1 1067.4Q910.1 1067.4 908.7 1066.8Q907.3 1066.1 905.5 1065.5Q903.8 1064.8 903.1 1063.7Q902.5 1062.5 900.6 1061.6Q898.7 1060.7 898.4 1059.1Q898.1 1057.5 896.5 1056.4Q894.8 1055.4 895.0 1052.3Q895.2 1049.2 895.9 1047.5Q896.6 1045.8 896.6 1045.8Q896.6 1045.8 898.5 1045.9z"/>
<path fill="url(#lm3)" d="M808.8 1062.1Q809.1 1063.6 808.6 1066.2Q808.1 1068.9 806.6 1069.4Q805.0 1070.0 804.4 1071.3Q803.8 1072.6 802.1 1073.0Q800.3 1073.3 799.5 1074.1Q798.8 1074.9 797.2 1075.1Q795.5 1075.3 794.2 1075.6Q792.9 1075.8 792.9 1075.8Q792.9 1075.8 793.2 1074.5Q793.4 1073.2 793.7 1071.6Q793.9 1070.0 794.8 1069.2Q795.6 1068.5 796.0 1066.7Q796.4 1065.0 797.7 1064.4Q799.0 1063.9 799.6 1062.3Q800.2 1060.8 802.8 1060.3Q805.5 1059.9 807.0 1060.2Q808.6 1060.5 808.6 1060.5Q808.6 1060.5 808.8 1062.1z"/>
<path fill="url(#lm1)" d="M955.5 1055.6Q957.0 1055.7 959.3 1057.0Q961.6 1058.2 961.6 1059.8Q961.6 1061.4 962.7 1062.3Q963.7 1063.2 963.4 1064.9Q963.2 1066.7 963.7 1067.6Q964.2 1068.5 963.8 1070.0Q963.5 1071.6 963.3 1072.9Q963.1 1074.1 963.1 1074.1Q963.1 1074.1 961.9 1073.5Q960.8 1072.9 959.4 1072.2Q958.0 1071.5 957.6 1070.6Q957.1 1069.6 955.6 1068.7Q954.1 1067.8 954.0 1066.5Q954.0 1065.1 952.7 1064.1Q951.4 1063.1 951.9 1060.6Q952.4 1058.0 953.2 1056.7Q954.0 1055.4 954.0 1055.4Q954.0 1055.4 955.5 1055.6z"/>
<path fill="url(#lm1)" d="M926.8 1027.6Q928.3 1027.2 930.6 1027.4Q932.9 1027.7 933.0 1029.0Q933.2 1030.4 934.2 1030.8Q935.3 1031.2 935.2 1032.8Q935.1 1034.3 935.6 1034.9Q936.2 1035.5 936.0 1037.0Q935.8 1038.4 935.7 1039.6Q935.6 1040.7 935.6 1040.7Q935.6 1040.7 934.4 1040.6Q933.3 1040.4 931.9 1040.3Q930.4 1040.2 929.9 1039.6Q929.5 1038.9 927.9 1038.7Q926.4 1038.4 926.2 1037.3Q926.0 1036.2 924.7 1035.8Q923.4 1035.4 923.7 1033.0Q923.9 1030.7 924.6 1029.3Q925.3 1027.9 925.3 1027.9Q925.3 1027.9 926.8 1027.6z"/>
<path fill="url(#lm2)" d="M940.5 1125.7Q942.1 1126.2 944.2 1127.8Q946.3 1129.4 945.8 1131.0Q945.4 1132.5 946.2 1133.6Q947.0 1134.7 946.2 1136.3Q945.5 1137.9 945.7 1138.9Q946.0 1139.9 945.2 1141.3Q944.4 1142.7 943.8 1143.9Q943.2 1145.0 943.2 1145.0Q943.2 1145.0 942.1 1144.2Q941.1 1143.4 939.8 1142.4Q938.5 1141.5 938.3 1140.5Q938.2 1139.5 936.8 1138.3Q935.4 1137.1 935.8 1135.8Q936.1 1134.5 935.0 1133.3Q934.0 1132.1 935.2 1129.7Q936.4 1127.4 937.7 1126.3Q938.9 1125.2 938.9 1125.2Q938.9 1125.2 940.5 1125.7z"/>
<path fill="url(#lm3)" d="M836.2 1105.5Q838.1 1106.8 840.2 1109.6Q842.2 1112.5 840.8 1114.1Q839.4 1115.7 840.0 1117.3Q840.6 1118.9 838.8 1120.4Q837.0 1121.9 836.9 1123.2Q836.8 1124.4 835.0 1125.7Q833.2 1126.9 831.8 1128.0Q830.5 1129.1 830.5 1129.1Q830.5 1129.1 829.5 1127.6Q828.5 1126.2 827.2 1124.5Q825.9 1122.7 826.2 1121.5Q826.4 1120.3 825.2 1118.3Q823.9 1116.3 825.0 1114.9Q826.0 1113.6 825.2 1111.6Q824.4 1109.7 827.2 1107.6Q830.0 1105.5 832.2 1104.8Q834.4 1104.1 834.4 1104.1Q834.4 1104.1 836.2 1105.5z"/>
<path fill="url(#lm2)" d="M926.5 1028.2Q927.8 1027.0 930.6 1025.9Q933.4 1024.7 934.8 1026.0Q936.2 1027.2 937.7 1027.0Q939.2 1026.8 940.5 1028.3Q941.8 1029.9 943.0 1030.1Q944.2 1030.4 945.2 1031.8Q946.3 1033.3 947.2 1034.5Q948.2 1035.7 948.2 1035.7Q948.2 1035.7 946.8 1036.2Q945.4 1036.8 943.7 1037.5Q942.0 1038.3 940.9 1037.9Q939.8 1037.5 937.9 1038.2Q936.0 1038.9 934.7 1037.9Q933.5 1036.9 931.7 1037.3Q929.9 1037.7 928.1 1035.3Q926.2 1032.9 925.7 1031.2Q925.2 1029.5 925.2 1029.5Q925.2 1029.5 926.5 1028.2z"/>
<path fill="url(#lm1)" d="M910.8 1030.7Q912.4 1029.7 915.1 1029.1Q917.8 1028.6 918.5 1030.0Q919.1 1031.5 920.5 1031.6Q921.8 1031.7 922.3 1033.5Q922.7 1035.3 923.6 1035.7Q924.5 1036.2 924.8 1037.9Q925.1 1039.6 925.4 1040.9Q925.7 1042.2 925.7 1042.2Q925.7 1042.2 924.3 1042.5Q923.0 1042.8 921.4 1043.2Q919.7 1043.6 918.9 1043.0Q918.1 1042.4 916.3 1042.7Q914.5 1043.0 913.9 1041.8Q913.2 1040.6 911.6 1040.6Q910.0 1040.6 909.4 1037.9Q908.8 1035.2 909.0 1033.4Q909.3 1031.6 909.3 1031.6Q909.3 1031.6 910.8 1030.7z"/>
<path fill="url(#lm2)" d="M903.3 1069.6Q905.2 1069.8 907.9 1071.1Q910.5 1072.3 910.2 1074.0Q909.8 1075.7 910.9 1076.7Q912.0 1077.6 911.3 1079.5Q910.6 1081.3 911.1 1082.3Q911.5 1083.3 910.7 1084.9Q909.9 1086.6 909.4 1087.9Q908.8 1089.3 908.8 1089.3Q908.8 1089.3 907.5 1088.6Q906.2 1088.0 904.5 1087.3Q902.8 1086.5 902.5 1085.5Q902.2 1084.5 900.5 1083.6Q898.7 1082.6 898.9 1081.2Q899.1 1079.8 897.7 1078.7Q896.3 1077.7 897.5 1075.0Q898.7 1072.2 900.0 1070.8Q901.3 1069.4 901.3 1069.4Q901.3 1069.4 903.3 1069.6z"/>
<path fill="url(#lm0)" d="M955.3 1022.0Q956.3 1020.6 958.6 1018.9Q960.9 1017.2 962.5 1018.0Q964.1 1018.8 965.5 1018.2Q966.9 1017.6 968.5 1018.7Q970.2 1019.8 971.3 1019.7Q972.5 1019.7 973.9 1020.8Q975.3 1021.9 976.4 1022.7Q977.6 1023.5 977.6 1023.5Q977.6 1023.5 976.4 1024.4Q975.2 1025.2 973.9 1026.3Q972.5 1027.4 971.3 1027.3Q970.1 1027.2 968.5 1028.3Q966.9 1029.4 965.5 1028.8Q964.1 1028.2 962.5 1029.0Q960.9 1029.8 958.6 1028.1Q956.2 1026.4 955.3 1024.9Q954.4 1023.5 954.4 1023.5Q954.4 1023.5 955.3 1022.0z"/>
<path fill="url(#lm0)" d="M885.5 1072.4Q886.7 1070.8 889.4 1069.1Q892.1 1067.3 893.6 1068.5Q895.1 1069.7 896.7 1069.2Q898.2 1068.7 899.7 1070.2Q901.2 1071.8 902.4 1071.9Q903.6 1072.0 904.9 1073.5Q906.1 1075.0 907.2 1076.2Q908.2 1077.4 908.2 1077.4Q908.2 1077.4 906.9 1078.3Q905.5 1079.1 903.9 1080.2Q902.3 1081.4 901.1 1081.1Q899.9 1080.9 898.0 1082.0Q896.2 1083.1 894.8 1082.1Q893.5 1081.2 891.7 1081.9Q889.9 1082.6 887.8 1080.2Q885.7 1077.8 885.0 1075.9Q884.3 1074.0 884.3 1074.0Q884.3 1074.0 885.5 1072.4z"/>
<path fill="url(#lm3)" d="M863.7 1130.4Q864.2 1132.0 864.0 1134.9Q863.8 1137.9 862.2 1138.7Q860.6 1139.6 860.2 1141.1Q859.7 1142.5 857.8 1143.2Q856.0 1143.9 855.3 1144.9Q854.6 1145.9 852.9 1146.3Q851.2 1146.8 849.8 1147.3Q848.4 1147.7 848.4 1147.7Q848.4 1147.7 848.5 1146.3Q848.6 1144.8 848.7 1143.0Q848.7 1141.3 849.5 1140.3Q850.3 1139.4 850.5 1137.5Q850.7 1135.5 852.0 1134.7Q853.3 1133.9 853.8 1132.1Q854.2 1130.3 857.0 1129.5Q859.7 1128.6 861.4 1128.7Q863.1 1128.8 863.1 1128.8Q863.1 1128.8 863.7 1130.4z"/>
<path fill="url(#lm0)" d="M861.9 1087.4Q862.3 1089.1 862.0 1091.7Q861.8 1094.3 860.2 1094.5Q858.7 1094.7 858.2 1095.9Q857.8 1097.1 856.0 1097.1Q854.3 1097.0 853.6 1097.7Q852.9 1098.3 851.3 1098.1Q849.7 1097.9 848.4 1097.8Q847.1 1097.7 847.1 1097.7Q847.1 1097.7 847.2 1096.4Q847.4 1095.2 847.5 1093.5Q847.6 1091.9 848.3 1091.4Q849.1 1090.8 849.4 1089.1Q849.6 1087.3 850.9 1087.1Q852.1 1086.8 852.6 1085.4Q853.1 1083.9 855.7 1084.1Q858.3 1084.3 859.9 1085.0Q861.4 1085.8 861.4 1085.8Q861.4 1085.8 861.9 1087.4z"/>
<path fill="url(#lm1)" d="M838.7 1048.4Q838.5 1050.6 837.2 1053.5Q835.8 1056.4 833.9 1056.1Q832.0 1055.7 831.0 1056.9Q830.0 1058.2 827.9 1057.4Q825.9 1056.7 824.8 1057.2Q823.7 1057.7 821.9 1056.8Q820.1 1056.0 818.6 1055.4Q817.1 1054.8 817.1 1054.8Q817.1 1054.8 817.8 1053.4Q818.5 1051.9 819.3 1050.1Q820.1 1048.2 821.2 1047.9Q822.3 1047.5 823.3 1045.6Q824.3 1043.7 825.9 1043.9Q827.5 1044.1 828.6 1042.5Q829.8 1041.0 832.8 1042.2Q835.8 1043.5 837.3 1044.9Q838.9 1046.3 838.9 1046.3Q838.9 1046.3 838.7 1048.4z"/>
<path fill="url(#lm1)" d="M905.5 1039.9Q906.1 1038.3 907.9 1036.4Q909.6 1034.4 911.1 1035.1Q912.5 1035.7 913.6 1035.0Q914.8 1034.3 916.2 1035.3Q917.7 1036.2 918.7 1036.1Q919.7 1035.9 920.9 1036.9Q922.2 1037.9 923.3 1038.6Q924.4 1039.4 924.4 1039.4Q924.4 1039.4 923.5 1040.4Q922.6 1041.3 921.5 1042.6Q920.5 1043.8 919.5 1043.8Q918.5 1043.9 917.3 1045.1Q916.0 1046.4 914.8 1045.9Q913.6 1045.5 912.3 1046.4Q911.0 1047.3 908.9 1045.8Q906.7 1044.3 905.8 1042.9Q904.9 1041.5 904.9 1041.5Q904.9 1041.5 905.5 1039.9z"/>
<path fill="url(#lm3)" d="M905.0 1051.0Q905.9 1049.4 908.4 1047.5Q910.8 1045.7 912.6 1046.5Q914.3 1047.4 915.7 1046.7Q917.2 1046.1 918.9 1047.3Q920.6 1048.5 921.9 1048.4Q923.1 1048.4 924.6 1049.5Q926.0 1050.7 927.3 1051.7Q928.5 1052.6 928.5 1052.6Q928.5 1052.6 927.3 1053.5Q926.0 1054.4 924.6 1055.6Q923.1 1056.8 921.9 1056.7Q920.6 1056.6 918.9 1057.8Q917.2 1059.0 915.7 1058.4Q914.3 1057.8 912.6 1058.6Q910.8 1059.4 908.4 1057.6Q905.9 1055.7 905.0 1054.1Q904.0 1052.6 904.0 1052.6Q904.0 1052.6 905.0 1051.0z"/>
<path fill="url(#lm3)" d="M885.8 1016.0Q887.5 1015.3 890.4 1015.1Q893.4 1014.9 894.1 1016.5Q894.8 1018.1 896.3 1018.4Q897.8 1018.7 898.3 1020.6Q898.8 1022.5 899.8 1023.1Q900.7 1023.8 901.0 1025.5Q901.4 1027.3 901.7 1028.8Q902.0 1030.2 902.0 1030.2Q902.0 1030.2 900.6 1030.3Q899.1 1030.4 897.3 1030.6Q895.5 1030.8 894.6 1030.0Q893.8 1029.3 891.8 1029.4Q889.8 1029.4 889.1 1028.1Q888.4 1026.8 886.6 1026.5Q884.9 1026.3 884.2 1023.4Q883.6 1020.5 883.8 1018.7Q884.1 1016.8 884.1 1016.8Q884.1 1016.8 885.8 1016.0z"/>
<path fill="url(#lm0)" d="M921.3 1063.8Q922.7 1064.2 924.5 1065.6Q926.4 1067.1 926.2 1068.5Q926.0 1070.0 926.7 1071.0Q927.5 1072.0 927.1 1073.5Q926.6 1075.0 926.9 1076.0Q927.2 1076.9 926.7 1078.2Q926.2 1079.6 925.8 1080.7Q925.4 1081.8 925.4 1081.8Q925.4 1081.8 924.5 1081.1Q923.6 1080.4 922.4 1079.5Q921.2 1078.6 921.0 1077.7Q920.8 1076.8 919.5 1075.7Q918.3 1074.7 918.4 1073.4Q918.5 1072.2 917.6 1071.1Q916.6 1070.0 917.4 1067.7Q918.1 1065.5 919.1 1064.4Q920.0 1063.4 920.0 1063.4Q920.0 1063.4 921.3 1063.8z"/>
<path fill="url(#lm2)" d="M924.2 989.3Q925.3 987.8 928.0 986.3Q930.7 984.7 932.3 985.7Q934.0 986.7 935.5 986.3Q937.1 985.8 938.7 987.2Q940.3 988.6 941.6 988.7Q942.8 988.7 944.2 990.1Q945.5 991.5 946.6 992.5Q947.8 993.6 947.8 993.6Q947.8 993.6 946.4 994.3Q945.1 995.1 943.5 996.2Q941.9 997.2 940.6 997.0Q939.4 996.8 937.5 997.8Q935.7 998.8 934.2 998.0Q932.8 997.2 931.0 997.8Q929.2 998.5 926.9 996.3Q924.6 994.2 923.8 992.5Q923.0 990.8 923.0 990.8Q923.0 990.8 924.2 989.3z"/>
<path fill="url(#lm3)" d="M944.6 1051.6Q945.1 1050.2 946.6 1048.5Q948.1 1046.7 949.3 1047.3Q950.6 1047.8 951.5 1047.2Q952.5 1046.5 953.8 1047.4Q955.1 1048.2 955.9 1048.0Q956.7 1047.9 957.9 1048.7Q959.0 1049.6 959.9 1050.3Q960.9 1050.9 960.9 1050.9Q960.9 1050.9 960.1 1051.8Q959.4 1052.6 958.5 1053.8Q957.6 1054.9 956.8 1054.9Q955.9 1055.0 954.9 1056.1Q953.8 1057.2 952.7 1056.8Q951.7 1056.4 950.6 1057.3Q949.5 1058.1 947.6 1056.8Q945.8 1055.5 944.9 1054.2Q944.1 1053.0 944.1 1053.0Q944.1 1053.0 944.6 1051.6z"/>
<path fill="url(#lm2)" d="M840.1 1014.7Q841.5 1015.3 843.2 1017.0Q844.8 1018.6 844.1 1019.8Q843.3 1021.0 843.9 1022.0Q844.5 1023.0 843.4 1024.2Q842.4 1025.4 842.5 1026.2Q842.5 1027.1 841.5 1028.1Q840.4 1029.1 839.6 1029.9Q838.8 1030.8 838.8 1030.8Q838.8 1030.8 838.0 1030.0Q837.2 1029.1 836.1 1028.1Q835.0 1027.1 835.1 1026.3Q835.2 1025.4 834.1 1024.3Q833.0 1023.1 833.6 1022.1Q834.1 1021.1 833.4 1019.9Q832.6 1018.7 834.2 1017.1Q835.9 1015.4 837.3 1014.7Q838.7 1014.0 838.7 1014.0Q838.7 1014.0 840.1 1014.7z"/>
<path fill="url(#lm3)" d="M890.2 1013.6Q891.7 1014.7 893.3 1017.2Q894.9 1019.7 893.9 1021.2Q892.8 1022.7 893.3 1024.2Q893.8 1025.6 892.4 1027.1Q891.0 1028.5 890.9 1029.7Q890.8 1030.9 889.4 1032.1Q888.0 1033.3 887.0 1034.3Q885.9 1035.4 885.9 1035.4Q885.9 1035.4 885.1 1034.1Q884.3 1032.9 883.2 1031.3Q882.2 1029.8 882.4 1028.7Q882.6 1027.5 881.6 1025.8Q880.5 1024.0 881.3 1022.7Q882.2 1021.4 881.5 1019.7Q880.8 1018.0 883.0 1016.0Q885.2 1013.9 886.9 1013.2Q888.6 1012.5 888.6 1012.5Q888.6 1012.5 890.2 1013.6z"/>
<path fill="url(#lm3)" d="M869.8 1133.7Q869.2 1135.3 867.5 1137.2Q865.8 1139.1 864.4 1138.4Q863.1 1137.7 862.0 1138.4Q860.9 1139.1 859.5 1138.1Q858.1 1137.1 857.2 1137.3Q856.2 1137.4 855.0 1136.4Q853.8 1135.4 852.8 1134.7Q851.8 1133.9 851.8 1133.9Q851.8 1133.9 852.6 1133.0Q853.5 1132.0 854.5 1130.8Q855.5 1129.6 856.5 1129.6Q857.4 1129.5 858.6 1128.3Q859.8 1127.1 861.0 1127.6Q862.2 1128.0 863.4 1127.1Q864.6 1126.2 866.7 1127.8Q868.7 1129.4 869.6 1130.8Q870.5 1132.2 870.5 1132.2Q870.5 1132.2 869.8 1133.7z"/>
<path fill="url(#lm0)" d="M862.7 1140.9Q863.6 1142.2 864.3 1144.6Q865.0 1147.1 863.7 1147.9Q862.4 1148.8 862.5 1150.0Q862.5 1151.3 860.9 1152.0Q859.3 1152.7 859.0 1153.6Q858.6 1154.5 857.1 1155.0Q855.6 1155.5 854.5 1156.0Q853.3 1156.4 853.3 1156.4Q853.3 1156.4 853.0 1155.2Q852.6 1154.0 852.2 1152.5Q851.7 1151.0 852.2 1150.2Q852.6 1149.4 852.3 1147.7Q851.9 1146.0 852.9 1145.3Q853.9 1144.5 853.8 1143.0Q853.7 1141.4 856.1 1140.5Q858.5 1139.6 860.1 1139.6Q861.7 1139.5 861.7 1139.5Q861.7 1139.5 862.7 1140.9z"/>
<path fill="url(#lm0)" d="M960.9 1019.5Q962.1 1019.7 963.8 1020.9Q965.6 1022.0 965.5 1023.3Q965.5 1024.6 966.2 1025.4Q967.0 1026.2 966.7 1027.6Q966.4 1029.0 966.8 1029.7Q967.2 1030.5 966.8 1031.7Q966.5 1033.0 966.3 1034.0Q966.1 1035.0 966.1 1035.0Q966.1 1035.0 965.2 1034.4Q964.3 1033.8 963.3 1033.2Q962.2 1032.5 961.9 1031.7Q961.6 1030.9 960.5 1030.1Q959.3 1029.3 959.3 1028.2Q959.3 1027.1 958.3 1026.2Q957.4 1025.3 957.9 1023.3Q958.3 1021.2 959.0 1020.2Q959.7 1019.2 959.7 1019.2Q959.7 1019.2 960.9 1019.5z"/>
<path fill="url(#lm1)" d="M939.9 1047.6Q941.0 1047.1 942.9 1046.9Q944.9 1046.7 945.6 1047.7Q946.3 1048.7 947.4 1048.8Q948.4 1049.0 949.0 1050.2Q949.6 1051.4 950.3 1051.7Q951.0 1052.1 951.5 1053.2Q952.0 1054.3 952.4 1055.2Q952.8 1056.1 952.8 1056.1Q952.8 1056.1 951.8 1056.2Q950.8 1056.3 949.6 1056.5Q948.4 1056.6 947.8 1056.2Q947.1 1055.7 945.8 1055.8Q944.4 1055.9 943.8 1055.1Q943.1 1054.3 941.9 1054.2Q940.7 1054.1 939.9 1052.3Q939.0 1050.5 939.0 1049.3Q938.9 1048.1 938.9 1048.1Q938.9 1048.1 939.9 1047.6z"/>
<path fill="url(#lm0)" d="M822.2 1021.1Q822.3 1022.5 821.7 1024.7Q821.0 1026.9 819.6 1027.1Q818.3 1027.3 817.7 1028.3Q817.1 1029.3 815.5 1029.3Q814.0 1029.3 813.3 1029.8Q812.6 1030.4 811.2 1030.3Q809.8 1030.1 808.7 1030.1Q807.5 1030.0 807.5 1030.0Q807.5 1030.0 807.8 1029.0Q808.2 1027.9 808.5 1026.5Q808.9 1025.2 809.6 1024.7Q810.4 1024.2 810.9 1022.7Q811.4 1021.3 812.5 1021.1Q813.7 1020.8 814.3 1019.6Q815.0 1018.3 817.2 1018.5Q819.5 1018.6 820.8 1019.1Q822.1 1019.7 822.1 1019.7Q822.1 1019.7 822.2 1021.1z"/>
<path fill="url(#lm2)" d="M858.5 1023.8Q859.9 1025.3 861.1 1028.2Q862.4 1031.1 860.9 1032.2Q859.4 1033.3 859.6 1034.8Q859.8 1036.4 858.0 1037.3Q856.1 1038.3 855.8 1039.4Q855.4 1040.5 853.6 1041.2Q851.8 1042.0 850.4 1042.7Q849.0 1043.3 849.0 1043.3Q849.0 1043.3 848.4 1041.9Q847.8 1040.5 846.9 1038.7Q846.1 1036.9 846.6 1035.9Q847.1 1034.9 846.3 1032.9Q845.5 1030.9 846.7 1029.9Q847.9 1028.9 847.5 1027.1Q847.2 1025.3 850.0 1024.0Q852.9 1022.6 855.0 1022.5Q857.0 1022.3 857.0 1022.3Q857.0 1022.3 858.5 1023.8z"/>
<path fill="url(#lm2)" d="M899.5 1115.6Q900.6 1114.3 902.8 1112.8Q905.1 1111.3 906.4 1112.4Q907.7 1113.4 909.0 1113.0Q910.3 1112.6 911.6 1113.9Q912.8 1115.3 913.8 1115.4Q914.8 1115.5 915.9 1116.8Q916.9 1118.1 917.8 1119.2Q918.6 1120.2 918.6 1120.2Q918.6 1120.2 917.5 1120.9Q916.4 1121.6 915.0 1122.6Q913.6 1123.5 912.6 1123.3Q911.6 1123.1 910.0 1124.0Q908.4 1124.9 907.3 1124.1Q906.2 1123.3 904.6 1123.9Q903.1 1124.5 901.3 1122.4Q899.6 1120.3 899.0 1118.7Q898.5 1117.0 898.5 1117.0Q898.5 1117.0 899.5 1115.6z"/>
<path fill="url(#lm3)" d="M915.2 1047.9Q916.6 1048.8 918.3 1051.0Q919.9 1053.2 919.1 1054.6Q918.2 1056.1 918.8 1057.4Q919.3 1058.7 918.2 1060.2Q917.0 1061.6 917.0 1062.7Q917.0 1063.8 915.8 1065.0Q914.7 1066.2 913.8 1067.3Q912.9 1068.3 912.9 1068.3Q912.9 1068.3 912.1 1067.2Q911.2 1066.1 910.2 1064.8Q909.1 1063.5 909.2 1062.4Q909.3 1061.3 908.3 1059.8Q907.2 1058.2 907.8 1057.0Q908.5 1055.7 907.7 1054.2Q907.0 1052.7 908.8 1050.6Q910.7 1048.5 912.2 1047.7Q913.7 1046.9 913.7 1046.9Q913.7 1046.9 915.2 1047.9z"/>
<path fill="url(#lm1)" d="M817.4 1039.8Q816.6 1040.8 814.8 1041.8Q813.1 1042.8 812.1 1042.0Q811.2 1041.3 810.2 1041.6Q809.2 1041.8 808.2 1040.8Q807.3 1039.9 806.5 1039.8Q805.8 1039.7 805.0 1038.7Q804.2 1037.8 803.5 1037.0Q802.9 1036.3 802.9 1036.3Q802.9 1036.3 803.7 1035.8Q804.6 1035.3 805.7 1034.6Q806.7 1034.0 807.5 1034.1Q808.2 1034.3 809.4 1033.7Q810.6 1033.1 811.5 1033.6Q812.3 1034.2 813.5 1033.8Q814.7 1033.4 816.0 1035.0Q817.3 1036.5 817.7 1037.7Q818.2 1038.8 818.2 1038.8Q818.2 1038.8 817.4 1039.8z"/>
<path fill="url(#lm2)" d="M926.2 1049.0Q927.7 1048.1 930.6 1047.5Q933.5 1047.0 934.6 1048.4Q935.6 1049.9 937.2 1050.0Q938.7 1050.0 939.6 1051.8Q940.5 1053.5 941.6 1054.0Q942.7 1054.5 943.4 1056.1Q944.1 1057.7 944.8 1059.0Q945.4 1060.3 945.4 1060.3Q945.4 1060.3 944.0 1060.6Q942.6 1060.9 940.8 1061.3Q939.1 1061.7 938.1 1061.1Q937.0 1060.5 935.1 1060.8Q933.1 1061.1 932.2 1059.9Q931.2 1058.8 929.4 1058.8Q927.6 1058.8 926.3 1056.1Q925.0 1053.5 924.9 1051.7Q924.7 1050.0 924.7 1050.0Q924.7 1050.0 926.2 1049.0z"/>
<path fill="url(#lm3)" d="M837.9 1044.8Q839.5 1046.1 841.0 1049.0Q842.6 1051.8 841.4 1053.3Q840.2 1054.9 840.6 1056.5Q841.0 1058.1 839.4 1059.6Q837.8 1061.1 837.7 1062.3Q837.5 1063.6 836.0 1064.8Q834.4 1066.1 833.2 1067.1Q832.0 1068.2 832.0 1068.2Q832.0 1068.2 831.3 1066.8Q830.5 1065.4 829.5 1063.7Q828.5 1062.0 828.8 1060.8Q829.1 1059.5 828.1 1057.6Q827.1 1055.6 828.0 1054.3Q829.0 1052.9 828.4 1051.0Q827.8 1049.1 830.2 1047.0Q832.7 1044.9 834.5 1044.2Q836.4 1043.6 836.4 1043.6Q836.4 1043.6 837.9 1044.8z"/>
<path fill="url(#lm2)" d="M921.9 1051.5Q923.7 1050.6 926.8 1050.2Q930.0 1049.9 931.0 1051.6Q931.9 1053.3 933.5 1053.5Q935.2 1053.8 935.9 1055.8Q936.7 1057.8 937.7 1058.4Q938.8 1059.0 939.4 1060.9Q939.9 1062.7 940.4 1064.2Q940.9 1065.7 940.9 1065.7Q940.9 1065.7 939.4 1065.9Q937.8 1066.1 935.9 1066.3Q933.9 1066.6 932.9 1065.9Q931.9 1065.1 929.8 1065.3Q927.6 1065.4 926.8 1064.1Q925.9 1062.7 923.9 1062.5Q922.0 1062.3 921.0 1059.3Q920.0 1056.3 920.1 1054.3Q920.2 1052.4 920.2 1052.4Q920.2 1052.4 921.9 1051.5z"/>
<path fill="url(#lm1)" d="M922.0 1130.2Q923.3 1129.3 925.9 1128.5Q928.6 1127.7 929.8 1128.9Q931.1 1130.1 932.5 1130.0Q934.0 1129.9 935.2 1131.4Q936.3 1132.8 937.4 1133.1Q938.5 1133.4 939.5 1134.8Q940.4 1136.2 941.2 1137.3Q942.1 1138.4 942.1 1138.4Q942.1 1138.4 940.7 1138.7Q939.4 1139.1 937.8 1139.6Q936.2 1140.2 935.2 1139.7Q934.1 1139.3 932.3 1139.8Q930.5 1140.2 929.4 1139.3Q928.3 1138.4 926.6 1138.5Q924.9 1138.7 923.2 1136.5Q921.6 1134.3 921.2 1132.8Q920.8 1131.2 920.8 1131.2Q920.8 1131.2 922.0 1130.2z"/>
<path fill="url(#lm2)" d="M912.6 1088.1Q913.8 1087.6 916.0 1087.5Q918.2 1087.5 918.7 1088.7Q919.2 1089.9 920.2 1090.2Q921.3 1090.4 921.6 1091.9Q921.9 1093.3 922.6 1093.8Q923.3 1094.3 923.4 1095.6Q923.6 1097.0 923.8 1098.0Q924.0 1099.1 924.0 1099.1Q924.0 1099.1 922.9 1099.1Q921.8 1099.1 920.5 1099.2Q919.1 1099.3 918.5 1098.7Q917.9 1098.2 916.5 1098.2Q915.0 1098.1 914.5 1097.1Q914.1 1096.1 912.8 1095.9Q911.5 1095.7 911.1 1093.5Q910.7 1091.4 911.0 1090.0Q911.3 1088.6 911.3 1088.6Q911.3 1088.6 912.6 1088.1z"/>
<path fill="url(#lm3)" d="M947.7 1050.3Q949.8 1050.1 952.8 1050.9Q955.9 1051.7 955.9 1053.6Q955.8 1055.5 957.2 1056.3Q958.5 1057.1 958.1 1059.2Q957.7 1061.3 958.4 1062.2Q959.0 1063.1 958.5 1065.0Q958.0 1066.9 957.7 1068.5Q957.3 1070.0 957.3 1070.0Q957.3 1070.0 955.8 1069.6Q954.3 1069.2 952.4 1068.7Q950.5 1068.3 950.0 1067.2Q949.5 1066.2 947.4 1065.6Q945.4 1064.9 945.3 1063.4Q945.3 1061.8 943.6 1060.9Q941.9 1060.1 942.6 1057.0Q943.4 1053.9 944.5 1052.2Q945.6 1050.4 945.6 1050.4Q945.6 1050.4 947.7 1050.3z"/>
<path fill="url(#lm1)" d="M819.3 1059.8Q818.6 1061.4 816.7 1063.5Q814.7 1065.6 813.1 1065.0Q811.4 1064.4 810.2 1065.2Q808.9 1066.0 807.2 1065.1Q805.5 1064.2 804.4 1064.4Q803.3 1064.6 801.9 1063.7Q800.4 1062.7 799.1 1062.0Q797.9 1061.3 797.9 1061.3Q797.9 1061.3 798.9 1060.3Q799.9 1059.3 801.0 1058.0Q802.2 1056.6 803.3 1056.5Q804.4 1056.4 805.8 1055.1Q807.2 1053.7 808.6 1054.1Q810.0 1054.6 811.4 1053.5Q812.8 1052.5 815.3 1054.0Q817.7 1055.4 818.8 1056.8Q819.9 1058.1 819.9 1058.1Q819.9 1058.1 819.3 1059.8z"/>
<path fill="url(#lm2)" d="M929.3 1118.9Q930.0 1116.8 932.1 1114.2Q934.3 1111.6 936.2 1112.4Q938.1 1113.2 939.4 1112.2Q940.8 1111.2 942.7 1112.4Q944.7 1113.6 945.9 1113.4Q947.1 1113.1 948.8 1114.4Q950.5 1115.6 951.9 1116.6Q953.3 1117.5 953.3 1117.5Q953.3 1117.5 952.2 1118.8Q951.1 1120.1 949.8 1121.7Q948.5 1123.4 947.3 1123.5Q946.0 1123.5 944.5 1125.2Q943.0 1126.9 941.4 1126.4Q939.8 1125.8 938.2 1127.1Q936.6 1128.3 933.8 1126.4Q931.0 1124.5 929.8 1122.7Q928.5 1120.9 928.5 1120.9Q928.5 1120.9 929.3 1118.9z"/>
<path fill="url(#lm2)" d="M892.1 1080.6Q891.9 1081.8 890.9 1083.6Q889.8 1085.4 888.5 1085.3Q887.2 1085.2 886.5 1086.0Q885.7 1086.8 884.3 1086.4Q882.9 1086.1 882.2 1086.5Q881.4 1086.9 880.2 1086.5Q879.0 1086.1 878.0 1085.9Q877.0 1085.6 877.0 1085.6Q877.0 1085.6 877.5 1084.7Q878.1 1083.8 878.7 1082.7Q879.3 1081.6 880.1 1081.3Q880.9 1081.0 881.6 1079.9Q882.4 1078.7 883.5 1078.7Q884.6 1078.7 885.4 1077.7Q886.3 1076.8 888.3 1077.3Q890.3 1077.9 891.3 1078.6Q892.3 1079.3 892.3 1079.3Q892.3 1079.3 892.1 1080.6z"/>
<path fill="url(#lm1)" d="M941.2 1103.7Q942.7 1103.0 945.3 1102.7Q948.0 1102.5 948.7 1104.0Q949.5 1105.4 950.8 1105.6Q952.1 1105.8 952.7 1107.5Q953.3 1109.2 954.1 1109.7Q955.0 1110.3 955.4 1111.8Q955.8 1113.4 956.2 1114.7Q956.6 1115.9 956.6 1115.9Q956.6 1115.9 955.3 1116.0Q954.0 1116.1 952.4 1116.3Q950.8 1116.5 949.9 1115.9Q949.1 1115.2 947.4 1115.3Q945.6 1115.4 944.9 1114.2Q944.2 1113.1 942.6 1112.9Q941.0 1112.7 940.2 1110.2Q939.5 1107.6 939.6 1106.0Q939.8 1104.4 939.8 1104.4Q939.8 1104.4 941.2 1103.7z"/>
<path fill="url(#lm0)" d="M922.1 1056.4Q923.7 1056.3 926.0 1057.0Q928.4 1057.8 928.5 1059.3Q928.6 1060.8 929.7 1061.4Q930.7 1062.1 930.5 1063.7Q930.4 1065.4 930.9 1066.2Q931.5 1066.9 931.2 1068.5Q930.9 1070.0 930.7 1071.2Q930.5 1072.4 930.5 1072.4Q930.5 1072.4 929.4 1072.1Q928.2 1071.7 926.7 1071.3Q925.2 1070.9 924.7 1070.1Q924.3 1069.3 922.7 1068.7Q921.1 1068.2 921.0 1066.9Q920.8 1065.7 919.5 1065.0Q918.2 1064.2 918.6 1061.8Q918.9 1059.3 919.7 1057.9Q920.5 1056.6 920.5 1056.6Q920.5 1056.6 922.1 1056.4z"/>
<path fill="url(#lm3)" d="M890.1 1001.6Q891.0 1000.6 892.9 999.6Q894.8 998.6 895.9 999.4Q897.0 1000.2 898.1 999.9Q899.2 999.6 900.3 1000.6Q901.4 1001.6 902.3 1001.7Q903.1 1001.8 904.0 1002.8Q904.9 1003.8 905.7 1004.5Q906.5 1005.3 906.5 1005.3Q906.5 1005.3 905.5 1005.8Q904.5 1006.2 903.4 1006.9Q902.2 1007.5 901.4 1007.3Q900.5 1007.2 899.2 1007.8Q897.8 1008.4 896.9 1007.8Q895.9 1007.2 894.6 1007.6Q893.3 1008.0 891.8 1006.4Q890.3 1004.9 889.8 1003.7Q889.3 1002.5 889.3 1002.5Q889.3 1002.5 890.1 1001.6z"/>
<path fill="url(#lm3)" d="M955.3 1020.9Q956.8 1021.8 958.5 1024.0Q960.2 1026.2 959.4 1027.7Q958.6 1029.2 959.2 1030.5Q959.8 1031.8 958.6 1033.3Q957.5 1034.9 957.5 1035.9Q957.6 1037.0 956.5 1038.3Q955.3 1039.6 954.4 1040.7Q953.6 1041.8 953.6 1041.8Q953.6 1041.8 952.7 1040.7Q951.9 1039.6 950.8 1038.2Q949.7 1036.9 949.7 1035.8Q949.8 1034.8 948.7 1033.2Q947.6 1031.7 948.2 1030.4Q948.8 1029.1 948.1 1027.6Q947.3 1026.0 949.1 1023.9Q950.9 1021.7 952.4 1020.9Q953.9 1020.0 953.9 1020.0Q953.9 1020.0 955.3 1020.9z"/>
<path fill="url(#lm0)" d="M919.8 1130.1Q921.7 1129.5 924.8 1129.7Q927.8 1130.0 928.2 1131.7Q928.5 1133.5 930.0 1134.0Q931.4 1134.5 931.5 1136.6Q931.6 1138.6 932.4 1139.4Q933.2 1140.1 933.1 1142.0Q933.1 1143.9 933.1 1145.4Q933.1 1146.9 933.1 1146.9Q933.1 1146.9 931.6 1146.8Q930.1 1146.7 928.2 1146.6Q926.3 1146.5 925.6 1145.6Q924.9 1144.8 922.9 1144.5Q920.9 1144.3 920.5 1142.8Q920.1 1141.4 918.3 1140.9Q916.6 1140.4 916.6 1137.3Q916.6 1134.3 917.3 1132.5Q917.9 1130.6 917.9 1130.6Q917.9 1130.6 919.8 1130.1z"/>
<path fill="url(#lm0)" d="M889.3 1105.6Q890.2 1107.5 890.3 1110.9Q890.5 1114.2 888.6 1114.9Q886.7 1115.6 886.4 1117.3Q886.0 1118.9 883.8 1119.4Q881.7 1119.8 880.9 1120.9Q880.2 1121.9 878.2 1122.1Q876.1 1122.4 874.5 1122.7Q872.9 1123.0 872.9 1123.0Q872.9 1123.0 872.8 1121.4Q872.8 1119.7 872.6 1117.7Q872.4 1115.6 873.3 1114.7Q874.1 1113.8 874.1 1111.5Q874.1 1109.3 875.6 1108.6Q877.2 1107.9 877.5 1105.9Q877.8 1103.9 881.1 1103.4Q884.3 1102.8 886.4 1103.2Q888.5 1103.6 888.5 1103.6Q888.5 1103.6 889.3 1105.6z"/>
<path fill="url(#lm1)" d="M883.9 1005.4Q885.5 1006.3 887.5 1008.4Q889.5 1010.6 888.8 1012.2Q888.0 1013.8 888.7 1015.1Q889.4 1016.5 888.3 1018.1Q887.1 1019.7 887.3 1020.8Q887.4 1022.0 886.3 1023.4Q885.1 1024.8 884.2 1026.0Q883.4 1027.1 883.4 1027.1Q883.4 1027.1 882.4 1026.1Q881.4 1025.0 880.1 1023.7Q878.8 1022.4 878.9 1021.3Q878.9 1020.1 877.6 1018.6Q876.3 1017.1 876.9 1015.7Q877.4 1014.3 876.5 1012.8Q875.6 1011.3 877.3 1008.9Q879.1 1006.6 880.7 1005.6Q882.2 1004.6 882.2 1004.6Q882.2 1004.6 883.9 1005.4z"/>
<path fill="url(#lm3)" d="M856.3 1137.4Q857.7 1138.1 859.4 1140.1Q861.0 1142.0 860.3 1143.5Q859.6 1144.9 860.2 1146.1Q860.8 1147.3 859.8 1148.7Q858.8 1150.1 858.9 1151.1Q859.0 1152.1 858.0 1153.4Q857.0 1154.6 856.3 1155.6Q855.5 1156.7 855.5 1156.7Q855.5 1156.7 854.7 1155.7Q853.9 1154.7 852.8 1153.5Q851.7 1152.4 851.8 1151.4Q851.8 1150.4 850.7 1149.0Q849.7 1147.6 850.2 1146.4Q850.7 1145.2 849.9 1143.8Q849.1 1142.4 850.7 1140.3Q852.2 1138.3 853.6 1137.4Q854.9 1136.6 854.9 1136.6Q854.9 1136.6 856.3 1137.4z"/>
<path fill="url(#lm1)" d="M886.4 1024.4Q888.2 1025.5 890.4 1028.1Q892.5 1030.7 891.3 1032.3Q890.2 1033.9 890.9 1035.4Q891.5 1037.0 890.0 1038.6Q888.4 1040.2 888.4 1041.4Q888.4 1042.6 886.8 1044.0Q885.3 1045.4 884.1 1046.5Q882.8 1047.6 882.8 1047.6Q882.8 1047.6 881.8 1046.3Q880.8 1045.0 879.4 1043.5Q878.0 1041.9 878.2 1040.7Q878.4 1039.5 877.0 1037.7Q875.7 1035.9 876.5 1034.5Q877.4 1033.1 876.5 1031.3Q875.6 1029.5 878.0 1027.2Q880.5 1024.9 882.5 1024.1Q884.5 1023.3 884.5 1023.3Q884.5 1023.3 886.4 1024.4z"/>
<path fill="url(#lm1)" d="M931.8 985.5Q933.3 985.2 935.7 985.6Q938.0 986.0 938.2 987.4Q938.5 988.8 939.6 989.3Q940.7 989.8 940.6 991.4Q940.6 993.0 941.2 993.6Q941.9 994.3 941.7 995.7Q941.6 997.2 941.6 998.4Q941.5 999.6 941.5 999.6Q941.5 999.6 940.4 999.4Q939.2 999.2 937.7 999.0Q936.3 998.8 935.8 998.1Q935.2 997.4 933.7 997.1Q932.1 996.7 931.8 995.6Q931.6 994.4 930.2 993.9Q928.9 993.4 929.0 991.0Q929.1 988.6 929.7 987.2Q930.3 985.8 930.3 985.8Q930.3 985.8 931.8 985.5z"/>
<path fill="url(#lm3)" d="M854.1 1035.0Q853.3 1036.2 851.2 1037.5Q849.1 1038.8 847.7 1038.1Q846.4 1037.3 845.2 1037.7Q843.9 1038.2 842.6 1037.2Q841.2 1036.2 840.2 1036.2Q839.2 1036.2 838.1 1035.2Q836.9 1034.2 836.0 1033.5Q835.0 1032.8 835.0 1032.8Q835.0 1032.8 836.1 1032.1Q837.1 1031.5 838.3 1030.6Q839.6 1029.8 840.6 1029.9Q841.6 1030.0 843.0 1029.2Q844.5 1028.4 845.7 1028.9Q846.8 1029.5 848.3 1028.9Q849.7 1028.3 851.6 1029.9Q853.5 1031.4 854.3 1032.6Q855.0 1033.9 855.0 1033.9Q855.0 1033.9 854.1 1035.0z"/>
<path fill="url(#lm1)" d="M911.5 1027.8Q913.2 1028.6 915.4 1030.7Q917.6 1032.8 917.0 1034.6Q916.3 1036.4 917.2 1037.7Q918.0 1039.1 917.0 1040.9Q916.0 1042.7 916.2 1043.9Q916.5 1045.1 915.4 1046.7Q914.4 1048.2 913.6 1049.5Q912.9 1050.9 912.9 1050.9Q912.9 1050.9 911.8 1049.8Q910.7 1048.7 909.3 1047.4Q907.9 1046.2 907.9 1045.0Q907.8 1043.8 906.3 1042.3Q904.9 1040.8 905.4 1039.2Q905.8 1037.7 904.8 1036.2Q903.7 1034.6 905.3 1032.0Q906.8 1029.4 908.3 1028.2Q909.8 1027.1 909.8 1027.1Q909.8 1027.1 911.5 1027.8z"/>
<path fill="url(#lm1)" d="M892.5 1145.7Q892.2 1147.7 890.6 1150.5Q889.0 1153.3 887.1 1153.0Q885.2 1152.6 884.0 1153.8Q882.9 1155.0 880.8 1154.3Q878.8 1153.5 877.7 1154.0Q876.5 1154.5 874.7 1153.7Q872.9 1152.9 871.4 1152.3Q869.9 1151.7 869.9 1151.7Q869.9 1151.7 870.7 1150.3Q871.5 1148.9 872.4 1147.1Q873.3 1145.4 874.5 1145.0Q875.7 1144.7 876.8 1142.8Q878.0 1141.0 879.6 1141.2Q881.2 1141.4 882.5 1139.9Q883.8 1138.4 886.8 1139.6Q889.8 1140.8 891.3 1142.2Q892.8 1143.6 892.8 1143.6Q892.8 1143.6 892.5 1145.7z"/>
<path fill="url(#lm3)" d="M903.8 1019.7Q905.4 1019.9 907.6 1021.1Q909.7 1022.3 909.4 1023.7Q909.1 1025.1 910.0 1025.9Q910.9 1026.8 910.2 1028.3Q909.6 1029.8 909.9 1030.7Q910.3 1031.5 909.6 1032.9Q908.9 1034.2 908.4 1035.3Q907.9 1036.4 907.9 1036.4Q907.9 1036.4 906.8 1035.9Q905.8 1035.3 904.4 1034.6Q903.0 1033.9 902.8 1033.1Q902.6 1032.2 901.2 1031.3Q899.7 1030.5 899.9 1029.3Q900.1 1028.1 899.0 1027.2Q897.9 1026.2 898.9 1024.0Q900.0 1021.7 901.1 1020.6Q902.2 1019.5 902.2 1019.5Q902.2 1019.5 903.8 1019.7z"/>
<path fill="url(#lm1)" d="M881.4 1145.6Q881.4 1147.4 880.5 1150.0Q879.6 1152.6 878.0 1152.4Q876.3 1152.2 875.6 1153.4Q874.8 1154.5 873.0 1154.0Q871.2 1153.5 870.4 1154.0Q869.5 1154.5 867.9 1153.9Q866.3 1153.3 865.0 1152.9Q863.7 1152.5 863.7 1152.5Q863.7 1152.5 864.2 1151.2Q864.6 1149.9 865.2 1148.3Q865.7 1146.7 866.6 1146.3Q867.5 1145.9 868.2 1144.2Q868.9 1142.5 870.2 1142.6Q871.6 1142.6 872.4 1141.2Q873.3 1139.8 875.9 1140.7Q878.5 1141.5 879.9 1142.6Q881.4 1143.8 881.4 1143.8Q881.4 1143.8 881.4 1145.6z"/>
<path fill="url(#lm2)" d="M933.0 1039.4Q934.2 1038.3 936.7 1037.5Q939.2 1036.6 940.4 1037.8Q941.5 1039.0 942.8 1038.9Q944.2 1038.8 945.2 1040.3Q946.2 1041.8 947.2 1042.1Q948.2 1042.4 949.0 1043.8Q949.8 1045.2 950.5 1046.3Q951.2 1047.4 951.2 1047.4Q951.2 1047.4 950.0 1047.8Q948.7 1048.2 947.2 1048.8Q945.7 1049.4 944.7 1049.0Q943.8 1048.6 942.0 1049.1Q940.3 1049.6 939.3 1048.6Q938.4 1047.7 936.7 1047.9Q935.1 1048.1 933.7 1045.9Q932.3 1043.6 932.0 1042.0Q931.7 1040.4 931.7 1040.4Q931.7 1040.4 933.0 1039.4z"/>
<path fill="url(#lm0)" d="M902.1 1130.6Q902.6 1129.1 904.0 1127.3Q905.5 1125.5 906.8 1126.0Q908.0 1126.6 908.9 1125.9Q909.9 1125.3 911.2 1126.1Q912.5 1127.0 913.3 1126.8Q914.1 1126.7 915.2 1127.6Q916.4 1128.5 917.3 1129.2Q918.3 1129.8 918.3 1129.8Q918.3 1129.8 917.5 1130.7Q916.8 1131.6 915.9 1132.8Q915.1 1134.0 914.2 1134.0Q913.4 1134.1 912.4 1135.3Q911.4 1136.5 910.3 1136.1Q909.2 1135.6 908.2 1136.5Q907.1 1137.4 905.2 1136.0Q903.3 1134.6 902.5 1133.3Q901.6 1132.1 901.6 1132.1Q901.6 1132.1 902.1 1130.6z"/>
<path fill="url(#lm3)" d="M872.9 1095.5Q873.4 1097.2 873.2 1099.9Q873.0 1102.5 871.5 1102.9Q869.9 1103.2 869.5 1104.4Q869.1 1105.7 867.3 1105.8Q865.5 1105.9 864.8 1106.6Q864.2 1107.3 862.5 1107.3Q860.9 1107.2 859.5 1107.2Q858.2 1107.3 858.2 1107.3Q858.2 1107.3 858.3 1105.9Q858.4 1104.6 858.5 1103.0Q858.5 1101.3 859.3 1100.7Q860.0 1100.1 860.2 1098.3Q860.4 1096.5 861.7 1096.2Q863.0 1095.8 863.4 1094.3Q863.8 1092.7 866.5 1092.7Q869.2 1092.7 870.8 1093.3Q872.4 1093.9 872.4 1093.9Q872.4 1093.9 872.9 1095.5z"/>
<path fill="url(#lm3)" d="M864.1 1047.9Q863.5 1048.9 861.9 1050.1Q860.4 1051.3 859.2 1050.9Q858.1 1050.4 857.1 1050.8Q856.2 1051.2 855.1 1050.6Q853.9 1049.9 853.1 1049.9Q852.3 1050.0 851.3 1049.3Q850.3 1048.6 849.5 1048.1Q848.7 1047.6 848.7 1047.6Q848.7 1047.6 849.5 1047.0Q850.3 1046.4 851.2 1045.7Q852.1 1044.9 852.9 1044.9Q853.7 1044.9 854.8 1044.1Q855.9 1043.4 856.9 1043.7Q857.8 1044.1 858.9 1043.5Q860.0 1043.0 861.7 1044.0Q863.3 1045.1 864.0 1046.0Q864.7 1047.0 864.7 1047.0Q864.7 1047.0 864.1 1047.9z"/>
<path fill="url(#lm0)" d="M871.9 1047.1Q872.1 1048.8 871.3 1051.5Q870.5 1054.2 868.8 1054.6Q867.1 1054.9 866.3 1056.2Q865.6 1057.5 863.7 1057.6Q861.8 1057.7 860.9 1058.5Q860.1 1059.2 858.3 1059.2Q856.6 1059.2 855.2 1059.2Q853.8 1059.2 853.8 1059.2Q853.8 1059.2 854.2 1057.9Q854.6 1056.6 855.0 1054.9Q855.4 1053.2 856.4 1052.6Q857.3 1051.9 857.9 1050.1Q858.5 1048.3 859.9 1047.9Q861.4 1047.5 862.2 1046.0Q863.0 1044.4 865.8 1044.3Q868.6 1044.3 870.2 1044.9Q871.8 1045.4 871.8 1045.4Q871.8 1045.4 871.9 1047.1z"/>
<path fill="url(#lm2)" d="M892.5 1089.4Q893.3 1090.7 893.9 1093.1Q894.5 1095.5 893.2 1096.3Q892.0 1097.1 892.0 1098.4Q892.0 1099.6 890.5 1100.3Q889.0 1101.0 888.6 1101.8Q888.2 1102.7 886.8 1103.2Q885.4 1103.7 884.3 1104.2Q883.2 1104.7 883.2 1104.7Q883.2 1104.7 882.9 1103.5Q882.6 1102.3 882.2 1100.9Q881.8 1099.4 882.3 1098.6Q882.8 1097.8 882.5 1096.2Q882.2 1094.6 883.2 1093.8Q884.1 1093.1 884.1 1091.6Q884.0 1090.1 886.3 1089.2Q888.6 1088.3 890.1 1088.2Q891.6 1088.2 891.6 1088.2Q891.6 1088.2 892.5 1089.4z"/>
<path fill="url(#lm0)" d="M917.4 1001.3Q919.1 1001.7 921.5 1003.4Q923.8 1005.0 923.6 1006.8Q923.4 1008.5 924.4 1009.6Q925.4 1010.8 924.9 1012.6Q924.3 1014.5 924.8 1015.6Q925.2 1016.6 924.6 1018.3Q924.0 1020.0 923.6 1021.3Q923.2 1022.7 923.2 1022.7Q923.2 1022.7 922.0 1021.9Q920.8 1021.1 919.3 1020.1Q917.9 1019.2 917.6 1018.0Q917.2 1016.9 915.7 1015.8Q914.1 1014.6 914.2 1013.1Q914.3 1011.6 913.1 1010.3Q911.8 1009.1 912.7 1006.3Q913.6 1003.6 914.7 1002.3Q915.8 1000.9 915.8 1000.9Q915.8 1000.9 917.4 1001.3z"/>
<path fill="url(#lm2)" d="M896.5 1005.5Q896.5 1007.2 895.6 1009.8Q894.6 1012.3 893.0 1012.5Q891.3 1012.6 890.5 1013.7Q889.7 1014.9 887.8 1014.7Q886.0 1014.6 885.1 1015.2Q884.2 1015.8 882.6 1015.5Q880.9 1015.3 879.6 1015.1Q878.2 1015.0 878.2 1015.0Q878.2 1015.0 878.7 1013.7Q879.2 1012.4 879.7 1010.8Q880.2 1009.2 881.2 1008.7Q882.1 1008.2 882.8 1006.5Q883.5 1004.8 884.9 1004.6Q886.3 1004.4 887.2 1003.0Q888.1 1001.6 890.8 1001.9Q893.5 1002.2 895.0 1003.0Q896.4 1003.8 896.4 1003.8Q896.4 1003.8 896.5 1005.5z"/>
<path d="M946.3 1122.8L965.4 1126.7M936.0 994.8L949.2 1003.8M936.2 1043.6L958.2 1045.9M902.0 1092.7L903.3 1111.5M892.9 1130.0L875.5 1129.9M896.6 1044.4L897.2 1060.6M938.5 1103.2L950.6 1122.5M947.9 1043.9L968.5 1045.8M906.6 1096.2L926.7 1102.7M926.2 1111.0L942.0 1127.9M922.3 987.5L942.2 994.2M884.4 1143.6L868.6 1156.5M835.0 1009.2L830.1 1032.7M929.7 1116.2L940.9 1130.1M868.5 1033.2L864.5 1047.8M957.5 1026.8L966.6 1042.3M861.8 1078.3L854.7 1100.6M896.6 1045.8L909.5 1066.3M808.6 1060.5L793.7 1075.0M954.0 1055.4L962.6 1073.2M925.3 1027.9L935.1 1040.1M938.9 1125.2L943.0 1144.0M834.4 1104.1L830.7 1127.8M925.2 1029.5L947.0 1035.4M909.3 1031.6L924.9 1041.7M901.3 1069.4L908.4 1088.3M954.4 1023.5L976.4 1023.5M884.3 1074.0L907.0 1077.3M863.1 1128.8L849.2 1146.8M861.4 1085.8L847.8 1097.1M838.9 1046.3L818.2 1054.4M904.9 1041.5L923.4 1039.5M904.0 1052.6L927.3 1052.6M884.1 1016.8L901.1 1029.5M920.0 1063.4L925.2 1080.9M923.0 990.8L946.5 993.4M944.1 1053.0L960.0 1051.0M838.7 1014.0L838.8 1030.0M888.6 1012.5L886.0 1034.2M870.5 1132.2L852.7 1133.8M861.7 1139.5L853.7 1155.6M959.7 1019.2L965.7 1034.2M938.9 1048.1L952.1 1055.7M822.1 1019.7L808.3 1029.5M857.0 1022.3L849.4 1042.3M898.5 1117.0L917.6 1120.0M913.7 1046.9L912.9 1067.2M818.2 1038.8L803.6 1036.4M924.7 1050.0L944.4 1059.8M836.4 1043.6L832.2 1067.0M920.2 1052.4L939.9 1065.1M920.8 1131.2L941.0 1138.0M911.3 1088.6L923.4 1098.6M945.6 1050.4L956.8 1069.0M819.9 1058.1L799.0 1061.2M928.5 1120.9L952.0 1117.7M892.3 1079.3L877.7 1085.3M939.8 1104.4L955.8 1115.3M920.5 1056.6L930.0 1071.6M889.3 1002.5L905.6 1005.1M953.9 1020.0L953.6 1040.7M917.9 1130.6L932.3 1146.1M888.5 1103.6L873.7 1122.0M882.2 1004.6L883.3 1026.0M854.9 1136.6L855.5 1155.7M884.5 1023.3L882.9 1046.4M930.3 985.8L941.0 998.9M855.0 1033.9L836.0 1032.8M909.8 1027.1L912.7 1049.7M892.8 1143.6L871.0 1151.3M902.2 1019.5L907.6 1035.6M881.4 1143.8L864.6 1152.1M931.7 1040.4L950.3 1047.1M901.6 1132.1L917.4 1130.0M872.4 1093.9L858.9 1106.6M864.7 1047.0L849.5 1047.6M871.8 1045.4L854.7 1058.6M891.6 1088.2L883.6 1103.9M915.8 1000.9L922.8 1021.6M896.4 1003.8L879.1 1014.4" stroke="#7cc05c" stroke-width=".6" opacity=".55" fill="none"/>
<ellipse cx="893" cy="1045" rx="30" ry="22" fill="url(#shd)" opacity="0.6"/>
<ellipse cx="905" cy="1100" rx="32" ry="26" fill="url(#shd)" opacity="0.5"/>
<ellipse cx="860" cy="1050" rx="22" ry="12" fill="url(#shd)" opacity="0.35"/>
<ellipse cx="935" cy="1060" rx="20" ry="12" fill="url(#shd)" opacity="0.35"/>
<path fill="url(#ll1)" d="M883.8 1121.2Q883.0 1122.2 881.3 1123.3Q879.5 1124.4 878.5 1123.6Q877.4 1122.9 876.4 1123.2Q875.4 1123.5 874.4 1122.6Q873.4 1121.6 872.6 1121.6Q871.8 1121.5 870.9 1120.6Q870.1 1119.6 869.4 1118.9Q868.7 1118.2 868.7 1118.2Q868.7 1118.2 869.5 1117.6Q870.4 1117.1 871.5 1116.4Q872.5 1115.7 873.3 1115.9Q874.1 1116.0 875.3 1115.3Q876.5 1114.7 877.4 1115.2Q878.3 1115.8 879.5 1115.3Q880.7 1114.9 882.2 1116.4Q883.6 1117.9 884.1 1119.0Q884.6 1120.2 884.6 1120.2Q884.6 1120.2 883.8 1121.2z"/>
<path fill="url(#ll1)" d="M882.8 1075.0Q883.6 1076.1 884.1 1078.1Q884.6 1080.2 883.6 1081.1Q882.7 1082.1 882.7 1083.2Q882.7 1084.3 881.6 1085.2Q880.4 1086.1 880.1 1086.9Q879.8 1087.7 878.7 1088.4Q877.6 1089.1 876.7 1089.7Q875.9 1090.3 875.9 1090.3Q875.9 1090.3 875.6 1089.3Q875.4 1088.3 875.0 1087.0Q874.6 1085.7 875.0 1084.9Q875.3 1084.1 875.0 1082.7Q874.7 1081.3 875.5 1080.5Q876.3 1079.6 876.2 1078.3Q876.1 1077.0 877.9 1075.8Q879.6 1074.6 880.9 1074.3Q882.1 1074.0 882.1 1074.0Q882.1 1074.0 882.8 1075.0z"/>
<path fill="url(#ll3)" d="M820.8 1042.3Q820.9 1043.3 820.6 1044.8Q820.2 1046.2 819.3 1046.3Q818.4 1046.3 818.0 1047.0Q817.6 1047.6 816.6 1047.5Q815.6 1047.4 815.1 1047.7Q814.7 1048.0 813.8 1047.8Q812.8 1047.6 812.1 1047.5Q811.3 1047.4 811.3 1047.4Q811.3 1047.4 811.5 1046.7Q811.7 1045.9 811.9 1045.0Q812.1 1044.1 812.6 1043.8Q813.1 1043.6 813.4 1042.6Q813.7 1041.6 814.5 1041.5Q815.2 1041.4 815.6 1040.6Q816.0 1039.8 817.5 1040.1Q819.0 1040.3 819.9 1040.8Q820.7 1041.3 820.7 1041.3Q820.7 1041.3 820.8 1042.3z"/>
<path fill="url(#ll2)" d="M884.3 1094.8Q885.0 1093.3 886.9 1091.4Q888.8 1089.5 890.3 1090.2Q891.7 1090.9 892.9 1090.2Q894.1 1089.5 895.6 1090.5Q897.1 1091.6 898.1 1091.4Q899.1 1091.3 900.4 1092.4Q901.7 1093.4 902.7 1094.2Q903.8 1095.0 903.8 1095.0Q903.8 1095.0 902.9 1095.9Q901.9 1096.9 900.8 1098.1Q899.6 1099.3 898.6 1099.3Q897.6 1099.3 896.3 1100.5Q894.9 1101.8 893.7 1101.2Q892.4 1100.7 891.1 1101.6Q889.7 1102.5 887.5 1100.9Q885.4 1099.3 884.5 1097.8Q883.6 1096.4 883.6 1096.4Q883.6 1096.4 884.3 1094.8z"/>
<path fill="url(#ll2)" d="M884.8 1083.9Q885.5 1082.6 887.1 1081.1Q888.7 1079.5 889.9 1080.2Q891.1 1080.9 892.0 1080.3Q893.0 1079.8 894.2 1080.7Q895.4 1081.7 896.2 1081.6Q897.0 1081.5 898.1 1082.4Q899.1 1083.4 899.9 1084.1Q900.8 1084.8 900.8 1084.8Q900.8 1084.8 900.0 1085.6Q899.1 1086.3 898.2 1087.3Q897.2 1088.3 896.4 1088.3Q895.5 1088.2 894.4 1089.2Q893.3 1090.2 892.3 1089.7Q891.3 1089.2 890.1 1089.9Q889.0 1090.6 887.3 1089.2Q885.6 1087.7 884.9 1086.4Q884.2 1085.2 884.2 1085.2Q884.2 1085.2 884.8 1083.9z"/>
<path fill="url(#ll3)" d="M911.8 1026.0Q912.6 1026.2 913.7 1027.0Q914.9 1027.9 914.7 1028.7Q914.6 1029.6 915.0 1030.2Q915.5 1030.7 915.2 1031.6Q914.9 1032.5 915.1 1033.1Q915.3 1033.6 914.9 1034.4Q914.6 1035.2 914.3 1035.9Q914.1 1036.5 914.1 1036.5Q914.1 1036.5 913.5 1036.1Q913.0 1035.7 912.2 1035.2Q911.5 1034.7 911.4 1034.1Q911.3 1033.6 910.5 1033.0Q909.8 1032.4 909.9 1031.7Q910.0 1030.9 909.4 1030.3Q908.8 1029.6 909.3 1028.3Q909.8 1027.0 910.4 1026.4Q910.9 1025.7 910.9 1025.7Q910.9 1025.7 911.8 1026.0z"/>
<path fill="url(#ll3)" d="M957.5 1037.9Q958.9 1038.0 961.0 1039.0Q963.0 1040.1 962.8 1041.4Q962.7 1042.8 963.5 1043.6Q964.4 1044.3 963.9 1045.8Q963.5 1047.3 963.8 1048.1Q964.2 1048.8 963.7 1050.2Q963.2 1051.5 962.8 1052.5Q962.4 1053.6 962.4 1053.6Q962.4 1053.6 961.4 1053.1Q960.4 1052.6 959.1 1052.0Q957.8 1051.4 957.6 1050.6Q957.3 1049.8 955.9 1049.0Q954.6 1048.3 954.7 1047.1Q954.8 1046.0 953.7 1045.1Q952.6 1044.3 953.4 1042.1Q954.2 1039.9 955.1 1038.8Q956.0 1037.7 956.0 1037.7Q956.0 1037.7 957.5 1037.9z"/>
<path fill="url(#ll2)" d="M859.2 1036.6Q860.0 1037.6 860.7 1039.7Q861.3 1041.8 860.4 1042.8Q859.5 1043.8 859.5 1044.9Q859.6 1046.1 858.4 1047.0Q857.3 1047.9 857.0 1048.8Q856.8 1049.6 855.7 1050.4Q854.6 1051.1 853.7 1051.8Q852.8 1052.4 852.8 1052.4Q852.8 1052.4 852.5 1051.4Q852.1 1050.3 851.7 1049.1Q851.2 1047.8 851.5 1047.0Q851.9 1046.1 851.5 1044.7Q851.1 1043.3 851.8 1042.4Q852.6 1041.5 852.4 1040.1Q852.2 1038.8 854.0 1037.5Q855.8 1036.2 857.1 1035.9Q858.3 1035.6 858.3 1035.6Q858.3 1035.6 859.2 1036.6z"/>
<path fill="url(#ll3)" d="M939.9 1045.2Q940.5 1044.5 941.7 1043.8Q942.9 1043.1 943.6 1043.6Q944.4 1044.0 945.1 1043.8Q945.8 1043.6 946.5 1044.2Q947.2 1044.9 947.8 1044.9Q948.4 1044.9 949.0 1045.6Q949.6 1046.2 950.1 1046.7Q950.6 1047.1 950.6 1047.1Q950.6 1047.1 950.0 1047.5Q949.4 1047.9 948.7 1048.3Q947.9 1048.8 947.4 1048.7Q946.8 1048.6 946.0 1049.0Q945.1 1049.5 944.5 1049.1Q943.8 1048.8 943.0 1049.1Q942.2 1049.4 941.2 1048.4Q940.1 1047.4 939.8 1046.6Q939.4 1045.9 939.4 1045.9Q939.4 1045.9 939.9 1045.2z"/>
<path fill="url(#ll3)" d="M912.4 1129.7Q913.4 1129.9 915.0 1130.8Q916.5 1131.7 916.5 1132.8Q916.5 1133.9 917.1 1134.5Q917.8 1135.2 917.6 1136.4Q917.4 1137.6 917.7 1138.2Q918.1 1138.8 917.8 1139.9Q917.6 1141.0 917.4 1141.8Q917.2 1142.7 917.2 1142.7Q917.2 1142.7 916.5 1142.2Q915.7 1141.8 914.7 1141.3Q913.8 1140.8 913.5 1140.1Q913.3 1139.4 912.2 1138.8Q911.2 1138.1 911.2 1137.2Q911.2 1136.3 910.3 1135.5Q909.5 1134.8 909.8 1133.1Q910.2 1131.3 910.8 1130.5Q911.3 1129.6 911.3 1129.6Q911.3 1129.6 912.4 1129.7z"/>
<path fill="url(#ll0)" d="M921.3 1035.5Q922.4 1034.9 924.6 1034.7Q926.8 1034.5 927.6 1035.6Q928.3 1036.7 929.5 1036.9Q930.6 1037.0 931.2 1038.4Q931.9 1039.7 932.7 1040.1Q933.5 1040.5 933.9 1041.8Q934.4 1043.1 934.9 1044.1Q935.3 1045.1 935.3 1045.1Q935.3 1045.1 934.2 1045.2Q933.1 1045.3 931.8 1045.5Q930.5 1045.7 929.7 1045.2Q929.0 1044.7 927.5 1044.8Q926.0 1044.9 925.3 1044.0Q924.6 1043.0 923.3 1042.9Q921.9 1042.8 921.0 1040.8Q920.2 1038.8 920.1 1037.5Q920.1 1036.1 920.1 1036.1Q920.1 1036.1 921.3 1035.5z"/>
<path fill="url(#ll1)" d="M874.3 1155.4Q874.2 1156.7 873.1 1158.7Q872.1 1160.7 870.8 1160.6Q869.4 1160.5 868.6 1161.3Q867.9 1162.2 866.4 1161.8Q864.9 1161.5 864.2 1161.9Q863.4 1162.3 862.1 1161.8Q860.8 1161.4 859.7 1161.1Q858.6 1160.8 858.6 1160.8Q858.6 1160.8 859.2 1159.8Q859.7 1158.9 860.3 1157.6Q860.8 1156.4 861.7 1156.1Q862.5 1155.8 863.2 1154.5Q864.0 1153.1 865.1 1153.2Q866.2 1153.2 867.1 1152.1Q867.9 1151.1 870.1 1151.7Q872.2 1152.3 873.3 1153.1Q874.5 1154.0 874.5 1154.0Q874.5 1154.0 874.3 1155.4z"/>
<path fill="url(#ll0)" d="M828.6 1022.0Q829.3 1022.7 830.0 1024.0Q830.7 1025.4 830.1 1026.1Q829.4 1026.8 829.6 1027.6Q829.8 1028.3 829.0 1029.0Q828.2 1029.7 828.1 1030.3Q828.0 1030.8 827.3 1031.4Q826.5 1031.9 825.9 1032.4Q825.3 1032.9 825.3 1032.9Q825.3 1032.9 825.0 1032.2Q824.6 1031.5 824.2 1030.7Q823.7 1029.9 823.9 1029.3Q824.0 1028.7 823.6 1027.8Q823.2 1026.9 823.7 1026.2Q824.1 1025.6 823.9 1024.7Q823.6 1023.8 824.9 1022.9Q826.1 1022.0 827.0 1021.7Q827.9 1021.4 827.9 1021.4Q827.9 1021.4 828.6 1022.0z"/>
<path fill="url(#ll1)" d="M930.2 1060.7Q931.1 1059.9 932.9 1059.3Q934.7 1058.7 935.5 1059.5Q936.3 1060.4 937.2 1060.3Q938.2 1060.2 938.9 1061.3Q939.6 1062.4 940.3 1062.6Q941.1 1062.8 941.6 1063.8Q942.2 1064.8 942.7 1065.6Q943.2 1066.4 943.2 1066.4Q943.2 1066.4 942.3 1066.7Q941.4 1067.0 940.3 1067.4Q939.2 1067.8 938.6 1067.5Q937.9 1067.2 936.7 1067.6Q935.4 1068.0 934.7 1067.3Q934.0 1066.6 932.9 1066.8Q931.7 1066.9 930.7 1065.3Q929.8 1063.7 929.5 1062.5Q929.3 1061.4 929.3 1061.4Q929.3 1061.4 930.2 1060.7z"/>
<path fill="url(#ll0)" d="M912.6 1112.4Q913.6 1112.5 915.1 1113.2Q916.5 1114.0 916.4 1114.9Q916.2 1115.9 916.8 1116.4Q917.4 1117.0 917.0 1118.0Q916.7 1119.0 916.9 1119.6Q917.2 1120.1 916.8 1121.1Q916.4 1122.0 916.1 1122.7Q915.8 1123.5 915.8 1123.5Q915.8 1123.5 915.0 1123.1Q914.3 1122.7 913.4 1122.3Q912.5 1121.9 912.3 1121.3Q912.2 1120.7 911.2 1120.2Q910.3 1119.6 910.4 1118.8Q910.5 1118.0 909.7 1117.4Q908.9 1116.8 909.5 1115.3Q910.2 1113.8 910.9 1113.0Q911.6 1112.2 911.6 1112.2Q911.6 1112.2 912.6 1112.4z"/>
<path fill="url(#ll3)" d="M907.6 1137.4Q909.2 1137.9 911.2 1139.3Q913.1 1140.8 912.6 1142.1Q912.0 1143.4 912.7 1144.4Q913.5 1145.3 912.6 1146.7Q911.7 1148.1 911.9 1148.9Q912.1 1149.8 911.1 1151.0Q910.2 1152.2 909.5 1153.2Q908.8 1154.2 908.8 1154.2Q908.8 1154.2 907.9 1153.5Q906.9 1152.7 905.6 1151.9Q904.4 1151.0 904.3 1150.1Q904.2 1149.3 902.9 1148.2Q901.7 1147.2 902.1 1146.1Q902.5 1144.9 901.5 1143.9Q900.6 1142.8 902.0 1140.8Q903.4 1138.8 904.8 1137.9Q906.1 1136.9 906.1 1136.9Q906.1 1136.9 907.6 1137.4z"/>
<path fill="url(#ll0)" d="M925.0 1118.8Q925.5 1117.9 926.8 1116.9Q928.0 1115.8 928.8 1116.4Q929.6 1116.9 930.3 1116.6Q931.0 1116.2 931.8 1117.0Q932.6 1117.8 933.2 1117.8Q933.7 1117.8 934.4 1118.5Q935.1 1119.3 935.6 1119.9Q936.2 1120.5 936.2 1120.5Q936.2 1120.5 935.5 1121.0Q934.9 1121.5 934.2 1122.2Q933.4 1122.8 932.9 1122.8Q932.3 1122.7 931.4 1123.4Q930.5 1124.0 929.9 1123.6Q929.2 1123.2 928.3 1123.6Q927.5 1124.1 926.4 1122.9Q925.3 1121.7 924.9 1120.7Q924.5 1119.8 924.5 1119.8Q924.5 1119.8 925.0 1118.8z"/>
<path fill="url(#ll1)" d="M885.1 1122.2Q885.8 1123.0 886.5 1124.6Q887.2 1126.1 886.4 1126.8Q885.7 1127.4 885.8 1128.3Q885.9 1129.1 884.9 1129.7Q883.9 1130.3 883.8 1130.9Q883.6 1131.5 882.6 1131.9Q881.7 1132.4 881.0 1132.8Q880.2 1133.2 880.2 1133.2Q880.2 1133.2 879.9 1132.4Q879.5 1131.7 879.1 1130.7Q878.6 1129.8 878.9 1129.2Q879.1 1128.6 878.7 1127.5Q878.3 1126.5 878.9 1125.9Q879.5 1125.3 879.3 1124.3Q879.1 1123.3 880.6 1122.5Q882.1 1121.7 883.2 1121.6Q884.3 1121.4 884.3 1121.4Q884.3 1121.4 885.1 1122.2z"/>
<path fill="url(#ll0)" d="M834.8 1106.1Q835.2 1106.9 835.3 1108.3Q835.5 1109.7 834.7 1110.2Q834.0 1110.7 833.9 1111.4Q833.8 1112.2 832.9 1112.6Q832.0 1113.0 831.8 1113.5Q831.5 1114.0 830.7 1114.3Q829.9 1114.6 829.2 1114.9Q828.6 1115.2 828.6 1115.2Q828.6 1115.2 828.5 1114.5Q828.5 1113.8 828.4 1112.9Q828.3 1112.1 828.6 1111.6Q828.9 1111.1 828.8 1110.2Q828.8 1109.2 829.4 1108.7Q830.0 1108.3 830.1 1107.4Q830.1 1106.5 831.4 1106.0Q832.7 1105.4 833.6 1105.4Q834.4 1105.4 834.4 1105.4Q834.4 1105.4 834.8 1106.1z"/>
<path fill="url(#ll2)" d="M942.5 1139.3Q943.1 1138.6 944.6 1137.9Q946.1 1137.1 946.9 1137.7Q947.8 1138.2 948.6 1138.0Q949.5 1137.8 950.3 1138.6Q951.2 1139.3 951.9 1139.3Q952.5 1139.4 953.2 1140.1Q953.9 1140.8 954.5 1141.4Q955.1 1141.9 955.1 1141.9Q955.1 1141.9 954.4 1142.3Q953.7 1142.7 952.8 1143.1Q951.9 1143.6 951.3 1143.5Q950.6 1143.4 949.6 1143.8Q948.6 1144.3 947.8 1143.9Q947.1 1143.4 946.1 1143.7Q945.1 1144.0 943.9 1142.9Q942.7 1141.8 942.3 1140.9Q941.9 1140.0 941.9 1140.0Q941.9 1140.0 942.5 1139.3z"/>
<path fill="url(#ll3)" d="M932.7 1075.6Q933.7 1074.8 935.8 1074.3Q937.8 1073.8 938.6 1074.9Q939.3 1075.9 940.4 1075.9Q941.5 1075.9 942.1 1077.2Q942.7 1078.4 943.5 1078.7Q944.2 1079.1 944.7 1080.2Q945.2 1081.4 945.7 1082.4Q946.1 1083.3 946.1 1083.3Q946.1 1083.3 945.1 1083.5Q944.1 1083.8 942.9 1084.1Q941.6 1084.5 940.9 1084.1Q940.2 1083.7 938.8 1084.0Q937.4 1084.2 936.8 1083.4Q936.1 1082.6 934.8 1082.6Q933.5 1082.7 932.7 1080.8Q931.8 1078.9 931.7 1077.6Q931.6 1076.3 931.6 1076.3Q931.6 1076.3 932.7 1075.6z"/>
<path fill="url(#ll3)" d="M881.6 1031.0Q882.9 1030.0 885.3 1029.3Q887.7 1028.6 888.5 1029.8Q889.4 1031.0 890.7 1031.0Q891.9 1030.9 892.7 1032.5Q893.4 1034.0 894.3 1034.3Q895.2 1034.7 895.8 1036.1Q896.3 1037.5 896.9 1038.7Q897.4 1039.8 897.4 1039.8Q897.4 1039.8 896.2 1040.2Q895.0 1040.5 893.5 1041.0Q892.0 1041.5 891.2 1041.1Q890.4 1040.6 888.7 1041.0Q887.1 1041.4 886.3 1040.5Q885.5 1039.5 884.0 1039.6Q882.5 1039.8 881.5 1037.5Q880.5 1035.2 880.4 1033.6Q880.3 1032.0 880.3 1032.0Q880.3 1032.0 881.6 1031.0z"/>
<path fill="url(#ll2)" d="M954.4 1115.5Q955.7 1116.1 957.4 1117.7Q959.0 1119.4 958.5 1120.7Q957.9 1122.1 958.5 1123.1Q959.1 1124.2 958.3 1125.5Q957.5 1126.9 957.6 1127.8Q957.7 1128.7 956.9 1129.8Q956.0 1131.0 955.4 1132.0Q954.7 1133.0 954.7 1133.0Q954.7 1133.0 953.9 1132.1Q953.1 1131.3 952.1 1130.3Q951.0 1129.3 951.0 1128.4Q951.0 1127.5 949.9 1126.3Q948.8 1125.1 949.2 1124.0Q949.6 1122.8 948.8 1121.6Q948.1 1120.4 949.4 1118.5Q950.7 1116.5 951.9 1115.7Q953.1 1114.9 953.1 1114.9Q953.1 1114.9 954.4 1115.5z"/>
<path fill="url(#ll3)" d="M845.3 1030.4Q844.9 1031.4 843.9 1032.5Q842.9 1033.7 842.1 1033.2Q841.3 1032.8 840.6 1033.2Q840.0 1033.7 839.2 1033.0Q838.3 1032.4 837.8 1032.5Q837.2 1032.6 836.5 1032.0Q835.8 1031.4 835.2 1030.9Q834.6 1030.4 834.6 1030.4Q834.6 1030.4 835.1 1029.8Q835.6 1029.3 836.2 1028.6Q836.8 1027.8 837.4 1027.8Q837.9 1027.8 838.7 1027.1Q839.4 1026.3 840.1 1026.6Q840.8 1026.9 841.5 1026.4Q842.2 1025.8 843.4 1026.8Q844.6 1027.8 845.1 1028.6Q845.6 1029.5 845.6 1029.5Q845.6 1029.5 845.3 1030.4z"/>
<path fill="url(#ll0)" d="M929.3 978.4Q930.7 978.7 932.5 979.9Q934.3 981.2 933.8 982.4Q933.3 983.6 934.0 984.4Q934.7 985.2 933.9 986.4Q933.2 987.7 933.4 988.4Q933.6 989.2 932.8 990.3Q932.0 991.4 931.4 992.3Q930.8 993.2 930.8 993.2Q930.8 993.2 929.9 992.5Q929.1 991.9 927.9 991.2Q926.8 990.5 926.7 989.7Q926.6 989.0 925.4 988.1Q924.2 987.2 924.6 986.2Q924.9 985.2 924.0 984.3Q923.1 983.3 924.4 981.5Q925.6 979.7 926.7 978.9Q927.9 978.0 927.9 978.0Q927.9 978.0 929.3 978.4z"/>
<path fill="url(#ll2)" d="M889.8 1081.4Q890.0 1082.5 889.4 1084.4Q888.9 1086.2 887.8 1086.6Q886.6 1086.9 886.1 1087.8Q885.7 1088.7 884.4 1088.8Q883.1 1089.0 882.5 1089.5Q881.9 1090.1 880.8 1090.1Q879.6 1090.2 878.6 1090.3Q877.7 1090.4 877.7 1090.4Q877.7 1090.4 878.0 1089.5Q878.2 1088.6 878.5 1087.4Q878.8 1086.3 879.4 1085.8Q880.0 1085.4 880.4 1084.1Q880.8 1082.9 881.8 1082.6Q882.7 1082.2 883.3 1081.2Q883.8 1080.1 885.7 1079.9Q887.6 1079.7 888.7 1080.0Q889.7 1080.3 889.7 1080.3Q889.7 1080.3 889.8 1081.4z"/>
<path fill="url(#ll0)" d="M839.1 1027.4Q838.7 1028.6 837.6 1030.1Q836.5 1031.6 835.5 1031.2Q834.5 1030.7 833.8 1031.3Q833.1 1031.9 832.0 1031.2Q831.0 1030.5 830.3 1030.7Q829.7 1030.8 828.8 1030.1Q827.8 1029.4 827.1 1028.9Q826.3 1028.3 826.3 1028.3Q826.3 1028.3 826.9 1027.6Q827.4 1026.9 828.1 1025.9Q828.7 1024.9 829.4 1024.9Q830.0 1024.8 830.8 1023.8Q831.6 1022.8 832.4 1023.1Q833.3 1023.5 834.1 1022.7Q834.9 1022.0 836.5 1023.1Q838.0 1024.1 838.7 1025.2Q839.4 1026.2 839.4 1026.2Q839.4 1026.2 839.1 1027.4z"/>
<path fill="url(#ll1)" d="M936.3 1069.4Q938.1 1069.0 940.8 1069.3Q943.5 1069.7 943.6 1071.3Q943.7 1072.9 944.9 1073.4Q946.1 1073.9 946.0 1075.7Q945.8 1077.5 946.4 1078.2Q947.1 1079.0 946.8 1080.6Q946.5 1082.3 946.3 1083.6Q946.2 1084.9 946.2 1084.9Q946.2 1084.9 944.8 1084.8Q943.5 1084.6 941.8 1084.4Q940.2 1084.2 939.6 1083.4Q939.1 1082.6 937.3 1082.3Q935.5 1082.0 935.4 1080.7Q935.2 1079.4 933.7 1078.9Q932.2 1078.3 932.5 1075.6Q932.9 1073.0 933.7 1071.4Q934.6 1069.8 934.6 1069.8Q934.6 1069.8 936.3 1069.4z"/>
<path fill="url(#ll3)" d="M939.1 1135.6Q940.2 1134.9 942.2 1134.4Q944.2 1133.8 944.8 1134.9Q945.5 1135.9 946.6 1135.9Q947.6 1135.9 948.2 1137.2Q948.7 1138.5 949.5 1138.8Q950.2 1139.1 950.6 1140.3Q951.0 1141.5 951.4 1142.4Q951.8 1143.4 951.8 1143.4Q951.8 1143.4 950.8 1143.6Q949.8 1143.9 948.6 1144.3Q947.4 1144.6 946.7 1144.2Q946.0 1143.8 944.7 1144.1Q943.3 1144.4 942.7 1143.6Q942.1 1142.8 940.8 1142.8Q939.6 1142.9 938.8 1141.0Q938.0 1139.1 938.0 1137.7Q938.0 1136.4 938.0 1136.4Q938.0 1136.4 939.1 1135.6z"/>
<path fill="url(#ll0)" d="M940.7 1125.6Q941.7 1124.1 943.9 1122.5Q946.1 1120.9 947.3 1122.0Q948.5 1123.0 949.8 1122.5Q951.0 1122.1 952.2 1123.5Q953.4 1124.9 954.4 1125.0Q955.3 1125.1 956.3 1126.5Q957.3 1127.8 958.1 1128.9Q958.9 1130.0 958.9 1130.0Q958.9 1130.0 957.8 1130.8Q956.7 1131.6 955.4 1132.6Q954.0 1133.7 953.1 1133.5Q952.1 1133.2 950.6 1134.3Q949.1 1135.3 948.0 1134.5Q946.9 1133.7 945.5 1134.3Q944.0 1135.0 942.3 1132.8Q940.7 1130.6 940.2 1128.9Q939.6 1127.1 939.6 1127.1Q939.6 1127.1 940.7 1125.6z"/>
<path fill="url(#ll1)" d="M929.9 991.7Q931.0 991.3 932.9 991.4Q934.8 991.5 935.3 992.6Q935.7 993.7 936.6 993.9Q937.5 994.2 937.8 995.5Q938.1 996.7 938.7 997.2Q939.3 997.6 939.5 998.8Q939.7 999.9 939.8 1000.8Q940.0 1001.8 940.0 1001.8Q940.0 1001.8 939.1 1001.7Q938.1 1001.7 937.0 1001.6Q935.8 1001.6 935.3 1001.1Q934.8 1000.6 933.5 1000.5Q932.2 1000.4 931.8 999.5Q931.4 998.6 930.3 998.3Q929.1 998.0 928.8 996.2Q928.4 994.3 928.6 993.2Q928.8 992.0 928.8 992.0Q928.8 992.0 929.9 991.7z"/>
<path fill="url(#ll3)" d="M859.3 1125.3Q858.4 1126.6 856.5 1128.0Q854.6 1129.5 853.5 1128.6Q852.3 1127.7 851.2 1128.1Q850.1 1128.6 849.0 1127.4Q847.9 1126.2 847.1 1126.1Q846.2 1126.1 845.3 1124.9Q844.4 1123.7 843.6 1122.8Q842.8 1121.9 842.8 1121.9Q842.8 1121.9 843.8 1121.2Q844.7 1120.5 845.9 1119.5Q847.1 1118.6 847.9 1118.8Q848.8 1118.9 850.1 1118.0Q851.5 1117.1 852.4 1117.8Q853.4 1118.5 854.7 1117.9Q856.0 1117.3 857.6 1119.1Q859.1 1121.0 859.6 1122.5Q860.2 1123.9 860.2 1123.9Q860.2 1123.9 859.3 1125.3z"/>
<path fill="url(#ll0)" d="M931.8 1069.2Q932.8 1069.8 933.9 1071.2Q935.1 1072.6 934.6 1073.6Q934.1 1074.6 934.5 1075.5Q934.9 1076.3 934.1 1077.3Q933.4 1078.3 933.5 1079.1Q933.5 1079.8 932.8 1080.6Q932.0 1081.5 931.5 1082.2Q930.9 1082.9 930.9 1082.9Q930.9 1082.9 930.3 1082.2Q929.8 1081.5 929.0 1080.7Q928.2 1079.8 928.3 1079.1Q928.3 1078.4 927.6 1077.4Q926.8 1076.4 927.2 1075.5Q927.6 1074.7 927.1 1073.7Q926.5 1072.7 927.7 1071.2Q928.8 1069.8 929.8 1069.2Q930.8 1068.6 930.8 1068.6Q930.8 1068.6 931.8 1069.2z"/>
<path fill="url(#ll2)" d="M959.5 1022.3Q960.6 1022.2 962.4 1022.7Q964.2 1023.2 964.3 1024.4Q964.4 1025.5 965.2 1025.9Q966.1 1026.4 966.0 1027.7Q966.0 1028.9 966.4 1029.5Q966.8 1030.0 966.7 1031.2Q966.6 1032.3 966.5 1033.2Q966.5 1034.1 966.5 1034.1Q966.5 1034.1 965.6 1033.8Q964.7 1033.6 963.6 1033.3Q962.5 1033.0 962.1 1032.4Q961.8 1031.8 960.6 1031.4Q959.4 1031.1 959.2 1030.1Q959.1 1029.2 958.1 1028.7Q957.1 1028.2 957.2 1026.3Q957.4 1024.5 957.9 1023.5Q958.3 1022.4 958.3 1022.4Q958.3 1022.4 959.5 1022.3z"/>
<path fill="url(#ll0)" d="M927.8 1052.2Q929.2 1052.3 931.3 1053.3Q933.3 1054.2 933.1 1055.6Q932.9 1056.9 933.7 1057.6Q934.5 1058.3 934.1 1059.8Q933.6 1061.2 933.9 1062.0Q934.3 1062.7 933.8 1064.0Q933.2 1065.3 932.8 1066.3Q932.5 1067.3 932.5 1067.3Q932.5 1067.3 931.5 1066.9Q930.5 1066.4 929.2 1065.8Q927.9 1065.2 927.7 1064.5Q927.4 1063.7 926.1 1063.0Q924.8 1062.2 924.9 1061.1Q925.0 1060.0 923.9 1059.2Q922.9 1058.4 923.7 1056.3Q924.5 1054.2 925.4 1053.1Q926.4 1052.0 926.4 1052.0Q926.4 1052.0 927.8 1052.2z"/>
<path fill="url(#ll3)" d="M910.0 1112.2Q911.2 1111.9 913.0 1112.0Q914.9 1112.0 915.3 1113.1Q915.6 1114.2 916.6 1114.5Q917.5 1114.8 917.7 1116.1Q917.9 1117.3 918.4 1117.8Q919.0 1118.2 919.1 1119.4Q919.2 1120.6 919.3 1121.5Q919.4 1122.4 919.4 1122.4Q919.4 1122.4 918.5 1122.4Q917.6 1122.3 916.4 1122.3Q915.2 1122.3 914.7 1121.7Q914.3 1121.2 913.0 1121.1Q911.7 1121.0 911.4 1120.1Q911.0 1119.2 909.9 1118.9Q908.8 1118.6 908.6 1116.8Q908.3 1114.9 908.6 1113.7Q908.9 1112.6 908.9 1112.6Q908.9 1112.6 910.0 1112.2z"/>
<path fill="url(#ll0)" d="M874.4 1039.7Q874.4 1041.0 873.6 1042.8Q872.8 1044.7 871.6 1044.7Q870.4 1044.7 869.8 1045.5Q869.2 1046.3 867.8 1046.1Q866.5 1045.9 865.8 1046.3Q865.1 1046.7 863.9 1046.4Q862.7 1046.1 861.7 1046.0Q860.8 1045.8 860.8 1045.8Q860.8 1045.8 861.1 1044.8Q861.5 1043.9 862.0 1042.8Q862.4 1041.6 863.1 1041.3Q863.8 1040.9 864.4 1039.7Q865.0 1038.5 866.0 1038.4Q867.0 1038.4 867.7 1037.3Q868.4 1036.3 870.3 1036.7Q872.3 1037.1 873.4 1037.8Q874.4 1038.5 874.4 1038.5Q874.4 1038.5 874.4 1039.7z"/>
<path fill="url(#ll1)" d="M892.2 1096.9Q891.7 1097.6 890.4 1098.3Q889.2 1099.0 888.4 1098.5Q887.6 1098.1 886.9 1098.3Q886.2 1098.5 885.4 1097.9Q884.6 1097.3 884.0 1097.3Q883.4 1097.2 882.8 1096.6Q882.1 1096.1 881.6 1095.6Q881.0 1095.2 881.0 1095.2Q881.0 1095.2 881.7 1094.8Q882.3 1094.5 883.0 1094.0Q883.8 1093.6 884.4 1093.7Q885.0 1093.7 885.8 1093.3Q886.7 1092.9 887.4 1093.2Q888.1 1093.6 888.9 1093.3Q889.8 1093.0 890.9 1093.9Q892.0 1094.8 892.4 1095.6Q892.8 1096.3 892.8 1096.3Q892.8 1096.3 892.2 1096.9z"/>
<path fill="url(#ll1)" d="M865.7 1098.6Q866.6 1100.1 867.0 1102.7Q867.5 1105.3 866.1 1106.2Q864.7 1107.0 864.6 1108.3Q864.5 1109.7 862.8 1110.3Q861.2 1111.0 860.7 1111.9Q860.2 1112.8 858.7 1113.3Q857.1 1113.8 855.8 1114.2Q854.6 1114.7 854.6 1114.7Q854.6 1114.7 854.4 1113.4Q854.2 1112.1 853.8 1110.5Q853.5 1108.9 854.0 1108.0Q854.6 1107.2 854.4 1105.4Q854.1 1103.6 855.2 1102.8Q856.4 1102.1 856.4 1100.5Q856.4 1098.8 859.0 1098.0Q861.5 1097.1 863.2 1097.1Q864.8 1097.2 864.8 1097.2Q864.8 1097.2 865.7 1098.6z"/>
<path fill="url(#ll0)" d="M901.3 1114.1Q901.8 1113.2 903.2 1111.9Q904.5 1110.6 905.6 1111.0Q906.7 1111.3 907.6 1110.8Q908.4 1110.3 909.6 1110.9Q910.7 1111.4 911.4 1111.3Q912.2 1111.2 913.2 1111.7Q914.2 1112.3 915.0 1112.7Q915.8 1113.1 915.8 1113.1Q915.8 1113.1 915.1 1113.8Q914.4 1114.4 913.6 1115.2Q912.8 1116.0 912.1 1116.1Q911.3 1116.1 910.4 1117.0Q909.4 1117.8 908.5 1117.5Q907.5 1117.3 906.6 1117.9Q905.6 1118.5 903.9 1117.7Q902.3 1116.8 901.6 1116.0Q900.9 1115.1 900.9 1115.1Q900.9 1115.1 901.3 1114.1z"/>
<path fill="url(#ll2)" d="M842.4 1033.4Q842.7 1034.6 842.5 1036.6Q842.3 1038.5 841.1 1038.9Q840.0 1039.2 839.6 1040.2Q839.2 1041.1 837.9 1041.3Q836.6 1041.4 836.1 1042.0Q835.5 1042.6 834.3 1042.6Q833.1 1042.7 832.1 1042.8Q831.1 1042.9 831.1 1042.9Q831.1 1042.9 831.3 1041.9Q831.4 1040.9 831.5 1039.7Q831.6 1038.5 832.1 1038.0Q832.7 1037.5 832.9 1036.2Q833.1 1034.8 834.1 1034.5Q835.0 1034.2 835.4 1033.0Q835.8 1031.9 837.8 1031.7Q839.7 1031.5 840.9 1031.9Q842.1 1032.2 842.1 1032.2Q842.1 1032.2 842.4 1033.4z"/>
<path fill="url(#ll2)" d="M887.4 1020.4Q888.1 1019.4 889.7 1018.3Q891.3 1017.2 892.2 1017.9Q893.2 1018.6 894.1 1018.2Q895.1 1017.9 896.0 1018.8Q896.9 1019.7 897.6 1019.8Q898.4 1019.8 899.2 1020.7Q900.0 1021.6 900.6 1022.3Q901.3 1023.0 901.3 1023.0Q901.3 1023.0 900.5 1023.6Q899.7 1024.1 898.7 1024.8Q897.7 1025.5 897.0 1025.4Q896.3 1025.3 895.2 1026.0Q894.1 1026.7 893.2 1026.1Q892.4 1025.6 891.3 1026.1Q890.3 1026.5 888.9 1025.1Q887.6 1023.7 887.2 1022.5Q886.7 1021.4 886.7 1021.4Q886.7 1021.4 887.4 1020.4z"/>
<path fill="url(#ll2)" d="M852.3 1046.2Q851.5 1047.3 849.8 1048.5Q848.1 1049.6 847.1 1048.8Q846.1 1048.1 845.2 1048.4Q844.2 1048.7 843.3 1047.7Q842.3 1046.6 841.6 1046.6Q840.8 1046.5 840.0 1045.5Q839.2 1044.4 838.6 1043.6Q837.9 1042.8 837.9 1042.8Q837.9 1042.8 838.8 1042.2Q839.7 1041.6 840.7 1040.9Q841.7 1040.1 842.5 1040.3Q843.2 1040.4 844.4 1039.7Q845.6 1038.9 846.5 1039.6Q847.3 1040.2 848.5 1039.7Q849.6 1039.2 850.9 1040.8Q852.2 1042.5 852.7 1043.8Q853.1 1045.0 853.1 1045.0Q853.1 1045.0 852.3 1046.2z"/>
<path fill="url(#ll3)" d="M940.9 1130.9Q942.2 1131.0 944.0 1131.8Q945.7 1132.6 945.6 1133.7Q945.4 1134.9 946.2 1135.5Q946.9 1136.1 946.5 1137.3Q946.1 1138.6 946.5 1139.2Q946.8 1139.9 946.3 1141.0Q945.9 1142.1 945.6 1143.0Q945.2 1143.9 945.2 1143.9Q945.2 1143.9 944.4 1143.5Q943.5 1143.1 942.4 1142.7Q941.2 1142.2 941.0 1141.6Q940.8 1140.9 939.6 1140.3Q938.4 1139.7 938.5 1138.8Q938.6 1137.8 937.6 1137.1Q936.7 1136.4 937.3 1134.6Q938.0 1132.8 938.8 1131.8Q939.6 1130.8 939.6 1130.8Q939.6 1130.8 940.9 1130.9z"/>
<path fill="url(#ll3)" d="M936.2 1071.3Q936.9 1069.7 938.7 1067.8Q940.4 1065.9 941.8 1066.6Q943.2 1067.3 944.3 1066.6Q945.4 1065.9 946.8 1067.0Q948.2 1068.0 949.2 1067.9Q950.1 1067.8 951.4 1068.8Q952.6 1069.9 953.6 1070.7Q954.6 1071.5 954.6 1071.5Q954.6 1071.5 953.7 1072.5Q952.8 1073.4 951.8 1074.7Q950.7 1075.9 949.7 1075.9Q948.8 1075.9 947.5 1077.1Q946.3 1078.4 945.1 1077.9Q943.9 1077.3 942.6 1078.2Q941.4 1079.1 939.3 1077.5Q937.3 1075.8 936.4 1074.3Q935.6 1072.9 935.6 1072.9Q935.6 1072.9 936.2 1071.3z"/>
<path fill="url(#ll2)" d="M950.0 1129.0Q951.4 1129.3 953.5 1130.5Q955.5 1131.7 955.4 1133.2Q955.2 1134.7 956.1 1135.6Q957.0 1136.4 956.5 1138.0Q956.1 1139.6 956.5 1140.4Q956.9 1141.3 956.4 1142.7Q955.9 1144.1 955.5 1145.2Q955.2 1146.4 955.2 1146.4Q955.2 1146.4 954.2 1145.7Q953.2 1145.1 951.9 1144.4Q950.6 1143.7 950.3 1142.8Q950.0 1141.9 948.6 1141.0Q947.3 1140.1 947.4 1138.9Q947.4 1137.6 946.3 1136.6Q945.2 1135.7 946.0 1133.4Q946.7 1131.1 947.6 1129.9Q948.5 1128.8 948.5 1128.8Q948.5 1128.8 950.0 1129.0z"/>
<path fill="url(#ll2)" d="M797.3 1069.9Q798.5 1070.4 799.9 1071.6Q801.2 1072.9 800.7 1073.9Q800.1 1074.8 800.6 1075.6Q801.1 1076.4 800.3 1077.4Q799.5 1078.3 799.6 1079.0Q799.6 1079.7 798.8 1080.5Q798.0 1081.3 797.4 1082.0Q796.8 1082.7 796.8 1082.7Q796.8 1082.7 796.1 1082.1Q795.4 1081.5 794.5 1080.7Q793.6 1079.9 793.7 1079.3Q793.7 1078.6 792.8 1077.7Q791.9 1076.8 792.3 1076.0Q792.7 1075.2 792.1 1074.3Q791.4 1073.4 792.7 1072.0Q794.0 1070.6 795.1 1070.0Q796.2 1069.4 796.2 1069.4Q796.2 1069.4 797.3 1069.9z"/>
<path fill="url(#ll1)" d="M961.2 1032.6Q962.6 1033.2 964.2 1034.7Q965.8 1036.3 965.2 1037.4Q964.5 1038.6 965.1 1039.6Q965.7 1040.5 964.8 1041.7Q963.9 1042.9 964.0 1043.7Q964.1 1044.5 963.2 1045.5Q962.3 1046.6 961.6 1047.4Q960.9 1048.3 960.9 1048.3Q960.9 1048.3 960.1 1047.5Q959.3 1046.7 958.3 1045.8Q957.3 1044.9 957.3 1044.1Q957.3 1043.3 956.3 1042.2Q955.2 1041.1 955.7 1040.1Q956.1 1039.1 955.4 1038.0Q954.6 1036.9 956.0 1035.2Q957.5 1033.5 958.7 1032.8Q959.9 1032.0 959.9 1032.0Q959.9 1032.0 961.2 1032.6z"/>
<path fill="url(#ll2)" d="M900.2 1029.7Q901.7 1029.8 904.0 1030.9Q906.2 1032.0 906.2 1033.5Q906.1 1035.0 907.1 1035.9Q908.1 1036.7 907.8 1038.4Q907.5 1040.0 908.0 1040.9Q908.5 1041.7 908.1 1043.2Q907.7 1044.7 907.5 1045.9Q907.2 1047.1 907.2 1047.1Q907.2 1047.1 906.1 1046.6Q905.0 1046.0 903.6 1045.4Q902.2 1044.8 901.8 1043.9Q901.5 1043.0 900.0 1042.2Q898.5 1041.4 898.4 1040.1Q898.4 1038.8 897.2 1037.9Q896.0 1036.9 896.5 1034.5Q897.0 1032.1 897.9 1030.8Q898.7 1029.5 898.7 1029.5Q898.7 1029.5 900.2 1029.7z"/>
<path fill="url(#ll1)" d="M864.2 1109.0Q864.6 1110.1 864.7 1112.0Q864.8 1114.0 863.7 1114.4Q862.7 1114.9 862.5 1115.8Q862.3 1116.8 861.0 1117.1Q859.8 1117.4 859.4 1118.0Q859.0 1118.6 857.8 1118.8Q856.6 1119.0 855.7 1119.2Q854.8 1119.4 854.8 1119.4Q854.8 1119.4 854.8 1118.5Q854.7 1117.5 854.6 1116.4Q854.6 1115.2 855.0 1114.7Q855.5 1114.1 855.5 1112.8Q855.5 1111.5 856.4 1111.1Q857.3 1110.7 857.4 1109.5Q857.6 1108.4 859.5 1108.0Q861.3 1107.6 862.5 1107.8Q863.7 1107.9 863.7 1107.9Q863.7 1107.9 864.2 1109.0z"/>
<path fill="url(#ll0)" d="M865.9 1038.7Q865.8 1040.2 864.8 1042.4Q863.8 1044.6 862.3 1044.8Q860.7 1044.9 859.9 1045.9Q859.2 1046.9 857.5 1046.8Q855.8 1046.7 855.0 1047.2Q854.2 1047.7 852.7 1047.5Q851.2 1047.3 850.0 1047.2Q848.7 1047.0 848.7 1047.0Q848.7 1047.0 849.3 1045.9Q849.8 1044.8 850.3 1043.4Q850.9 1042.0 851.8 1041.6Q852.7 1041.1 853.4 1039.6Q854.1 1038.2 855.4 1038.0Q856.7 1037.8 857.6 1036.6Q858.5 1035.3 860.9 1035.6Q863.3 1035.9 864.6 1036.6Q865.9 1037.2 865.9 1037.2Q865.9 1037.2 865.9 1038.7z"/>
<path fill="url(#ll2)" d="M841.7 1045.4Q841.4 1046.5 840.3 1048.1Q839.2 1049.6 838.0 1049.5Q836.8 1049.3 836.0 1049.9Q835.3 1050.6 834.0 1050.2Q832.8 1049.8 832.1 1050.1Q831.3 1050.4 830.2 1050.0Q829.1 1049.5 828.2 1049.2Q827.3 1048.9 827.3 1048.9Q827.3 1048.9 827.9 1048.2Q828.5 1047.4 829.1 1046.4Q829.8 1045.4 830.5 1045.2Q831.3 1045.1 832.1 1044.0Q832.9 1043.0 833.9 1043.1Q834.9 1043.2 835.8 1042.4Q836.7 1041.6 838.5 1042.2Q840.3 1042.8 841.2 1043.6Q842.0 1044.3 842.0 1044.3Q842.0 1044.3 841.7 1045.4z"/>
<path fill="url(#ll3)" d="M887.8 995.6Q888.7 994.8 890.4 994.1Q892.1 993.4 892.8 994.2Q893.5 995.1 894.4 995.0Q895.3 994.8 895.9 995.9Q896.5 997.0 897.2 997.2Q897.8 997.4 898.3 998.4Q898.8 999.5 899.2 1000.3Q899.7 1001.1 899.7 1001.1Q899.7 1001.1 898.8 1001.4Q898.0 1001.8 896.9 1002.3Q895.9 1002.8 895.2 1002.5Q894.6 1002.2 893.5 1002.7Q892.3 1003.1 891.7 1002.4Q891.1 1001.7 890.0 1001.9Q888.9 1002.2 888.0 1000.5Q887.2 998.9 887.1 997.7Q886.9 996.5 886.9 996.5Q886.9 996.5 887.8 995.6z"/>
<path fill="url(#ll3)" d="M889.5 1031.7Q891.0 1031.7 893.3 1032.6Q895.6 1033.4 895.8 1035.0Q896.1 1036.5 897.1 1037.2Q898.2 1037.9 898.2 1039.6Q898.2 1041.3 898.8 1042.1Q899.4 1042.9 899.3 1044.4Q899.2 1045.9 899.1 1047.2Q899.1 1048.4 899.1 1048.4Q899.1 1048.4 898.0 1047.9Q896.8 1047.5 895.4 1047.0Q893.9 1046.5 893.4 1045.7Q892.9 1044.8 891.4 1044.2Q889.8 1043.5 889.6 1042.2Q889.3 1041.0 888.0 1040.2Q886.7 1039.4 886.8 1036.9Q886.9 1034.4 887.5 1033.1Q888.0 1031.8 888.0 1031.8Q888.0 1031.8 889.5 1031.7z"/>
<path fill="url(#ll0)" d="M931.4 1054.9Q932.2 1055.3 933.2 1056.3Q934.2 1057.3 933.9 1058.2Q933.6 1059.0 934.0 1059.7Q934.4 1060.3 934.0 1061.2Q933.6 1062.1 933.7 1062.7Q933.8 1063.2 933.3 1064.0Q932.9 1064.8 932.6 1065.4Q932.2 1066.0 932.2 1066.0Q932.2 1066.0 931.7 1065.5Q931.2 1065.0 930.6 1064.4Q930.0 1063.8 929.9 1063.2Q929.9 1062.6 929.2 1061.9Q928.6 1061.2 928.8 1060.4Q928.9 1059.7 928.5 1059.0Q928.0 1058.2 928.6 1056.9Q929.3 1055.7 930.0 1055.1Q930.6 1054.6 930.6 1054.6Q930.6 1054.6 931.4 1054.9z"/>
<path fill="url(#ll0)" d="M917.5 1026.0Q918.0 1024.7 919.4 1023.1Q920.8 1021.6 921.9 1022.1Q923.0 1022.6 923.9 1022.0Q924.8 1021.5 925.9 1022.3Q927.1 1023.1 927.9 1022.9Q928.6 1022.8 929.6 1023.6Q930.6 1024.4 931.5 1025.0Q932.3 1025.7 932.3 1025.7Q932.3 1025.7 931.6 1026.4Q930.9 1027.2 930.1 1028.2Q929.3 1029.3 928.5 1029.3Q927.8 1029.3 926.8 1030.3Q925.8 1031.4 924.8 1031.0Q923.9 1030.6 922.9 1031.4Q921.9 1032.1 920.2 1030.8Q918.5 1029.6 917.8 1028.4Q917.0 1027.3 917.0 1027.3Q917.0 1027.3 917.5 1026.0z"/>
<path fill="url(#ll0)" d="M885.7 1109.0Q886.6 1107.9 888.7 1106.7Q890.8 1105.6 892.0 1106.4Q893.2 1107.3 894.4 1107.0Q895.6 1106.7 896.8 1107.8Q898.0 1108.9 898.9 1109.0Q899.8 1109.1 900.8 1110.2Q901.8 1111.3 902.6 1112.1Q903.5 1113.0 903.5 1113.0Q903.5 1113.0 902.4 1113.5Q901.4 1114.1 900.1 1114.8Q898.9 1115.6 897.9 1115.4Q897.0 1115.2 895.5 1115.9Q894.1 1116.6 893.1 1116.0Q892.0 1115.3 890.6 1115.8Q889.2 1116.2 887.5 1114.5Q885.9 1112.8 885.3 1111.4Q884.8 1110.1 884.8 1110.1Q884.8 1110.1 885.7 1109.0z"/>
<path fill="url(#ll2)" d="M886.5 1121.0Q887.8 1120.6 889.9 1120.8Q892.0 1120.9 892.4 1122.1Q892.9 1123.3 893.9 1123.6Q895.0 1123.9 895.3 1125.3Q895.6 1126.7 896.2 1127.2Q896.9 1127.7 897.1 1129.0Q897.3 1130.3 897.5 1131.3Q897.7 1132.4 897.7 1132.4Q897.7 1132.4 896.6 1132.3Q895.6 1132.2 894.3 1132.2Q893.0 1132.2 892.4 1131.6Q891.8 1131.0 890.4 1130.9Q889.0 1130.7 888.5 1129.8Q888.1 1128.8 886.8 1128.4Q885.6 1128.1 885.2 1126.1Q884.8 1124.0 885.1 1122.7Q885.3 1121.4 885.3 1121.4Q885.3 1121.4 886.5 1121.0z"/>
<path fill="url(#ll3)" d="M942.6 982.1Q944.1 982.7 946.0 984.4Q947.8 986.1 947.1 987.4Q946.4 988.7 947.1 989.8Q947.8 990.8 946.7 992.2Q945.7 993.5 945.8 994.4Q946.0 995.3 944.9 996.5Q943.9 997.7 943.1 998.6Q942.3 999.6 942.3 999.6Q942.3 999.6 941.4 998.7Q940.5 997.9 939.3 996.9Q938.1 995.9 938.1 994.9Q938.1 994.0 936.9 992.8Q935.7 991.6 936.2 990.5Q936.7 989.4 935.9 988.2Q935.0 986.9 936.6 985.0Q938.2 983.1 939.6 982.3Q941.1 981.4 941.1 981.4Q941.1 981.4 942.6 982.1z"/>
<path fill="url(#ll0)" d="M920.1 1102.3Q921.0 1102.4 922.3 1103.2Q923.6 1103.9 923.6 1104.8Q923.5 1105.7 924.0 1106.2Q924.6 1106.7 924.3 1107.7Q924.1 1108.7 924.4 1109.2Q924.6 1109.7 924.3 1110.6Q924.0 1111.5 923.8 1112.2Q923.6 1112.9 923.6 1112.9Q923.6 1112.9 923.0 1112.5Q922.4 1112.2 921.6 1111.7Q920.7 1111.3 920.6 1110.8Q920.4 1110.2 919.5 1109.7Q918.6 1109.2 918.7 1108.4Q918.7 1107.7 918.0 1107.1Q917.3 1106.5 917.7 1105.1Q918.1 1103.6 918.7 1102.9Q919.2 1102.2 919.2 1102.2Q919.2 1102.2 920.1 1102.3z"/>
<path d="M884.6 1120.2L869.4 1118.3M882.1 1074.0L876.2 1089.5M820.7 1041.3L811.8 1047.1M883.6 1096.4L902.8 1095.1M884.2 1085.2L899.9 1084.8M910.9 1025.7L913.9 1036.0M956.0 1037.7L962.1 1052.8M858.3 1035.6L853.1 1051.6M939.4 1045.9L950.1 1047.1M911.3 1129.6L916.9 1142.0M920.1 1036.1L934.6 1044.6M874.5 1154.0L859.4 1160.5M827.9 1021.4L825.4 1032.3M929.3 1061.4L942.5 1066.1M911.6 1112.2L915.6 1122.9M906.1 1136.9L908.7 1153.3M924.5 1119.8L935.6 1120.4M884.3 1121.4L880.4 1132.6M834.4 1105.4L828.9 1114.7M941.9 1140.0L954.5 1141.8M931.6 1076.3L945.4 1083.0M880.3 1032.0L896.5 1039.4M953.1 1114.9L954.7 1132.1M845.6 1029.5L835.2 1030.4M927.9 978.0L930.7 992.4M889.7 1080.3L878.3 1089.9M839.4 1026.2L827.0 1028.2M934.6 1069.8L945.6 1084.2M938.0 1136.4L951.1 1143.0M939.6 1127.1L958.0 1129.9M928.8 992.0L939.5 1001.3M860.2 1123.9L843.7 1122.0M930.8 1068.6L930.9 1082.2M958.3 1022.4L966.0 1033.5M926.4 1052.0L932.2 1066.6M908.9 1112.6L918.9 1121.9M874.4 1038.5L861.4 1045.4M892.8 1096.3L881.6 1095.2M864.8 1097.2L855.1 1113.8M900.9 1115.1L915.0 1113.2M842.1 1032.2L831.7 1042.4M886.7 1021.4L900.5 1022.9M853.1 1045.0L838.7 1042.9M939.6 1130.8L945.0 1143.3M935.6 1072.9L953.7 1071.6M948.5 1128.8L954.9 1145.5M796.2 1069.4L796.8 1082.1M959.9 1032.0L960.9 1047.5M898.7 1029.5L906.8 1046.3M863.7 1107.9L855.2 1118.9M865.9 1037.2L849.6 1046.6M842.0 1044.3L828.1 1048.7M886.9 996.5L899.0 1000.9M888.0 1031.8L898.6 1047.5M930.6 1054.6L932.1 1065.5M917.0 1027.3L931.6 1025.7M884.8 1110.1L902.5 1112.8M885.3 1121.4L897.0 1131.8M941.1 981.4L942.2 998.7M919.2 1102.2L923.4 1112.3" stroke="#c4e8a0" stroke-width=".6" opacity=".55" fill="none"/>
</g>
<path d="M881.2 984Q885.5 982.5 890 984L889.5 1003L882 1004z" fill="url(#stk)"/>
<path d="M881 1035L888 1035L887 1060L880.5 1060z" fill="url(#stk)" opacity=".85"/>
<ellipse cx="931" cy="1028" rx="13" ry="20" fill="url(#pale)"/>
<ellipse cx="870" cy="1006" rx="11" ry="8" fill="url(#pale)" opacity=".8"/>
<path d="M881 1008Q874 997 867 1000M879 1012Q871 1006 863 1013M870 998Q874 992 880 994M925 1008Q931 1016 927 1027M934 1013Q938 1024 933 1035" fill="none" stroke="#9fcb6a" stroke-width="1" stroke-linecap="round"/>
<circle cx="933" cy="1041" r="8" fill="url(#glow)"/>
<ellipse cx="929.7" cy="1080.6" rx="6.1" ry="6.1" fill="url(#tg)"/><ellipse cx="927.9" cy="1078.4" rx="1.7" ry="1.1" fill="#fff" opacity=".55" transform="rotate(-30 927.9 1078.4)"/>
<ellipse cx="939.4" cy="1097.2" rx="7.2" ry="7.8" fill="url(#tl)"/><ellipse cx="937.3" cy="1094.5" rx="2.0" ry="1.4" fill="#fff" opacity=".55" transform="rotate(-30 937.3 1094.5)"/>
<ellipse cx="903.9" cy="1087.5" rx="11.9" ry="11.1" fill="url(#tg)"/><ellipse cx="900.3" cy="1083.6" rx="3.3" ry="2.0" fill="#fff" opacity=".55" transform="rotate(-30 900.3 1083.6)"/>
<ellipse cx="887.2" cy="1098.6" rx="12.8" ry="12.2" fill="url(#tr)"/><ellipse cx="883.4" cy="1094.3" rx="3.6" ry="2.2" fill="#fff" opacity=".55" transform="rotate(-30 883.4 1094.3)"/>
<ellipse cx="858.1" cy="1122.2" rx="10.6" ry="10.0" fill="url(#tg)"/><ellipse cx="854.9" cy="1118.7" rx="3.0" ry="1.8" fill="#fff" opacity=".55" transform="rotate(-30 854.9 1118.7)"/>
<ellipse cx="888.6" cy="1129.2" rx="11.1" ry="11.7" fill="url(#to)"/><ellipse cx="885.3" cy="1125.1" rx="3.1" ry="2.1" fill="#fff" opacity=".55" transform="rotate(-30 885.3 1125.1)"/>
<ellipse cx="869.2" cy="1141.1" rx="15.3" ry="11.7" fill="url(#tl)"/><ellipse cx="864.6" cy="1137.0" rx="4.3" ry="2.1" fill="#fff" opacity=".55" transform="rotate(-30 864.6 1137.0)"/>
<ellipse cx="868.3" cy="1002.8" rx="4.2" ry="4.2" fill="url(#tl)"/><ellipse cx="867.1" cy="1001.3" rx="1.2" ry="0.8" fill="#fff" opacity=".55" transform="rotate(-30 867.1 1001.3)"/>
<ellipse cx="921.1" cy="1014.7" rx="3.3" ry="3.3" fill="url(#tl)"/><ellipse cx="920.1" cy="1013.6" rx="0.9" ry="0.6" fill="#fff" opacity=".55" transform="rotate(-30 920.1 1013.6)"/>
<path d="M890.8 1095.6L886.2 1095.5L885.3 1100.0L884.0 1095.6L879.4 1096.2L883.1 1093.5L881.2 1089.3L884.9 1092.1L888.3 1089.0L886.8 1093.3z" fill="#3d7a28" stroke="#2c5e1e" stroke-width=".5"/>
</g>
</svg>
</body></html>
